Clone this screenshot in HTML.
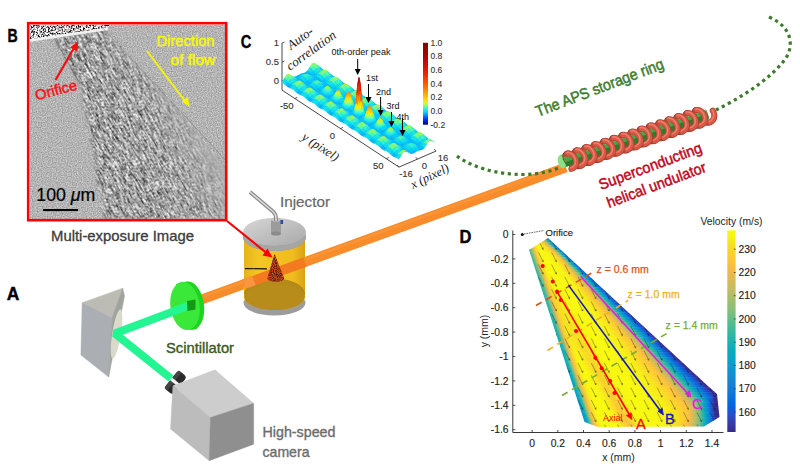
<!DOCTYPE html><html><head><meta charset="utf-8"><style>html,body{margin:0;padding:0;background:#fff;width:800px;height:470px;overflow:hidden}svg{display:block}</style></head><body>
<svg width="800" height="470" viewBox="0 0 800 470" font-family="&quot;Liberation Sans&quot;, sans-serif">
<rect width="800" height="470" fill="#fff"/>
<defs>
<filter id="gBg" color-interpolation-filters="sRGB" x="0" y="0" width="1" height="1">
<feTurbulence type="fractalNoise" baseFrequency="0.8" numOctaves="1" seed="4" result="t"/>
<feColorMatrix in="t" type="matrix" values="0.45 0 0 0 0.48  0.45 0 0 0 0.48  0.45 0 0 0 0.48  0 0 0 0 1" result="c"/>
<feComposite in="c" in2="SourceGraphic" operator="in"/>
</filter>
<filter id="gJet" color-interpolation-filters="sRGB" x="0" y="0" width="1" height="1">
<feTurbulence type="fractalNoise" baseFrequency="0.55 0.1" numOctaves="2" seed="9" result="t"/>
<feTurbulence type="fractalNoise" baseFrequency="0.5" numOctaves="2" seed="3" result="t2"/>
<feComposite in="t" in2="t2" operator="arithmetic" k1="0" k2="0.5" k3="0.5" k4="0" result="m"/>
<feColorMatrix in="m" type="matrix" values="2.1 0 0 0 -0.42  2.1 0 0 0 -0.42  2.1 0 0 0 -0.42  0 0 0 0 1" result="c"/>
<feComposite in="c" in2="SourceGraphic" operator="in"/>
</filter>
<linearGradient id="jetfade" gradientUnits="userSpaceOnUse" x1="110" y1="128" x2="200" y2="86"><stop offset="0" stop-color="#b2b2b2" stop-opacity="0"/><stop offset="0.45" stop-color="#b2b2b2" stop-opacity="0.2"/><stop offset="0.8" stop-color="#b2b2b2" stop-opacity="0.75"/><stop offset="1" stop-color="#b2b2b2" stop-opacity="0.9"/></linearGradient>
<linearGradient id="jetfadeL" gradientUnits="userSpaceOnUse" x1="70" y1="130" x2="112" y2="110"><stop offset="0" stop-color="#707070" stop-opacity="0.0"/><stop offset="1" stop-color="#707070" stop-opacity="0.0"/></linearGradient>
<filter id="gNoz" color-interpolation-filters="sRGB" x="0" y="0" width="1" height="1">
<feTurbulence type="fractalNoise" baseFrequency="0.6" numOctaves="2" seed="2" result="t"/>
<feColorMatrix in="t" type="matrix" values="3.4 0 0 0 -1.0  3.4 0 0 0 -1.0  3.4 0 0 0 -1.0  0 0 0 0 1" result="c"/>
<feComposite in="c" in2="SourceGraphic" operator="in"/>
</filter>
<filter id="blur1" color-interpolation-filters="sRGB"><feGaussianBlur stdDeviation="0.6"/></filter>
<filter id="blur2" color-interpolation-filters="sRGB"><feGaussianBlur stdDeviation="1.5"/></filter>
<clipPath id="photoclip"><rect x="30" y="25" width="195" height="194"/></clipPath>
<marker id="arrR" markerWidth="6" markerHeight="6" refX="5" refY="3" orient="auto" markerUnits="userSpaceOnUse"><path d="M0,0 L6,3 L0,6 z" fill="#f00"/></marker>
</defs>
<text x="7.6" y="41.7" font-size="17.8" font-weight="bold" fill="#000" stroke="#000" stroke-width="0.4" textLength="10.2" lengthAdjust="spacingAndGlyphs">B</text>
<g clip-path="url(#photoclip)">
<rect x="30" y="25" width="195" height="194" fill="#b0b0b0" filter="url(#gBg)"/>
<filter id="mblur" color-interpolation-filters="sRGB" x="-10%" y="-10%" width="120%" height="120%"><feGaussianBlur stdDeviation="2.2"/></filter><mask id="jetmask" maskUnits="userSpaceOnUse" x="0" y="0" width="260" height="260"><path d="M54.6,38.5 L103,29 C140,68 190,122 225,168 L225,219 L104.5,219 C95,170 88,125 80,84 Z" fill="#fff" filter="url(#mblur)"/></mask><g mask="url(#jetmask)"><g transform="rotate(-30 120 120)"><rect x="-20" y="-40" width="290" height="320" fill="#000" filter="url(#gJet)"/></g></g>
<path d="M54.6,38.5 L103,29 C140,68 190,122 225,168 L225,219 L104.5,219 C95,170 88,125 80,84 Z" fill="url(#jetfade)"/>
<path d="M30,25 L112,25 L105,28.5 L30,39.5 Z" fill="#000" filter="url(#gNoz)"/>
<path d="M30,40.5 L108,28.8" stroke="#f2f2f2" stroke-width="2.6"/>
<path d="M54.6,38.5 L80,84" stroke="#555" stroke-width="1.2" fill="none" opacity="0.5"/>
<path d="M102,27 C140,70 190,120 225,160" stroke="#777" stroke-width="0.8" fill="none" opacity="0.6"/>
</g>
<rect x="28.2" y="23.2" width="198" height="197" fill="none" stroke="#f00" stroke-width="2.6"/>
<text x="156.5" y="45.7" font-size="14" fill="#f8f800" stroke="#f8f800" stroke-width="0.45" textLength="58" lengthAdjust="spacingAndGlyphs">Direction</text>
<text x="170.6" y="65.4" font-size="14" fill="#f8f800" stroke="#f8f800" stroke-width="0.45" textLength="44.5" lengthAdjust="spacingAndGlyphs">of flow</text>
<path d="M147,51 L185,101" stroke="#f5f500" stroke-width="2"/><path d="M190,107 L181.5,101.5 L187.5,97 Z" fill="#f5f500"/>
<text x="0" y="0" font-size="14.5" fill="#f41414" stroke="#f41414" stroke-width="0.45" textLength="43" lengthAdjust="spacingAndGlyphs" transform="translate(36.5,100.5) rotate(-15)">Orifice</text>
<path d="M55.5,80 L74,48" stroke="#f01010" stroke-width="2.2"/><path d="M78,41.5 L77.5,51.5 L70,47.5 Z" fill="#f01010"/>
<text x="36.3" y="201.4" font-size="18" fill="#000" stroke="#000" stroke-width="0.2" textLength="59" lengthAdjust="spacingAndGlyphs">100 <tspan font-style="italic">μ</tspan>m</text>
<rect x="43.1" y="209" width="35" height="2.1" fill="#000"/>
<text x="51" y="241" font-size="14.3" fill="#3c3c3c" stroke="#3c3c3c" stroke-width="0.3" textLength="143" lengthAdjust="spacingAndGlyphs">Multi-exposure Image</text>
<text x="6.8" y="300.4" font-size="18" font-weight="bold" fill="#000" stroke="#000" stroke-width="0.4" textLength="12.6" lengthAdjust="spacingAndGlyphs">A</text>
<path d="M716,110 C740,98 770,80 786,58 C794,45 792,27 769,17" fill="none" stroke="#3d7a2c" stroke-width="3.2" stroke-dasharray="3.2,3.6"/>
<text x="0" y="0" font-size="15.5" fill="#3f7c2e" stroke="#3f7c2e" stroke-width="0.5" textLength="136" lengthAdjust="spacingAndGlyphs" transform="translate(538,117) rotate(-21)">The APS storage ring</text>
<path d="M193,302.6 L566,167.4" stroke="#f98c2a" stroke-width="9.8" stroke-linecap="butt"/>
<path d="M193,300.2 L566,165" stroke="#fc9c40" stroke-width="2.5" opacity="0.5"/>
<path d="M457,156 C470,166 495,175 526,174.5 C540,174 552,171 561,167" fill="none" stroke="#3d7a2c" stroke-width="3.2" stroke-dasharray="3.2,3.6"/>
<path d="M561.5,161.5 L569,159" stroke="#6cd066" stroke-width="13" stroke-linecap="butt"/>
<ellipse cx="561.5" cy="162" rx="3.5" ry="6.5" transform="rotate(-18 561.5 162)" fill="#8ee088"/>
<path d="M567.2,153.5L566.1,154.1L565.4,155.2L565.3,156.6L565.6,158.3L566.4,160L567.8,161.7L569.5,163.3L571.6,164.7L573.9,165.7L576.2,166.2L578.5,166.3L580.7,165.8M576.4,150.4L575.3,151L574.7,152.1L574.5,153.5L574.8,155.2L575.6,156.9L577,158.6L578.7,160.2L580.8,161.6L583.1,162.6L585.4,163.1L587.8,163.2L589.9,162.7M585.6,147.3L584.5,147.9L583.9,149L583.7,150.4L584,152L584.9,153.8L586.2,155.5L587.9,157.1L590,158.5L592.3,159.5L594.7,160L597,160.1L599.1,159.6M594.8,144.2L593.7,144.8L593.1,145.9L592.9,147.3L593.2,148.9L594.1,150.7L595.4,152.4L597.1,154L599.2,155.4L601.5,156.3L603.9,156.9L606.2,157L608.3,156.5M604,141.1L603,141.7L602.3,142.8L602.1,144.2L602.4,145.8L603.3,147.6L604.6,149.3L606.4,150.9L608.4,152.3L610.7,153.2L613.1,153.8L615.4,153.8L617.5,153.4M613.2,138L612.2,138.6L611.5,139.7L611.3,141.1L611.7,142.7L612.5,144.5L613.8,146.2L615.6,147.8L617.6,149.2L619.9,150.1L622.3,150.7L624.6,150.7L626.7,150.3M622.5,134.9L621.4,135.5L620.7,136.6L620.6,138L620.9,139.6L621.7,141.4L623,143.1L624.8,144.7L626.9,146.1L629.1,147L631.5,147.6L633.8,147.6L636,147.2M631.7,131.8L630.6,132.4L630,133.5L629.8,134.9L630.1,136.5L630.9,138.3L632.3,140L634,141.6L636.1,142.9L638.4,143.9L640.7,144.5L643,144.5L645.2,144.1M640.9,128.7L639.8,129.3L639.2,130.4L639,131.8L639.3,133.4L640.2,135.2L641.5,136.9L643.2,138.5L645.3,139.8L647.6,140.8L649.9,141.4L652.3,141.4L654.4,141M650.1,125.6L649,126.2L648.4,127.3L648.2,128.7L648.5,130.3L649.4,132.1L650.7,133.8L652.4,135.4L654.5,136.7L656.8,137.7L659.2,138.3L661.5,138.3L663.6,137.9M659.3,122.5L658.3,123.1L657.6,124.2L657.4,125.6L657.7,127.2L658.6,129L659.9,130.7L661.7,132.3L663.7,133.6L666,134.6L668.4,135.2L670.7,135.2L672.8,134.8M668.5,119.4L667.5,120L666.8,121.1L666.6,122.5L667,124.1L667.8,125.9L669.1,127.6L670.9,129.2L672.9,130.5L675.2,131.5L677.6,132.1L679.9,132.1L682,131.7M677.7,116.2L676.7,116.9L676,118L675.8,119.4L676.2,121L677,122.8L678.3,124.5L680.1,126.1L682.2,127.4L684.4,128.4L686.8,128.9L689.1,129L691.3,128.6M687,113.1L685.9,113.8L685.2,114.9L685.1,116.3L685.4,117.9L686.2,119.6L687.6,121.4L689.3,123L691.4,124.3L693.7,125.3L696,125.8L698.3,125.9L700.5,125.5M696.2,110L695.1,110.7L694.5,111.7L694.3,113.2L694.6,114.8L695.4,116.5L696.8,118.3L698.5,119.9L700.6,121.2L702.9,122.2L705.2,122.7L707.6,122.8L709.7,122.4" fill="none" stroke="#8a3022" stroke-width="5.8" stroke-linecap="round"/>
<path d="M567.2,153.5L566.1,154.1L565.4,155.2L565.3,156.6L565.6,158.3L566.4,160L567.8,161.7L569.5,163.3L571.6,164.7L573.9,165.7L576.2,166.2L578.5,166.3L580.7,165.8M576.4,150.4L575.3,151L574.7,152.1L574.5,153.5L574.8,155.2L575.6,156.9L577,158.6L578.7,160.2L580.8,161.6L583.1,162.6L585.4,163.1L587.8,163.2L589.9,162.7M585.6,147.3L584.5,147.9L583.9,149L583.7,150.4L584,152L584.9,153.8L586.2,155.5L587.9,157.1L590,158.5L592.3,159.5L594.7,160L597,160.1L599.1,159.6M594.8,144.2L593.7,144.8L593.1,145.9L592.9,147.3L593.2,148.9L594.1,150.7L595.4,152.4L597.1,154L599.2,155.4L601.5,156.3L603.9,156.9L606.2,157L608.3,156.5M604,141.1L603,141.7L602.3,142.8L602.1,144.2L602.4,145.8L603.3,147.6L604.6,149.3L606.4,150.9L608.4,152.3L610.7,153.2L613.1,153.8L615.4,153.8L617.5,153.4M613.2,138L612.2,138.6L611.5,139.7L611.3,141.1L611.7,142.7L612.5,144.5L613.8,146.2L615.6,147.8L617.6,149.2L619.9,150.1L622.3,150.7L624.6,150.7L626.7,150.3M622.5,134.9L621.4,135.5L620.7,136.6L620.6,138L620.9,139.6L621.7,141.4L623,143.1L624.8,144.7L626.9,146.1L629.1,147L631.5,147.6L633.8,147.6L636,147.2M631.7,131.8L630.6,132.4L630,133.5L629.8,134.9L630.1,136.5L630.9,138.3L632.3,140L634,141.6L636.1,142.9L638.4,143.9L640.7,144.5L643,144.5L645.2,144.1M640.9,128.7L639.8,129.3L639.2,130.4L639,131.8L639.3,133.4L640.2,135.2L641.5,136.9L643.2,138.5L645.3,139.8L647.6,140.8L649.9,141.4L652.3,141.4L654.4,141M650.1,125.6L649,126.2L648.4,127.3L648.2,128.7L648.5,130.3L649.4,132.1L650.7,133.8L652.4,135.4L654.5,136.7L656.8,137.7L659.2,138.3L661.5,138.3L663.6,137.9M659.3,122.5L658.3,123.1L657.6,124.2L657.4,125.6L657.7,127.2L658.6,129L659.9,130.7L661.7,132.3L663.7,133.6L666,134.6L668.4,135.2L670.7,135.2L672.8,134.8M668.5,119.4L667.5,120L666.8,121.1L666.6,122.5L667,124.1L667.8,125.9L669.1,127.6L670.9,129.2L672.9,130.5L675.2,131.5L677.6,132.1L679.9,132.1L682,131.7M677.7,116.2L676.7,116.9L676,118L675.8,119.4L676.2,121L677,122.8L678.3,124.5L680.1,126.1L682.2,127.4L684.4,128.4L686.8,128.9L689.1,129L691.3,128.6M687,113.1L685.9,113.8L685.2,114.9L685.1,116.3L685.4,117.9L686.2,119.6L687.6,121.4L689.3,123L691.4,124.3L693.7,125.3L696,125.8L698.3,125.9L700.5,125.5M696.2,110L695.1,110.7L694.5,111.7L694.3,113.2L694.6,114.8L695.4,116.5L696.8,118.3L698.5,119.9L700.6,121.2L702.9,122.2L705.2,122.7L707.6,122.8L709.7,122.4" fill="none" stroke="#c04c3a" stroke-width="4.3" stroke-linecap="round"/>
<path d="M565.1,162.6 L708,114.5" stroke="#2f7a2c" stroke-width="8.5" stroke-linecap="butt"/>
<path d="M564.1,159.8 L707,111.7" stroke="#5cc05a" stroke-width="5" opacity="0.6"/>
<path d="M571.4,168.9L573.3,168L574.7,166.7L575.7,165.1L576.1,163.2L576,161.1L575.5,159.1L574.5,157.3L573.2,155.7L571.7,154.5L570.1,153.7L568.5,153.3L567.2,153.5M580.7,165.8L582.5,164.9L583.9,163.6L584.9,161.9L585.3,160.1L585.2,158L584.7,156L583.7,154.2L582.4,152.6L580.9,151.4L579.3,150.6L577.7,150.2L576.4,150.4M589.9,162.7L591.7,161.8L593.1,160.5L594.1,158.8L594.5,156.9L594.5,154.9L593.9,152.9L592.9,151.1L591.6,149.5L590.1,148.2L588.5,147.4L587,147.1L585.6,147.3M599.1,159.6L600.9,158.7L602.3,157.4L603.3,155.7L603.7,153.8L603.7,151.8L603.1,149.8L602.1,148L600.8,146.4L599.3,145.1L597.7,144.3L596.2,144L594.8,144.2M608.3,156.5L610.1,155.6L611.6,154.3L612.5,152.6L613,150.7L612.9,148.7L612.3,146.7L611.3,144.9L610,143.3L608.5,142L606.9,141.2L605.4,140.9L604,141.1M617.5,153.4L619.4,152.5L620.8,151.2L621.7,149.5L622.2,147.6L622.1,145.6L621.5,143.6L620.6,141.8L619.3,140.2L617.7,138.9L616.1,138.1L614.6,137.8L613.2,138M626.7,150.3L628.6,149.4L630,148.1L630.9,146.4L631.4,144.5L631.3,142.5L630.8,140.5L629.8,138.7L628.5,137.1L627,135.8L625.4,135L623.8,134.7L622.5,134.9M636,147.2L637.8,146.3L639.2,145L640.2,143.3L640.6,141.4L640.5,139.4L640,137.4L639,135.6L637.7,134L636.2,132.7L634.6,131.9L633,131.6L631.7,131.8M645.2,144.1L647,143.2L648.4,141.9L649.4,140.2L649.8,138.3L649.7,136.3L649.2,134.3L648.2,132.5L646.9,130.9L645.4,129.6L643.8,128.8L642.2,128.5L640.9,128.7M654.4,141L656.2,140.1L657.6,138.8L658.6,137.1L659,135.2L659,133.2L658.4,131.2L657.4,129.4L656.1,127.8L654.6,126.5L653,125.7L651.5,125.4L650.1,125.6M663.6,137.9L665.4,137L666.9,135.7L667.8,134L668.3,132.1L668.2,130.1L667.6,128.1L666.6,126.2L665.3,124.7L663.8,123.4L662.2,122.6L660.7,122.3L659.3,122.5M672.8,134.8L674.6,133.9L676.1,132.6L677,130.9L677.5,129L677.4,127L676.8,125L675.9,123.1L674.6,121.5L673,120.3L671.4,119.5L669.9,119.2L668.5,119.4M682,131.7L683.9,130.8L685.3,129.5L686.2,127.8L686.7,125.9L686.6,123.9L686.1,121.9L685.1,120L683.8,118.4L682.3,117.2L680.7,116.4L679.1,116.1L677.7,116.2M691.3,128.6L693.1,127.7L694.5,126.4L695.5,124.7L695.9,122.8L695.8,120.8L695.3,118.8L694.3,116.9L693,115.3L691.5,114.1L689.9,113.3L688.3,113L687,113.1M700.5,125.5L702.3,124.6L703.7,123.3L704.7,121.6L705.1,119.7L705,117.7L704.5,115.7L703.5,113.8L702.2,112.2L700.7,111L699.1,110.2L697.5,109.9L696.2,110M709.7,122.4L711.5,121.5L712.9,120.1L713.9,118.5L714.3,116.6L714.3,114.6L713.7,112.6L712.7,110.7" fill="none" stroke="#b04232" stroke-width="6.0" stroke-linecap="round"/>
<path d="M571.4,168.9L573.3,168L574.7,166.7L575.7,165.1L576.1,163.2L576,161.1L575.5,159.1L574.5,157.3L573.2,155.7L571.7,154.5L570.1,153.7L568.5,153.3L567.2,153.5M580.7,165.8L582.5,164.9L583.9,163.6L584.9,161.9L585.3,160.1L585.2,158L584.7,156L583.7,154.2L582.4,152.6L580.9,151.4L579.3,150.6L577.7,150.2L576.4,150.4M589.9,162.7L591.7,161.8L593.1,160.5L594.1,158.8L594.5,156.9L594.5,154.9L593.9,152.9L592.9,151.1L591.6,149.5L590.1,148.2L588.5,147.4L587,147.1L585.6,147.3M599.1,159.6L600.9,158.7L602.3,157.4L603.3,155.7L603.7,153.8L603.7,151.8L603.1,149.8L602.1,148L600.8,146.4L599.3,145.1L597.7,144.3L596.2,144L594.8,144.2M608.3,156.5L610.1,155.6L611.6,154.3L612.5,152.6L613,150.7L612.9,148.7L612.3,146.7L611.3,144.9L610,143.3L608.5,142L606.9,141.2L605.4,140.9L604,141.1M617.5,153.4L619.4,152.5L620.8,151.2L621.7,149.5L622.2,147.6L622.1,145.6L621.5,143.6L620.6,141.8L619.3,140.2L617.7,138.9L616.1,138.1L614.6,137.8L613.2,138M626.7,150.3L628.6,149.4L630,148.1L630.9,146.4L631.4,144.5L631.3,142.5L630.8,140.5L629.8,138.7L628.5,137.1L627,135.8L625.4,135L623.8,134.7L622.5,134.9M636,147.2L637.8,146.3L639.2,145L640.2,143.3L640.6,141.4L640.5,139.4L640,137.4L639,135.6L637.7,134L636.2,132.7L634.6,131.9L633,131.6L631.7,131.8M645.2,144.1L647,143.2L648.4,141.9L649.4,140.2L649.8,138.3L649.7,136.3L649.2,134.3L648.2,132.5L646.9,130.9L645.4,129.6L643.8,128.8L642.2,128.5L640.9,128.7M654.4,141L656.2,140.1L657.6,138.8L658.6,137.1L659,135.2L659,133.2L658.4,131.2L657.4,129.4L656.1,127.8L654.6,126.5L653,125.7L651.5,125.4L650.1,125.6M663.6,137.9L665.4,137L666.9,135.7L667.8,134L668.3,132.1L668.2,130.1L667.6,128.1L666.6,126.2L665.3,124.7L663.8,123.4L662.2,122.6L660.7,122.3L659.3,122.5M672.8,134.8L674.6,133.9L676.1,132.6L677,130.9L677.5,129L677.4,127L676.8,125L675.9,123.1L674.6,121.5L673,120.3L671.4,119.5L669.9,119.2L668.5,119.4M682,131.7L683.9,130.8L685.3,129.5L686.2,127.8L686.7,125.9L686.6,123.9L686.1,121.9L685.1,120L683.8,118.4L682.3,117.2L680.7,116.4L679.1,116.1L677.7,116.2M691.3,128.6L693.1,127.7L694.5,126.4L695.5,124.7L695.9,122.8L695.8,120.8L695.3,118.8L694.3,116.9L693,115.3L691.5,114.1L689.9,113.3L688.3,113L687,113.1M700.5,125.5L702.3,124.6L703.7,123.3L704.7,121.6L705.1,119.7L705,117.7L704.5,115.7L703.5,113.8L702.2,112.2L700.7,111L699.1,110.2L697.5,109.9L696.2,110M709.7,122.4L711.5,121.5L712.9,120.1L713.9,118.5L714.3,116.6L714.3,114.6L713.7,112.6L712.7,110.7" fill="none" stroke="#d85a46" stroke-width="4.5" stroke-linecap="round"/>
<path d="M571.4,168.9L573.3,168L574.7,166.7L575.7,165.1L576.1,163.2L576,161.1L575.5,159.1L574.5,157.3L573.2,155.7L571.7,154.5L570.1,153.7L568.5,153.3L567.2,153.5M580.7,165.8L582.5,164.9L583.9,163.6L584.9,161.9L585.3,160.1L585.2,158L584.7,156L583.7,154.2L582.4,152.6L580.9,151.4L579.3,150.6L577.7,150.2L576.4,150.4M589.9,162.7L591.7,161.8L593.1,160.5L594.1,158.8L594.5,156.9L594.5,154.9L593.9,152.9L592.9,151.1L591.6,149.5L590.1,148.2L588.5,147.4L587,147.1L585.6,147.3M599.1,159.6L600.9,158.7L602.3,157.4L603.3,155.7L603.7,153.8L603.7,151.8L603.1,149.8L602.1,148L600.8,146.4L599.3,145.1L597.7,144.3L596.2,144L594.8,144.2M608.3,156.5L610.1,155.6L611.6,154.3L612.5,152.6L613,150.7L612.9,148.7L612.3,146.7L611.3,144.9L610,143.3L608.5,142L606.9,141.2L605.4,140.9L604,141.1M617.5,153.4L619.4,152.5L620.8,151.2L621.7,149.5L622.2,147.6L622.1,145.6L621.5,143.6L620.6,141.8L619.3,140.2L617.7,138.9L616.1,138.1L614.6,137.8L613.2,138M626.7,150.3L628.6,149.4L630,148.1L630.9,146.4L631.4,144.5L631.3,142.5L630.8,140.5L629.8,138.7L628.5,137.1L627,135.8L625.4,135L623.8,134.7L622.5,134.9M636,147.2L637.8,146.3L639.2,145L640.2,143.3L640.6,141.4L640.5,139.4L640,137.4L639,135.6L637.7,134L636.2,132.7L634.6,131.9L633,131.6L631.7,131.8M645.2,144.1L647,143.2L648.4,141.9L649.4,140.2L649.8,138.3L649.7,136.3L649.2,134.3L648.2,132.5L646.9,130.9L645.4,129.6L643.8,128.8L642.2,128.5L640.9,128.7M654.4,141L656.2,140.1L657.6,138.8L658.6,137.1L659,135.2L659,133.2L658.4,131.2L657.4,129.4L656.1,127.8L654.6,126.5L653,125.7L651.5,125.4L650.1,125.6M663.6,137.9L665.4,137L666.9,135.7L667.8,134L668.3,132.1L668.2,130.1L667.6,128.1L666.6,126.2L665.3,124.7L663.8,123.4L662.2,122.6L660.7,122.3L659.3,122.5M672.8,134.8L674.6,133.9L676.1,132.6L677,130.9L677.5,129L677.4,127L676.8,125L675.9,123.1L674.6,121.5L673,120.3L671.4,119.5L669.9,119.2L668.5,119.4M682,131.7L683.9,130.8L685.3,129.5L686.2,127.8L686.7,125.9L686.6,123.9L686.1,121.9L685.1,120L683.8,118.4L682.3,117.2L680.7,116.4L679.1,116.1L677.7,116.2M691.3,128.6L693.1,127.7L694.5,126.4L695.5,124.7L695.9,122.8L695.8,120.8L695.3,118.8L694.3,116.9L693,115.3L691.5,114.1L689.9,113.3L688.3,113L687,113.1M700.5,125.5L702.3,124.6L703.7,123.3L704.7,121.6L705.1,119.7L705,117.7L704.5,115.7L703.5,113.8L702.2,112.2L700.7,111L699.1,110.2L697.5,109.9L696.2,110M709.7,122.4L711.5,121.5L712.9,120.1L713.9,118.5L714.3,116.6L714.3,114.6L713.7,112.6L712.7,110.7" fill="none" stroke="#f29080" stroke-width="1.5" stroke-linecap="round" opacity="0.7" transform="translate(-0.6,-1.1)"/>
<text x="0" y="0" font-size="15" fill="#c0061c" stroke="#c0061c" stroke-width="0.45" textLength="109" lengthAdjust="spacingAndGlyphs" transform="translate(601,190) rotate(-20.5)">Superconducting</text>
<text x="0" y="0" font-size="15" fill="#c0061c" stroke="#c0061c" stroke-width="0.45" textLength="105" lengthAdjust="spacingAndGlyphs" transform="translate(609,208) rotate(-20.5)">helical undulator</text>
<text x="280" y="206.5" font-size="14.5" fill="#686868" stroke="#686868" stroke-width="0.2" textLength="50" lengthAdjust="spacingAndGlyphs">Injector</text>
<defs>
<linearGradient id="cylg" x1="0" x2="1" y1="0" y2="0"><stop offset="0" stop-color="#e6b41a"/><stop offset="0.25" stop-color="#f4c624"/><stop offset="0.8" stop-color="#f0bc1e"/><stop offset="1" stop-color="#d8a214"/></linearGradient>
<linearGradient id="lidg" x1="0" x2="1" y1="0" y2="1"><stop offset="0" stop-color="#d6d6d6"/><stop offset="1" stop-color="#a9a9a9"/></linearGradient>
<filter id="gCone" color-interpolation-filters="sRGB" x="0" y="0" width="1" height="1"><feTurbulence type="fractalNoise" baseFrequency="1.1" numOctaves="1" seed="5" result="t"/><feColorMatrix in="t" type="matrix" values="3 0 0 0 -0.9  1.2 0 0 0 -0.4  0.3 0 0 0 -0.1  0 0 0 0 1" result="c"/><feComposite in="c" in2="SourceGraphic" operator="in"/></filter>
<radialGradient id="coneg" cx="0.5" cy="0.6" r="0.6"><stop offset="0" stop-color="#c4501e"/><stop offset="1" stop-color="#8a3010"/></radialGradient>
</defs>
<ellipse cx="274.5" cy="303" rx="31.0" ry="12.5" fill="#9c9c9c"/>
<path d="M244,234 L244,297 A30.5,13 0 0 0 305,297 L305,234 Z" fill="url(#cylg)"/>
<path d="M244.5,294 A30,15 0 0 1 304.5,294 L304.5,297 A30,13 0 0 1 244.5,297 Z" fill="#b48a1a"/>
<ellipse cx="274.5" cy="297" rx="30" ry="13" fill="#b88c1a"/>
<path d="M244.5,294 A30,15 0 0 1 304.5,294" fill="none" stroke="#a87e14" stroke-width="0.8"/>
<path d="M244,284.2 L305,262.1" stroke="#f47a20" stroke-width="9.8"/>
<path d="M244,284.2 L254,280.6" stroke="#f99440" stroke-width="9.8"/>
<path d="M274.5,254 L267.3,278.5 A8.5,3.5 0 0 0 284.2,278.5 Z" fill="#983818"/>
<path d="M274.5,254 L267.3,278.5 A8.5,3.5 0 0 0 284.2,278.5 Z" fill="#000" filter="url(#gCone)" opacity="0.55"/>
<path d="M245,268.6 L267,268.9" stroke="#111" stroke-width="1.2"/>
<ellipse cx="274.5" cy="237" rx="31.5" ry="14" fill="#8e8e8e"/>
<ellipse cx="274.5" cy="232" rx="31.5" ry="14" fill="url(#lidg)"/>
<path d="M243,232 L243,237 A31.5,14 0 0 0 306,237 L306,232 A31.5,14 0 0 1 243,232 Z" fill="#a6a6a6"/>
<rect x="271" y="219.5" width="10" height="14" fill="#9c9c9c"/><ellipse cx="276" cy="233.5" rx="5" ry="2" fill="#8a8a8a"/><ellipse cx="276" cy="219.5" rx="5" ry="2" fill="#c4c4c4"/>
<rect x="280.5" y="220" width="2.6" height="4" fill="#2848b0"/>
<path d="M250,192 L273.5,212 Q276,214.5 276,218 L276,221" fill="none" stroke="#8c8c8c" stroke-width="4"/>
<path d="M250,192 L273.5,212 Q276,214.5 276,218 L276,221" fill="none" stroke="#d8d8d8" stroke-width="1.6"/>
<path d="M227,221 L266,252.5" stroke="#f00" stroke-width="2.2"/><path d="M272.5,257.5 L262.5,255.5 L267.5,248.5 Z" fill="#f00"/>
<text x="166" y="353" font-size="14" fill="#3a5a22" stroke="#3a5a22" stroke-width="0.35" textLength="68" lengthAdjust="spacingAndGlyphs">Scintillator</text>
<ellipse cx="190" cy="305.5" rx="14" ry="24.2" fill="#1ed41e" transform="rotate(-8 190 305.5)"/>
<path d="M176,284 L183,283 L197,329 L190,330 Z" fill="#1ed41e"/>
<ellipse cx="185" cy="306" rx="14.6" ry="24.2" fill="#3ae83a" transform="rotate(-8 185 306)"/>
<path d="M82.2,302.7 L122.7,288.2 L112,318 Z" fill="#bcbcb5" stroke="#bcbcb5" stroke-width="0.5"/>
<path d="M82.2,302.7 L112,318 L108.6,377 L80.9,355 Z" fill="#abaeb2" stroke="#abaeb2" stroke-width="0.5"/>
<path d="M122.7,288.2 L124.5,296 L108.6,377 L112,318 Z" fill="#a0a49e" stroke="#a0a49e" stroke-width="0.5"/>
<ellipse cx="116.5" cy="334" rx="4.3" ry="25" fill="#dadacb" transform="rotate(9 116.5 334)"/>
<path d="M190,305.2 L114.7,333.4 L171,378.5" fill="none" stroke="#22f592" stroke-width="8" stroke-linejoin="bevel"/>
<path d="M187,301 L195.5,299.5 L195.5,309.5 L187.5,311 Z" fill="#129a12"/>
<g transform="translate(175.5 382.5) rotate(-51)"><rect x="-11.5" y="-5.5" width="23" height="11" rx="3.5" fill="#2a2a2a"/><rect x="-11.5" y="-5.5" width="23" height="4" rx="2" fill="#444"/><rect x="-1.7" y="-5.9" width="3.4" height="11.8" fill="#f4f4f4"/></g>
<path d="M172.9,385.8 L215,369.8 L253.7,403.3 L210.4,417.4 Z" fill="#cdcdcd" stroke="#cdcdcd" stroke-width="0.4"/>
<path d="M172.9,385.8 L210.4,417.4 L209.2,460.7 L170.5,429 Z" fill="#bcbcbc" stroke="#bcbcbc" stroke-width="0.4"/>
<path d="M210.4,417.4 L253.7,403.3 L253.7,444.3 L209.2,460.7 Z" fill="#8f8f8f" stroke="#8f8f8f" stroke-width="0.4"/>
<text x="262.5" y="437" font-size="14.3" fill="#6c6c6c" stroke="#6c6c6c" stroke-width="0.35" textLength="73" lengthAdjust="spacingAndGlyphs">High-speed</text>
<text x="262.5" y="456.5" font-size="14.3" fill="#6c6c6c" stroke="#6c6c6c" stroke-width="0.35" textLength="47" lengthAdjust="spacingAndGlyphs">camera</text>
<text x="240.8" y="48.4" font-size="17.5" font-weight="bold" fill="#000" stroke="#000" stroke-width="0.4" textLength="10.6" lengthAdjust="spacingAndGlyphs">C</text>
<path d="M282,43 L282,90.1 L399,167.1 L436,151.1" fill="none" stroke="#333" stroke-width="0.9"/>
<path d="M282,43 l2.5,-1" stroke="#333" stroke-width="0.8"/>
<text x="279" y="46" font-size="9.5" fill="#333" stroke="#333" stroke-width="0.12" text-anchor="end">1</text>
<path d="M282,62 l2.5,-1" stroke="#333" stroke-width="0.8"/>
<text x="279" y="65" font-size="9.5" fill="#333" stroke="#333" stroke-width="0.12" text-anchor="end">0.5</text>
<path d="M282,81 l2.5,-1" stroke="#333" stroke-width="0.8"/>
<text x="279" y="84" font-size="9.5" fill="#333" stroke="#333" stroke-width="0.12" text-anchor="end">0</text>
<path d="M294.8,98.5 l2.5,-1.2" stroke="#333" stroke-width="0.8"/>
<text x="286.8" y="108.5" font-size="9.5" fill="#333" stroke="#333" stroke-width="0.12" text-anchor="middle">-50</text>
<path d="M340.5,128.6 l2.5,-1.2" stroke="#333" stroke-width="0.8"/>
<text x="332.5" y="138.6" font-size="9.5" fill="#333" stroke="#333" stroke-width="0.12" text-anchor="middle">0</text>
<path d="M386.2,158.7 l2.5,-1.2" stroke="#333" stroke-width="0.8"/>
<text x="378.2" y="168.7" font-size="9.5" fill="#333" stroke="#333" stroke-width="0.12" text-anchor="middle">50</text>
<path d="M399,167.1 l-1.8,-2" stroke="#333" stroke-width="0.8"/>
<text x="406" y="177.1" font-size="9.5" fill="#333" stroke="#333" stroke-width="0.12" text-anchor="middle">-16</text>
<path d="M417.5,159.1 l-1.8,-2" stroke="#333" stroke-width="0.8"/>
<text x="424.5" y="169.1" font-size="9.5" fill="#333" stroke="#333" stroke-width="0.12" text-anchor="middle">0</text>
<path d="M436,151.1 l-1.8,-2" stroke="#333" stroke-width="0.8"/>
<text x="443" y="161.1" font-size="9.5" fill="#333" stroke="#333" stroke-width="0.12" text-anchor="middle">16</text>
<g><path d="M316.3 64L319 66 321.2 67.5 318.5 65.7z" fill="#13d7de"/><path d="M314 62.5L316.7 64.3 318.9 66 316.2 64.3z" fill="#78f17a"/><path d="M318.1 65.4L320.9 67.2 323 69.3 320.3 68.4z" fill="#09d0ec"/><path d="M311.7 63.7L314.4 62.6 316.6 64.4 313.8 65.5z" fill="#b5f143"/><path d="M315.8 63.9L318.6 65.6 320.7 68.6 318 67.9z" fill="#46eeb1"/><path d="M320 68.1L322.7 68.9 324.9 70.8 322.1 70.7z" fill="#00b9f5"/><path d="M309.4 67.4L312.1 63.3 314.3 65.1 311.5 69.1z" fill="#7efa7d"/><path d="M313.5 65.1L316.2 63.9 318.4 67.9 315.7 69.1z" fill="#7dfa7f"/><path d="M317.7 67.4L320.4 68.1 322.5 70.8 319.8 70.7z" fill="#13dbe4"/><path d="M321.8 70.5L324.5 70.6 326.7 71.8 324 71.4z" fill="#00aef4"/><path d="M307.1 70.9L309.8 66.8 312 68.5 309.2 72.4z" fill="#17e2e4"/><path d="M311.2 68.7L313.9 64.7 316.1 68.7 313.4 71.7z" fill="#4af6b4"/><path d="M315.3 68.5L318.1 67.3 320.2 70.7 317.5 71.8z" fill="#21ead9"/><path d="M319.5 70.4L322.2 70.5 324.4 71.5 321.6 71.1z" fill="#0bd1e8"/><path d="M323.6 71.3L326.4 71.7 328.5 72.5 325.8 71.1z" fill="#00c5f1"/><path d="M304.8 72.6L307.5 70.4 309.6 71.9 306.9 74z" fill="#00bbf8"/><path d="M308.9 72.1L311.6 68.2 313.8 71.2 311.1 74z" fill="#0edaee"/><path d="M313 71.2L315.8 68.2 317.9 71.5 315.2 73.8z" fill="#15e1e7"/><path d="M317.2 71.5L319.9 70.3 322.1 71.1 319.3 72.2z" fill="#16dcdf"/><path d="M321.3 71.1L324 71.5 326.2 71.2 323.5 70z" fill="#20e0cf"/><path d="M302.4 73.2L305.2 72.4 307.3 73.7 304.6 74.4z" fill="#00b1f6"/><path d="M325.5 71L328.2 72.4 330.3 73.4 327.6 71.3z" fill="#10d3e0"/><path d="M306.6 73.7L309.3 71.7 311.5 73.6 308.7 74.7z" fill="#00baf7"/><path d="M310.7 73.6L313.5 70.8 315.6 73.4 312.9 75.4z" fill="#00cafa"/><path d="M314.9 73.5L317.6 71.2 319.7 72 317 74.5z" fill="#0cd6eb"/><path d="M319 72.3L321.7 71.1 323.9 69.9 321.2 71.1z" fill="#45e9ac"/><path d="M300.1 73.8L302.9 73 305 74.3 302.3 75z" fill="#00c1f5"/><path d="M323.1 70L325.9 71.3 328 71.6 325.3 69.7z" fill="#66eb89"/><path d="M304.3 74.3L307 73.6 309.2 74.5 306.4 74.3z" fill="#00c2f3"/><path d="M327.3 71.1L330 73.2 332.2 74.9 329.4 73.3z" fill="#12d7e0"/><path d="M308.4 74.5L311.1 73.4 313.3 75.1 310.6 75.5z" fill="#00baf6"/><path d="M312.6 75.1L315.3 73.2 317.4 74.2 314.7 76.4z" fill="#00c0f7"/><path d="M316.7 74.5L319.4 72 321.6 70.8 318.8 74.3z" fill="#22e7d3"/><path d="M297.8 75.2L300.5 73.7 302.7 74.8 300 76.5z" fill="#00c2f7"/><path d="M320.8 71.2L323.6 70 325.7 69.7 323 70.9z" fill="#9fef54"/><path d="M302 74.9L304.7 74.2 306.8 74.2 304.1 74.4z" fill="#0bd0e7"/><path d="M325 69.5L327.7 71.4 329.9 73.5 327.1 72.1z" fill="#73f180"/><path d="M306.1 74.2L308.8 74.5 311 75.5 308.3 74.3z" fill="#0cd1e6"/><path d="M329.1 72.9L331.8 74.5 334 76.6 331.3 76z" fill="#04cdf0"/><path d="M310.2 75.3L313 74.9 315.1 76.2 312.4 76.8z" fill="#00bbf5"/><path d="M314.4 76.3L317.1 74.1 319.3 73.9 316.5 77.3z" fill="#06cff2"/><path d="M295.5 76.6L298.2 75 300.4 76.2 297.7 77.9z" fill="#00b2f7"/><path d="M318.5 74.4L321.2 70.8 323.4 70.5 320.7 74.7z" fill="#6bf48c"/><path d="M299.6 76.4L302.4 74.8 304.5 74.3 301.8 76.4z" fill="#0bd2e9"/><path d="M322.7 70.7L325.4 69.6 327.5 72.1 324.8 73.3z" fill="#aff349"/><path d="M303.8 74.5L306.5 74.3 308.7 74.4 305.9 73.9z" fill="#28e6c9"/><path d="M326.8 71.6L329.5 73.1 331.7 76.2 329 75.7z" fill="#31ecc6"/><path d="M330.9 75.7L333.7 76.3 335.8 78.1 333.1 78z" fill="#00b3f5"/><path d="M307.9 74.2L310.7 75.3 312.8 76.9 310.1 76.1z" fill="#10d6e3"/><path d="M312.1 76.6L314.8 76 317 77 314.2 78.6z" fill="#00baf7"/><path d="M293.2 76.6L295.9 76.4 298.1 77.8 295.4 78.1z" fill="#00b9f5"/><path d="M316.2 77.2L318.9 73.8 321.1 74.1 318.4 78.3z" fill="#14dee5"/><path d="M297.3 77.8L300.1 76.1 302.2 76.1 299.5 78.7z" fill="#00c4f6"/><path d="M320.3 74.5L323.1 70.4 325.2 72.9 322.5 76.6z" fill="#79fa84"/><path d="M301.5 76.5L304.2 74.3 306.4 73.7 303.6 76.6z" fill="#29eacd"/><path d="M324.5 72.8L327.2 71.6 329.4 75.7 326.6 76.8z" fill="#62f699"/><path d="M328.6 75.2L331.4 75.7 333.5 78 330.8 78z" fill="#0ed6e8"/><path d="M305.6 73.8L308.3 74.3 310.5 76.2 307.8 76z" fill="#3eecb7"/><path d="M309.8 75.8L312.5 76.5 314.6 78.5 311.9 78.8z" fill="#05cef1"/><path d="M332.8 77.8L335.5 77.8 337.7 78.9 334.9 78.3z" fill="#00b1f3"/><path d="M290.9 75L293.6 76.7 295.8 78.2 293 76.7z" fill="#17dadb"/><path d="M313.9 78.3L316.6 76.7 318.8 77.8 316.1 80.1z" fill="#00bbf8"/><path d="M295 77.9L297.8 77.6 299.9 78.5 297.2 79.8z" fill="#00baf6"/><path d="M318 78.1L320.8 73.9 322.9 76 320.2 79.7z" fill="#16e2e5"/><path d="M299.2 78.6L301.9 76 304 76.1 301.3 79.6z" fill="#0cd6ec"/><path d="M322.2 76.2L324.9 72.4 327.1 76.5 324.3 79.3z" fill="#35f3c9"/><path d="M326.3 76.3L329 75.2 331.2 77.9 328.5 79.1z" fill="#1be3df"/><path d="M303.3 76.4L306 73.6 308.2 75.8 305.5 78.4z" fill="#3ff1bb"/><path d="M307.4 75.6L310.2 75.8 312.3 78.8 309.6 79.3z" fill="#19e2df"/><path d="M330.5 77.8L333.2 77.8 335.3 78.4 332.6 77.8z" fill="#0ed2e4"/><path d="M288.6 73.5L291.3 75.3 293.5 76.9 290.7 75.3z" fill="#7af178"/><path d="M311.6 78.4L314.3 78.2 316.5 79.9 313.7 80.7z" fill="#00b8f7"/><path d="M334.6 78.2L337.3 78.8 339.5 79.6 336.8 77.9z" fill="#04c9ec"/><path d="M292.7 76.4L295.4 77.9 297.6 79.8 294.9 79.4z" fill="#0dd4e8"/><path d="M315.7 79.9L318.5 77.6 320.6 79.2 317.9 81.1z" fill="#00bbf8"/><path d="M296.9 79.6L299.6 78.3 301.7 79.3 299 81.3z" fill="#00bcf7"/><path d="M319.9 79.4L322.6 75.7 324.7 78.8 322 81.3z" fill="#0ad7f2"/><path d="M324 78.8L326.7 76 328.9 78.8 326.2 81.1z" fill="#10dbeb"/><path d="M301 79.5L303.7 76 305.9 77.9 303.1 81z" fill="#11dcea"/><path d="M305.1 77.9L307.9 75.4 310 79.1 307.3 81z" fill="#1ae5e2"/><path d="M328.1 78.9L330.9 77.7 333 77.8 330.3 78.9z" fill="#1adeda"/><path d="M286.3 74.8L289 73.6 291.1 75.4 288.4 76.5z" fill="#b5f143"/><path d="M309.3 78.9L312 78.3 314.2 80.6 311.4 81.4z" fill="#01ccf7"/><path d="M332.3 77.9L335 78.4 337.2 78.1 334.4 76.6z" fill="#2fe4c0"/><path d="M290.4 74.9L293.1 76.5 295.3 79.5 292.6 78.9z" fill="#48efaf"/><path d="M313.4 80.5L316.1 79.7 318.3 80.9 315.6 81.3z" fill="#00b3f5"/><path d="M336.4 77.9L339.2 79.5 341.3 80.6 338.6 78.6z" fill="#12d5de"/><path d="M294.5 79L297.3 79.4 299.4 81.2 296.7 81.6z" fill="#00c7f6"/><path d="M317.6 80.9L320.3 79 322.4 80.9 319.7 81.8z" fill="#00baf7"/><path d="M321.7 80.9L324.4 78.4 326.6 80.7 323.8 82.6z" fill="#00c4f9"/><path d="M298.7 81.1L301.4 79.1 303.6 80.7 300.8 82.4z" fill="#00bcf8"/><path d="M302.8 80.7L305.5 77.6 307.7 80.6 305 82.7z" fill="#05d2f6"/><path d="M325.8 80.8L328.6 78.6 330.7 78.7 328 81.4z" fill="#0fd8e7"/><path d="M330 79L332.7 77.9 334.9 76.6 332.1 77.8z" fill="#5eec93"/><path d="M283.9 78.5L286.7 74.3 288.8 76.1 286.1 80.2z" fill="#7dfa7f"/><path d="M307 80.5L309.7 78.7 311.8 81.3 309.1 82.8z" fill="#01cdf8"/><path d="M288.1 76.1L290.8 74.9 293 78.9 290.2 80.1z" fill="#7dfa7f"/><path d="M311.1 81.2L313.8 80.4 316 81.2 313.3 81.9z" fill="#00c4f5"/><path d="M334.1 76.7L336.8 78.1 339 78.8 336.3 77z" fill="#71ee7f"/><path d="M292.2 78.4L295 79 297.1 81.6 294.4 81.7z" fill="#14dce3"/><path d="M315.2 81.2L318 80.8 320.1 81.7 317.4 81z" fill="#02c8f0"/><path d="M338.3 78.3L341 80.4 343.1 82.2 340.4 80.9z" fill="#10d5e3"/><path d="M319.4 81.5L322.1 80.7 324.3 82.4 321.5 82.6z" fill="#00bbf5"/><path d="M296.4 81.4L299.1 80.9 301.3 82.2 298.5 82.4z" fill="#00bdf5"/><path d="M300.5 82.2L303.2 80.4 305.4 82.4 302.7 83.1z" fill="#00bbf7"/><path d="M323.5 82.4L326.2 80.5 328.4 81.1 325.7 83.5z" fill="#00c3f7"/><path d="M327.7 81.5L330.4 78.7 332.5 77.5 329.8 81.2z" fill="#33ebc3"/><path d="M281.6 82.2L284.4 77.9 286.5 79.5 283.8 83.7z" fill="#14e0e7"/><path d="M304.6 82.3L307.4 80.2 309.5 82.5 306.8 84.1z" fill="#00baf9"/><path d="M285.8 79.8L288.5 75.7 290.7 79.7 287.9 82.8z" fill="#48f6b6"/><path d="M308.8 82.6L311.5 81 313.7 81.7 310.9 83.4z" fill="#00c5f6"/><path d="M331.8 77.9L334.5 76.7 336.7 77 334 78.2z" fill="#acef48"/><path d="M289.9 79.5L292.6 78.3 294.8 81.6 292.1 82.8z" fill="#21ead9"/><path d="M312.9 81.9L315.7 81.2 317.8 81 315.1 80.8z" fill="#14d7dd"/><path d="M335.9 76.7L338.7 78.6 340.8 81.1 338.1 79.9z" fill="#68f18c"/><path d="M317.1 80.9L319.8 81.6 322 82.7 319.2 81.2z" fill="#11d4e1"/><path d="M340.1 80.5L342.8 81.9 345 84 342.2 83.6z" fill="#00c9f5"/><path d="M294.1 81.4L296.8 81.3 298.9 82.3 296.2 82.1z" fill="#0cd2e7"/><path d="M298.2 82.2L300.9 82.1 303.1 83.1 300.4 82z" fill="#05cbec"/><path d="M321.2 82.4L323.9 82.2 326.1 83.3 323.4 84.2z" fill="#00bbf6"/><path d="M325.3 83.5L328.1 81 330.2 80.7 327.5 84.4z" fill="#09d3ee"/><path d="M302.3 82.9L305.1 82.2 307.2 83.9 304.5 84z" fill="#00b9f5"/><path d="M283.5 83.4L286.2 79.2 288.3 82.3 285.6 85.5z" fill="#09d7f3"/><path d="M306.5 83.8L309.2 82.3 311.4 83.2 308.6 85.1z" fill="#00b4f7"/><path d="M329.5 81.2L332.2 77.5 334.4 77.8 331.6 82z" fill="#77f782"/><path d="M287.6 82.3L290.3 79.2 292.5 82.5 289.8 85z" fill="#14e0e8"/><path d="M310.6 83.4L313.3 81.7 315.5 80.6 312.8 83.1z" fill="#14dadf"/><path d="M333.6 77.9L336.4 76.7 338.5 79.9 335.8 81.1z" fill="#a4f656"/><path d="M314.8 80.8L317.5 81 319.6 81.3 316.9 80.4z" fill="#46e9aa"/><path d="M337.8 79.4L340.5 80.6 342.7 83.7 339.9 83.4z" fill="#21e8d6"/><path d="M291.7 82.5L294.5 81.3 296.6 82.1 293.9 83.3z" fill="#16dcdf"/><path d="M295.9 82.1L298.6 82.3 300.8 82.1 298 81z" fill="#21e1ce"/><path d="M318.9 81L321.6 82.5 323.8 84.2 321.1 83.5z" fill="#11d7e3"/><path d="M341.9 83.3L344.6 83.6 346.8 85.2 344.1 85.1z" fill="#00aff5"/><path d="M323 83.9L325.8 83.1 327.9 84.1 325.2 85.9z" fill="#00bbf7"/><path d="M300 82L302.8 83 304.9 84.1 302.2 82.3z" fill="#13d6dd"/><path d="M304.2 83.8L306.9 83.7 309 84.9 306.3 85.4z" fill="#00b9f5"/><path d="M327.2 84.3L329.9 80.6 332.1 81.4 329.3 85.5z" fill="#16e0e4"/><path d="M285.3 85.1L288 81.9 290.2 84.5 287.4 87z" fill="#00bdfb"/><path d="M308.3 85L311 83.1 313.2 82.8 310.5 85.8z" fill="#02ccf4"/><path d="M331.3 81.7L334 77.5 336.2 80.7 333.5 84.2z" fill="#6efa8f"/><path d="M312.4 83.2L315.2 80.6 317.3 80.2 314.6 83.5z" fill="#48eeae"/><path d="M335.5 80.5L338.2 79.4 340.3 83.4 337.6 84.5z" fill="#48f3b4"/><path d="M289.4 84.7L292.2 82.2 294.3 83 291.6 85.6z" fill="#0bd5ed"/><path d="M293.6 83.3L296.3 82.1 298.5 80.9 295.7 82.1z" fill="#45e9ac"/><path d="M316.6 80.2L319.3 81.1 321.5 83.7 318.7 83.4z" fill="#48efae"/><path d="M339.6 83L342.3 83.3 344.5 85.2 341.8 85.1z" fill="#0bd3ea"/><path d="M320.7 83.2L323.5 83.8 325.6 85.8 322.9 86.3z" fill="#02ccf5"/><path d="M343.7 84.9L346.5 85.1 348.6 86 345.9 85.1z" fill="#00b6f2"/><path d="M297.7 81L300.4 82.2 302.6 82.5 299.9 80.7z" fill="#68ec88"/><path d="M301.9 82.1L304.6 83.9 306.7 85.5 304 84.2z" fill="#16dadd"/><path d="M324.9 85.7L327.6 83.8 329.7 85.1 327 87.3z" fill="#00bbf8"/><path d="M306 85.2L308.7 84.7 310.9 85.6 308.1 87.1z" fill="#00baf6"/><path d="M329 85.3L331.7 81.1 333.9 83.6 331.2 87z" fill="#14e0e8"/><path d="M310.1 85.8L312.9 82.7 315 83 312.3 86.9z" fill="#11dbe7"/><path d="M333.1 83.7L335.9 80.2 338 84.2 335.3 86.8z" fill="#23eeda"/><path d="M287.1 86.8L289.8 84.3 292 85.3 289.3 88z" fill="#00b1f8"/><path d="M291.3 85.6L294 83 296.1 81.8 293.4 85.4z" fill="#21e6d4"/><path d="M314.3 83.3L317 80 319.2 83.3 316.4 85.8z" fill="#4af4b2"/><path d="M337.3 84.1L340 82.9 342.2 85 339.4 86.2z" fill="#17dfe1"/><path d="M318.4 83L321.1 83.2 323.3 86.3 320.6 86.9z" fill="#15dee4"/><path d="M341.4 84.9L344.2 85 346.3 85.2 343.6 84.5z" fill="#13d6de"/><path d="M295.4 82.2L298.1 81 300.3 80.7 297.6 81.9z" fill="#9fef54"/><path d="M299.5 80.5L302.3 82.3 304.4 84.5 301.7 83z" fill="#75f17f"/><path d="M322.6 85.9L325.3 85.5 327.4 87.1 324.7 87.9z" fill="#00b4f6"/><path d="M345.6 85.1L348.3 85.9 350.4 86.7 347.7 84.9z" fill="#09cce7"/><path d="M303.7 83.9L306.4 85.2 308.6 87.1 305.8 87z" fill="#09d1ec"/><path d="M326.7 87.1L329.4 84.8 331.6 86.6 328.8 88.2z" fill="#00bbf8"/><path d="M307.8 86.9L310.5 85.4 312.7 86.5 310 88.5z" fill="#00bcf8"/><path d="M330.8 86.7L333.6 83.3 335.7 86.3 333 88.5z" fill="#06d3f5"/><path d="M288.9 87.9L291.7 85.1 293.8 84.9 291.1 88.6z" fill="#00cbf7"/><path d="M312 86.6L314.7 82.8 316.8 85.3 314.1 88.4z" fill="#11ddea"/><path d="M335 86.3L337.7 83.8 339.9 85.9 337.1 88.2z" fill="#0cd8ed"/><path d="M316.1 85.3L318.8 82.8 321 86.7 318.3 88.4z" fill="#15e1e7"/><path d="M339.1 86.1L341.8 84.9 344 84.4 341.3 85.6z" fill="#20e3d3"/><path d="M293.1 85.4L295.8 81.8 298 81.5 295.2 85.8z" fill="#6af48e"/><path d="M297.2 81.8L300 80.6 302.1 83.1 299.4 84.3z" fill="#aff349"/><path d="M320.2 86.5L323 85.8 325.1 87.8 322.4 88.6z" fill="#00c6f7"/><path d="M343.3 84.5L346 85.3 348.1 85.1 345.4 83.4z" fill="#43e6ab"/><path d="M301.4 82.6L304.1 84 306.3 87.1 303.5 86.7z" fill="#33ecc4"/><path d="M324.4 87.7L327.1 86.9 329.3 88 326.5 88.2z" fill="#00b7f4"/><path d="M347.4 84.8L350.1 86.6 352.3 87.9 349.5 85.9z" fill="#13d6de"/><path d="M305.5 86.6L308.2 86.7 310.4 88.4 307.7 88.9z" fill="#00c2f6"/><path d="M328.5 88L331.2 86.4 333.4 88.2 330.7 88.8z" fill="#00bbf6"/><path d="M309.6 88.3L312.4 86.2 314.5 88 311.8 89.5z" fill="#00bcf8"/><path d="M332.7 88.2L335.4 86 337.5 87.9 334.8 89.8z" fill="#00c0f9"/><path d="M328.1 88.1L328.9 88 329.5 88.2 328.7 88.2z" fill="#00b9f4" stroke="#00b9f4" stroke-width=".35"/><path d="M313.8 88L316.5 85 318.7 88.1 315.9 90z" fill="#02cff9"/><path d="M336.8 88.1L339.5 85.8 341.7 85.3 339 88.3z" fill="#14dbe1"/><path d="M290.8 88.6L293.5 84.8 295.7 85.1 292.9 89.5z" fill="#10dbe9"/><path d="M327.4 88.1L328.1 88.1 328.7 88.2 328 88.1z" fill="#00c4f2" stroke="#00c4f2" stroke-width=".35"/><path d="M294.9 85.6L297.6 81.4 299.8 83.9 297.1 87.7z" fill="#77fa85"/><path d="M317.9 88L320.7 86.3 322.8 88.4 320.1 90z" fill="#00c7f9"/><path d="M340.9 85.7L343.7 84.5 345.8 83.4 343.1 84.6z" fill="#78f07a"/><path d="M328.7 88.2L329.5 88.2 330.1 88.4 329.3 88.3z" fill="#00c1f3" stroke="#00c1f3" stroke-width=".35"/><path d="M299.1 83.8L301.8 82.6 303.9 86.7 301.2 87.9z" fill="#62f799"/><path d="M322.1 88.5L324.8 87.6 327 88.1 324.2 88.5z" fill="#02c9f1"/><path d="M345.1 83.4L347.8 85 350 86.2 347.2 84.4z" fill="#78ef79"/><path d="M326.6 88.1L327.4 88.1 328 88.1 327.2 88z" fill="#06cbea" stroke="#06cbea" stroke-width=".35"/><path d="M303.2 86.2L305.9 86.6 308.1 88.9 305.4 89z" fill="#0fd7e7"/><path d="M328 88.1L328.7 88.2 329.3 88.3 328.6 88.1z" fill="#06caec" stroke="#06caec" stroke-width=".35"/><path d="M349.2 85.7L351.9 87.6 354.1 89.6 351.4 88.5z" fill="#0dd3e7"/><path d="M329.3 88.3L330.1 88.4 330.7 88.7 329.9 88.5z" fill="#01c8f1" stroke="#01c8f1" stroke-width=".35"/><path d="M307.3 88.7L310.1 88.2 312.2 89.4 309.5 89.2z" fill="#00c0f4"/><path d="M330.3 88.6L333.1 88 335.2 89.6 332.5 89.9z" fill="#00bbf5"/><path d="M325.8 88.1L326.6 88.1 327.2 88 326.4 87.8z" fill="#0ed1e2" stroke="#0ed1e2" stroke-width=".35"/><path d="M327.2 88L328 88.1 328.6 88.1 327.8 87.8z" fill="#10d2e0" stroke="#10d2e0" stroke-width=".35"/><path d="M311.5 89.3L314.2 87.8 316.4 89.7 313.6 90.2z" fill="#00baf6"/><path d="M334.5 89.6L337.2 87.7 339.4 87.9 336.6 90.7z" fill="#00c8f7"/><path d="M328.6 88.1L329.3 88.3 329.9 88.5 329.2 88.1z" fill="#0cd0e4" stroke="#0cd0e4" stroke-width=".35"/><path d="M329.9 88.5L330.7 88.7 331.3 89 330.6 88.7z" fill="#05cbed" stroke="#05cbed" stroke-width=".35"/><path d="M325 88.2L325.8 88.1 326.4 87.8 325.6 87.8z" fill="#15d6db" stroke="#15d6db" stroke-width=".35"/><path d="M292.6 89.3L295.3 85 297.5 87.1 294.8 91z" fill="#13dfe9"/><path d="M315.6 89.7L318.3 87.8 320.5 89.7 317.8 91.3z" fill="#00b5f8"/><path d="M338.6 88.3L341.4 85.3 343.5 84.2 340.8 88.2z" fill="#48eeae"/><path d="M326.4 87.8L327.2 88 327.8 87.8 327 87.4z" fill="#1adad4" stroke="#1adad4" stroke-width=".35"/><path d="M327.8 87.8L328.6 88.1 329.2 88.1 328.4 87.6z" fill="#19d9d5" stroke="#19d9d5" stroke-width=".35"/><path d="M329.2 88.1L329.9 88.5 330.6 88.7 329.8 88.2z" fill="#12d4de" stroke="#12d4de" stroke-width=".35"/><path d="M296.7 87.3L299.5 83.4 301.6 87.5 298.9 90.4z" fill="#32f3cc"/><path d="M319.8 89.8L322.5 88.3 324.6 88.3 321.9 90.3z" fill="#02cbf3"/><path d="M342.8 84.6L345.5 83.4 347.7 84.5 344.9 85.6z" fill="#b4ef42"/><path d="M330.6 88.7L331.3 89 331.9 89.3 331.2 89z" fill="#07cdeb" stroke="#07cdeb" stroke-width=".35"/><path d="M324.3 88.4L325 88.2 325.6 87.8 324.9 88z" fill="#19dad8" stroke="#19dad8" stroke-width=".35"/><path d="M300.9 87.3L303.6 86.1 305.8 88.9 303 90.1z" fill="#1be3df"/><path d="M325.6 87.8L326.4 87.8 327 87.4 326.3 87.3z" fill="#23e2ca" stroke="#23e2ca" stroke-width=".35"/><path d="M346.9 84.1L349.6 85.9 351.8 88.7 349.1 87.7z" fill="#59f09d"/><path d="M327 87.4L327.8 87.8 328.4 87.6 327.6 87z" fill="#2de2c0" stroke="#2de2c0" stroke-width=".35"/><path d="M328.4 87.6L329.2 88.1 329.8 88.2 329 87.5z" fill="#22e0cc" stroke="#22e0cc" stroke-width=".35"/><path d="M305 88.8L307.8 88.7 309.9 89.2 307.2 88.8z" fill="#0fd4e3"/><path d="M329.8 88.2L330.6 88.7 331.2 89 330.4 88.4z" fill="#16d8db" stroke="#16d8db" stroke-width=".35"/><path d="M351 88.1L353.8 89.2 355.9 91.3 353.2 91z" fill="#00c1f5"/><path d="M323.5 88.9L324.3 88.4 324.9 88 324.1 88.5z" fill="#19dbd9" stroke="#19dbd9" stroke-width=".35"/><path d="M331.2 89L331.9 89.3 332.5 89.7 331.8 89.4z" fill="#08ceeb" stroke="#08ceeb" stroke-width=".35"/><path d="M324.9 88L325.6 87.8 326.3 87.3 325.5 87.4z" fill="#32e4bd" stroke="#32e4bd" stroke-width=".35"/><path d="M309.2 89.2L311.9 89.3 314 90.2 311.3 88.9z" fill="#09cee8"/><path d="M332.2 89.6L334.9 89.4 337.1 90.5 334.3 91.5z" fill="#00bbf6"/><path d="M326.3 87.3L327 87.4 327.6 87 326.9 86.7z" fill="#4fe69e" stroke="#4fe69e" stroke-width=".35"/><path d="M327.6 87L328.4 87.6 329 87.5 328.2 86.8z" fill="#4de6a0" stroke="#4de6a0" stroke-width=".35"/><path d="M329 87.5L329.8 88.2 330.4 88.4 329.6 87.7z" fill="#2de4c1" stroke="#2de4c1" stroke-width=".35"/><path d="M322.7 89.4L323.5 88.9 324.1 88.5 323.3 89.2z" fill="#15d9de" stroke="#15d9de" stroke-width=".35"/><path d="M313.3 90L316 89.5 318.2 91.1 315.5 91.2z" fill="#00b9f5"/><path d="M330.4 88.4L331.2 89 331.8 89.4 331 88.9z" fill="#16d9db" stroke="#16d9db" stroke-width=".35"/><path d="M336.3 90.6L339 87.8 341.2 87.7 338.5 91.6z" fill="#0dd7ea"/><path d="M331.8 89.4L332.5 89.7 333.2 90.2 332.4 90z" fill="#06cded" stroke="#06cded" stroke-width=".35"/><path d="M324.1 88.5L324.9 88 325.5 87.4 324.7 88z" fill="#32e6be" stroke="#32e6be" stroke-width=".35"/><path d="M325.5 87.4L326.3 87.3 326.9 86.7 326.1 86.8z" fill="#63ea8b" stroke="#63ea8b" stroke-width=".35"/><path d="M326.9 86.7L327.6 87 328.2 86.8 327.5 86.3z" fill="#77eb76" stroke="#77eb76" stroke-width=".35"/><path d="M294.4 90.7L297.2 86.7 299.3 89.9 296.6 92.8z" fill="#05d3f8"/><path d="M317.4 91.1L320.2 89.5 322.3 90 319.6 92.2z" fill="#00b9f6"/><path d="M340.5 88.1L343.2 84.2 345.3 85.2 342.6 89.3z" fill="#7ef97c"/><path d="M328.2 86.8L329 87.5 329.6 87.7 328.9 86.9z" fill="#62ea8c" stroke="#62ea8c" stroke-width=".35"/><path d="M322 90.1L322.7 89.4 323.3 89.2 322.6 90z" fill="#0ed5e6" stroke="#0ed5e6" stroke-width=".35"/><path d="M329.6 87.7L330.4 88.4 331 88.9 330.2 88.1z" fill="#31e6c0" stroke="#31e6c0" stroke-width=".35"/><path d="M331 88.9L331.8 89.4 332.4 90 331.6 89.5z" fill="#14d9df" stroke="#14d9df" stroke-width=".35"/><path d="M298.6 89.9L301.3 87 303.5 89.8 300.7 92.2z" fill="#0edaed"/><path d="M323.3 89.2L324.1 88.5 324.7 88 323.9 88.8z" fill="#24e6ce" stroke="#24e6ce" stroke-width=".35"/><path d="M344.6 85.3L347.3 84.1 349.5 87.7 346.8 88.9z" fill="#93f968"/><path d="M332.4 90L333.2 90.2 333.8 90.8 333 90.6z" fill="#03ccf1" stroke="#03ccf1" stroke-width=".35"/><path d="M324.7 88L325.5 87.4 326.1 86.8 325.3 87.4z" fill="#64ec8c" stroke="#64ec8c" stroke-width=".35"/><path d="M326.1 86.8L326.9 86.7 327.5 86.3 326.7 86.4z" fill="#8fed60" stroke="#8fed60" stroke-width=".35"/><path d="M302.7 89.9L305.4 88.7 307.6 88.8 304.9 90z" fill="#1adfda"/><path d="M327.5 86.3L328.2 86.8 328.9 86.9 328.1 86.3z" fill="#91ed5e" stroke="#91ed5e" stroke-width=".35"/><path d="M348.7 87.2L351.5 88.2 353.6 91.1 350.9 91z" fill="#1ae1dd"/><path d="M321.2 90.8L322 90.1 322.6 90 321.8 90.8z" fill="#07cfef" stroke="#07cfef" stroke-width=".35"/><path d="M328.9 86.9L329.6 87.7 330.2 88.1 329.5 87.4z" fill="#68ed88" stroke="#68ed88" stroke-width=".35"/><path d="M330.2 88.1L331 88.9 331.6 89.5 330.8 88.9z" fill="#28e7cb" stroke="#28e7cb" stroke-width=".35"/><path d="M322.6 90L323.3 89.2 323.9 88.8 323.2 89.8z" fill="#1be0da" stroke="#1be0da" stroke-width=".35"/><path d="M306.9 88.9L309.6 89.3 311.7 89 309 87.6z" fill="#31e4bd"/><path d="M331.6 89.5L332.4 90 333 90.6 332.2 90.3z" fill="#0fd6e5" stroke="#0fd6e5" stroke-width=".35"/><path d="M323.9 88.8L324.7 88 325.3 87.4 324.6 88.4z" fill="#51eda3" stroke="#51eda3" stroke-width=".35"/><path d="M352.9 90.7L355.6 91 357.8 92.4 355 92.2z" fill="#00adf4"/><path d="M325.3 87.4L326.1 86.8 326.7 86.4 325.9 87z" fill="#91f061" stroke="#91f061" stroke-width=".35"/><path d="M333 90.6L333.8 90.8 334.4 91.3 333.6 91.3z" fill="#00c8f6" stroke="#00c8f6" stroke-width=".35"/><path d="M326.7 86.4L327.5 86.3 328.1 86.3 327.3 86.3z" fill="#acec45" stroke="#acec45" stroke-width=".35"/><path d="M320.4 91.4L321.2 90.8 321.8 90.8 321 91.6z" fill="#00c8f6" stroke="#00c8f6" stroke-width=".35"/><path d="M311 88.8L313.7 90.1 315.9 91.3 313.1 89.5z" fill="#15d8dc"/><path d="M328.1 86.3L328.9 86.9 329.5 87.4 328.7 86.9z" fill="#98ef5a" stroke="#98ef5a" stroke-width=".35"/><path d="M334 91.3L336.7 90.2 338.9 91.2 336.2 93.2z" fill="#00bbf7"/><path d="M329.5 87.4L330.2 88.1 330.8 88.9 330.1 88.3z" fill="#5bee98" stroke="#5bee98" stroke-width=".35"/><path d="M321.8 90.8L322.6 90 323.2 89.8 322.4 90.8z" fill="#10d8e6" stroke="#10d8e6" stroke-width=".35"/><path d="M330.8 88.9L331.6 89.5 332.2 90.3 331.5 89.9z" fill="#1ee3d6" stroke="#1ee3d6" stroke-width=".35"/><path d="M323.2 89.8L323.9 88.8 324.6 88.4 323.8 89.6z" fill="#2febc7" stroke="#2febc7" stroke-width=".35"/><path d="M324.6 88.4L325.3 87.4 325.9 87 325.2 88.1z" fill="#7bf47a" stroke="#7bf47a" stroke-width=".35"/><path d="M315.1 91L317.9 90.9 320 92 317.3 92.8z" fill="#00b9f5"/><path d="M338.1 91.4L340.9 87.5 343 88.7 340.3 92.8z" fill="#17e2e3"/><path d="M332.2 90.3L333 90.6 333.6 91.3 332.8 91.1z" fill="#09d1ed" stroke="#09d1ed" stroke-width=".35"/><path d="M325.9 87L326.7 86.4 327.3 86.3 326.5 87z" fill="#aff046" stroke="#aff046" stroke-width=".35"/><path d="M333.6 91.3L334.4 91.3 335 91.9 334.2 92z" fill="#00bff6" stroke="#00bff6" stroke-width=".35"/><path d="M319.6 92L320.4 91.4 321 91.6 320.3 92.2z" fill="#00bbf7" stroke="#00bbf7" stroke-width=".35"/><path d="M327.3 86.3L328.1 86.3 328.7 86.9 327.9 86.9z" fill="#b5ef40" stroke="#b5ef40" stroke-width=".35"/><path d="M328.7 86.9L329.5 87.4 330.1 88.3 329.3 87.9z" fill="#8bf56b" stroke="#8bf56b" stroke-width=".35"/><path d="M296.3 92.5L299 89.5 301.1 91.8 298.4 94.2z" fill="#00b6fa"/><path d="M321 91.6L321.8 90.8 322.4 90.8 321.6 91.7z" fill="#06cff1" stroke="#06cff1" stroke-width=".35"/><path d="M342.3 89L345 84.9 347.2 88.5 344.4 91.8z" fill="#5ef8a0"/><path d="M330.1 88.3L330.8 88.9 331.5 89.9 330.7 89.4z" fill="#40edb5" stroke="#40edb5" stroke-width=".35"/><path d="M322.4 90.8L323.2 89.8 323.8 89.6 323 90.8z" fill="#1ae1dd" stroke="#1ae1dd" stroke-width=".35"/><path d="M323.8 89.6L324.6 88.4 325.2 88.1 324.4 89.5z" fill="#50f1a7" stroke="#50f1a7" stroke-width=".35"/><path d="M331.5 89.9L332.2 90.3 332.8 91.1 332.1 90.9z" fill="#15dce1" stroke="#15dce1" stroke-width=".35"/><path d="M300.4 92L303.1 89.6 305.3 89.7 302.6 92.5z" fill="#0ed7e9"/><path d="M325.2 88.1L325.9 87 326.5 87 325.8 88.2z" fill="#97f762" stroke="#97f762" stroke-width=".35"/><path d="M346.4 88.3L349.2 87.2 351.3 90.9 348.6 92.1z" fill="#2fefcc"/><path d="M332.8 91.1L333.6 91.3 334.2 92 333.4 91.9z" fill="#02ccf4" stroke="#02ccf4" stroke-width=".35"/><path d="M326.5 87L327.3 86.3 327.9 86.9 327.2 87.5z" fill="#b8f341" stroke="#b8f341" stroke-width=".35"/><path d="M334.2 92L335 91.9 335.6 92.4 334.8 92.6z" fill="#00b7f7" stroke="#00b7f7" stroke-width=".35"/><path d="M327.9 86.9L328.7 86.9 329.3 87.9 328.5 87.9z" fill="#a6f553" stroke="#a6f553" stroke-width=".35"/><path d="M320.3 92.2L321 91.6 321.6 91.7 320.9 92.4z" fill="#00c5f7" stroke="#00c5f7" stroke-width=".35"/><path d="M304.5 90L307.3 88.8 309.4 87.6 306.7 88.8z" fill="#5eec93"/><path d="M329.3 87.9L330.1 88.3 330.7 89.4 329.9 89.2z" fill="#68f490" stroke="#68f490" stroke-width=".35"/><path d="M321.6 91.7L322.4 90.8 323 90.8 322.2 91.8z" fill="#0cd6eb" stroke="#0cd6eb" stroke-width=".35"/><path d="M350.6 90.6L353.3 90.8 355.4 92.2 352.7 92z" fill="#0ad1eb"/><path d="M323 90.8L323.8 89.6 324.4 89.5 323.6 90.8z" fill="#23ead5" stroke="#23ead5" stroke-width=".35"/><path d="M330.7 89.4L331.5 89.9 332.1 90.9 331.3 90.7z" fill="#22e8d5" stroke="#22e8d5" stroke-width=".35"/><path d="M324.4 89.5L325.2 88.1 325.8 88.2 325 89.7z" fill="#67f693" stroke="#67f693" stroke-width=".35"/><path d="M332.1 90.9L332.8 91.1 333.4 91.9 332.7 91.9z" fill="#0bd4ec" stroke="#0bd4ec" stroke-width=".35"/><path d="M354.7 92L357.4 92.3 359.6 93.1 356.9 92z" fill="#00bdf1"/><path d="M308.7 87.6L311.4 89 313.6 89.8 310.8 88z" fill="#73ee7d"/><path d="M325.8 88.2L326.5 87 327.2 87.5 326.4 88.7z" fill="#9ef95e" stroke="#9ef95e" stroke-width=".35"/><path d="M333.4 91.9L334.2 92 334.8 92.6 334.1 92.7z" fill="#00c2f7" stroke="#00c2f7" stroke-width=".35"/><path d="M327.2 87.5L327.9 86.9 328.5 87.9 327.8 88.6z" fill="#a8f854" stroke="#a8f854" stroke-width=".35"/><path d="M334.8 92.6L335.6 92.4 336.2 93 335.4 93.2z" fill="#00b0f7" stroke="#00b0f7" stroke-width=".35"/><path d="M328.5 87.9L329.3 87.9 329.9 89.2 329.1 89.3z" fill="#82fa79" stroke="#82fa79" stroke-width=".35"/><path d="M320.9 92.4L321.6 91.7 322.2 91.8 321.5 92.7z" fill="#02ccf6" stroke="#02ccf6" stroke-width=".35"/><path d="M322.2 91.8L323 90.8 323.6 90.8 322.9 92z" fill="#12dce6" stroke="#12dce6" stroke-width=".35"/><path d="M312.8 89.3L315.5 91.1 317.7 92.8 315 91.8z" fill="#14d9e0"/><path d="M335.8 93L338.6 91 340.7 92.3 338 94.5z" fill="#00bbf8"/><path d="M329.9 89.2L330.7 89.4 331.3 90.7 330.5 90.6z" fill="#3cf0be" stroke="#3cf0be" stroke-width=".35"/><path d="M323.6 90.8L324.4 89.5 325 89.7 324.2 91.1z" fill="#30efcb" stroke="#30efcb" stroke-width=".35"/><path d="M331.3 90.7L332.1 90.9 332.7 91.9 331.9 91.8z" fill="#15dde3" stroke="#15dde3" stroke-width=".35"/><path d="M325 89.7L325.8 88.2 326.4 88.7 325.6 90.1z" fill="#6df990" stroke="#6df990" stroke-width=".35"/><path d="M332.7 91.9L333.4 91.9 334.1 92.7 333.3 92.7z" fill="#02cdf5" stroke="#02cdf5" stroke-width=".35"/><path d="M326.4 88.7L327.2 87.5 327.8 88.6 327 89.6z" fill="#90fe6f" stroke="#90fe6f" stroke-width=".35"/><path d="M317 92.6L319.7 91.8 321.8 92.6 319.1 94.4z" fill="#00bbf7"/><path d="M334.1 92.7L334.8 92.6 335.4 93.2 334.7 93.4z" fill="#00b7f7" stroke="#00b7f7" stroke-width=".35"/><path d="M340 92.5L342.7 88.4 344.9 91.3 342.1 94.3z" fill="#11deeb"/><path d="M327.8 88.6L328.5 87.9 329.1 89.3 328.4 89.9z" fill="#83fd7b" stroke="#83fd7b" stroke-width=".35"/><path d="M321.5 92.7L322.2 91.8 322.9 92 322.1 93z" fill="#05d0f4" stroke="#05d0f4" stroke-width=".35"/><path d="M329.1 89.3L329.9 89.2 330.5 90.6 329.8 90.8z" fill="#4ef4ad" stroke="#4ef4ad" stroke-width=".35"/><path d="M298.1 94L300.8 91.6 303 92.1 300.2 95.1z" fill="#00b5f8"/><path d="M322.9 92L323.6 90.8 324.2 91.1 323.5 92.3z" fill="#16e1e4" stroke="#16e1e4" stroke-width=".35"/><path d="M344.1 91.3L346.8 88 349 91.8 346.3 94.2z" fill="#1ce7e1"/><path d="M330.5 90.6L331.3 90.7 331.9 91.8 331.1 91.8z" fill="#1de6dd" stroke="#1de6dd" stroke-width=".35"/><path d="M324.2 91.1L325 89.7 325.6 90.1 324.8 91.5z" fill="#33f2c9" stroke="#33f2c9" stroke-width=".35"/><path d="M331.9 91.8L332.7 91.9 333.3 92.7 332.5 92.8z" fill="#09d3ef" stroke="#09d3ef" stroke-width=".35"/><path d="M325.6 90.1L326.4 88.7 327 89.6 326.2 90.9z" fill="#60f99f" stroke="#60f99f" stroke-width=".35"/><path d="M333.3 92.7L334.1 92.7 334.7 93.4 333.9 93.5z" fill="#00c1f7" stroke="#00c1f7" stroke-width=".35"/><path d="M302.2 92.6L305 89.7 307.1 88.5 304.4 92.3z" fill="#30ebc5"/><path d="M327 89.6L327.8 88.6 328.4 89.9 327.6 90.8z" fill="#6cfb94" stroke="#6cfb94" stroke-width=".35"/><path d="M348.3 91.7L351 90.5 353.1 92 350.4 93.1z" fill="#15dce1"/><path d="M328.4 89.9L329.1 89.3 329.8 90.8 329 91.2z" fill="#4ff6af" stroke="#4ff6af" stroke-width=".35"/><path d="M322.1 93L322.9 92 323.5 92.3 322.7 93.3z" fill="#07d3f2" stroke="#07d3f2" stroke-width=".35"/><path d="M329.8 90.8L330.5 90.6 331.1 91.8 330.4 92.1z" fill="#22ecd9" stroke="#22ecd9" stroke-width=".35"/><path d="M352.4 92L355.1 92.1 357.3 92.1 354.5 91.1z" fill="#19dad7"/><path d="M306.4 88.9L309.1 87.7 311.3 88 308.5 89.2z" fill="#acef48"/><path d="M323.5 92.3L324.2 91.1 324.8 91.5 324.1 92.7z" fill="#17e3e4" stroke="#17e3e4" stroke-width=".35"/><path d="M331.1 91.8L331.9 91.8 332.5 92.8 331.7 92.9z" fill="#0fd9ea" stroke="#0fd9ea" stroke-width=".35"/><path d="M324.8 91.5L325.6 90.1 326.2 90.9 325.5 92.2z" fill="#2af2d4" stroke="#2af2d4" stroke-width=".35"/><path d="M332.5 92.8L333.3 92.7 333.9 93.5 333.1 93.6z" fill="#00cbf8" stroke="#00cbf8" stroke-width=".35"/><path d="M326.2 90.9L327 89.6 327.6 90.8 326.8 91.9z" fill="#43f6bd" stroke="#43f6bd" stroke-width=".35"/><path d="M310.5 87.7L313.2 89.5 315.4 92 312.7 90.9z" fill="#6af18b"/><path d="M333.5 93.4L336.2 92.8 338.4 94.3 335.7 95z" fill="#00b2f6"/><path d="M356.5 91.9L359.3 93 361.4 93.8 358.7 91.9z" fill="#0dd0e3"/><path d="M327.6 90.8L328.4 89.9 329 91.2 328.2 92z" fill="#3df5c2" stroke="#3df5c2" stroke-width=".35"/><path d="M329 91.2L329.8 90.8 330.4 92.1 329.6 92.5z" fill="#22eddb" stroke="#22eddb" stroke-width=".35"/><path d="M322.7 93.3L323.5 92.3 324.1 92.7 323.3 93.7z" fill="#08d4f2" stroke="#08d4f2" stroke-width=".35"/><path d="M330.4 92.1L331.1 91.8 331.7 92.9 331 93.2z" fill="#12dde8" stroke="#12dde8" stroke-width=".35"/><path d="M324.1 92.7L324.8 91.5 325.5 92.2 324.7 93.3z" fill="#15e1e7" stroke="#15e1e7" stroke-width=".35"/><path d="M314.6 91.5L317.4 92.5 319.5 94.4 316.8 94.5z" fill="#05cef0"/><path d="M331.7 92.9L332.5 92.8 333.1 93.6 332.4 93.8z" fill="#04cff4" stroke="#04cff4" stroke-width=".35"/><path d="M337.7 94.3L340.4 92.1 342.5 93.9 339.8 95.2z" fill="#00bbf7"/><path d="M325.5 92.2L326.2 90.9 326.8 91.9 326.1 93z" fill="#20ecdf" stroke="#20ecdf" stroke-width=".35"/><path d="M326.8 91.9L327.6 90.8 328.2 92 327.4 92.9z" fill="#23efdc" stroke="#23efdc" stroke-width=".35"/><path d="M318.8 94.2L321.5 92.4 323.7 93.7 320.9 95.8z" fill="#00bdf8"/><path d="M341.8 94L344.5 90.9 346.7 93.8 344 95.8z" fill="#02cff9"/><path d="M328.2 92L329 91.2 329.6 92.5 328.8 93.1z" fill="#1eeae0" stroke="#1eeae0" stroke-width=".35"/><path d="M329.6 92.5L330.4 92.1 331 93.2 330.2 93.6z" fill="#12dee9" stroke="#12dee9" stroke-width=".35"/><path d="M323.3 93.7L324.1 92.7 324.7 93.3 323.9 94.2z" fill="#07d3f4" stroke="#07d3f4" stroke-width=".35"/><path d="M331 93.2L331.7 92.9 332.4 93.8 331.6 94.1z" fill="#07d2f3" stroke="#07d2f3" stroke-width=".35"/><path d="M299.9 95L302.6 92.1 304.8 91.8 302.1 95.7z" fill="#05cff3"/><path d="M324.7 93.3L325.5 92.2 326.1 93 325.3 93.9z" fill="#10dded" stroke="#10dded" stroke-width=".35"/><path d="M345.9 93.8L348.7 91.4 350.8 92.8 348.1 95.2z" fill="#0bd6ed"/><path d="M326.1 93L326.8 91.9 327.4 92.9 326.7 93.8z" fill="#16e3e8" stroke="#16e3e8" stroke-width=".35"/><path d="M327.4 92.9L328.2 92 328.8 93.1 328 93.9z" fill="#15e2e8" stroke="#15e2e8" stroke-width=".35"/><path d="M350.1 93.1L352.8 91.9 355 91 352.2 92.2z" fill="#2de7c5"/><path d="M304.1 92.3L306.8 88.5 308.9 88.8 306.2 93z" fill="#76f784"/><path d="M328.8 93.1L329.6 92.5 330.2 93.6 329.4 94.1z" fill="#0fdced" stroke="#0fdced" stroke-width=".35"/><path d="M330.2 93.6L331 93.2 331.6 94.1 330.8 94.5z" fill="#07d3f4" stroke="#07d3f4" stroke-width=".35"/><path d="M323.9 94.2L324.7 93.3 325.3 93.9 324.5 94.8z" fill="#03d1f7" stroke="#03d1f7" stroke-width=".35"/><path d="M308.2 88.9L310.9 87.7 313.1 90.9 310.4 92.1z" fill="#a4f656"/><path d="M331.2 94L333.9 93.3 336.1 94.9 333.4 95.7z" fill="#00c3f6"/><path d="M354.2 91.1L356.9 92.1 359.1 92.1 356.4 90.3z" fill="#56e998"/><path d="M325.3 93.9L326.1 93 326.7 93.8 325.9 94.6z" fill="#09d7f3" stroke="#09d7f3" stroke-width=".35"/><path d="M326.7 93.8L327.4 92.9 328 93.9 327.3 94.6z" fill="#0bd9f1" stroke="#0bd9f1" stroke-width=".35"/><path d="M328 93.9L328.8 93.1 329.4 94.1 328.7 94.7z" fill="#09d7f3" stroke="#09d7f3" stroke-width=".35"/><path d="M312.3 90.4L315.1 91.5 317.2 94.6 314.5 94.4z" fill="#22e9d5"/><path d="M329.4 94.1L330.2 93.6 330.8 94.5 330 94.9z" fill="#04d1f6" stroke="#04d1f6" stroke-width=".35"/><path d="M335.3 94.9L338.1 94.1 340.2 95.1 337.5 94.7z" fill="#00bff3"/><path d="M358.4 91.7L361.1 93.7 363.2 95.2 360.5 93.4z" fill="#13d7de"/><path d="M324.5 94.8L325.3 93.9 325.9 94.6 325.1 95.3z" fill="#00ccfa" stroke="#00ccfa" stroke-width=".35"/><path d="M316.5 94.2L319.2 94 321.4 95.6 318.6 96z" fill="#00bef6"/><path d="M339.5 95L342.2 93.7 344.4 95.6 341.6 95.9z" fill="#00bcf6"/><path d="M325.9 94.6L326.7 93.8 327.3 94.6 326.5 95.3z" fill="#02d0f9" stroke="#02d0f9" stroke-width=".35"/><path d="M327.3 94.6L328 93.9 328.7 94.7 327.9 95.4z" fill="#02d0f9" stroke="#02d0f9" stroke-width=".35"/><path d="M328.7 94.7L329.4 94.1 330 94.9 329.3 95.5z" fill="#00cefa" stroke="#00cefa" stroke-width=".35"/><path d="M320.6 95.5L323.3 93.5 325.5 95.3 322.8 96.6z" fill="#00bdf8"/><path d="M343.6 95.5L346.4 93.5 348.5 94.9 345.8 96.9z" fill="#00bff8"/><path d="M339.1 95.1L339.9 95 340.5 95.3 339.7 95.1z" fill="#00c1f2" stroke="#00c1f2" stroke-width=".35"/><path d="M325.1 95.3L325.9 94.6 326.5 95.3 325.7 95.9z" fill="#00c2fa" stroke="#00c2fa" stroke-width=".35"/><path d="M347.8 95.2L350.5 92.8 352.7 91.9 349.9 95.1z" fill="#1be0db"/><path d="M301.7 95.6L304.5 91.7 306.6 92.4 303.9 96.8z" fill="#13dde7"/><path d="M326.5 95.3L327.3 94.6 327.9 95.4 327.1 95.9z" fill="#00c4fa" stroke="#00c4fa" stroke-width=".35"/><path d="M327.9 95.4L328.7 94.7 329.3 95.5 328.5 96z" fill="#00c3fa" stroke="#00c3fa" stroke-width=".35"/><path d="M305.9 92.8L308.6 88.5 310.8 91.7 308 95.3z" fill="#6cf992"/><path d="M328.9 95.5L331.6 93.8 333.8 95.5 331.1 97.1z" fill="#00c4f8"/><path d="M338.3 94.9L339.1 95.1 339.7 95.1 338.9 94.8z" fill="#06caea" stroke="#06caea" stroke-width=".35"/><path d="M351.9 92.3L354.6 91.1 356.8 90.3 354.1 91.5z" fill="#8ef164"/><path d="M339.7 95.1L340.5 95.3 341.1 95.5 340.3 95.2z" fill="#02c8ef" stroke="#02c8ef" stroke-width=".35"/><path d="M325.7 95.9L326.5 95.3 327.1 95.9 326.3 96.4z" fill="#00b9f9" stroke="#00b9f9" stroke-width=".35"/><path d="M310 91.5L312.8 90.3 314.9 94.3 312.2 95.5z" fill="#48f3b4"/><path d="M327.1 95.9L327.9 95.4 328.5 96 327.7 96.5z" fill="#00b9f9" stroke="#00b9f9" stroke-width=".35"/><path d="M333 95.6L335.8 94.8 337.9 94.7 335.2 94.5z" fill="#0cd0e5"/><path d="M356 90.2L358.8 92 360.9 93.7 358.2 92z" fill="#78f17a"/><path d="M337.5 94.7L338.3 94.9 338.9 94.8 338.2 94.3z" fill="#12d2dc" stroke="#12d2dc" stroke-width=".35"/><path d="M314.2 94L316.9 94.2 319 96 316.3 96.1z" fill="#0cd4e9"/><path d="M338.9 94.8L339.7 95.1 340.3 95.2 339.5 94.6z" fill="#0ed0e0" stroke="#0ed0e0" stroke-width=".35"/><path d="M360.2 93.1L362.9 94.9 365.1 97 362.3 96.1z" fill="#09d0ec"/><path d="M340.3 95.2L341.1 95.5 341.7 95.7 340.9 95.3z" fill="#07cbea" stroke="#07cbea" stroke-width=".35"/><path d="M326.3 96.4L327.1 95.9 327.7 96.5 327 97z" fill="#00b1f8" stroke="#00b1f8" stroke-width=".35"/><path d="M318.3 95.9L321 95.4 323.2 96.5 320.5 96.1z" fill="#00c5f3"/><path d="M341.3 95.6L344 95.3 346.2 96.8 343.5 97.1z" fill="#00bdf5"/><path d="M336.8 94.5L337.5 94.7 338.2 94.3 337.4 93.8z" fill="#1fdccd" stroke="#1fdccd" stroke-width=".35"/><path d="M338.2 94.3L338.9 94.8 339.5 94.6 338.8 93.8z" fill="#1fdccd" stroke="#1fdccd" stroke-width=".35"/><path d="M339.5 94.6L340.3 95.2 340.9 95.3 340.1 94.6z" fill="#16d6d8" stroke="#16d6d8" stroke-width=".35"/><path d="M345.5 96.8L348.2 94.8 350.3 94.7 347.6 97.8z" fill="#02ccf5"/><path d="M322.4 96.4L325.2 95.1 327.3 97 324.6 97.4z" fill="#00baf6"/><path d="M340.9 95.3L341.7 95.7 342.3 96 341.5 95.6z" fill="#0acee7" stroke="#0acee7" stroke-width=".35"/><path d="M349.6 95.2L352.3 91.9 354.5 91.1 351.8 95.2z" fill="#5bf19c"/><path d="M303.6 96.5L306.3 92.2 308.5 94.7 305.7 98.4z" fill="#11ddec"/><path d="M326.6 97L329.3 95.2 331.5 96.8 328.7 98.5z" fill="#00b3f8"/><path d="M336 94.4L336.8 94.5 337.4 93.8 336.6 93.4z" fill="#37e1b4" stroke="#37e1b4" stroke-width=".35"/><path d="M337.4 93.8L338.2 94.3 338.8 93.8 338 93z" fill="#48e2a1" stroke="#48e2a1" stroke-width=".35"/><path d="M338.8 93.8L339.5 94.6 340.1 94.6 339.4 93.5z" fill="#38e1b2" stroke="#38e1b2" stroke-width=".35"/><path d="M307.7 94.8L310.4 91.2 312.6 95.2 309.9 97.9z" fill="#22eedb"/><path d="M330.7 97L333.5 95.4 335.6 94.3 332.9 96.8z" fill="#0cd2e8"/><path d="M353.7 91.4L356.5 90.3 358.6 92.1 355.9 93.2z" fill="#b5f143"/><path d="M340.1 94.6L340.9 95.3 341.5 95.6 340.8 94.7z" fill="#1cdbd2" stroke="#1cdbd2" stroke-width=".35"/><path d="M341.5 95.6L342.3 96 342.9 96.4 342.1 96z" fill="#0bd0e6" stroke="#0bd0e6" stroke-width=".35"/><path d="M335.2 94.5L336 94.4 336.6 93.4 335.8 93.5z" fill="#4ae4a1" stroke="#4ae4a1" stroke-width=".35"/><path d="M311.9 95.1L314.6 93.9 316.7 96 314 97.2z" fill="#17dfe1"/><path d="M336.6 93.4L337.4 93.8 338 93 337.2 92.3z" fill="#75e673" stroke="#75e673" stroke-width=".35"/><path d="M357.9 91.6L360.6 93.3 362.8 96.3 360 95.6z" fill="#46eeb1"/><path d="M338 93L338.8 93.8 339.4 93.5 338.6 92.3z" fill="#78e66f" stroke="#78e66f" stroke-width=".35"/><path d="M339.4 93.5L340.1 94.6 340.8 94.7 340 93.4z" fill="#51e49a" stroke="#51e49a" stroke-width=".35"/><path d="M316 95.9L318.7 95.9 320.9 96.1 318.1 95.5z" fill="#14d7dd"/><path d="M362 95.8L364.7 96.6 366.9 98.5 364.2 98.4z" fill="#00b9f5"/><path d="M340.8 94.7L341.5 95.6 342.1 96 341.4 95.1z" fill="#1eded1" stroke="#1eded1" stroke-width=".35"/><path d="M342.1 96L342.9 96.4 343.5 96.9 342.7 96.5z" fill="#0ad0e9" stroke="#0ad0e9" stroke-width=".35"/><path d="M334.5 95L335.2 94.5 335.8 93.5 335.1 94.1z" fill="#4be7a3" stroke="#4be7a3" stroke-width=".35"/><path d="M335.8 93.5L336.6 93.4 337.2 92.3 336.5 92.3z" fill="#8fe759" stroke="#8fe759" stroke-width=".35"/><path d="M337.2 92.3L338 93 338.6 92.3 337.8 91.3z" fill="#ade039" stroke="#ade039" stroke-width=".35"/><path d="M343.1 96.8L345.9 96.5 348 97.6 345.3 98.9z" fill="#00bcf6"/><path d="M320.1 96L322.9 96.4 325 97.4 322.3 95.8z" fill="#0dd1e4"/><path d="M338.6 92.3L339.4 93.5 340 93.4 339.2 92z" fill="#99e44f" stroke="#99e44f" stroke-width=".35"/><path d="M340 93.4L340.8 94.7 341.4 95.1 340.6 93.8z" fill="#5be792" stroke="#5be792" stroke-width=".35"/><path d="M341.4 95.1L342.1 96 342.7 96.5 342 95.8z" fill="#1cded5" stroke="#1cded5" stroke-width=".35"/><path d="M347.3 97.7L350 94.7 352.2 94.7 349.4 98.8z" fill="#11dae7"/><path d="M324.3 97.2L327 96.8 329.2 98.3 326.4 98.5z" fill="#00b9f5"/><path d="M333.7 95.8L334.5 95 335.1 94.1 334.3 95.1z" fill="#38e7b8" stroke="#38e7b8" stroke-width=".35"/><path d="M335.1 94.1L335.8 93.5 336.5 92.3 335.7 93z" fill="#92ea5b" stroke="#92ea5b" stroke-width=".35"/><path d="M342.7 96.5L343.5 96.9 344.1 97.5 343.4 97.2z" fill="#07ceed" stroke="#07ceed" stroke-width=".35"/><path d="M336.5 92.3L337.2 92.3 337.8 91.3 337.1 91.2z" fill="#d0de19" stroke="#d0de19" stroke-width=".35"/><path d="M305.4 98.1L308.1 94.3 310.3 97.4 307.6 100.2z" fill="#00cffc"/><path d="M328.4 98.3L331.1 96.7 333.3 96.5 330.6 99.3z" fill="#00c2f6"/><path d="M351.4 95.1L354.2 91 356.3 92.8 353.6 96.8z" fill="#7efa7d"/><path d="M337.8 91.3L338.6 92.3 339.2 92 338.4 90.9z" fill="#d3da16" stroke="#d3da16" stroke-width=".35"/><path d="M339.2 92L340 93.4 340.6 93.8 339.8 92.4z" fill="#a8e644" stroke="#a8e644" stroke-width=".35"/><path d="M340.6 93.8L341.4 95.1 342 95.8 341.2 94.7z" fill="#52e99d" stroke="#52e99d" stroke-width=".35"/><path d="M332.9 96.7L333.7 95.8 334.3 95.1 333.5 96.3z" fill="#20e3d4" stroke="#20e3d4" stroke-width=".35"/><path d="M309.5 97.5L312.3 94.8 314.4 96.9 311.7 99.3z" fill="#0bd7ef"/><path d="M334.3 95.1L335.1 94.1 335.7 93 334.9 94.3z" fill="#7aef77" stroke="#7aef77" stroke-width=".35"/><path d="M355.6 92.8L358.3 91.6 360.4 95.6 357.7 96.7z" fill="#7dfa7f"/><path d="M342 95.8L342.7 96.5 343.4 97.2 342.6 96.6z" fill="#17dbdc" stroke="#17dbdc" stroke-width=".35"/><path d="M335.7 93L336.5 92.3 337.1 91.2 336.3 92z" fill="#d5e219" stroke="#d5e219" stroke-width=".35"/><path d="M343.4 97.2L344.1 97.5 344.7 98.1 344 97.9z" fill="#02cbf3" stroke="#02cbf3" stroke-width=".35"/><path d="M337.1 91.2L337.8 91.3 338.4 90.9 337.7 90.7z" fill="#dfd00e" stroke="#dfd00e" stroke-width=".35"/><path d="M313.7 97.1L316.4 95.9 318.6 95.4 315.8 96.6z" fill="#20e3d3"/><path d="M359.7 95.1L362.4 95.8 364.6 98.5 361.9 98.4z" fill="#13dbe4"/><path d="M338.4 90.9L339.2 92 339.8 92.4 339.1 91.3z" fill="#dbd913" stroke="#dbd913" stroke-width=".35"/><path d="M339.8 92.4L340.6 93.8 341.2 94.7 340.4 93.5z" fill="#9eec51" stroke="#9eec51" stroke-width=".35"/><path d="M332.2 97.6L332.9 96.7 333.5 96.3 332.8 97.5z" fill="#13d9e3" stroke="#13d9e3" stroke-width=".35"/><path d="M333.5 96.3L334.3 95.1 334.9 94.3 334.1 95.8z" fill="#4ceda9" stroke="#4ceda9" stroke-width=".35"/><path d="M341.2 94.7L342 95.8 342.6 96.6 341.8 95.8z" fill="#3ae9b9" stroke="#3ae9b9" stroke-width=".35"/><path d="M334.9 94.3L335.7 93 336.3 92 335.5 93.6z" fill="#b7ec3c" stroke="#b7ec3c" stroke-width=".35"/><path d="M342.6 96.6L343.4 97.2 344 97.9 343.2 97.6z" fill="#0fd6e6" stroke="#0fd6e6" stroke-width=".35"/><path d="M363.8 98.1L366.6 98.3 368.7 99.5 366 99.1z" fill="#00aef4"/><path d="M317.8 95.5L320.5 96.2 322.7 96 320 94.4z" fill="#46e7a9"/><path d="M344 97.9L344.7 98.1 345.3 98.6 344.6 98.7z" fill="#00c4f6" stroke="#00c4f6" stroke-width=".35"/><path d="M336.3 92L337.1 91.2 337.7 90.7 336.9 91.6z" fill="#e5d50e" stroke="#e5d50e" stroke-width=".35"/><path d="M337.7 90.7L338.4 90.9 339.1 91.3 338.3 91.1z" fill="#e9cf0a" stroke="#e9cf0a" stroke-width=".35"/><path d="M339.1 91.3L339.8 92.4 340.4 93.5 339.7 92.5z" fill="#dde417" stroke="#dde417" stroke-width=".35"/><path d="M345 98.6L347.7 97.3 349.9 98.3 347.1 100.5z" fill="#00bbf8"/><path d="M322 95.7L324.7 97.3 326.8 98.6 324.1 96.9z" fill="#17d9db"/><path d="M331.4 98.4L332.2 97.6 332.8 97.5 332 98.5z" fill="#06d0f0" stroke="#06d0f0" stroke-width=".35"/><path d="M332.8 97.5L333.5 96.3 334.1 95.8 333.4 97.3z" fill="#20e6d7" stroke="#20e6d7" stroke-width=".35"/><path d="M340.4 93.5L341.2 94.7 341.8 95.8 341 95z" fill="#7ef375" stroke="#7ef375" stroke-width=".35"/><path d="M334.1 95.8L334.9 94.3 335.5 93.6 334.8 95.5z" fill="#80f677" stroke="#80f677" stroke-width=".35"/><path d="M341.8 95.8L342.6 96.6 343.2 97.6 342.4 97.1z" fill="#20e5d5" stroke="#20e5d5" stroke-width=".35"/><path d="M343.2 97.6L344 97.9 344.6 98.7 343.8 98.5z" fill="#06cff0" stroke="#06cff0" stroke-width=".35"/><path d="M326.1 98.3L328.8 98.1 331 99.1 328.3 100.1z" fill="#00baf6"/><path d="M349.1 98.6L351.8 94.5 354 96.2 351.3 100.1z" fill="#17e2e4"/><path d="M335.5 93.6L336.3 92 336.9 91.6 336.1 93.3z" fill="#e1e817" stroke="#e1e817" stroke-width=".35"/><path d="M336.9 91.6L337.7 90.7 338.3 91.1 337.5 92z" fill="#efd40a" stroke="#efd40a" stroke-width=".35"/><path d="M338.3 91.1L339.1 91.3 339.7 92.5 338.9 92.4z" fill="#ebdb0e" stroke="#ebdb0e" stroke-width=".35"/><path d="M330.6 99L331.4 98.4 332 98.5 331.2 99.3z" fill="#00c4f7" stroke="#00c4f7" stroke-width=".35"/><path d="M307.2 99.8L310 97.1 312.1 98.9 309.4 101.4z" fill="#00b2f9"/><path d="M332 98.5L332.8 97.5 333.4 97.3 332.6 98.5z" fill="#0fd8e9" stroke="#0fd8e9" stroke-width=".35"/><path d="M353.3 96.4L356 92.4 358.1 96.4 355.4 99.4z" fill="#4af6b4"/><path d="M339.7 92.5L340.4 93.5 341 95 340.3 94.3z" fill="#baf03d" stroke="#baf03d" stroke-width=".35"/><path d="M333.4 97.3L334.1 95.8 334.8 95.5 334 97.2z" fill="#3befbd" stroke="#3befbd" stroke-width=".35"/><path d="M341 95L341.8 95.8 342.4 97.1 341.7 96.6z" fill="#4cefab" stroke="#4cefab" stroke-width=".35"/><path d="M342.4 97.1L343.2 97.6 343.8 98.5 343 98.3z" fill="#13dae4" stroke="#13dae4" stroke-width=".35"/><path d="M334.8 95.5L335.5 93.6 336.1 93.3 335.4 95.4z" fill="#a6f755" stroke="#a6f755" stroke-width=".35"/><path d="M311.4 99.2L314.1 96.8 316.3 96.3 313.5 99.4z" fill="#13dae3"/><path d="M357.4 96.2L360.1 95 362.3 98.4 359.5 99.5z" fill="#21ead9"/><path d="M336.1 93.3L336.9 91.6 337.5 92 336.7 93.7z" fill="#eae814" stroke="#eae814" stroke-width=".35"/><path d="M337.5 92L338.3 91.1 338.9 92.4 338.1 93.2z" fill="#f0e00f" stroke="#f0e00f" stroke-width=".35"/><path d="M331.2 99.3L332 98.5 332.6 98.5 331.8 99.5z" fill="#02cdf5" stroke="#02cdf5" stroke-width=".35"/><path d="M338.9 92.4L339.7 92.5 340.3 94.3 339.5 94.3z" fill="#e2f01b" stroke="#e2f01b" stroke-width=".35"/><path d="M332.6 98.5L333.4 97.3 334 97.2 333.2 98.6z" fill="#17e0e2" stroke="#17e0e2" stroke-width=".35"/><path d="M340.3 94.3L341 95 341.7 96.6 340.9 96.2z" fill="#7ef97c" stroke="#7ef97c" stroke-width=".35"/><path d="M361.5 98.1L364.3 98.2 366.4 99.2 363.7 98.8z" fill="#0bd1e8"/><path d="M315.5 96.7L318.2 95.5 320.4 94.4 317.7 95.6z" fill="#78f07a"/><path d="M341.7 96.6L342.4 97.1 343 98.3 342.3 98.1z" fill="#21e8d8" stroke="#21e8d8" stroke-width=".35"/><path d="M334 97.2L334.8 95.5 335.4 95.4 334.6 97.3z" fill="#56f5a5" stroke="#56f5a5" stroke-width=".35"/><path d="M335.4 95.4L336.1 93.3 336.7 93.7 336 95.8z" fill="#b6f949" stroke="#b6f949" stroke-width=".35"/><path d="M336.7 93.7L337.5 92 338.1 93.2 337.4 94.8z" fill="#eaf218" stroke="#eaf218" stroke-width=".35"/><path d="M342.7 98.1L345.4 98.5 347.5 100.4 344.8 101.1z" fill="#00c2f7"/><path d="M319.6 94.4L322.4 96 324.5 97.2 321.8 95.4z" fill="#79f078"/><path d="M365.7 99L368.4 99.4 370.6 100.1 367.8 98.8z" fill="#00c5f1"/><path d="M338.1 93.2L338.9 92.4 339.5 94.3 338.7 95z" fill="#e6f51b" stroke="#e6f51b" stroke-width=".35"/><path d="M331.8 99.5L332.6 98.5 333.2 98.6 332.4 99.7z" fill="#07d2f2" stroke="#07d2f2" stroke-width=".35"/><path d="M339.5 94.3L340.3 94.3 340.9 96.2 340.1 96.3z" fill="#9dfc62" stroke="#9dfc62" stroke-width=".35"/><path d="M340.9 96.2L341.7 96.6 342.3 98.1 341.5 98z" fill="#3bf1c0" stroke="#3bf1c0" stroke-width=".35"/><path d="M323.8 96.6L326.5 98.3 328.7 100.2 325.9 99.4z" fill="#11d7e3"/><path d="M346.8 100.3L349.5 98.1 351.7 99.6 349 101.6z" fill="#00bbf8"/><path d="M333.2 98.6L334 97.2 334.6 97.3 333.8 98.9z" fill="#1de7de" stroke="#1de7de" stroke-width=".35"/><path d="M334.6 97.3L335.4 95.4 336 95.8 335.2 97.7z" fill="#61f99d" stroke="#61f99d" stroke-width=".35"/><path d="M336 95.8L336.7 93.7 337.4 94.8 336.6 96.7z" fill="#abfe58" stroke="#abfe58" stroke-width=".35"/><path d="M327.9 99.9L330.7 98.9 332.8 99.7 330.1 101.7z" fill="#00bdf7"/><path d="M350.9 99.8L353.7 95.9 355.8 98.9 353.1 101.7z" fill="#0edaee"/><path d="M337.4 94.8L338.1 93.2 338.7 95 338 96.3z" fill="#c3fd41" stroke="#c3fd41" stroke-width=".35"/><path d="M338.7 95L339.5 94.3 340.1 96.3 339.3 96.9z" fill="#9fff63" stroke="#9fff63" stroke-width=".35"/><path d="M340.1 96.3L340.9 96.2 341.5 98 340.7 98.1z" fill="#50f6ae" stroke="#50f6ae" stroke-width=".35"/><path d="M332.4 99.7L333.2 98.6 333.8 98.9 333 100z" fill="#0ad6f0" stroke="#0ad6f0" stroke-width=".35"/><path d="M309.1 101.3L311.8 98.8 313.9 99 311.2 102.2z" fill="#00baf7"/><path d="M355.1 98.9L357.8 95.9 360 99.2 357.2 101.5z" fill="#15e1e7"/><path d="M333.8 98.9L334.6 97.3 335.2 97.7 334.4 99.3z" fill="#20ebdd" stroke="#20ebdd" stroke-width=".35"/><path d="M335.2 97.7L336 95.8 336.6 96.7 335.8 98.4z" fill="#58faa8" stroke="#58faa8" stroke-width=".35"/><path d="M336.6 96.7L337.4 94.8 338 96.3 337.2 97.8z" fill="#86ff7d" stroke="#86ff7d" stroke-width=".35"/><path d="M338 96.3L338.7 95 339.3 96.9 338.6 97.9z" fill="#83ff80" stroke="#83ff80" stroke-width=".35"/><path d="M359.2 99.2L361.9 98 364.1 98.8 361.4 99.9z" fill="#16dcdf"/><path d="M313.2 99.5L315.9 96.3 318.1 95.2 315.4 99.2z" fill="#46eeb0"/><path d="M339.3 96.9L340.1 96.3 340.7 98.1 339.9 98.6z" fill="#51f9b0" stroke="#51f9b0" stroke-width=".35"/><path d="M333 100L333.8 98.9 334.4 99.3 333.7 100.4z" fill="#0bd8ef" stroke="#0bd8ef" stroke-width=".35"/><path d="M334.4 99.3L335.2 97.7 335.8 98.4 335 99.9z" fill="#1eeae0" stroke="#1eeae0" stroke-width=".35"/><path d="M340.3 97.9L343.1 98.1 345.2 101.1 342.5 101.8z" fill="#0cd7ed"/><path d="M317.3 95.6L320.1 94.4 322.2 95.5 319.5 96.6z" fill="#b4f042"/><path d="M363.4 98.8L366.1 99.1 368.2 98.9 365.5 97.7z" fill="#20e0cf"/><path d="M335.8 98.4L336.6 96.7 337.2 97.8 336.4 99.3z" fill="#3df7c4" stroke="#3df7c4" stroke-width=".35"/><path d="M337.2 97.8L338 96.3 338.6 97.9 337.8 99.1z" fill="#50fbb3" stroke="#50fbb3" stroke-width=".35"/><path d="M338.6 97.9L339.3 96.9 339.9 98.6 339.2 99.4z" fill="#3cf7c5" stroke="#3cf7c5" stroke-width=".35"/><path d="M321.5 95.1L324.2 96.8 326.4 99.6 323.6 98.7z" fill="#5bf09b"/><path d="M344.5 100.8L347.2 100.1 349.4 101.4 346.6 101.9z" fill="#00b3f5"/><path d="M367.5 98.7L370.2 100.1 372.4 101 369.7 99z" fill="#10d3e0"/><path d="M333.7 100.4L334.4 99.3 335 99.9 334.3 100.9z" fill="#0ad7f1" stroke="#0ad7f1" stroke-width=".35"/><path d="M325.6 99.1L328.3 99.8 330.5 101.6 327.8 102z" fill="#02cbf4"/><path d="M348.6 101.4L351.4 99.4 353.5 101.3 350.8 102.2z" fill="#00bcf7"/><path d="M335 99.9L335.8 98.4 336.4 99.3 335.6 100.5z" fill="#18e5e7" stroke="#18e5e7" stroke-width=".35"/><path d="M336.4 99.3L337.2 97.8 337.8 99.1 337 100.3z" fill="#21efdf" stroke="#21efdf" stroke-width=".35"/><path d="M337.8 99.1L338.6 97.9 339.2 99.4 338.4 100.3z" fill="#22efdf" stroke="#22efdf" stroke-width=".35"/><path d="M352.8 101.3L355.5 98.5 357.7 101.1 354.9 103z" fill="#00cafa"/><path d="M329.8 101.5L332.5 99.5 334.6 100.9 331.9 102.9z" fill="#00bff8"/><path d="M348.2 101.6L349 101.4 349.6 101.6 348.8 101.8z" fill="#00aff4" stroke="#00aff4" stroke-width=".35"/><path d="M334.3 100.9L335 99.9 335.6 100.5 334.9 101.5z" fill="#07d4f5" stroke="#07d4f5" stroke-width=".35"/><path d="M335.6 100.5L336.4 99.3 337 100.3 336.3 101.3z" fill="#0fddee" stroke="#0fddee" stroke-width=".35"/><path d="M356.9 101.2L359.6 98.9 361.8 99.7 359.1 102.2z" fill="#0cd6eb"/><path d="M310.9 102.1L313.6 98.9 315.8 98.7 313 102.9z" fill="#09d3ef"/><path d="M337 100.3L337.8 99.1 338.4 100.3 337.6 101.2z" fill="#13e1eb" stroke="#13e1eb" stroke-width=".35"/><path d="M338 100.2L340.8 97.7 342.9 101.6 340.2 103.2z" fill="#0cd9f0"/><path d="M347.5 101.7L348.2 101.6 348.8 101.8 348.1 101.8z" fill="#00b7f3" stroke="#00b7f3" stroke-width=".35"/><path d="M315 99.2L317.8 95.2 319.9 96.2 317.2 100.4z" fill="#7cf97e"/><path d="M361 100L363.8 98.8 365.9 97.6 363.2 98.8z" fill="#45e9ac"/><path d="M348.8 101.8L349.6 101.6 350.2 101.9 349.4 101.9z" fill="#00b7f3" stroke="#00b7f3" stroke-width=".35"/><path d="M334.9 101.5L335.6 100.5 336.3 101.3 335.5 102.1z" fill="#02d0f9" stroke="#02d0f9" stroke-width=".35"/><path d="M336.3 101.3L337 100.3 337.6 101.2 336.9 102z" fill="#07d5f6" stroke="#07d5f6" stroke-width=".35"/><path d="M319.2 96.3L321.9 95.1 324 98.7 321.3 99.9z" fill="#93f968"/><path d="M342.2 101.5L344.9 100.7 347.1 101.8 344.3 102.4z" fill="#00c5f5"/><path d="M365.2 97.7L367.9 99 370.1 99.3 367.3 97.4z" fill="#66eb89"/><path d="M346.7 101.8L347.5 101.7 348.1 101.8 347.3 101.7z" fill="#00c2f1" stroke="#00c2f1" stroke-width=".35"/><path d="M323.3 98.2L326 99.1 328.2 102 325.5 102z" fill="#1be2dc"/><path d="M348.1 101.8L348.8 101.8 349.4 101.9 348.7 101.7z" fill="#00c4f1" stroke="#00c4f1" stroke-width=".35"/><path d="M369.3 98.8L372.1 100.9 374.2 102.6 371.5 101z" fill="#12d7e0"/><path d="M349.4 101.9L350.2 101.9 350.8 102.1 350.1 101.8z" fill="#00c2f2" stroke="#00c2f2" stroke-width=".35"/><path d="M335.5 102.1L336.3 101.3 336.9 102 336.1 102.6z" fill="#00c7fa" stroke="#00c7fa" stroke-width=".35"/><path d="M350.5 102L353.2 101.1 355.3 102.8 352.6 102.8z" fill="#00bff5"/><path d="M327.4 101.7L330.2 101.3 332.3 102.8 329.6 103.1z" fill="#00bdf5"/><path d="M345.9 101.9L346.7 101.8 347.3 101.7 346.5 101.6z" fill="#05c9eb" stroke="#05c9eb" stroke-width=".35"/><path d="M347.3 101.7L348.1 101.8 348.7 101.7 347.9 101.3z" fill="#09cbe6" stroke="#09cbe6" stroke-width=".35"/><path d="M331.6 102.7L334.3 100.7 336.5 102.7 333.7 103.7z" fill="#00bdf7"/><path d="M348.7 101.7L349.4 101.9 350.1 101.8 349.3 101.3z" fill="#09cbe6" stroke="#09cbe6" stroke-width=".35"/><path d="M354.6 102.8L357.3 100.9 359.5 101.9 356.8 104.1z" fill="#00c0f7"/><path d="M350.1 101.8L350.8 102.1 351.4 102.2 350.7 101.8z" fill="#04c9ec" stroke="#04c9ec" stroke-width=".35"/><path d="M335.7 102.7L338.5 99.9 340.6 102.9 337.9 104.5z" fill="#00c5fa"/><path d="M345.1 102L345.9 101.9 346.5 101.6 345.8 101.6z" fill="#0bcee5" stroke="#0bcee5" stroke-width=".35"/><path d="M312.7 102.7L315.4 98.6 317.6 99.8 314.9 104.1z" fill="#14dfe7"/><path d="M358.7 102.2L361.5 99.6 363.6 98.5 360.9 102z" fill="#22e7d3"/><path d="M346.5 101.6L347.3 101.7 347.9 101.3 347.1 100.9z" fill="#13d2d8" stroke="#13d2d8" stroke-width=".35"/><path d="M347.9 101.3L348.7 101.7 349.3 101.3 348.5 100.5z" fill="#17d4d3" stroke="#17d4d3" stroke-width=".35"/><path d="M349.3 101.3L350.1 101.8 350.7 101.8 349.9 100.9z" fill="#14d2d8" stroke="#14d2d8" stroke-width=".35"/><path d="M316.9 100.1L319.6 95.9 321.7 99.5 319 102.9z" fill="#5cf8a2"/><path d="M339.9 102.9L342.6 101.3 344.7 102.2 342 104z" fill="#00c7f7"/><path d="M362.9 98.9L365.6 97.7 367.8 97.4 365 98.6z" fill="#9fef54"/><path d="M350.7 101.8L351.4 102.2 352 102.4 351.3 101.8z" fill="#0acde5" stroke="#0acde5" stroke-width=".35"/><path d="M344.4 102.3L345.1 102 345.8 101.6 345 101.8z" fill="#0ed1e2" stroke="#0ed1e2" stroke-width=".35"/><path d="M321 99.4L323.7 98.2 325.9 101.9 323.1 103.1z" fill="#2ff0cc"/><path d="M345.8 101.6L346.5 101.6 347.1 100.9 346.4 100.6z" fill="#1dd9cd" stroke="#1dd9cd" stroke-width=".35"/><path d="M367 97.2L369.7 99.1 371.9 101.2 369.2 99.7z" fill="#73f180"/><path d="M347.1 100.9L347.9 101.3 348.5 100.5 347.7 99.6z" fill="#32ddb4" stroke="#32ddb4" stroke-width=".35"/><path d="M348.5 100.5L349.3 101.3 349.9 100.9 349.1 99.5z" fill="#35dcb0" stroke="#35dcb0" stroke-width=".35"/><path d="M349.9 100.9L350.7 101.8 351.3 101.8 350.5 100.5z" fill="#1fdaca" stroke="#1fdaca" stroke-width=".35"/><path d="M371.2 100.6L373.9 102.2 376 104.3 373.3 103.7z" fill="#04cdf0"/><path d="M325.1 101.6L327.9 101.6 330 103.1 327.3 103z" fill="#0bd2e9"/><path d="M343.6 102.7L344.4 102.3 345 101.8 344.2 102.3z" fill="#0ed2e3" stroke="#0ed2e3" stroke-width=".35"/><path d="M351.3 101.8L352 102.4 352.7 102.7 351.9 101.9z" fill="#0fd1df" stroke="#0fd1df" stroke-width=".35"/><path d="M345 101.8L345.8 101.6 346.4 100.6 345.6 100.7z" fill="#23dfc7" stroke="#23dfc7" stroke-width=".35"/><path d="M329.3 102.9L332 102.6 334.2 103.6 331.4 102.9z" fill="#02c8f1"/><path d="M346.4 100.6L347.1 100.9 347.7 99.6 347 98.9z" fill="#5de086" stroke="#5de086" stroke-width=".35"/><path d="M352.3 102.6L355 102.6 357.2 103.9 354.4 104.3z" fill="#00c0f5"/><path d="M347.7 99.6L348.5 100.5 349.1 99.5 348.4 98z" fill="#7be065" stroke="#7be065" stroke-width=".35"/><path d="M349.1 99.5L349.9 100.9 350.5 100.5 349.7 98.6z" fill="#69e079" stroke="#69e079" stroke-width=".35"/><path d="M333.4 103.5L336.1 102.5 338.3 104.3 335.6 104.5z" fill="#00baf6"/><path d="M342.8 103.2L343.6 102.7 344.2 102.3 343.4 102.9z" fill="#0bd0e8" stroke="#0bd0e8" stroke-width=".35"/><path d="M350.5 100.5L351.3 101.8 351.9 101.9 351.1 100.3z" fill="#33dfb6" stroke="#33dfb6" stroke-width=".35"/><path d="M356.4 104L359.2 101.8 361.3 101.6 358.6 104.9z" fill="#06cff2"/><path d="M344.2 102.3L345 101.8 345.6 100.7 344.8 101.3z" fill="#24e1c9" stroke="#24e1c9" stroke-width=".35"/><path d="M351.9 101.9L352.7 102.7 353.3 103.1 352.5 102.2z" fill="#12d3dd" stroke="#12d3dd" stroke-width=".35"/><path d="M345.6 100.7L346.4 100.6 347 98.9 346.2 98.9z" fill="#79e46c" stroke="#79e46c" stroke-width=".35"/><path d="M347 98.9L347.7 99.6 348.4 98 347.6 96.7z" fill="#b4d529" stroke="#b4d529" stroke-width=".35"/><path d="M314.5 103.8L317.3 99.5 319.4 102.3 316.7 105.8z" fill="#0ddbef"/><path d="M337.6 104.3L340.3 102.6 342.4 103.8 339.7 105.6z" fill="#00b4f7"/><path d="M360.6 102.1L363.3 98.5 365.4 98.2 362.7 102.4z" fill="#6bf48c"/><path d="M348.4 98L349.1 99.5 349.7 98.6 349 96.3z" fill="#bed21e" stroke="#bed21e" stroke-width=".35"/><path d="M342.1 103.8L342.8 103.2 343.4 102.9 342.7 103.7z" fill="#05cdef" stroke="#05cdef" stroke-width=".35"/><path d="M349.7 98.6L350.5 100.5 351.1 100.3 350.3 98z" fill="#91de50" stroke="#91de50" stroke-width=".35"/><path d="M318.7 102.4L321.4 99 323.6 102.8 320.8 105.3z" fill="#1ae6e3"/><path d="M343.4 102.9L344.2 102.3 344.8 101.3 344.1 102.2z" fill="#1eded2" stroke="#1eded2" stroke-width=".35"/><path d="M351.1 100.3L351.9 101.9 352.5 102.2 351.7 100.6z" fill="#40e1aa" stroke="#40e1aa" stroke-width=".35"/><path d="M364.7 98.4L367.4 97.3 369.6 99.8 366.9 101z" fill="#aff349"/><path d="M344.8 101.3L345.6 100.7 346.2 98.9 345.4 99.6z" fill="#7be76d" stroke="#7be76d" stroke-width=".35"/><path d="M352.5 102.2L353.3 103.1 353.9 103.5 353.1 102.8z" fill="#11d4df" stroke="#11d4df" stroke-width=".35"/><path d="M346.2 98.9L347 98.9 347.6 96.7 346.8 96.4z" fill="#ccce13" stroke="#ccce13" stroke-width=".35"/><path d="M347.6 96.7L348.4 98 349 96.3 348.2 94.5z" fill="#d3b507" stroke="#d3b507" stroke-width=".35"/><path d="M368.8 99.3L371.6 100.8 373.7 103.9 371 103.4z" fill="#31ecc6"/><path d="M322.8 102.7L325.5 101.5 327.7 102.9 325 104.1z" fill="#15dde1"/><path d="M341.3 104.4L342.1 103.8 342.7 103.7 341.9 104.5z" fill="#00c5f5" stroke="#00c5f5" stroke-width=".35"/><path d="M349 96.3L349.7 98.6 350.3 98 349.6 95.3z" fill="#d0bf0c" stroke="#d0bf0c" stroke-width=".35"/><path d="M350.3 98L351.1 100.3 351.7 100.6 351 98.2z" fill="#a6dd3d" stroke="#a6dd3d" stroke-width=".35"/><path d="M342.7 103.7L343.4 102.9 344.1 102.2 343.3 103.3z" fill="#14d8df" stroke="#14d8df" stroke-width=".35"/><path d="M327 103L329.7 103 331.8 103 329.1 102.1z" fill="#1adbd6"/><path d="M344.1 102.2L344.8 101.3 345.4 99.6 344.7 100.9z" fill="#61e98c" stroke="#61e98c" stroke-width=".35"/><path d="M351.7 100.6L352.5 102.2 353.1 102.8 352.3 101.4z" fill="#3ce4b1" stroke="#3ce4b1" stroke-width=".35"/><path d="M373 103.4L375.7 104 377.9 105.8 375.1 105.7z" fill="#00b3f5"/><path d="M345.4 99.6L346.2 98.9 346.8 96.4 346 97.4z" fill="#d1d313" stroke="#d1d313" stroke-width=".35"/><path d="M353.1 102.8L353.9 103.5 354.5 104.1 353.7 103.6z" fill="#0dd2e5" stroke="#0dd2e5" stroke-width=".35"/><path d="M346.8 96.4L347.6 96.7 348.2 94.5 347.4 94z" fill="#dda600" stroke="#dda600" stroke-width=".35"/><path d="M331.1 102.8L333.8 103.6 336 104.6 333.3 102.9z" fill="#10d4e0"/><path d="M340.5 104.9L341.3 104.4 341.9 104.5 341.1 105.1z" fill="#00b9f6" stroke="#00b9f6" stroke-width=".35"/><path d="M354.1 104L356.8 103.7 359 104.7 356.3 106.2z" fill="#00bdf6"/><path d="M348.2 94.5L349 96.3 349.6 95.3 348.8 93.1z" fill="#db9c00" stroke="#db9c00" stroke-width=".35"/><path d="M349.6 95.3L350.3 98 351 98.2 350.2 95.4z" fill="#dab806" stroke="#dab806" stroke-width=".35"/><path d="M341.9 104.5L342.7 103.7 343.3 103.3 342.5 104.3z" fill="#09d0ec" stroke="#09d0ec" stroke-width=".35"/><path d="M343.3 103.3L344.1 102.2 344.7 100.9 343.9 102.5z" fill="#35e7bc" stroke="#35e7bc" stroke-width=".35"/><path d="M351 98.2L351.7 100.6 352.3 101.4 351.6 99.2z" fill="#a3e345" stroke="#a3e345" stroke-width=".35"/><path d="M344.7 100.9L345.4 99.6 346 97.4 345.3 99.3z" fill="#bfe22c" stroke="#bfe22c" stroke-width=".35"/><path d="M358.3 104.9L361 101.5 363.1 101.8 360.4 106z" fill="#14dee5"/><path d="M335.2 104.3L338 104.1 340.1 105.5 337.4 105.8z" fill="#00b9f5"/><path d="M352.3 101.4L353.1 102.8 353.7 103.6 352.9 102.5z" fill="#28e4c8" stroke="#28e4c8" stroke-width=".35"/><path d="M353.7 103.6L354.5 104.1 355.1 104.8 354.3 104.4z" fill="#07cfed" stroke="#07cfed" stroke-width=".35"/><path d="M346 97.4L346.8 96.4 347.4 94 346.7 95.2z" fill="#e5ac00" stroke="#e5ac00" stroke-width=".35"/><path d="M339.8 105.4L340.5 104.9 341.1 105.1 340.4 105.6z" fill="#00b1f6" stroke="#00b1f6" stroke-width=".35"/><path d="M347.4 94L348.2 94.5 348.8 93.1 348 92.4z" fill="#e28c00" stroke="#e28c00" stroke-width=".35"/><path d="M348.8 93.1L349.6 95.3 350.2 95.4 349.4 93.1z" fill="#e39400" stroke="#e39400" stroke-width=".35"/><path d="M316.4 105.4L319.1 101.9 321.3 104.9 318.5 107.5z" fill="#00c5fb"/><path d="M341.1 105.1L341.9 104.5 342.5 104.3 341.7 105.2z" fill="#00c8f6" stroke="#00c8f6" stroke-width=".35"/><path d="M362.4 102.2L365.1 98 367.3 100.6 364.5 104.3z" fill="#79fa84"/><path d="M342.5 104.3L343.3 103.3 343.9 102.5 343.1 104z" fill="#18dedc" stroke="#18dedc" stroke-width=".35"/><path d="M350.2 95.4L351 98.2 351.6 99.2 350.8 96.7z" fill="#dfc208" stroke="#dfc208" stroke-width=".35"/><path d="M343.9 102.5L344.7 100.9 345.3 99.3 344.5 101.5z" fill="#84f16d" stroke="#84f16d" stroke-width=".35"/><path d="M351.6 99.2L352.3 101.4 352.9 102.5 352.2 100.8z" fill="#87ed67" stroke="#87ed67" stroke-width=".35"/><path d="M352.9 102.5L353.7 103.6 354.3 104.4 353.6 103.7z" fill="#1bded9" stroke="#1bded9" stroke-width=".35"/><path d="M345.3 99.3L346 97.4 346.7 95.2 345.9 97.7z" fill="#e6c607" stroke="#e6c607" stroke-width=".35"/><path d="M366.5 100.4L369.3 99.3 371.4 103.4 368.7 104.5z" fill="#62f699"/><path d="M320.5 105L323.2 102.4 325.4 103.9 322.7 106.4z" fill="#0ad5ef"/><path d="M354.3 104.4L355.1 104.8 355.7 105.4 354.9 105.3z" fill="#01caf5" stroke="#01caf5" stroke-width=".35"/><path d="M346.7 95.2L347.4 94 348 92.4 347.3 93.7z" fill="#ed9200" stroke="#ed9200" stroke-width=".35"/><path d="M348 92.4L348.8 93.1 349.4 93.1 348.6 92.3z" fill="#ed8200" stroke="#ed8200" stroke-width=".35"/><path d="M340.4 105.6L341.1 105.1 341.7 105.2 341 105.9z" fill="#00baf6" stroke="#00baf6" stroke-width=".35"/><path d="M324.6 104.1L327.4 102.9 329.5 102 326.8 103.2z" fill="#2de7c5"/><path d="M341.7 105.2L342.5 104.3 343.1 104 342.4 105.2z" fill="#09d2ed" stroke="#09d2ed" stroke-width=".35"/><path d="M349.4 93.1L350.2 95.4 350.8 96.7 350 94.6z" fill="#ed9f00" stroke="#ed9f00" stroke-width=".35"/><path d="M370.7 102.9L373.4 103.4 375.6 105.7 372.8 105.7z" fill="#0ed6e8"/><path d="M343.1 104L343.9 102.5 344.5 101.5 343.7 103.6z" fill="#39ecbc" stroke="#39ecbc" stroke-width=".35"/><path d="M350.8 96.7L351.6 99.2 352.2 100.8 351.4 98.9z" fill="#dcda13" stroke="#dcda13" stroke-width=".35"/><path d="M344.5 101.5L345.3 99.3 345.9 97.7 345.1 100.6z" fill="#d3e921" stroke="#d3e921" stroke-width=".35"/><path d="M352.2 100.8L352.9 102.5 353.6 103.7 352.8 102.7z" fill="#55ed9e" stroke="#55ed9e" stroke-width=".35"/><path d="M328.8 102.1L331.5 103 333.7 103.1 330.9 101.3z" fill="#58e997"/><path d="M374.8 105.4L377.5 105.5 379.7 106.6 377 106z" fill="#00b1f3"/><path d="M353.6 103.7L354.3 104.4 354.9 105.3 354.2 104.9z" fill="#0fd6e7" stroke="#0fd6e7" stroke-width=".35"/><path d="M345.9 97.7L346.7 95.2 347.3 93.7 346.5 96.6z" fill="#f5ae00" stroke="#f5ae00" stroke-width=".35"/><path d="M347.3 93.7L348 92.4 348.6 92.3 347.9 93.7z" fill="#f98900" stroke="#f98900" stroke-width=".35"/><path d="M354.9 105.3L355.7 105.4 356.3 106 355.5 106z" fill="#00bff6" stroke="#00bff6" stroke-width=".35"/><path d="M348.6 92.3L349.4 93.1 350 94.6 349.3 94z" fill="#f88e00" stroke="#f88e00" stroke-width=".35"/><path d="M341 105.9L341.7 105.2 342.4 105.2 341.6 106.1z" fill="#00c6f7" stroke="#00c6f7" stroke-width=".35"/><path d="M342.4 105.2L343.1 104 343.7 103.6 343 105.1z" fill="#15dde3" stroke="#15dde3" stroke-width=".35"/><path d="M355.9 106L358.7 104.4 360.8 105.5 358.1 107.8z" fill="#00bbf8"/><path d="M332.9 102.7L335.7 104.4 337.8 105.9 335.1 104.4z" fill="#17dadb"/><path d="M350 94.6L350.8 96.7 351.4 98.9 350.6 97.4z" fill="#f5bb00" stroke="#f5bb00" stroke-width=".35"/><path d="M351.4 98.9L352.2 100.8 352.8 102.7 352 101.4z" fill="#adef48" stroke="#adef48" stroke-width=".35"/><path d="M343.7 103.6L344.5 101.5 345.1 100.6 344.3 103.2z" fill="#73f585" stroke="#73f585" stroke-width=".35"/><path d="M352.8 102.7L353.6 103.7 354.2 104.9 353.4 104.4z" fill="#22e7d4" stroke="#22e7d4" stroke-width=".35"/><path d="M345.1 100.6L345.9 97.7 346.5 96.6 345.7 100z" fill="#edd90d" stroke="#edd90d" stroke-width=".35"/><path d="M346.5 96.6L347.3 93.7 347.9 93.7 347.1 96.7z" fill="#ffa700" stroke="#ffa700" stroke-width=".35"/><path d="M337.1 105.6L339.8 105.2 342 106.1 339.2 107.5z" fill="#00bbf6"/><path d="M360.1 105.8L362.8 101.6 365 103.7 362.2 107.4z" fill="#16e2e5"/><path d="M354.2 104.9L354.9 105.3 355.5 106 354.8 106z" fill="#04cdf3" stroke="#04cdf3" stroke-width=".35"/><path d="M347.9 93.7L348.6 92.3 349.3 94 348.5 95.3z" fill="#ff9400" stroke="#ff9400" stroke-width=".35"/><path d="M341.6 106.1L342.4 105.2 343 105.1 342.2 106.2z" fill="#04cff3" stroke="#04cff3" stroke-width=".35"/><path d="M349.3 94L350 94.6 350.6 97.4 349.9 97z" fill="#ffad00" stroke="#ffad00" stroke-width=".35"/><path d="M350.6 97.4L351.4 98.9 352 101.4 351.2 100.5z" fill="#e8e313" stroke="#e8e313" stroke-width=".35"/><path d="M343 105.1L343.7 103.6 344.3 103.2 343.6 105.1z" fill="#21e9d8" stroke="#21e9d8" stroke-width=".35"/><path d="M364.2 103.9L366.9 100.1 369.1 104.2 366.4 107z" fill="#35f3c9"/><path d="M318.2 107.2L320.9 104.6 323.1 106 320.4 108.6z" fill="#00b0f9"/><path d="M352 101.4L352.8 102.7 353.4 104.4 352.6 103.7z" fill="#5df39b" stroke="#5df39b" stroke-width=".35"/><path d="M344.3 103.2L345.1 100.6 345.7 100 344.9 103z" fill="#a3f959" stroke="#a3f959" stroke-width=".35"/><path d="M345.7 100L346.5 96.6 347.1 96.7 346.3 100.2z" fill="#fbd406" stroke="#fbd406" stroke-width=".35"/><path d="M353.4 104.4L354.2 104.9 354.8 106 354 105.7z" fill="#10d9e7" stroke="#10d9e7" stroke-width=".35"/><path d="M322.3 106.3L325.1 103.8 327.2 102.9 324.5 106.2z" fill="#1adfdc"/><path d="M347.1 96.7L347.9 93.7 348.5 95.3 347.7 98z" fill="#ffb200" stroke="#ffb200" stroke-width=".35"/><path d="M368.4 104L371.1 102.8 373.2 105.6 370.5 106.8z" fill="#1be3df"/><path d="M348.5 95.3L349.3 94 349.9 97 349.1 98.1z" fill="#ffb300" stroke="#ffb300" stroke-width=".35"/><path d="M349.9 97L350.6 97.4 351.2 100.5 350.5 100.3z" fill="#f9d809" stroke="#f9d809" stroke-width=".35"/><path d="M342.2 106.2L343 105.1 343.6 105.1 342.8 106.4z" fill="#0bd6ee" stroke="#0bd6ee" stroke-width=".35"/><path d="M326.5 103.3L329.2 102.1 331.4 101.3 328.6 102.5z" fill="#8ef164"/><path d="M372.5 105.5L375.2 105.5 377.4 106.1 374.7 105.5z" fill="#0ed2e4"/><path d="M351.2 100.5L352 101.4 352.6 103.7 351.8 103.2z" fill="#9afa62" stroke="#9afa62" stroke-width=".35"/><path d="M343.6 105.1L344.3 103.2 344.9 103 344.2 105.2z" fill="#37f2c5" stroke="#37f2c5" stroke-width=".35"/><path d="M344.9 103L345.7 100 346.3 100.2 345.6 103.3z" fill="#bcfa45" stroke="#bcfa45" stroke-width=".35"/><path d="M352.6 103.7L353.4 104.4 354 105.7 353.2 105.5z" fill="#1fe7da" stroke="#1fe7da" stroke-width=".35"/><path d="M346.3 100.2L347.1 96.7 347.7 98 346.9 101.2z" fill="#ffdd09" stroke="#ffdd09" stroke-width=".35"/><path d="M353.6 105.5L356.4 105.8 358.5 107.6 355.8 108.4z" fill="#00bef7"/><path d="M376.6 105.9L379.4 106.5 381.5 107.2 378.8 105.6z" fill="#04c9ec"/><path d="M330.6 101.2L333.3 103 335.5 104.6 332.8 103z" fill="#7af178"/><path d="M347.7 98L348.5 95.3 349.1 98.1 348.3 100.2z" fill="#ffcd00" stroke="#ffcd00" stroke-width=".35"/><path d="M349.1 98.1L349.9 97 350.5 100.3 349.7 101.1z" fill="#ffdd09" stroke="#ffdd09" stroke-width=".35"/><path d="M350.5 100.3L351.2 100.5 351.8 103.2 351.1 103.3z" fill="#c0fb42" stroke="#c0fb42" stroke-width=".35"/><path d="M342.8 106.4L343.6 105.1 344.2 105.2 343.4 106.7z" fill="#10dceb" stroke="#10dceb" stroke-width=".35"/><path d="M344.2 105.2L344.9 103 345.6 103.3 344.8 105.5z" fill="#45f6ba" stroke="#45f6ba" stroke-width=".35"/><path d="M334.8 104.1L337.5 105.6 339.6 107.5 336.9 107.1z" fill="#0dd4e8"/><path d="M357.8 107.5L360.5 105.3 362.7 106.9 359.9 108.8z" fill="#00bbf8"/><path d="M351.8 103.2L352.6 103.7 353.2 105.5 352.5 105.4z" fill="#3af2c2" stroke="#3af2c2" stroke-width=".35"/><path d="M345.6 103.3L346.3 100.2 346.9 101.2 346.2 104z" fill="#b7ff4e" stroke="#b7ff4e" stroke-width=".35"/><path d="M346.9 101.2L347.7 98 348.3 100.2 347.5 102.8z" fill="#f6f315" stroke="#f6f315" stroke-width=".35"/><path d="M348.3 100.2L349.1 98.1 349.7 101.1 348.9 102.8z" fill="#f7f214" stroke="#f7f214" stroke-width=".35"/><path d="M338.9 107.3L341.6 105.9 343.8 106.6 341.1 109z" fill="#00c1f7"/><path d="M361.9 107.1L364.6 103.4 366.8 106.5 364.1 109z" fill="#0ad7f2"/><path d="M349.7 101.1L350.5 100.3 351.1 103.3 350.3 103.9z" fill="#c3ff44" stroke="#c3ff44" stroke-width=".35"/><path d="M343.4 106.7L344.2 105.2 344.8 105.5 344 107.1z" fill="#13dfe9" stroke="#13dfe9" stroke-width=".35"/><path d="M351.1 103.3L351.8 103.2 352.5 105.4 351.7 105.5z" fill="#52f9ae" stroke="#52f9ae" stroke-width=".35"/><path d="M320 108.4L322.8 105.9 324.9 105.8 322.2 109.2z" fill="#00c2f7"/><path d="M344.8 105.5L345.6 103.3 346.2 104 345.4 106.1z" fill="#41f8c0" stroke="#41f8c0" stroke-width=".35"/><path d="M366 106.5L368.8 103.7 370.9 106.5 368.2 108.7z" fill="#10dbeb"/><path d="M346.2 104L346.9 101.2 347.5 102.8 346.8 105.1z" fill="#95ff71" stroke="#95ff71" stroke-width=".35"/><path d="M347.5 102.8L348.3 100.2 348.9 102.8 348.2 104.7z" fill="#bcff4e" stroke="#bcff4e" stroke-width=".35"/><path d="M324.2 106.3L326.9 102.9 329 102.1 326.3 106.3z" fill="#59f19e"/><path d="M370.2 106.6L372.9 105.4 375.1 105.5 372.3 106.6z" fill="#1adeda"/><path d="M348.9 102.8L349.7 101.1 350.3 103.9 349.5 105z" fill="#a1ff67" stroke="#a1ff67" stroke-width=".35"/><path d="M350.3 103.9L351.1 103.3 351.7 105.5 350.9 106z" fill="#53fbaf" stroke="#53fbaf" stroke-width=".35"/><path d="M344 107.1L344.8 105.5 345.4 106.1 344.6 107.5z" fill="#12dfeb" stroke="#12dfeb" stroke-width=".35"/><path d="M351.3 105.3L354 105.5 356.2 108.4 353.5 109.2z" fill="#09d4ef"/><path d="M374.3 105.6L377.1 106.1 379.2 105.8 376.5 104.3z" fill="#2fe4c0"/><path d="M328.3 102.4L331 101.3 333.2 103 330.5 104.2z" fill="#b5f143"/><path d="M345.4 106.1L346.2 104 346.8 105.1 346 106.9z" fill="#2bf6d7" stroke="#2bf6d7" stroke-width=".35"/><path d="M346.8 105.1L347.5 102.8 348.2 104.7 347.4 106.4z" fill="#5bffaa" stroke="#5bffaa" stroke-width=".35"/><path d="M348.2 104.7L348.9 102.8 349.5 105 348.8 106.4z" fill="#63ffa4" stroke="#63ffa4" stroke-width=".35"/><path d="M332.4 102.6L335.2 104.2 337.3 107.2 334.6 106.6z" fill="#48efaf"/><path d="M355.5 108.1L358.2 107.3 360.3 108.6 357.6 109z" fill="#00b4f5"/><path d="M378.5 105.5L381.2 107.2 383.4 108.3 380.6 106.3z" fill="#12d5de"/><path d="M349.5 105L350.3 103.9 350.9 106 350.1 106.8z" fill="#3cf9c7" stroke="#3cf9c7" stroke-width=".35"/><path d="M344.6 107.5L345.4 106.1 346 106.9 345.2 108.1z" fill="#0edcf0" stroke="#0edcf0" stroke-width=".35"/><path d="M346 106.9L346.8 105.1 347.4 106.4 346.6 107.8z" fill="#1cebe5" stroke="#1cebe5" stroke-width=".35"/><path d="M336.6 106.7L339.3 107.1 341.5 108.9 338.7 109.3z" fill="#00c7f6"/><path d="M359.6 108.6L362.3 106.7 364.5 108.6 361.8 109.4z" fill="#00bbf7"/><path d="M347.4 106.4L348.2 104.7 348.8 106.4 348 107.6z" fill="#24f4df" stroke="#24f4df" stroke-width=".35"/><path d="M348.8 106.4L349.5 105 350.1 106.8 349.4 107.7z" fill="#20f0e2" stroke="#20f0e2" stroke-width=".35"/><path d="M340.7 108.8L343.5 106.4 345.6 108.1 342.9 110.1z" fill="#00c3f8"/><path d="M363.7 108.6L366.5 106.1 368.6 108.4 365.9 110.3z" fill="#00c4f9"/><path d="M359.2 108.7L360 108.5 360.6 108.8 359.8 108.9z" fill="#00b3f4" stroke="#00b3f4" stroke-width=".35"/><path d="M345.2 108.1L346 106.9 346.6 107.8 345.8 108.8z" fill="#08d6f5" stroke="#08d6f5" stroke-width=".35"/><path d="M321.9 109.2L324.6 105.7 326.7 105.7 324 110z" fill="#0dd7ec"/><path d="M367.9 108.5L370.6 106.3 372.8 106.4 370 109.1z" fill="#0fd8e7"/><path d="M346.6 107.8L347.4 106.4 348 107.6 347.2 108.6z" fill="#0fdef0" stroke="#0fdef0" stroke-width=".35"/><path d="M348 107.6L348.8 106.4 349.4 107.7 348.6 108.6z" fill="#11e0ef" stroke="#11e0ef" stroke-width=".35"/><path d="M349 107.7L351.7 105.1 353.9 109 351.2 110.5z" fill="#09d7f2"/><path d="M358.4 108.8L359.2 108.7 359.8 108.9 359 108.9z" fill="#00bcf3" stroke="#00bcf3" stroke-width=".35"/><path d="M372 106.7L374.7 105.6 376.9 104.3 374.2 105.5z" fill="#5eec93"/><path d="M326 106.2L328.7 102 330.9 103.8 328.1 107.9z" fill="#7dfa7f"/><path d="M359.8 108.9L360.6 108.8 361.2 109 360.4 109z" fill="#00bbf3" stroke="#00bbf3" stroke-width=".35"/><path d="M345.8 108.8L346.6 107.8 347.2 108.6 346.5 109.4z" fill="#01cffb" stroke="#01cffb" stroke-width=".35"/><path d="M330.1 103.8L332.9 102.6 335 106.6 332.3 107.8z" fill="#7dfa7f"/><path d="M353.1 108.8L355.9 108.1 358 108.9 355.3 109.2z" fill="#00c8f4"/><path d="M376.2 104.3L378.9 105.8 381 106.5 378.3 104.7z" fill="#71ee7f"/><path d="M347.2 108.6L348 107.6 348.6 108.6 347.8 109.4z" fill="#04d3f9" stroke="#04d3f9" stroke-width=".35"/><path d="M357.7 108.9L358.4 108.8 359 108.9 358.3 108.6z" fill="#02c7ef" stroke="#02c7ef" stroke-width=".35"/><path d="M334.3 106.1L337 106.7 339.2 109.3 336.4 109.4z" fill="#14dce3"/><path d="M359 108.9L359.8 108.9 360.4 109 359.6 108.7z" fill="#02c7ef" stroke="#02c7ef" stroke-width=".35"/><path d="M380.3 106L383 108.1 385.2 109.9 382.5 108.6z" fill="#10d5e3"/><path d="M360.4 109L361.2 109 361.8 109.3 361 109z" fill="#00c4f2" stroke="#00c4f2" stroke-width=".35"/><path d="M346.5 109.4L347.2 108.6 347.8 109.4 347.1 110z" fill="#00c2fa" stroke="#00c2fa" stroke-width=".35"/><path d="M361.4 109.2L364.2 108.4 366.3 110.1 363.6 110.3z" fill="#00bbf5"/><path d="M338.4 109.1L341.1 108.6 343.3 109.9 340.6 110z" fill="#00bdf5"/><path d="M356.9 108.9L357.7 108.9 358.3 108.6 357.5 108.3z" fill="#0acce3" stroke="#0acce3" stroke-width=".35"/><path d="M358.3 108.6L359 108.9 359.6 108.7 358.9 107.9z" fill="#0ecddd" stroke="#0ecddd" stroke-width=".35"/><path d="M359.6 108.7L360.4 109 361 109 360.3 108.2z" fill="#0bcce1" stroke="#0bcce1" stroke-width=".35"/><path d="M365.6 110.1L368.3 108.2 370.4 108.8 367.7 111.2z" fill="#00c3f7"/><path d="M342.6 109.9L345.3 107.9 347.4 110 344.7 110.8z" fill="#00bef7"/><path d="M361 109L361.8 109.3 362.4 109.5 361.6 109z" fill="#04c9ed" stroke="#04c9ed" stroke-width=".35"/><path d="M346.7 110L349.4 107.4 351.6 110.2 348.8 111.8z" fill="#00c0fa"/><path d="M356.1 108.9L356.9 108.9 357.5 108.3 356.7 108z" fill="#13d2d8" stroke="#13d2d8" stroke-width=".35"/><path d="M369.7 109.1L372.4 106.4 374.6 105.1 371.9 108.9z" fill="#33ebc3"/><path d="M323.7 109.9L326.4 105.6 328.6 107.2 325.8 111.4z" fill="#14e0e7"/><path d="M357.5 108.3L358.3 108.6 358.9 107.9 358.1 106.6z" fill="#20d6c4" stroke="#20d6c4" stroke-width=".35"/><path d="M358.9 107.9L359.6 108.7 360.3 108.2 359.5 106.4z" fill="#22d6c0" stroke="#22d6c0" stroke-width=".35"/><path d="M327.8 107.5L330.5 103.4 332.7 107.4 330 110.5z" fill="#48f6b6"/><path d="M350.8 110.2L353.6 108.7 355.7 109.1 353 111.1z" fill="#00c9f6"/><path d="M360.3 108.2L361 109 361.6 109 360.9 107.6z" fill="#17d3d1" stroke="#17d3d1" stroke-width=".35"/><path d="M373.8 105.6L376.6 104.4 378.7 104.7 376 105.9z" fill="#acef48"/><path d="M361.6 109L362.4 109.5 363 109.8 362.2 109.1z" fill="#09cce7" stroke="#09cce7" stroke-width=".35"/><path d="M355.3 109.2L356.1 108.9 356.7 108 356 108z" fill="#19d6d1" stroke="#19d6d1" stroke-width=".35"/><path d="M332 107.2L334.7 106 336.8 109.3 334.1 110.5z" fill="#21ead9"/><path d="M356.7 108L357.5 108.3 358.1 106.6 357.3 105.3z" fill="#50d78c" stroke="#50d78c" stroke-width=".35"/><path d="M378 104.4L380.7 106.3 382.9 108.8 380.1 107.6z" fill="#68f18c"/><path d="M358.1 106.6L358.9 107.9 359.5 106.4 358.7 103.2z" fill="#7ad057" stroke="#7ad057" stroke-width=".35"/><path d="M359.5 106.4L360.3 108.2 360.9 107.6 360.1 104.2z" fill="#67d46f" stroke="#67d46f" stroke-width=".35"/><path d="M382.1 108.2L384.9 109.6 387 111.7 384.3 111.3z" fill="#00c9f5"/><path d="M360.9 107.6L361.6 109 362.2 109.1 361.5 107.1z" fill="#24dac1" stroke="#24dac1" stroke-width=".35"/><path d="M336.1 109.1L338.8 109 341 110 338.3 109.8z" fill="#0cd2e7"/><path d="M354.6 109.6L355.3 109.2 356 108 355.2 108.6z" fill="#1ad8d3" stroke="#1ad8d3" stroke-width=".35"/><path d="M362.2 109.1L363 109.8 363.6 110.1 362.9 109.4z" fill="#0ccee4" stroke="#0ccee4" stroke-width=".35"/><path d="M356 108L356.7 108 357.3 105.3 356.6 104.9z" fill="#75da65" stroke="#75da65" stroke-width=".35"/><path d="M357.3 105.3L358.1 106.6 358.7 103.2 357.9 99.9z" fill="#b6ae0d" stroke="#b6ae0d" stroke-width=".35"/><path d="M363.3 110L366 109.8 368.1 111 365.4 111.8z" fill="#00bcf6"/><path d="M340.2 109.9L343 109.8 345.1 110.8 342.4 109.7z" fill="#05cbec"/><path d="M358.7 103.2L359.5 106.4 360.1 104.2 359.3 98.4z" fill="#b69f07" stroke="#b69f07" stroke-width=".35"/><path d="M360.1 104.2L360.9 107.6 361.5 107.1 360.7 102.2z" fill="#a7c526" stroke="#a7c526" stroke-width=".35"/><path d="M344.4 110.6L347.1 109.8 349.3 111.6 346.5 111.7z" fill="#00b9f5"/><path d="M353.8 110.2L354.6 109.6 355.2 108.6 354.4 109.6z" fill="#14d6dd" stroke="#14d6dd" stroke-width=".35"/><path d="M367.4 111.1L370.1 108.7 372.3 108.4 369.5 112.1z" fill="#09d3ee"/><path d="M361.5 107.1L362.2 109.1 362.9 109.4 362.1 107.1z" fill="#39dcab" stroke="#39dcab" stroke-width=".35"/><path d="M362.9 109.4L363.6 110.1 364.2 110.6 363.5 109.9z" fill="#0ccfe5" stroke="#0ccfe5" stroke-width=".35"/><path d="M355.2 108.6L356 108 356.6 104.9 355.8 106z" fill="#78df67" stroke="#78df67" stroke-width=".35"/><path d="M356.6 104.9L357.3 105.3 357.9 99.9 357.2 98.7z" fill="#c19500" stroke="#c19500" stroke-width=".35"/><path d="M325.5 111.1L328.2 106.9 330.4 110 327.7 113.2z" fill="#09d7f3"/><path d="M348.5 111.5L351.2 110 353.4 110.8 350.7 112.8z" fill="#00b5f7"/><path d="M357.9 99.9L358.7 103.2 359.3 98.4 358.6 92.2z" fill="#b26200" stroke="#b26200" stroke-width=".35"/><path d="M371.5 108.9L374.3 105.2 376.4 105.5 373.7 109.7z" fill="#77f782"/><path d="M359.3 98.4L360.1 104.2 360.7 102.2 359.9 93.8z" fill="#b26e00" stroke="#b26e00" stroke-width=".35"/><path d="M353 110.9L353.8 110.2 354.4 109.6 353.6 110.6z" fill="#0bd1e9" stroke="#0bd1e9" stroke-width=".35"/><path d="M360.7 102.2L361.5 107.1 362.1 107.1 361.3 101.6z" fill="#bdb90f" stroke="#bdb90f" stroke-width=".35"/><path d="M362.1 107.1L362.9 109.4 363.5 109.9 362.7 107.9z" fill="#3adfae" stroke="#3adfae" stroke-width=".35"/><path d="M329.6 110L332.4 106.9 334.5 110.2 331.8 112.7z" fill="#14e0e8"/><path d="M354.4 109.6L355.2 108.6 355.8 106 355 107.9z" fill="#55e394" stroke="#55e394" stroke-width=".35"/><path d="M375.7 105.6L378.4 104.4 380.6 107.6 377.8 108.8z" fill="#a4f656"/><path d="M355.8 106L356.6 104.9 357.2 98.7 356.4 100.6z" fill="#cc9e00" stroke="#cc9e00" stroke-width=".35"/><path d="M363.5 109.9L364.2 110.6 364.8 111.1 364.1 110.7z" fill="#09cfea" stroke="#09cfea" stroke-width=".35"/><path d="M357.2 98.7L357.9 99.9 358.6 92.2 357.8 89.6z" fill="#b04100" stroke="#b04100" stroke-width=".35"/><path d="M379.8 107.1L382.5 108.3 384.7 111.4 382 111.1z" fill="#21e8d6"/><path d="M358.6 92.2L359.3 98.4 359.9 93.8 359.2 84.7z" fill="#ad2b00" stroke="#ad2b00" stroke-width=".35"/><path d="M333.8 110.2L336.5 109 338.7 109.7 335.9 110.9z" fill="#16dcdf"/><path d="M352.3 111.5L353 110.9 353.6 110.6 352.9 111.5z" fill="#02cbf4" stroke="#02cbf4" stroke-width=".35"/><path d="M359.9 93.8L360.7 102.2 361.3 101.6 360.5 92.1z" fill="#b55400" stroke="#b55400" stroke-width=".35"/><path d="M361.3 101.6L362.1 107.1 362.7 107.9 361.9 103z" fill="#c5c010" stroke="#c5c010" stroke-width=".35"/><path d="M353.6 110.6L354.4 109.6 355 107.9 354.3 109.9z" fill="#22e2cf" stroke="#22e2cf" stroke-width=".35"/><path d="M384 110.9L386.7 111.3 388.8 112.9 386.1 112.8z" fill="#00aff5"/><path d="M355 107.9L355.8 106 356.4 100.6 355.6 104.6z" fill="#cec50f" stroke="#cec50f" stroke-width=".35"/><path d="M362.7 107.9L363.5 109.9 364.1 110.7 363.3 109.2z" fill="#25e1c8" stroke="#25e1c8" stroke-width=".35"/><path d="M337.9 109.8L340.7 110 342.8 109.8 340.1 108.7z" fill="#21e1ce"/><path d="M364.1 110.7L364.8 111.1 365.5 111.7 364.7 111.4z" fill="#04ccf0" stroke="#04ccf0" stroke-width=".35"/><path d="M356.4 100.6L357.2 98.7 357.8 89.6 357 92.8z" fill="#be4600" stroke="#be4600" stroke-width=".35"/><path d="M357.8 89.6L358.6 92.2 359.2 84.7 358.4 80.9z" fill="#9c0f00" stroke="#9c0f00" stroke-width=".35"/><path d="M342.1 109.7L344.8 110.7 347 111.8 344.2 110z" fill="#13d6dd"/><path d="M351.5 112.1L352.3 111.5 352.9 111.5 352.1 112.2z" fill="#00bef6" stroke="#00bef6" stroke-width=".35"/><path d="M365.1 111.6L367.8 110.8 370 111.8 367.2 113.6z" fill="#00bbf7"/><path d="M359.2 84.7L359.9 93.8 360.5 92.1 359.8 81.8z" fill="#a11100" stroke="#a11100" stroke-width=".35"/><path d="M360.5 92.1L361.3 101.6 361.9 103 361.2 94.6z" fill="#c35a00" stroke="#c35a00" stroke-width=".35"/><path d="M352.9 111.5L353.6 110.6 354.3 109.9 353.5 111.3z" fill="#0fd6e6" stroke="#0fd6e6" stroke-width=".35"/><path d="M354.3 109.9L355 107.9 355.6 104.6 354.9 108.4z" fill="#8aeb62" stroke="#8aeb62" stroke-width=".35"/><path d="M361.9 103L362.7 107.9 363.3 109.2 362.5 105.8z" fill="#b7d92a" stroke="#b7d92a" stroke-width=".35"/><path d="M363.3 109.2L364.1 110.7 364.7 111.4 363.9 110.7z" fill="#18dbda" stroke="#18dbda" stroke-width=".35"/><path d="M346.2 111.5L348.9 111.4 351.1 112.6 348.4 113.1z" fill="#00b9f5"/><path d="M355.6 104.6L356.4 100.6 357 92.8 356.2 99.7z" fill="#d77600" stroke="#d77600" stroke-width=".35"/><path d="M369.2 112L371.9 108.3 374.1 109.1 371.4 113.2z" fill="#16e0e4"/><path d="M364.7 111.4L365.5 111.7 366.1 112.2 365.3 112.2z" fill="#00c7f6" stroke="#00c7f6" stroke-width=".35"/><path d="M357 92.8L357.8 89.6 358.4 80.9 357.6 85.4z" fill="#ad1000" stroke="#ad1000" stroke-width=".35"/><path d="M350.7 112.5L351.5 112.1 352.1 112.2 351.3 112.8z" fill="#00b5f6" stroke="#00b5f6" stroke-width=".35"/><path d="M358.4 80.9L359.2 84.7 359.8 81.8 359 77.5z" fill="#8a0100" stroke="#8a0100" stroke-width=".35"/><path d="M359.8 81.8L360.5 92.1 361.2 94.6 360.4 85.5z" fill="#b21300" stroke="#b21300" stroke-width=".35"/><path d="M327.3 112.8L330.1 109.6 332.2 112.2 329.5 114.7z" fill="#00bdfb"/><path d="M352.1 112.2L352.9 111.5 353.5 111.3 352.7 112.3z" fill="#02ccf4" stroke="#02ccf4" stroke-width=".35"/><path d="M373.4 109.4L376.1 105.2 378.2 108.4 375.5 111.9z" fill="#6efa8f"/><path d="M353.5 111.3L354.3 109.9 354.9 108.4 354.1 110.9z" fill="#24e8d0" stroke="#24e8d0" stroke-width=".35"/><path d="M361.2 94.6L361.9 103 362.5 105.8 361.8 100z" fill="#d78400" stroke="#d78400" stroke-width=".35"/><path d="M354.9 108.4L355.6 104.6 356.2 99.7 355.5 106.2z" fill="#e1c509" stroke="#e1c509" stroke-width=".35"/><path d="M362.5 105.8L363.3 109.2 363.9 110.7 363.1 108.8z" fill="#73eb7b" stroke="#73eb7b" stroke-width=".35"/><path d="M377.5 108.2L380.2 107 382.4 111.1 379.7 112.2z" fill="#48f3b4"/><path d="M363.9 110.7L364.7 111.4 365.3 112.2 364.5 111.9z" fill="#0cd3e9" stroke="#0cd3e9" stroke-width=".35"/><path d="M356.2 99.7L357 92.8 357.6 85.4 356.8 95.1z" fill="#d83500" stroke="#d83500" stroke-width=".35"/><path d="M331.5 112.4L334.2 109.9 336.4 110.7 333.6 113.3z" fill="#0bd5ed"/><path d="M365.3 112.2L366.1 112.2 366.7 112.8 365.9 112.9z" fill="#00bdf6" stroke="#00bdf6" stroke-width=".35"/><path d="M357.6 85.4L358.4 80.9 359 77.5 358.2 82.5z" fill="#a80200" stroke="#a80200" stroke-width=".35"/><path d="M359 77.5L359.8 81.8 360.4 85.5 359.6 81.7z" fill="#a70200" stroke="#a70200" stroke-width=".35"/><path d="M351.3 112.8L352.1 112.2 352.7 112.3 351.9 113z" fill="#00bdf7" stroke="#00bdf7" stroke-width=".35"/><path d="M381.6 110.7L384.4 111 386.5 112.8 383.8 112.8z" fill="#0bd3ea"/><path d="M352.7 112.3L353.5 111.3 354.1 110.9 353.3 112.4z" fill="#0cd5eb" stroke="#0cd5eb" stroke-width=".35"/><path d="M360.4 85.5L361.2 94.6 361.8 100 361 93.8z" fill="#d63500" stroke="#d63500" stroke-width=".35"/><path d="M335.6 111L338.3 109.8 340.5 108.6 337.8 109.8z" fill="#45e9ac"/><path d="M361.8 100L362.5 105.8 363.1 108.8 362.4 105.6z" fill="#e0c409" stroke="#e0c409" stroke-width=".35"/><path d="M354.1 110.9L354.9 108.4 355.5 106.2 354.7 110.3z" fill="#77f47f" stroke="#77f47f" stroke-width=".35"/><path d="M363.1 108.8L363.9 110.7 364.5 111.9 363.7 111.1z" fill="#24e8d0" stroke="#24e8d0" stroke-width=".35"/><path d="M355.5 106.2L356.2 99.7 356.8 95.1 356.1 104.2z" fill="#ef9300" stroke="#ef9300" stroke-width=".35"/><path d="M339.8 108.7L342.5 109.9 344.6 110.2 341.9 108.4z" fill="#68ec88"/><path d="M364.5 111.9L365.3 112.2 365.9 112.9 365.1 112.9z" fill="#02ccf5" stroke="#02ccf5" stroke-width=".35"/><path d="M385.8 112.6L388.5 112.8 390.7 113.7 387.9 112.8z" fill="#00b6f2"/><path d="M356.8 95.1L357.6 85.4 358.2 82.5 357.5 93.4z" fill="#de1800" stroke="#de1800" stroke-width=".35"/><path d="M365.9 112.9L366.7 112.8 367.3 113.3 366.5 113.5z" fill="#00b5f7" stroke="#00b5f7" stroke-width=".35"/><path d="M358.2 82.5L359 77.5 359.6 81.7 358.8 86.2z" fill="#c50200" stroke="#c50200" stroke-width=".35"/><path d="M351.9 113L352.7 112.3 353.3 112.4 352.5 113.3z" fill="#00c8f7" stroke="#00c8f7" stroke-width=".35"/><path d="M359.6 81.7L360.4 85.5 361 93.8 360.2 91.2z" fill="#da1500" stroke="#da1500" stroke-width=".35"/><path d="M361 93.8L361.8 100 362.4 105.6 361.6 102.3z" fill="#ef8300" stroke="#ef8300" stroke-width=".35"/><path d="M343.9 109.8L346.6 111.6 348.8 113.2 346.1 111.9z" fill="#16dadd"/><path d="M353.3 112.4L354.1 110.9 354.7 110.3 353.9 112.4z" fill="#19e2e0" stroke="#19e2e0" stroke-width=".35"/><path d="M366.9 113.4L369.6 111.5 371.8 112.8 369.1 115z" fill="#00bbf8"/><path d="M362.4 105.6L363.1 108.8 363.7 111.1 363 109.8z" fill="#8ff466" stroke="#8ff466" stroke-width=".35"/><path d="M354.7 110.3L355.5 106.2 356.1 104.2 355.3 109.8z" fill="#cbf12f" stroke="#cbf12f" stroke-width=".35"/><path d="M356.1 104.2L356.8 95.1 357.5 93.4 356.7 103.6z" fill="#fc7500" stroke="#fc7500" stroke-width=".35"/><path d="M363.7 111.1L364.5 111.9 365.1 112.9 364.4 112.7z" fill="#0fd8e8" stroke="#0fd8e8" stroke-width=".35"/><path d="M365.1 112.9L365.9 112.9 366.5 113.5 365.7 113.6z" fill="#00bff7" stroke="#00bff7" stroke-width=".35"/><path d="M357.5 93.4L358.2 82.5 358.8 86.2 358.1 95.9z" fill="#f41a00" stroke="#f41a00" stroke-width=".35"/><path d="M348 112.9L350.8 112.4 352.9 113.2 350.2 114.8z" fill="#00baf6"/><path d="M371 113L373.8 108.8 375.9 111.3 373.2 114.7z" fill="#14e0e8"/><path d="M358.8 86.2L359.6 81.7 360.2 91.2 359.4 94.4z" fill="#f21700" stroke="#f21700" stroke-width=".35"/><path d="M360.2 91.2L361 93.8 361.6 102.3 360.8 101.1z" fill="#fe5e00" stroke="#fe5e00" stroke-width=".35"/><path d="M352.5 113.3L353.3 112.4 353.9 112.4 353.2 113.5z" fill="#04cff4" stroke="#04cff4" stroke-width=".35"/><path d="M375.2 111.4L377.9 107.9 380.1 111.9 377.3 114.5z" fill="#23eeda"/><path d="M361.6 102.3L362.4 105.6 363 109.8 362.2 108.5z" fill="#eae011" stroke="#eae011" stroke-width=".35"/><path d="M353.9 112.4L354.7 110.3 355.3 109.8 354.5 112.5z" fill="#28efd4" stroke="#28efd4" stroke-width=".35"/><path d="M329.2 114.5L331.9 112 334 112.9 331.3 115.7z" fill="#00b1f8"/><path d="M363 109.8L363.7 111.1 364.4 112.7 363.6 112.3z" fill="#23ead6" stroke="#23ead6" stroke-width=".35"/><path d="M355.3 109.8L356.1 104.2 356.7 103.6 355.9 109.8z" fill="#efe913" stroke="#efe913" stroke-width=".35"/><path d="M364.4 112.7L365.1 112.9 365.7 113.6 365 113.7z" fill="#02ccf6" stroke="#02ccf6" stroke-width=".35"/><path d="M356.7 103.6L357.5 93.4 358.1 95.9 357.3 105z" fill="#ff7c00" stroke="#ff7c00" stroke-width=".35"/><path d="M379.3 111.8L382.1 110.6 384.2 112.7 381.5 113.9z" fill="#17dfe1"/><path d="M358.1 95.9L358.8 86.2 359.4 94.4 358.7 101.3z" fill="#ff4300" stroke="#ff4300" stroke-width=".35"/><path d="M333.3 113.3L336 110.7 338.2 109.5 335.5 113.1z" fill="#21e6d4"/><path d="M359.4 94.4L360.2 91.2 360.8 101.1 360.1 103z" fill="#ff6500" stroke="#ff6500" stroke-width=".35"/><path d="M360.8 101.1L361.6 102.3 362.2 108.5 361.4 108.1z" fill="#ffca00" stroke="#ffca00" stroke-width=".35"/><path d="M353.2 113.5L353.9 112.4 354.5 112.5 353.8 113.8z" fill="#09d5f1" stroke="#09d5f1" stroke-width=".35"/><path d="M337.4 109.9L340.2 108.7 342.3 108.4 339.6 109.6z" fill="#9fef54"/><path d="M362.2 108.5L363 109.8 363.6 112.3 362.8 112z" fill="#5df8a1" stroke="#5df8a1" stroke-width=".35"/><path d="M383.5 112.6L386.2 112.7 388.4 112.9 385.6 112.2z" fill="#13d6de"/><path d="M354.5 112.5L355.3 109.8 355.9 109.8 355.1 112.7z" fill="#40f6c0" stroke="#40f6c0" stroke-width=".35"/><path d="M363.6 112.3L364.4 112.7 365 113.7 364.2 113.7z" fill="#0bd5ee" stroke="#0bd5ee" stroke-width=".35"/><path d="M355.9 109.8L356.7 103.6 357.3 105 356.5 110.6z" fill="#f6f114" stroke="#f6f114" stroke-width=".35"/><path d="M357.3 105L358.1 95.9 358.7 101.3 357.9 107.8z" fill="#ffaa00" stroke="#ffaa00" stroke-width=".35"/><path d="M341.6 108.2L344.3 110 346.5 112.1 343.7 110.7z" fill="#75f17f"/><path d="M358.7 101.3L359.4 94.4 360.1 103 359.3 107z" fill="#ff9a00" stroke="#ff9a00" stroke-width=".35"/><path d="M364.6 113.6L367.3 113.2 369.5 114.8 366.8 115.6z" fill="#00b5f6"/><path d="M387.6 112.8L390.3 113.6 392.5 114.4 389.8 112.6z" fill="#09cce7"/><path d="M360.1 103L360.8 101.1 361.4 108.1 360.7 109.2z" fill="#ffd300" stroke="#ffd300" stroke-width=".35"/><path d="M361.4 108.1L362.2 108.5 362.8 112 362 112z" fill="#8cff78" stroke="#8cff78" stroke-width=".35"/><path d="M353.8 113.8L354.5 112.5 355.1 112.7 354.4 114.1z" fill="#0cd9ef" stroke="#0cd9ef" stroke-width=".35"/><path d="M362.8 112L363.6 112.3 364.2 113.7 363.4 113.8z" fill="#15e0e7" stroke="#15e0e7" stroke-width=".35"/><path d="M355.1 112.7L355.9 109.8 356.5 110.6 355.8 113.3z" fill="#41f9c3" stroke="#41f9c3" stroke-width=".35"/><path d="M345.7 111.6L348.5 112.9 350.6 114.8 347.9 114.7z" fill="#09d1ec"/><path d="M368.7 114.8L371.5 112.5 373.6 114.3 370.9 115.8z" fill="#00bbf8"/><path d="M356.5 110.6L357.3 105 357.9 107.8 357.1 111.9z" fill="#dcff33" stroke="#dcff33" stroke-width=".35"/><path d="M357.9 107.8L358.7 101.3 359.3 107 358.5 110.8z" fill="#ffea0a" stroke="#ffea0a" stroke-width=".35"/><path d="M372.9 114.4L375.6 111 377.8 114 375 116.2z" fill="#06d3f5"/><path d="M359.3 107L360.1 103 360.7 109.2 359.9 111.1z" fill="#fff712" stroke="#fff712" stroke-width=".35"/><path d="M349.9 114.6L352.6 113 354.7 114.1 352 116.2z" fill="#00bdf8"/><path d="M360.7 109.2L361.4 108.1 362 112 361.3 112.6z" fill="#8fff7b" stroke="#8fff7b" stroke-width=".35"/><path d="M362 112L362.8 112 363.4 113.8 362.7 114z" fill="#1be8e3" stroke="#1be8e3" stroke-width=".35"/><path d="M354.4 114.1L355.1 112.7 355.8 113.3 355 114.6z" fill="#0cdaf0" stroke="#0cdaf0" stroke-width=".35"/><path d="M377 114L379.7 111.5 381.9 113.6 379.2 115.9z" fill="#0cd8ed"/><path d="M355.8 113.3L356.5 110.6 357.1 111.9 356.4 114z" fill="#29f7db" stroke="#29f7db" stroke-width=".35"/><path d="M331 115.6L333.7 112.8 335.9 112.6 333.1 116.3z" fill="#00cbf7"/><path d="M357.1 111.9L357.9 107.8 358.5 110.8 357.7 113.3z" fill="#82ff8b" stroke="#82ff8b" stroke-width=".35"/><path d="M358.5 110.8L359.3 107 359.9 111.1 359.1 113.1z" fill="#9fff71" stroke="#9fff71" stroke-width=".35"/><path d="M335.1 113.1L337.9 109.5 340 109.2 337.3 113.4z" fill="#6af48e"/><path d="M359.9 111.1L360.7 109.2 361.3 112.6 360.5 113.6z" fill="#61ffa9" stroke="#61ffa9" stroke-width=".35"/><path d="M381.2 113.7L383.9 112.6 386 112.1 383.3 113.3z" fill="#20e3d3"/><path d="M361.3 112.6L362 112 362.7 114 361.9 114.4z" fill="#1ceae5" stroke="#1ceae5" stroke-width=".35"/><path d="M355 114.6L355.8 113.3 356.4 114 355.6 115.1z" fill="#09d7f4" stroke="#09d7f4" stroke-width=".35"/><path d="M339.3 109.4L342 108.3 344.2 110.8 341.4 112z" fill="#aff349"/><path d="M356.4 114L357.1 111.9 357.7 113.3 357 114.8z" fill="#1aeae8" stroke="#1aeae8" stroke-width=".35"/><path d="M362.3 113.8L365 113.5 367.2 115.5 364.4 116.3z" fill="#00caf7"/><path d="M385.3 112.2L388 113 390.2 112.8 387.5 111.1z" fill="#43e6ab"/><path d="M357.7 113.3L358.5 110.8 359.1 113.1 358.4 114.6z" fill="#27fae0" stroke="#27fae0" stroke-width=".35"/><path d="M359.1 113.1L359.9 111.1 360.5 113.6 359.7 114.7z" fill="#25f7e2" stroke="#25f7e2" stroke-width=".35"/><path d="M389.4 112.4L392.2 114.3 394.3 115.6 391.6 113.6z" fill="#13d6de"/><path d="M360.5 113.6L361.3 112.6 361.9 114.4 361.1 115z" fill="#15e5eb" stroke="#15e5eb" stroke-width=".35"/><path d="M343.4 110.3L346.1 111.7 348.3 114.8 345.6 114.4z" fill="#33ecc4"/><path d="M366.4 115.4L369.2 114.6 371.3 115.7 368.6 115.4z" fill="#00bbf3"/><path d="M355.6 115.1L356.4 114 357 114.8 356.2 115.7z" fill="#04d2f8" stroke="#04d2f8" stroke-width=".35"/><path d="M357 114.8L357.7 113.3 358.4 114.6 357.6 115.5z" fill="#0cdcf3" stroke="#0cdcf3" stroke-width=".35"/><path d="M370.6 115.6L373.3 114.1 375.4 115.9 372.7 116.3z" fill="#00bdf6"/><path d="M347.6 114.3L350.3 114.4 352.4 116.1 349.7 116.6z" fill="#00c2f6"/><path d="M358.4 114.6L359.1 113.1 359.7 114.7 359 115.5z" fill="#10e0f1" stroke="#10e0f1" stroke-width=".35"/><path d="M359.7 114.7L360.5 113.6 361.1 115 360.3 115.7z" fill="#0bdaf3" stroke="#0bdaf3" stroke-width=".35"/><path d="M374.7 115.9L377.4 113.7 379.6 115.5 376.9 117.5z" fill="#00c0f9"/><path d="M351.7 116L354.4 113.9 356.6 115.7 353.8 117.2z" fill="#00bdf8"/><path d="M370.2 115.7L370.9 115.6 371.5 115.8 370.8 115.7z" fill="#00bcf3" stroke="#00bcf3" stroke-width=".35"/><path d="M356.2 115.7L357 114.8 357.6 115.5 356.8 116.2z" fill="#00cbfb" stroke="#00cbfb" stroke-width=".35"/><path d="M332.8 116.3L335.5 112.5 337.7 112.8 335 117.2z" fill="#10dbe9"/><path d="M357.6 115.5L358.4 114.6 359 115.5 358.2 116.2z" fill="#02d1fa" stroke="#02d1fa" stroke-width=".35"/><path d="M378.8 115.7L381.6 113.5 383.7 113 381 116z" fill="#14dbe1"/><path d="M359 115.5L359.7 114.7 360.3 115.7 359.6 116.3z" fill="#02d0fb" stroke="#02d0fb" stroke-width=".35"/><path d="M369.4 115.6L370.2 115.7 370.8 115.7 370 115.4z" fill="#04c8ec" stroke="#04c8ec" stroke-width=".35"/><path d="M337 113.3L339.7 109 341.8 111.6 339.1 115.4z" fill="#77fa85"/><path d="M360 115.7L362.7 113.7 364.9 116.1 362.1 117.7z" fill="#00ccf9"/><path d="M383 113.4L385.7 112.2 387.9 111.1 385.1 112.3z" fill="#78f07a"/><path d="M370.8 115.7L371.5 115.8 372.2 116 371.4 115.7z" fill="#01c6f0" stroke="#01c6f0" stroke-width=".35"/><path d="M356.8 116.2L357.6 115.5 358.2 116.2 357.4 116.8z" fill="#00c0fa" stroke="#00c0fa" stroke-width=".35"/><path d="M387.1 111.1L389.9 112.7 392 113.9 389.3 112.1z" fill="#78ef79"/><path d="M358.2 116.2L359 115.5 359.6 116.3 358.8 116.9z" fill="#00c2fa" stroke="#00c2fa" stroke-width=".35"/><path d="M341.1 111.5L343.8 110.3 346 114.4 343.3 115.5z" fill="#62f799"/><path d="M364.1 116.2L366.8 115.4 369 115.4 366.3 115.1z" fill="#09cee8"/><path d="M368.6 115.4L369.4 115.6 370 115.4 369.2 114.8z" fill="#10cfdd" stroke="#10cfdd" stroke-width=".35"/><path d="M370 115.4L370.8 115.7 371.4 115.7 370.6 115z" fill="#0ecedf" stroke="#0ecedf" stroke-width=".35"/><path d="M345.2 113.9L348 114.3 350.1 116.6 347.4 116.7z" fill="#0fd7e7"/><path d="M391.3 113.3L394 115.3 396.1 117.3 393.4 116.2z" fill="#0dd3e7"/><path d="M371.4 115.7L372.2 116 372.8 116.2 372 115.6z" fill="#07cbe8" stroke="#07cbe8" stroke-width=".35"/><path d="M357.4 116.8L358.2 116.2 358.8 116.9 358 117.3z" fill="#00b6f9" stroke="#00b6f9" stroke-width=".35"/><path d="M349.4 116.4L352.1 115.9 354.3 117.1 351.5 116.9z" fill="#00c0f4"/><path d="M372.4 116.1L375.1 115.7 377.3 117.3 374.5 117.2z" fill="#00c0f5"/><path d="M367.9 115.1L368.6 115.4 369.2 114.8 368.5 114.1z" fill="#1dd8cc" stroke="#1dd8cc" stroke-width=".35"/><path d="M369.2 114.8L370 115.4 370.6 115 369.8 113.9z" fill="#20dac8" stroke="#20dac8" stroke-width=".35"/><path d="M353.5 117L356.2 115.4 358.4 117.4 355.7 117.9z" fill="#00baf6"/><path d="M376.5 117.3L379.3 115.4 381.4 115.6 378.7 118.4z" fill="#00c8f7"/><path d="M370.6 115L371.4 115.7 372 115.6 371.2 114.5z" fill="#1ad6d1" stroke="#1ad6d1" stroke-width=".35"/><path d="M372 115.6L372.8 116.2 373.4 116.4 372.6 115.6z" fill="#0dcfe1" stroke="#0dcfe1" stroke-width=".35"/><path d="M367.1 115L367.9 115.1 368.5 114.1 367.7 113.7z" fill="#35deb2" stroke="#35deb2" stroke-width=".35"/><path d="M334.6 117L337.4 112.6 339.5 114.8 336.8 118.7z" fill="#13dfe9"/><path d="M357.7 117.4L360.4 115.4 362.5 117.4 359.8 119z" fill="#00b6f8"/><path d="M380.7 116L383.4 113 385.6 111.9 382.8 115.9z" fill="#48eeae"/><path d="M368.5 114.1L369.2 114.8 369.8 113.9 369.1 112.7z" fill="#55de8e" stroke="#55de8e" stroke-width=".35"/><path d="M369.8 113.9L370.6 115 371.2 114.5 370.5 112.9z" fill="#4fde94" stroke="#4fde94" stroke-width=".35"/><path d="M371.2 114.5L372 115.6 372.6 115.6 371.8 114.2z" fill="#27ddc2" stroke="#27ddc2" stroke-width=".35"/><path d="M384.8 112.3L387.5 111.1 389.7 112.2 387 113.3z" fill="#b4ef42"/><path d="M338.8 114.9L341.5 111.1 343.7 115.2 340.9 118.1z" fill="#32f3cc"/><path d="M361.8 117.5L364.5 116 366.7 114.9 364 117.5z" fill="#09d0eb"/><path d="M372.6 115.6L373.4 116.4 374 116.7 373.2 115.9z" fill="#11d2de" stroke="#11d2de" stroke-width=".35"/><path d="M366.3 115.2L367.1 115 367.7 113.7 366.9 113.7z" fill="#4ae19d" stroke="#4ae19d" stroke-width=".35"/><path d="M367.7 113.7L368.5 114.1 369.1 112.7 368.3 111.7z" fill="#89de57" stroke="#89de57" stroke-width=".35"/><path d="M342.9 115L345.7 113.8 347.8 116.6 345.1 117.8z" fill="#1be3df"/><path d="M389 111.8L391.7 113.6 393.8 116.4 391.1 115.4z" fill="#59f09d"/><path d="M369.1 112.7L369.8 113.9 370.5 112.9 369.7 111z" fill="#9cd841" stroke="#9cd841" stroke-width=".35"/><path d="M370.5 112.9L371.2 114.5 371.8 114.2 371.1 112.1z" fill="#80e161" stroke="#80e161" stroke-width=".35"/><path d="M347.1 116.5L349.8 116.4 352 116.9 349.2 116.5z" fill="#0fd4e3"/><path d="M371.8 114.2L372.6 115.6 373.2 115.9 372.4 114.3z" fill="#3be0ae" stroke="#3be0ae" stroke-width=".35"/><path d="M393.1 115.8L395.8 116.9 398 119 395.2 118.7z" fill="#00c1f5"/><path d="M365.5 115.7L366.3 115.2 366.9 113.7 366.2 114.4z" fill="#4be49f" stroke="#4be49f" stroke-width=".35"/><path d="M373.2 115.9L374 116.7 374.6 117.1 373.8 116.3z" fill="#12d4de" stroke="#12d4de" stroke-width=".35"/><path d="M366.9 113.7L367.7 113.7 368.3 111.7 367.5 111.5z" fill="#a7db3a" stroke="#a7db3a" stroke-width=".35"/><path d="M351.2 116.8L353.9 117 356.1 117.9 353.4 116.6z" fill="#09cee8"/><path d="M374.2 117L376.9 117.1 379.1 118.2 376.4 119.1z" fill="#00bff6"/><path d="M368.3 111.7L369.1 112.7 369.7 111 368.9 109.4z" fill="#cac610" stroke="#cac610" stroke-width=".35"/><path d="M369.7 111L370.5 112.9 371.1 112.1 370.3 109.5z" fill="#cac811" stroke="#cac811" stroke-width=".35"/><path d="M371.1 112.1L371.8 114.2 372.4 114.3 371.7 111.8z" fill="#9fdd43" stroke="#9fdd43" stroke-width=".35"/><path d="M364.8 116.5L365.5 115.7 366.2 114.4 365.4 115.5z" fill="#37e5b7" stroke="#37e5b7" stroke-width=".35"/><path d="M355.3 117.7L358.1 117.2 360.2 118.8 357.5 118.9z" fill="#00b9f5"/><path d="M378.4 118.3L381.1 115.5 383.2 115.4 380.5 119.3z" fill="#0dd7ea"/><path d="M372.4 114.3L373.2 115.9 373.8 116.3 373.1 114.8z" fill="#40e3ab" stroke="#40e3ab" stroke-width=".35"/><path d="M373.8 116.3L374.6 117.1 375.2 117.7 374.4 117z" fill="#10d3e2" stroke="#10d3e2" stroke-width=".35"/><path d="M366.2 114.4L366.9 113.7 367.5 111.5 366.8 112.4z" fill="#abdf3b" stroke="#abdf3b" stroke-width=".35"/><path d="M367.5 111.5L368.3 111.7 368.9 109.4 368.1 109z" fill="#d6b907" stroke="#d6b907" stroke-width=".35"/><path d="M368.9 109.4L369.7 111 370.3 109.5 369.5 107.5z" fill="#daa600" stroke="#daa600" stroke-width=".35"/><path d="M382.5 115.8L385.2 111.9 387.4 112.9 384.7 117z" fill="#7ef97c"/><path d="M336.5 118.4L339.2 114.4 341.4 117.6 338.6 120.5z" fill="#05d3f8"/><path d="M359.5 118.8L362.2 117.2 364.4 117.2 361.6 119.8z" fill="#00bef6"/><path d="M370.3 109.5L371.1 112.1 371.7 111.8 370.9 109z" fill="#d5b908" stroke="#d5b908" stroke-width=".35"/><path d="M364 117.4L364.8 116.5 365.4 115.5 364.6 116.8z" fill="#1ee1d4" stroke="#1ee1d4" stroke-width=".35"/><path d="M371.7 111.8L372.4 114.3 373.1 114.8 372.3 112.5z" fill="#a8e03e" stroke="#a8e03e" stroke-width=".35"/><path d="M373.1 114.8L373.8 116.3 374.4 117 373.7 115.7z" fill="#34e4ba" stroke="#34e4ba" stroke-width=".35"/><path d="M365.4 115.5L366.2 114.4 366.8 112.4 366 114z" fill="#90ea5c" stroke="#90ea5c" stroke-width=".35"/><path d="M340.6 117.6L343.3 114.7 345.5 117.5 342.8 119.9z" fill="#0edaed"/><path d="M386.6 113L389.4 111.8 391.5 115.4 388.8 116.6z" fill="#93f968"/><path d="M374.4 117L375.2 117.7 375.8 118.3 375 117.8z" fill="#0bd1e9" stroke="#0bd1e9" stroke-width=".35"/><path d="M366.8 112.4L367.5 111.5 368.1 109 367.4 110.1z" fill="#dcbf08" stroke="#dcbf08" stroke-width=".35"/><path d="M368.1 109L368.9 109.4 369.5 107.5 368.7 106.9z" fill="#df9700" stroke="#df9700" stroke-width=".35"/><path d="M344.8 117.6L347.5 116.4 349.6 116.5 346.9 117.6z" fill="#1adfda"/><path d="M369.5 107.5L370.3 109.5 370.9 109 370.1 106.7z" fill="#df9600" stroke="#df9600" stroke-width=".35"/><path d="M390.8 114.9L393.5 115.9 395.7 118.8 392.9 118.7z" fill="#1ae1dd"/><path d="M363.2 118.3L364 117.4 364.6 116.8 363.8 118z" fill="#10d7e5" stroke="#10d7e5" stroke-width=".35"/><path d="M370.9 109L371.7 111.8 372.3 112.5 371.5 109.7z" fill="#debb06" stroke="#debb06" stroke-width=".35"/><path d="M364.6 116.8L365.4 115.5 366 114 365.2 115.9z" fill="#5bec97" stroke="#5bec97" stroke-width=".35"/><path d="M372.3 112.5L373.1 114.8 373.7 115.7 372.9 113.8z" fill="#98e853" stroke="#98e853" stroke-width=".35"/><path d="M394.9 118.4L397.6 118.7 399.8 120.1 397.1 119.9z" fill="#00adf4"/><path d="M348.9 116.6L351.6 117 353.8 116.7 351.1 115.3z" fill="#31e4bd"/><path d="M373.7 115.7L374.4 117 375 117.8 374.3 116.9z" fill="#20e2d1" stroke="#20e2d1" stroke-width=".35"/><path d="M366 114L366.8 112.4 367.4 110.1 366.6 112.3z" fill="#dad611" stroke="#dad611" stroke-width=".35"/><path d="M367.4 110.1L368.1 109 368.7 106.9 368 108.2z" fill="#e89e00" stroke="#e89e00" stroke-width=".35"/><path d="M375 117.8L375.8 118.3 376.4 118.9 375.6 118.7z" fill="#04cdf1" stroke="#04cdf1" stroke-width=".35"/><path d="M368.7 106.9L369.5 107.5 370.1 106.7 369.4 106z" fill="#e78400" stroke="#e78400" stroke-width=".35"/><path d="M362.5 119L363.2 118.3 363.8 118 363.1 119z" fill="#04cdf2" stroke="#04cdf2" stroke-width=".35"/><path d="M353 116.5L355.8 117.8 357.9 119 355.2 117.2z" fill="#15d8dc"/><path d="M376 118.9L378.8 117.9 380.9 118.9 378.2 120.9z" fill="#00bcf7"/><path d="M370.1 106.7L370.9 109 371.5 109.7 370.7 107.5z" fill="#e89700" stroke="#e89700" stroke-width=".35"/><path d="M371.5 109.7L372.3 112.5 372.9 113.8 372.1 111.6z" fill="#dfcc0c" stroke="#dfcc0c" stroke-width=".35"/><path d="M363.8 118L364.6 116.8 365.2 115.9 364.4 117.6z" fill="#22e6d3" stroke="#22e6d3" stroke-width=".35"/><path d="M372.9 113.8L373.7 115.7 374.3 116.9 373.5 115.6z" fill="#70ee81" stroke="#70ee81" stroke-width=".35"/><path d="M365.2 115.9L366 114 366.6 112.3 365.8 114.9z" fill="#abed47" stroke="#abed47" stroke-width=".35"/><path d="M366.6 112.3L367.4 110.1 368 108.2 367.2 110.9z" fill="#f1b800" stroke="#f1b800" stroke-width=".35"/><path d="M380.2 119.1L382.9 115.2 385.1 116.4 382.3 120.5z" fill="#17e2e3"/><path d="M357.2 118.7L359.9 118.6 362.1 119.7 359.3 120.5z" fill="#00b9f5"/><path d="M374.3 116.9L375 117.8 375.6 118.7 374.9 118.2z" fill="#15dae0" stroke="#15dae0" stroke-width=".35"/><path d="M368 108.2L368.7 106.9 369.4 106 368.6 107.4z" fill="#f38b00" stroke="#f38b00" stroke-width=".35"/><path d="M375.6 118.7L376.4 118.9 377 119.5 376.3 119.5z" fill="#00c5f6" stroke="#00c5f6" stroke-width=".35"/><path d="M361.7 119.6L362.5 119 363.1 119 362.3 119.8z" fill="#00bff7" stroke="#00bff7" stroke-width=".35"/><path d="M369.4 106L370.1 106.7 370.7 107.5 370 106.8z" fill="#f38500" stroke="#f38500" stroke-width=".35"/><path d="M370.7 107.5L371.5 109.7 372.1 111.6 371.3 109.8z" fill="#f1ab00" stroke="#f1ab00" stroke-width=".35"/><path d="M363.1 119L363.8 118 364.4 117.6 363.7 119z" fill="#0fd7e8" stroke="#0fd7e8" stroke-width=".35"/><path d="M338.3 120.2L341 117.2 343.2 119.5 340.5 121.9z" fill="#00b6fa"/><path d="M384.3 116.7L387.1 112.6 389.2 116.2 386.5 119.5z" fill="#5ef8a0"/><path d="M372.1 111.6L372.9 113.8 373.5 115.6 372.7 114z" fill="#d1e721" stroke="#d1e721" stroke-width=".35"/><path d="M364.4 117.6L365.2 115.9 365.8 114.9 365.1 117.2z" fill="#56f0a0" stroke="#56f0a0" stroke-width=".35"/><path d="M365.8 114.9L366.6 112.3 367.2 110.9 366.4 114.1z" fill="#e4e113" stroke="#e4e113" stroke-width=".35"/><path d="M373.5 115.6L374.3 116.9 374.9 118.2 374.1 117.4z" fill="#39ebbc" stroke="#39ebbc" stroke-width=".35"/><path d="M342.4 119.7L345.2 117.3 347.3 117.4 344.6 120.2z" fill="#0ed7e9"/><path d="M367.2 110.9L368 108.2 368.6 107.4 367.8 110.3z" fill="#faa800" stroke="#faa800" stroke-width=".35"/><path d="M374.9 118.2L375.6 118.7 376.3 119.5 375.5 119.3z" fill="#09d2ed" stroke="#09d2ed" stroke-width=".35"/><path d="M388.5 116L391.2 114.9 393.4 118.6 390.6 119.8z" fill="#2fefcc"/><path d="M376.3 119.5L377 119.5 377.6 120.1 376.9 120.2z" fill="#00baf7" stroke="#00baf7" stroke-width=".35"/><path d="M368.6 107.4L369.4 106 370 106.8 369.2 108.2z" fill="#ff8c00" stroke="#ff8c00" stroke-width=".35"/><path d="M370 106.8L370.7 107.5 371.3 109.8 370.6 109.3z" fill="#fc9c00" stroke="#fc9c00" stroke-width=".35"/><path d="M362.3 119.8L363.1 119 363.7 119 362.9 120z" fill="#01ccf6" stroke="#01ccf6" stroke-width=".35"/><path d="M392.6 118.3L395.3 118.5 397.5 119.9 394.8 119.7z" fill="#0ad1eb"/><path d="M346.6 117.7L349.3 116.5 351.5 115.3 348.7 116.5z" fill="#5eec93"/><path d="M371.3 109.8L372.1 111.6 372.7 114 372 112.8z" fill="#f0ce08" stroke="#f0ce08" stroke-width=".35"/><path d="M363.7 119L364.4 117.6 365.1 117.2 364.3 118.9z" fill="#1be3dd" stroke="#1be3dd" stroke-width=".35"/><path d="M365.1 117.2L365.8 114.9 366.4 114.1 365.7 116.9z" fill="#8ef96c" stroke="#8ef96c" stroke-width=".35"/><path d="M372.7 114L373.5 115.6 374.1 117.4 373.3 116.5z" fill="#87f770" stroke="#87f770" stroke-width=".35"/><path d="M366.4 114.1L367.2 110.9 367.8 110.3 367 113.8z" fill="#f5d509" stroke="#f5d509" stroke-width=".35"/><path d="M374.1 117.4L374.9 118.2 375.5 119.3 374.7 118.9z" fill="#19e0de" stroke="#19e0de" stroke-width=".35"/><path d="M350.7 115.3L353.5 116.7 355.6 117.5 352.9 115.7z" fill="#73ee7d"/><path d="M375.5 119.3L376.3 119.5 376.9 120.2 376.1 120.2z" fill="#00c9f7" stroke="#00c9f7" stroke-width=".35"/><path d="M396.7 119.7L399.5 120 401.6 120.8 398.9 119.6z" fill="#00bdf1"/><path d="M367.8 110.3L368.6 107.4 369.2 108.2 368.4 111.1z" fill="#ffaa00" stroke="#ffaa00" stroke-width=".35"/><path d="M369.2 108.2L370 106.8 370.6 109.3 369.8 110.4z" fill="#ffa200" stroke="#ffa200" stroke-width=".35"/><path d="M376.9 120.2L377.6 120.1 378.2 120.6 377.5 120.9z" fill="#00b1f7" stroke="#00b1f7" stroke-width=".35"/><path d="M370.6 109.3L371.3 109.8 372 112.8 371.2 112.5z" fill="#ffc100" stroke="#ffc100" stroke-width=".35"/><path d="M362.9 120L363.7 119 364.3 118.9 363.5 120.2z" fill="#08d2f1" stroke="#08d2f1" stroke-width=".35"/><path d="M364.3 118.9L365.1 117.2 365.7 116.9 364.9 119z" fill="#2aefd1" stroke="#2aefd1" stroke-width=".35"/><path d="M377.9 120.7L380.6 118.7 382.8 120 380 122.2z" fill="#00bbf8"/><path d="M354.9 117L357.6 118.8 359.7 120.5 357 119.5z" fill="#14d9e0"/><path d="M372 112.8L372.7 114 373.3 116.5 372.6 115.8z" fill="#ccf22f" stroke="#ccf22f" stroke-width=".35"/><path d="M365.7 116.9L366.4 114.1 367 113.8 366.3 116.9z" fill="#b3f94c" stroke="#b3f94c" stroke-width=".35"/><path d="M373.3 116.5L374.1 117.4 374.7 118.9 373.9 118.5z" fill="#37efc2" stroke="#37efc2" stroke-width=".35"/><path d="M367 113.8L367.8 110.3 368.4 111.1 367.7 114.5z" fill="#fed707" stroke="#fed707" stroke-width=".35"/><path d="M374.7 118.9L375.5 119.3 376.1 120.2 375.3 120.2z" fill="#09d3ef" stroke="#09d3ef" stroke-width=".35"/><path d="M368.4 111.1L369.2 108.2 369.8 110.4 369 112.9z" fill="#ffbe00" stroke="#ffbe00" stroke-width=".35"/><path d="M359 120.3L361.7 119.5 363.9 120.1 361.2 122.1z" fill="#00bdf7"/><path d="M376.1 120.2L376.9 120.2 377.5 120.9 376.7 121z" fill="#00baf7" stroke="#00baf7" stroke-width=".35"/><path d="M382 120.2L384.7 116.1 386.9 118.9 384.2 122z" fill="#11deeb"/><path d="M369.8 110.4L370.6 109.3 371.2 112.5 370.4 113.4z" fill="#ffc700" stroke="#ffc700" stroke-width=".35"/><path d="M363.5 120.2L364.3 118.9 364.9 119 364.1 120.4z" fill="#0ed9ec" stroke="#0ed9ec" stroke-width=".35"/><path d="M371.2 112.5L372 112.8 372.6 115.8 371.8 115.7z" fill="#edee16" stroke="#edee16" stroke-width=".35"/><path d="M340.1 121.7L342.9 119.3 345 119.8 342.3 122.8z" fill="#00b5f8"/><path d="M364.9 119L365.7 116.9 366.3 116.9 365.5 119.2z" fill="#40f4bd" stroke="#40f4bd" stroke-width=".35"/><path d="M372.6 115.8L373.3 116.5 373.9 118.5 373.2 118.2z" fill="#68f895" stroke="#68f895" stroke-width=".35"/><path d="M386.2 119L388.9 115.7 391 119.5 388.3 121.9z" fill="#1ce7e1"/><path d="M373.9 118.5L374.7 118.9 375.3 120.2 374.6 120.1z" fill="#15dee5" stroke="#15dee5" stroke-width=".35"/><path d="M366.3 116.9L367 113.8 367.7 114.5 366.9 117.4z" fill="#befd46" stroke="#befd46" stroke-width=".35"/><path d="M367.7 114.5L368.4 111.1 369 112.9 368.3 115.8z" fill="#fce70e" stroke="#fce70e" stroke-width=".35"/><path d="M375.3 120.2L376.1 120.2 376.7 121 375.9 121.1z" fill="#00c7f7" stroke="#00c7f7" stroke-width=".35"/><path d="M390.3 119.4L393 118.2 395.2 119.7 392.5 120.8z" fill="#15dce1"/><path d="M344.3 120.3L347 117.4 349.2 116.1 346.4 120z" fill="#30ebc5"/><path d="M369 112.9L369.8 110.4 370.4 113.4 369.6 115.4z" fill="#ffdf08" stroke="#ffdf08" stroke-width=".35"/><path d="M370.4 113.4L371.2 112.5 371.8 115.7 371 116.4z" fill="#f2f316" stroke="#f2f316" stroke-width=".35"/><path d="M364.1 120.4L364.9 119 365.5 119.2 364.7 120.7z" fill="#12deea" stroke="#12deea" stroke-width=".35"/><path d="M371.8 115.7L372.6 115.8 373.2 118.2 372.4 118.3z" fill="#88ff79" stroke="#88ff79" stroke-width=".35"/><path d="M348.4 116.6L351.1 115.4 353.3 115.7 350.6 116.9z" fill="#acef48"/><path d="M365.5 119.2L366.3 116.9 366.9 117.4 366.1 119.7z" fill="#46f7bb" stroke="#46f7bb" stroke-width=".35"/><path d="M373.2 118.2L373.9 118.5 374.6 120.1 373.8 120z" fill="#1feadc" stroke="#1feadc" stroke-width=".35"/><path d="M394.4 119.7L397.2 119.8 399.3 119.7 396.6 118.7z" fill="#19dad7"/><path d="M366.9 117.4L367.7 114.5 368.3 115.8 367.5 118.4z" fill="#a9ff5d" stroke="#a9ff5d" stroke-width=".35"/><path d="M374.6 120.1L375.3 120.2 375.9 121.1 375.2 121.1z" fill="#05d0f3" stroke="#05d0f3" stroke-width=".35"/><path d="M368.3 115.8L369 112.9 369.6 115.4 368.9 117.6z" fill="#e6ff24" stroke="#e6ff24" stroke-width=".35"/><path d="M352.6 115.4L355.3 117.2 357.4 119.7 354.7 118.6z" fill="#6af18b"/><path d="M375.6 121L378.3 120.5 380.4 122 377.7 122.7z" fill="#00b3f6"/><path d="M398.6 119.6L401.3 120.7 403.5 121.5 400.7 119.6z" fill="#0dd0e3"/><path d="M369.6 115.4L370.4 113.4 371 116.4 370.3 117.8z" fill="#d8ff32" stroke="#d8ff32" stroke-width=".35"/><path d="M371 116.4L371.8 115.7 372.4 118.3 371.6 118.9z" fill="#8aff7b" stroke="#8aff7b" stroke-width=".35"/><path d="M364.7 120.7L365.5 119.2 366.1 119.7 365.3 121.1z" fill="#13e0ea" stroke="#13e0ea" stroke-width=".35"/><path d="M372.4 118.3L373.2 118.2 373.8 120 373 120.2z" fill="#26f2d8" stroke="#26f2d8" stroke-width=".35"/><path d="M356.7 119.2L359.4 120.2 361.6 122.1 358.8 122.2z" fill="#06cef0"/><path d="M366.1 119.7L366.9 117.4 367.5 118.4 366.7 120.3z" fill="#38f7ca" stroke="#38f7ca" stroke-width=".35"/><path d="M373.8 120L374.6 120.1 375.2 121.1 374.4 121.3z" fill="#0bd7ef" stroke="#0bd7ef" stroke-width=".35"/><path d="M379.7 122L382.4 119.8 384.6 121.6 381.9 122.9z" fill="#00bbf7"/><path d="M367.5 118.4L368.3 115.8 368.9 117.6 368.1 119.6z" fill="#7aff8d" stroke="#7aff8d" stroke-width=".35"/><path d="M368.9 117.6L369.6 115.4 370.3 117.8 369.5 119.4z" fill="#91ff78" stroke="#91ff78" stroke-width=".35"/><path d="M360.8 121.9L363.6 119.9 365.7 121.1 363 123.5z" fill="#00c3f8"/><path d="M370.3 117.8L371 116.4 371.6 118.9 370.9 119.8z" fill="#6bff9a" stroke="#6bff9a" stroke-width=".35"/><path d="M383.8 121.7L386.6 118.6 388.7 121.5 386 123.5z" fill="#02cff9"/><path d="M371.6 118.9L372.4 118.3 373 120.2 372.2 120.7z" fill="#27f4da" stroke="#27f4da" stroke-width=".35"/><path d="M365.3 121.1L366.1 119.7 366.7 120.3 366 121.7z" fill="#10deed" stroke="#10deed" stroke-width=".35"/><path d="M373 120.2L373.8 120 374.4 121.3 373.6 121.5z" fill="#0fdbed" stroke="#0fdbed" stroke-width=".35"/><path d="M388 121.5L390.7 119.1 392.9 120.5 390.1 122.9z" fill="#0bd6ed"/><path d="M342 122.7L344.7 119.7 346.8 119.5 344.1 123.4z" fill="#05cff3"/><path d="M366.7 120.3L367.5 118.4 368.1 119.6 367.3 121.2z" fill="#23f1df" stroke="#23f1df" stroke-width=".35"/><path d="M368.1 119.6L368.9 117.6 369.5 119.4 368.7 120.9z" fill="#3dfac8" stroke="#3dfac8" stroke-width=".35"/><path d="M369.5 119.4L370.3 117.8 370.9 119.8 370.1 120.9z" fill="#39facb" stroke="#39facb" stroke-width=".35"/><path d="M346.1 120L348.8 116.2 351 116.5 348.3 120.7z" fill="#76f784"/><path d="M370.9 119.8L371.6 118.9 372.2 120.7 371.5 121.4z" fill="#20eee1" stroke="#20eee1" stroke-width=".35"/><path d="M392.1 120.8L394.9 119.6 397 118.7 394.3 119.9z" fill="#2de7c5"/><path d="M372.2 120.7L373 120.2 373.6 121.5 372.9 121.9z" fill="#0fdcee" stroke="#0fdcee" stroke-width=".35"/><path d="M366 121.7L366.7 120.3 367.3 121.2 366.6 122.3z" fill="#0bd9f2" stroke="#0bd9f2" stroke-width=".35"/><path d="M350.2 116.6L353 115.4 355.1 118.6 352.4 119.8z" fill="#a4f656"/><path d="M373.3 121.4L376 120.9 378.1 122.6 375.4 123.4z" fill="#00c7f6"/><path d="M396.3 118.8L399 119.8 401.1 119.8 398.4 118z" fill="#56e998"/><path d="M367.3 121.2L368.1 119.6 368.7 120.9 367.9 122z" fill="#16e5eb" stroke="#16e5eb" stroke-width=".35"/><path d="M368.7 120.9L369.5 119.4 370.1 120.9 369.3 122z" fill="#1ae9e8" stroke="#1ae9e8" stroke-width=".35"/><path d="M370.1 120.9L370.9 119.8 371.5 121.4 370.7 122.2z" fill="#15e4eb" stroke="#15e4eb" stroke-width=".35"/><path d="M354.4 118.1L357.1 119.2 359.3 122.3 356.5 122.1z" fill="#22e9d5"/><path d="M400.4 119.4L403.1 121.4 405.3 122.9 402.6 121.1z" fill="#13d7de"/><path d="M371.5 121.4L372.2 120.7 372.9 121.9 372.1 122.5z" fill="#0bd9f2" stroke="#0bd9f2" stroke-width=".35"/><path d="M377.4 122.6L380.1 121.8 382.3 122.8 379.5 122.4z" fill="#00bff3"/><path d="M366.6 122.3L367.3 121.2 367.9 122 367.2 122.9z" fill="#04d3f8" stroke="#04d3f8" stroke-width=".35"/><path d="M358.5 121.9L361.2 121.7 363.4 123.3 360.7 123.7z" fill="#00bef6"/><path d="M367.9 122L368.7 120.9 369.3 122 368.6 122.9z" fill="#09d8f5" stroke="#09d8f5" stroke-width=".35"/><path d="M381.5 122.7L384.3 121.4 386.4 123.2 383.7 123.5z" fill="#00bcf6"/><path d="M369.3 122L370.1 120.9 370.7 122.2 369.9 122.9z" fill="#09d8f5" stroke="#09d8f5" stroke-width=".35"/><path d="M370.7 122.2L371.5 121.4 372.1 122.5 371.3 123.1z" fill="#05d3f7" stroke="#05d3f7" stroke-width=".35"/><path d="M385.7 123.2L388.4 121.2 390.6 122.6 387.8 124.6z" fill="#00bff8"/><path d="M362.7 123.2L365.4 120.8 367.5 122.9 364.8 124.3z" fill="#00c1f8"/><path d="M381.1 122.7L381.9 122.7 382.5 122.9 381.7 122.8z" fill="#00c1f2" stroke="#00c1f2" stroke-width=".35"/><path d="M367.2 122.9L367.9 122 368.6 122.9 367.8 123.5z" fill="#00c9fb" stroke="#00c9fb" stroke-width=".35"/><path d="M343.8 123.3L346.5 119.4 348.7 120.1 345.9 124.5z" fill="#13dde7"/><path d="M368.6 122.9L369.3 122 369.9 122.9 369.2 123.6z" fill="#00cdfc" stroke="#00cdfc" stroke-width=".35"/><path d="M389.8 122.9L392.5 120.5 394.7 119.6 392 122.8z" fill="#1be0db"/><path d="M369.9 122.9L370.7 122.2 371.3 123.1 370.5 123.7z" fill="#00cafb" stroke="#00cafb" stroke-width=".35"/><path d="M347.9 120.5L350.7 116.2 352.8 119.4 350.1 123z" fill="#6cf992"/><path d="M370.9 123.1L373.7 121.3 375.8 123.2 373.1 124.8z" fill="#00c8f8"/><path d="M394 120L396.7 118.8 398.8 118 396.1 119.2z" fill="#8ef164"/><path d="M380.4 122.6L381.1 122.7 381.7 122.8 381 122.5z" fill="#06caea" stroke="#06caea" stroke-width=".35"/><path d="M381.7 122.8L382.5 122.9 383.1 123.2 382.4 122.9z" fill="#02c8ef" stroke="#02c8ef" stroke-width=".35"/><path d="M367.8 123.5L368.6 122.9 369.2 123.6 368.4 124.1z" fill="#00bcfa" stroke="#00bcfa" stroke-width=".35"/><path d="M352.1 119.2L354.8 118 357 122 354.2 123.2z" fill="#48f3b4"/><path d="M398.1 117.9L400.8 119.7 403 121.4 400.2 119.7z" fill="#78f17a"/><path d="M369.2 123.6L369.9 122.9 370.5 123.7 369.8 124.2z" fill="#00bcfa" stroke="#00bcfa" stroke-width=".35"/><path d="M375.1 123.3L377.8 122.5 380 122.4 377.2 122.2z" fill="#0cd0e5"/><path d="M379.6 122.4L380.4 122.6 381 122.5 380.2 122z" fill="#12d2dc" stroke="#12d2dc" stroke-width=".35"/><path d="M402.2 120.8L405 122.6 407.1 124.7 404.4 123.8z" fill="#09d0ec"/><path d="M356.2 121.7L358.9 121.9 361.1 123.7 358.4 123.8z" fill="#0cd4e9"/><path d="M381 122.5L381.7 122.8 382.4 122.9 381.6 122.3z" fill="#0ed0e0" stroke="#0ed0e0" stroke-width=".35"/><path d="M382.4 122.9L383.1 123.2 383.7 123.4 383 123z" fill="#07cbea" stroke="#07cbea" stroke-width=".35"/><path d="M368.4 124.1L369.2 123.6 369.8 124.2 369 124.6z" fill="#00b2f9" stroke="#00b2f9" stroke-width=".35"/><path d="M383.4 123.3L386.1 123 388.2 124.5 385.5 124.8z" fill="#00bdf5"/><path d="M360.3 123.5L363.1 123.1 365.2 124.2 362.5 123.8z" fill="#00c5f3"/><path d="M378.8 122.2L379.6 122.4 380.2 122 379.4 121.5z" fill="#1fdccd" stroke="#1fdccd" stroke-width=".35"/><path d="M380.2 122L381 122.5 381.6 122.3 380.8 121.5z" fill="#1fdccd" stroke="#1fdccd" stroke-width=".35"/><path d="M381.6 122.3L382.4 122.9 383 123 382.2 122.2z" fill="#16d6d8" stroke="#16d6d8" stroke-width=".35"/><path d="M364.5 124.1L367.2 122.7 369.4 124.7 366.6 125.1z" fill="#00bbf6"/><path d="M387.5 124.5L390.2 122.5 392.4 122.4 389.7 125.5z" fill="#02ccf5"/><path d="M383 123L383.7 123.4 384.3 123.7 383.6 123.2z" fill="#0acee7" stroke="#0acee7" stroke-width=".35"/><path d="M345.6 124.2L348.3 119.8 350.5 122.4 347.8 126.1z" fill="#11ddec"/><path d="M368.6 124.7L371.4 122.8 373.5 124.5 370.8 126.2z" fill="#00b5f8"/><path d="M391.6 122.9L394.4 119.6 396.5 118.8 393.8 122.9z" fill="#5bf19c"/><path d="M378.1 122.1L378.8 122.2 379.4 121.5 378.7 121.1z" fill="#37e1b4" stroke="#37e1b4" stroke-width=".35"/><path d="M379.4 121.5L380.2 122 380.8 121.5 380 120.6z" fill="#48e2a1" stroke="#48e2a1" stroke-width=".35"/><path d="M380.8 121.5L381.6 122.3 382.2 122.2 381.4 121.2z" fill="#38e1b2" stroke="#38e1b2" stroke-width=".35"/><path d="M349.8 122.5L352.5 118.9 354.6 122.9 351.9 125.6z" fill="#22eedb"/><path d="M395.8 119.1L398.5 118 400.7 119.8 397.9 120.9z" fill="#b5f143"/><path d="M372.8 124.7L375.5 123.1 377.7 122 374.9 124.5z" fill="#0cd2e8"/><path d="M382.2 122.2L383 123 383.6 123.2 382.8 122.4z" fill="#1cdbd2" stroke="#1cdbd2" stroke-width=".35"/><path d="M383.6 123.2L384.3 123.7 385 124.1 384.2 123.6z" fill="#0bd0e6" stroke="#0bd0e6" stroke-width=".35"/><path d="M377.3 122.2L378.1 122.1 378.7 121.1 377.9 121.2z" fill="#4ae4a1" stroke="#4ae4a1" stroke-width=".35"/><path d="M399.9 119.3L402.6 121 404.8 124 402.1 123.3z" fill="#46eeb1"/><path d="M353.9 122.8L356.6 121.6 358.8 123.7 356.1 124.9z" fill="#17dfe1"/><path d="M378.7 121.1L379.4 121.5 380 120.6 379.3 120z" fill="#75e673" stroke="#75e673" stroke-width=".35"/><path d="M380 120.6L380.8 121.5 381.4 121.2 380.6 119.9z" fill="#78e66f" stroke="#78e66f" stroke-width=".35"/><path d="M381.4 121.2L382.2 122.2 382.8 122.4 382 121.1z" fill="#51e49a" stroke="#51e49a" stroke-width=".35"/><path d="M382.8 122.4L383.6 123.2 384.2 123.6 383.4 122.8z" fill="#1eded1" stroke="#1eded1" stroke-width=".35"/><path d="M358 123.6L360.8 123.6 362.9 123.8 360.2 123.2z" fill="#14d7dd"/><path d="M404.1 123.5L406.8 124.3 408.9 126.2 406.2 126.1z" fill="#00b9f5"/><path d="M384.2 123.6L385 124.1 385.6 124.6 384.8 124.2z" fill="#0ad0e9" stroke="#0ad0e9" stroke-width=".35"/><path d="M376.5 122.7L377.3 122.2 377.9 121.2 377.1 121.8z" fill="#4be7a3" stroke="#4be7a3" stroke-width=".35"/><path d="M377.9 121.2L378.7 121.1 379.3 120 378.5 120z" fill="#8fe759" stroke="#8fe759" stroke-width=".35"/><path d="M379.3 120L380 120.6 380.6 119.9 379.9 119z" fill="#ade039" stroke="#ade039" stroke-width=".35"/><path d="M362.2 123.7L364.9 124.1 367.1 125.1 364.3 123.5z" fill="#0dd1e4"/><path d="M385.2 124.5L387.9 124.2 390.1 125.2 387.3 126.6z" fill="#00bcf6"/><path d="M380.6 119.9L381.4 121.2 382 121.1 381.3 119.7z" fill="#99e44f" stroke="#99e44f" stroke-width=".35"/><path d="M382 121.1L382.8 122.4 383.4 122.8 382.6 121.5z" fill="#5be792" stroke="#5be792" stroke-width=".35"/><path d="M383.4 122.8L384.2 123.6 384.8 124.2 384 123.5z" fill="#1cded5" stroke="#1cded5" stroke-width=".35"/><path d="M366.3 124.8L369 124.5 371.2 126 368.5 126.2z" fill="#00b9f5"/><path d="M389.3 125.4L392.1 122.3 394.2 122.4 391.5 126.4z" fill="#11dae7"/><path d="M375.7 123.5L376.5 122.7 377.1 121.8 376.3 122.8z" fill="#38e7b8" stroke="#38e7b8" stroke-width=".35"/><path d="M377.1 121.8L377.9 121.2 378.5 120 377.7 120.7z" fill="#92ea5b" stroke="#92ea5b" stroke-width=".35"/><path d="M384.8 124.2L385.6 124.6 386.2 125.2 385.4 124.9z" fill="#07ceed" stroke="#07ceed" stroke-width=".35"/><path d="M378.5 120L379.3 120 379.9 119 379.1 118.9z" fill="#d0de19" stroke="#d0de19" stroke-width=".35"/><path d="M347.4 125.7L350.2 122 352.3 125.1 349.6 127.8z" fill="#00cffc"/><path d="M393.5 122.8L396.2 118.7 398.4 120.5 395.6 124.5z" fill="#7efa7d"/><path d="M370.5 126L373.2 124.4 375.3 124.2 372.6 127z" fill="#00c2f6"/><path d="M379.9 119L380.6 119.9 381.3 119.7 380.5 118.6z" fill="#d3da16" stroke="#d3da16" stroke-width=".35"/><path d="M381.3 119.7L382 121.1 382.6 121.5 381.9 120.1z" fill="#a8e644" stroke="#a8e644" stroke-width=".35"/><path d="M382.6 121.5L383.4 122.8 384 123.5 383.2 122.4z" fill="#52e99d" stroke="#52e99d" stroke-width=".35"/><path d="M375 124.4L375.7 123.5 376.3 122.8 375.6 124z" fill="#20e3d4" stroke="#20e3d4" stroke-width=".35"/><path d="M397.6 120.5L400.3 119.3 402.5 123.3 399.8 124.4z" fill="#7dfa7f"/><path d="M351.6 125.2L354.3 122.5 356.5 124.6 353.7 127z" fill="#0bd7ef"/><path d="M376.3 122.8L377.1 121.8 377.7 120.7 377 122z" fill="#7aef77" stroke="#7aef77" stroke-width=".35"/><path d="M384 123.5L384.8 124.2 385.4 124.9 384.6 124.3z" fill="#17dbdc" stroke="#17dbdc" stroke-width=".35"/><path d="M377.7 120.7L378.5 120 379.1 118.9 378.3 119.7z" fill="#d5e219" stroke="#d5e219" stroke-width=".35"/><path d="M385.4 124.9L386.2 125.2 386.8 125.8 386 125.6z" fill="#02cbf3" stroke="#02cbf3" stroke-width=".35"/><path d="M379.1 118.9L379.9 119 380.5 118.6 379.7 118.4z" fill="#dfd00e" stroke="#dfd00e" stroke-width=".35"/><path d="M380.5 118.6L381.3 119.7 381.9 120.1 381.1 119z" fill="#dbd913" stroke="#dbd913" stroke-width=".35"/><path d="M355.7 124.8L358.5 123.6 360.6 123.1 357.9 124.3z" fill="#20e3d3"/><path d="M401.7 122.8L404.5 123.5 406.6 126.2 403.9 126.1z" fill="#13dbe4"/><path d="M381.9 120.1L382.6 121.5 383.2 122.4 382.5 121.1z" fill="#9eec51" stroke="#9eec51" stroke-width=".35"/><path d="M374.2 125.3L375 124.4 375.6 124 374.8 125.2z" fill="#13d9e3" stroke="#13d9e3" stroke-width=".35"/><path d="M375.6 124L376.3 122.8 377 122 376.2 123.5z" fill="#4ceda9" stroke="#4ceda9" stroke-width=".35"/><path d="M383.2 122.4L384 123.5 384.6 124.3 383.9 123.5z" fill="#3ae9b9" stroke="#3ae9b9" stroke-width=".35"/><path d="M377 122L377.7 120.7 378.3 119.7 377.6 121.3z" fill="#b7ec3c" stroke="#b7ec3c" stroke-width=".35"/><path d="M359.9 123.2L362.6 123.9 364.7 123.7 362 122.1z" fill="#46e7a9"/><path d="M384.6 124.3L385.4 124.9 386 125.6 385.2 125.3z" fill="#0fd6e6" stroke="#0fd6e6" stroke-width=".35"/><path d="M405.9 125.8L408.6 126 410.8 127.2 408 126.8z" fill="#00aef4"/><path d="M386 125.6L386.8 125.8 387.4 126.3 386.6 126.4z" fill="#00c4f6" stroke="#00c4f6" stroke-width=".35"/><path d="M378.3 119.7L379.1 118.9 379.7 118.4 378.9 119.3z" fill="#e5d50e" stroke="#e5d50e" stroke-width=".35"/><path d="M379.7 118.4L380.5 118.6 381.1 119 380.3 118.8z" fill="#e9cf0a" stroke="#e9cf0a" stroke-width=".35"/><path d="M381.1 119L381.9 120.1 382.5 121.1 381.7 120.2z" fill="#dde417" stroke="#dde417" stroke-width=".35"/><path d="M364 123.4L366.7 124.9 368.9 126.3 366.2 124.6z" fill="#17d9db"/><path d="M387 126.3L389.7 125 391.9 126 389.2 128.2z" fill="#00bbf8"/><path d="M373.4 126.1L374.2 125.3 374.8 125.2 374 126.2z" fill="#06d0f0" stroke="#06d0f0" stroke-width=".35"/><path d="M374.8 125.2L375.6 124 376.2 123.5 375.4 125z" fill="#20e6d7" stroke="#20e6d7" stroke-width=".35"/><path d="M382.5 121.1L383.2 122.4 383.9 123.5 383.1 122.7z" fill="#7ef375" stroke="#7ef375" stroke-width=".35"/><path d="M376.2 123.5L377 122 377.6 121.3 376.8 123.2z" fill="#80f677" stroke="#80f677" stroke-width=".35"/><path d="M383.9 123.5L384.6 124.3 385.2 125.3 384.5 124.8z" fill="#20e5d5" stroke="#20e5d5" stroke-width=".35"/><path d="M385.2 125.3L386 125.6 386.6 126.4 385.8 126.2z" fill="#06cff0" stroke="#06cff0" stroke-width=".35"/><path d="M391.2 126.3L393.9 122.2 396 123.9 393.3 127.8z" fill="#17e2e4"/><path d="M368.1 126L370.9 125.8 373 126.8 370.3 127.8z" fill="#00baf6"/><path d="M377.6 121.3L378.3 119.7 378.9 119.3 378.2 121z" fill="#e1e817" stroke="#e1e817" stroke-width=".35"/><path d="M378.9 119.3L379.7 118.4 380.3 118.8 379.6 119.7z" fill="#efd40a" stroke="#efd40a" stroke-width=".35"/><path d="M380.3 118.8L381.1 119 381.7 120.2 380.9 120.1z" fill="#ebdb0e" stroke="#ebdb0e" stroke-width=".35"/><path d="M372.7 126.7L373.4 126.1 374 126.2 373.3 126.9z" fill="#00c4f7" stroke="#00c4f7" stroke-width=".35"/><path d="M395.3 124.1L398 120.1 400.2 124.1 397.5 127.1z" fill="#4af6b4"/><path d="M349.3 127.5L352 124.8 354.2 126.6 351.4 129.1z" fill="#00b2f9"/><path d="M374 126.2L374.8 125.2 375.4 125 374.6 126.2z" fill="#0fd8e9" stroke="#0fd8e9" stroke-width=".35"/><path d="M381.7 120.2L382.5 121.1 383.1 122.7 382.3 122z" fill="#baf03d" stroke="#baf03d" stroke-width=".35"/><path d="M375.4 125L376.2 123.5 376.8 123.2 376 124.9z" fill="#3befbd" stroke="#3befbd" stroke-width=".35"/><path d="M383.1 122.7L383.9 123.5 384.5 124.8 383.7 124.3z" fill="#4cefab" stroke="#4cefab" stroke-width=".35"/><path d="M384.5 124.8L385.2 125.3 385.8 126.2 385.1 126z" fill="#13dae4" stroke="#13dae4" stroke-width=".35"/><path d="M376.8 123.2L377.6 121.3 378.2 121 377.4 123.1z" fill="#a6f755" stroke="#a6f755" stroke-width=".35"/><path d="M378.2 121L378.9 119.3 379.6 119.7 378.8 121.4z" fill="#eae814" stroke="#eae814" stroke-width=".35"/><path d="M353.4 126.9L356.1 124.5 358.3 124 355.6 127.1z" fill="#13dae3"/><path d="M399.4 123.9L402.2 122.7 404.3 126 401.6 127.2z" fill="#21ead9"/><path d="M379.6 119.7L380.3 118.8 380.9 120.1 380.2 120.9z" fill="#f0e00f" stroke="#f0e00f" stroke-width=".35"/><path d="M373.3 126.9L374 126.2 374.6 126.2 373.9 127.2z" fill="#02cdf5" stroke="#02cdf5" stroke-width=".35"/><path d="M380.9 120.1L381.7 120.2 382.3 122 381.5 122z" fill="#e2f01b" stroke="#e2f01b" stroke-width=".35"/><path d="M374.6 126.2L375.4 125 376 124.9 375.3 126.3z" fill="#17e0e2" stroke="#17e0e2" stroke-width=".35"/><path d="M357.6 124.4L360.3 123.2 362.4 122.1 359.7 123.3z" fill="#78f07a"/><path d="M382.3 122L383.1 122.7 383.7 124.3 382.9 123.9z" fill="#7ef97c" stroke="#7ef97c" stroke-width=".35"/><path d="M403.6 125.8L406.3 125.9 408.5 126.8 405.7 126.5z" fill="#0bd1e8"/><path d="M383.7 124.3L384.5 124.8 385.1 126 384.3 125.8z" fill="#21e8d8" stroke="#21e8d8" stroke-width=".35"/><path d="M376 124.9L376.8 123.2 377.4 123.1 376.6 125z" fill="#56f5a5" stroke="#56f5a5" stroke-width=".35"/><path d="M377.4 123.1L378.2 121 378.8 121.4 378 123.5z" fill="#b6f949" stroke="#b6f949" stroke-width=".35"/><path d="M378.8 121.4L379.6 119.7 380.2 120.9 379.4 122.5z" fill="#eaf218" stroke="#eaf218" stroke-width=".35"/><path d="M361.7 122.1L364.4 123.7 366.6 124.8 363.8 123.1z" fill="#79f078"/><path d="M384.7 125.8L387.4 126.2 389.6 128.1 386.9 128.8z" fill="#00c2f7"/><path d="M407.7 126.7L410.4 127.1 412.6 127.8 409.9 126.5z" fill="#00c5f1"/><path d="M380.2 120.9L380.9 120.1 381.5 122 380.8 122.7z" fill="#e6f51b" stroke="#e6f51b" stroke-width=".35"/><path d="M373.9 127.2L374.6 126.2 375.3 126.3 374.5 127.4z" fill="#07d2f2" stroke="#07d2f2" stroke-width=".35"/><path d="M381.5 122L382.3 122 382.9 123.9 382.2 124z" fill="#9dfc62" stroke="#9dfc62" stroke-width=".35"/><path d="M382.9 123.9L383.7 124.3 384.3 125.8 383.5 125.7z" fill="#3bf1c0" stroke="#3bf1c0" stroke-width=".35"/><path d="M388.8 128L391.6 125.8 393.7 127.3 391 129.3z" fill="#00bbf8"/><path d="M365.8 124.3L368.6 126 370.7 127.9 368 127.1z" fill="#11d7e3"/><path d="M375.3 126.3L376 124.9 376.6 125 375.9 126.6z" fill="#1de7de" stroke="#1de7de" stroke-width=".35"/><path d="M376.6 125L377.4 123.1 378 123.5 377.2 125.4z" fill="#61f99d" stroke="#61f99d" stroke-width=".35"/><path d="M378 123.5L378.8 121.4 379.4 122.5 378.6 124.4z" fill="#abfe58" stroke="#abfe58" stroke-width=".35"/><path d="M393 127.5L395.7 123.6 397.9 126.6 395.1 129.3z" fill="#0edaee"/><path d="M370 127.6L372.7 126.5 374.9 127.4 372.1 129.4z" fill="#00bdf7"/><path d="M379.4 122.5L380.2 120.9 380.8 122.7 380 124z" fill="#c3fd41" stroke="#c3fd41" stroke-width=".35"/><path d="M380.8 122.7L381.5 122 382.2 124 381.4 124.6z" fill="#9fff63" stroke="#9fff63" stroke-width=".35"/><path d="M382.2 124L382.9 123.9 383.5 125.7 382.8 125.8z" fill="#50f6ae" stroke="#50f6ae" stroke-width=".35"/><path d="M374.5 127.4L375.3 126.3 375.9 126.6 375.1 127.7z" fill="#0ad6f0" stroke="#0ad6f0" stroke-width=".35"/><path d="M375.9 126.6L376.6 125 377.2 125.4 376.5 127z" fill="#20ebdd" stroke="#20ebdd" stroke-width=".35"/><path d="M351.1 128.9L353.8 126.5 356 126.7 353.3 129.9z" fill="#00baf7"/><path d="M397.1 126.6L399.9 123.6 402 126.9 399.3 129.2z" fill="#15e1e7"/><path d="M377.2 125.4L378 123.5 378.6 124.4 377.9 126.1z" fill="#58faa8" stroke="#58faa8" stroke-width=".35"/><path d="M378.6 124.4L379.4 122.5 380 124 379.2 125.5z" fill="#86ff7d" stroke="#86ff7d" stroke-width=".35"/><path d="M355.2 127.1L358 124 360.1 122.9 357.4 126.9z" fill="#46eeb0"/><path d="M380 124L380.8 122.7 381.4 124.6 380.6 125.6z" fill="#83ff80" stroke="#83ff80" stroke-width=".35"/><path d="M401.3 126.9L404 125.7 406.1 126.5 403.4 127.6z" fill="#16dcdf"/><path d="M381.4 124.6L382.2 124 382.8 125.8 382 126.3z" fill="#51f9b0" stroke="#51f9b0" stroke-width=".35"/><path d="M375.1 127.7L375.9 126.6 376.5 127 375.7 128.1z" fill="#0bd8ef" stroke="#0bd8ef" stroke-width=".35"/><path d="M376.5 127L377.2 125.4 377.9 126.1 377.1 127.5z" fill="#1eeae0" stroke="#1eeae0" stroke-width=".35"/><path d="M359.4 123.3L362.1 122.1 364.3 123.1 361.5 124.3z" fill="#b4f042"/><path d="M382.4 125.6L385.1 125.8 387.3 128.8 384.5 129.5z" fill="#0cd7ed"/><path d="M405.4 126.5L408.1 126.8 410.3 126.6 407.6 125.4z" fill="#20e0cf"/><path d="M377.9 126.1L378.6 124.4 379.2 125.5 378.5 127z" fill="#3df7c4" stroke="#3df7c4" stroke-width=".35"/><path d="M379.2 125.5L380 124 380.6 125.6 379.8 126.8z" fill="#50fbb3" stroke="#50fbb3" stroke-width=".35"/><path d="M380.6 125.6L381.4 124.6 382 126.3 381.2 127.1z" fill="#3cf7c5" stroke="#3cf7c5" stroke-width=".35"/><path d="M386.5 128.5L389.3 127.8 391.4 129.1 388.7 129.8z" fill="#00b2f6"/><path d="M409.5 126.4L412.3 127.8 414.4 128.7 411.7 126.7z" fill="#10d3e0"/><path d="M363.5 122.8L366.2 124.5 368.4 127.3 365.7 126.4z" fill="#5bf09b"/><path d="M375.7 128.1L376.5 127 377.1 127.5 376.3 128.6z" fill="#0ad7f1" stroke="#0ad7f1" stroke-width=".35"/><path d="M390.7 129.1L393.4 127.1 395.6 129 392.8 130z" fill="#00bbf7"/><path d="M367.7 126.8L370.4 127.5 372.5 129.3 369.8 129.6z" fill="#02cbf4"/><path d="M377.1 127.5L377.9 126.1 378.5 127 377.7 128.2z" fill="#18e5e7" stroke="#18e5e7" stroke-width=".35"/><path d="M378.5 127L379.2 125.5 379.8 126.8 379.1 128z" fill="#21efdf" stroke="#21efdf" stroke-width=".35"/><path d="M379.8 126.8L380.6 125.6 381.2 127.1 380.5 128z" fill="#22efdf" stroke="#22efdf" stroke-width=".35"/><path d="M371.8 129.2L374.5 127.2 376.7 128.6 374 130.6z" fill="#00bff8"/><path d="M394.8 129L397.5 126.2 399.7 128.8 397 130.7z" fill="#00cafa"/><path d="M390.3 129.3L391 129.1 391.7 129.4 390.9 129.5z" fill="#00aff5" stroke="#00aff5" stroke-width=".35"/><path d="M376.3 128.6L377.1 127.5 377.7 128.2 376.9 129.2z" fill="#07d4f5" stroke="#07d4f5" stroke-width=".35"/><path d="M352.9 129.8L355.7 126.6 357.8 126.4 355.1 130.6z" fill="#09d3ef"/><path d="M377.7 128.2L378.5 127 379.1 128 378.3 129z" fill="#0fddee" stroke="#0fddee" stroke-width=".35"/><path d="M399 128.9L401.7 126.6 403.8 127.3 401.1 129.9z" fill="#0cd6eb"/><path d="M379.1 128L379.8 126.8 380.5 128 379.7 128.9z" fill="#13e1eb" stroke="#13e1eb" stroke-width=".35"/><path d="M357.1 126.9L359.8 122.9 362 123.9 359.2 128.1z" fill="#7cf97e"/><path d="M380.1 127.9L382.8 125.4 385 129.3 382.2 130.9z" fill="#0cd9f0"/><path d="M389.5 129.5L390.3 129.3 390.9 129.5 390.1 129.6z" fill="#00b4f4" stroke="#00b4f4" stroke-width=".35"/><path d="M403.1 127.7L405.8 126.5 408 125.3 405.2 126.5z" fill="#45e9ac"/><path d="M390.9 129.5L391.7 129.4 392.3 129.6 391.5 129.7z" fill="#00b5f4" stroke="#00b5f4" stroke-width=".35"/><path d="M376.9 129.2L377.7 128.2 378.3 129 377.5 129.8z" fill="#02d0f9" stroke="#02d0f9" stroke-width=".35"/><path d="M361.2 124L363.9 122.8 366.1 126.4 363.4 127.6z" fill="#93f968"/><path d="M378.3 129L379.1 128 379.7 128.9 378.9 129.7z" fill="#07d5f6" stroke="#07d5f6" stroke-width=".35"/><path d="M384.2 129.2L386.9 128.4 389.1 129.6 386.4 130.3z" fill="#00c2f5"/><path d="M407.2 125.4L410 126.6 412.1 127 409.4 125.1z" fill="#66eb89"/><path d="M388.7 129.6L389.5 129.5 390.1 129.6 389.3 129.7z" fill="#00bdf3" stroke="#00bdf3" stroke-width=".35"/><path d="M390.1 129.6L390.9 129.5 391.5 129.7 390.7 129.7z" fill="#00bef3" stroke="#00bef3" stroke-width=".35"/><path d="M411.4 126.5L414.1 128.5 416.3 130.3 413.5 128.6z" fill="#12d7e0"/><path d="M365.3 125.9L368.1 126.8 370.2 129.7 367.5 129.7z" fill="#1be2dc"/><path d="M391.5 129.7L392.3 129.6 392.9 129.8 392.1 129.8z" fill="#00bdf3" stroke="#00bdf3" stroke-width=".35"/><path d="M377.5 129.8L378.3 129 378.9 129.7 378.1 130.3z" fill="#00c7fa" stroke="#00c7fa" stroke-width=".35"/><path d="M369.5 129.4L372.2 129 374.4 130.5 371.6 130.8z" fill="#00bdf5"/><path d="M392.5 129.8L395.2 128.8 397.4 130.5 394.7 130.8z" fill="#00bbf6"/><path d="M388 129.7L388.7 129.6 389.3 129.7 388.6 129.7z" fill="#00c7f2" stroke="#00c7f2" stroke-width=".35"/><path d="M389.3 129.7L390.1 129.6 390.7 129.7 390 129.6z" fill="#02c8ef" stroke="#02c8ef" stroke-width=".35"/><path d="M390.7 129.7L391.5 129.7 392.1 129.8 391.3 129.7z" fill="#02c8ef" stroke="#02c8ef" stroke-width=".35"/><path d="M373.6 130.4L376.4 128.4 378.5 130.4 375.8 131.4z" fill="#00bdf7"/><path d="M396.6 130.5L399.4 128.6 401.5 129.6 398.8 131.8z" fill="#00c0f7"/><path d="M392.1 129.8L392.9 129.8 393.5 130.1 392.7 129.9z" fill="#00c6f2" stroke="#00c6f2" stroke-width=".35"/><path d="M354.8 130.4L357.5 126.3 359.6 127.4 356.9 131.8z" fill="#14dfe7"/><path d="M377.8 130.4L380.5 127.6 382.7 130.6 379.9 132.2z" fill="#00c5fa"/><path d="M387.2 129.9L388 129.7 388.6 129.7 387.8 129.9z" fill="#04caee" stroke="#04caee" stroke-width=".35"/><path d="M400.8 129.9L403.5 127.3 405.7 126.2 402.9 129.7z" fill="#22e7d3"/><path d="M388.6 129.7L389.3 129.7 390 129.6 389.2 129.5z" fill="#09cde8" stroke="#09cde8" stroke-width=".35"/><path d="M390 129.6L390.7 129.7 391.3 129.7 390.6 129.4z" fill="#0bcee5" stroke="#0bcee5" stroke-width=".35"/><path d="M391.3 129.7L392.1 129.8 392.7 129.9 391.9 129.6z" fill="#09cde8" stroke="#09cde8" stroke-width=".35"/><path d="M358.9 127.8L361.6 123.6 363.8 127.2 361.1 130.6z" fill="#5cf8a2"/><path d="M381.9 130.6L384.6 129 386.8 130.2 384.1 131.8z" fill="#00c3f7"/><path d="M404.9 126.6L407.6 125.4 409.8 125.1 407.1 126.3z" fill="#9fef54"/><path d="M392.7 129.9L393.5 130.1 394.1 130.3 393.3 130.1z" fill="#03c9ef" stroke="#03c9ef" stroke-width=".35"/><path d="M386.4 130.2L387.2 129.9 387.8 129.9 387 130.1z" fill="#06cdec" stroke="#06cdec" stroke-width=".35"/><path d="M387.8 129.9L388.6 129.7 389.2 129.5 388.4 129.6z" fill="#0ed2e2" stroke="#0ed2e2" stroke-width=".35"/><path d="M409.1 124.9L411.8 126.8 413.9 128.9 411.2 127.4z" fill="#73f180"/><path d="M363 127.1L365.8 125.9 367.9 129.6 365.2 130.8z" fill="#2ff0cc"/><path d="M389.2 129.5L390 129.6 390.6 129.4 389.8 129.2z" fill="#14d5db" stroke="#14d5db" stroke-width=".35"/><path d="M390.6 129.4L391.3 129.7 391.9 129.6 391.2 129.2z" fill="#14d6da" stroke="#14d6da" stroke-width=".35"/><path d="M367.2 129.3L369.9 129.3 372.1 130.8 369.3 130.7z" fill="#0bd2e9"/><path d="M391.9 129.6L392.7 129.9 393.3 130.1 392.5 129.6z" fill="#0fd2e1" stroke="#0fd2e1" stroke-width=".35"/><path d="M413.2 128.3L415.9 129.9 418.1 132 415.4 131.4z" fill="#04cdf0"/><path d="M385.6 130.6L386.4 130.2 387 130.1 386.3 130.5z" fill="#06cded" stroke="#06cded" stroke-width=".35"/><path d="M393.3 130.1L394.1 130.3 394.7 130.7 393.9 130.3z" fill="#06ccec" stroke="#06ccec" stroke-width=".35"/><path d="M387 130.1L387.8 129.9 388.4 129.6 387.6 129.8z" fill="#12d5df" stroke="#12d5df" stroke-width=".35"/><path d="M388.4 129.6L389.2 129.5 389.8 129.2 389 129.1z" fill="#1cdcd3" stroke="#1cdcd3" stroke-width=".35"/><path d="M371.3 130.6L374 130.3 376.2 131.3 373.5 130.6z" fill="#02c8f1"/><path d="M394.3 130.6L397.1 130.3 399.2 131.6 396.5 132.2z" fill="#00bcf5"/><path d="M389.8 129.2L390.6 129.4 391.2 129.2 390.4 128.8z" fill="#21dfcd" stroke="#21dfcd" stroke-width=".35"/><path d="M391.2 129.2L391.9 129.6 392.5 129.6 391.8 129z" fill="#1eddd0" stroke="#1eddd0" stroke-width=".35"/><path d="M375.5 131.2L378.2 130.2 380.3 132 377.6 132.2z" fill="#00baf6"/><path d="M384.9 131.1L385.6 130.6 386.3 130.5 385.5 131.1z" fill="#04ccf0" stroke="#04ccf0" stroke-width=".35"/><path d="M398.5 131.7L401.2 129.4 403.4 129.2 400.6 132.6z" fill="#06cff2"/><path d="M392.5 129.6L393.3 130.1 393.9 130.3 393.2 129.8z" fill="#14d6dc" stroke="#14d6dc" stroke-width=".35"/><path d="M386.3 130.5L387 130.1 387.6 129.8 386.9 130.2z" fill="#12d6e0" stroke="#12d6e0" stroke-width=".35"/><path d="M393.9 130.3L394.7 130.7 395.3 131 394.5 130.7z" fill="#08cdeb" stroke="#08cdeb" stroke-width=".35"/><path d="M387.6 129.8L388.4 129.6 389 129.1 388.2 129.3z" fill="#20e0cf" stroke="#20e0cf" stroke-width=".35"/><path d="M389 129.1L389.8 129.2 390.4 128.8 389.6 128.5z" fill="#39e4b4" stroke="#39e4b4" stroke-width=".35"/><path d="M356.6 131.5L359.3 127.2 361.5 130 358.7 133.5z" fill="#0ddbef"/><path d="M379.6 131.9L382.3 130.3 384.5 131.6 381.8 133.3z" fill="#00b3f7"/><path d="M402.6 129.7L405.3 126.2 407.5 125.9 404.8 130.1z" fill="#6bf48c"/><path d="M390.4 128.8L391.2 129.2 391.8 129 391 128.4z" fill="#3ee4af" stroke="#3ee4af" stroke-width=".35"/><path d="M384.1 131.6L384.9 131.1 385.5 131.1 384.7 131.7z" fill="#00c9f5" stroke="#00c9f5" stroke-width=".35"/><path d="M391.8 129L392.5 129.6 393.2 129.8 392.4 129.1z" fill="#27e3c7" stroke="#27e3c7" stroke-width=".35"/><path d="M385.5 131.1L386.3 130.5 386.9 130.2 386.1 130.9z" fill="#0fd4e5" stroke="#0fd4e5" stroke-width=".35"/><path d="M393.2 129.8L393.9 130.3 394.5 130.7 393.8 130.2z" fill="#16d9db" stroke="#16d9db" stroke-width=".35"/><path d="M406.7 126.1L409.5 125 411.6 127.5 408.9 128.6z" fill="#aff349"/><path d="M360.7 130.1L363.5 126.7 365.6 130.5 362.9 133z" fill="#1ae6e3"/><path d="M386.9 130.2L387.6 129.8 388.2 129.3 387.5 129.8z" fill="#21e2d0" stroke="#21e2d0" stroke-width=".35"/><path d="M394.5 130.7L395.3 131 395.9 131.5 395.1 131.2z" fill="#07ceec" stroke="#07ceec" stroke-width=".35"/><path d="M388.2 129.3L389 129.1 389.6 128.5 388.9 128.6z" fill="#4ae7a4" stroke="#4ae7a4" stroke-width=".35"/><path d="M364.9 130.4L367.6 129.2 369.7 130.6 367 131.8z" fill="#15dde1"/><path d="M389.6 128.5L390.4 128.8 391 128.4 390.2 128z" fill="#64e989" stroke="#64e989" stroke-width=".35"/><path d="M410.9 127L413.6 128.5 415.8 131.6 413 131.1z" fill="#31ecc6"/><path d="M383.3 132.2L384.1 131.6 384.7 131.7 383.9 132.3z" fill="#00c0f6" stroke="#00c0f6" stroke-width=".35"/><path d="M391 128.4L391.8 129 392.4 129.1 391.6 128.3z" fill="#59e894" stroke="#59e894" stroke-width=".35"/><path d="M384.7 131.7L385.5 131.1 386.1 130.9 385.3 131.6z" fill="#09d0ec" stroke="#09d0ec" stroke-width=".35"/><path d="M392.4 129.1L393.2 129.8 393.8 130.2 393 129.4z" fill="#31e5bf" stroke="#31e5bf" stroke-width=".35"/><path d="M386.1 130.9L386.9 130.2 387.5 129.8 386.7 130.5z" fill="#1ce0d6" stroke="#1ce0d6" stroke-width=".35"/><path d="M369 130.6L371.7 130.7 373.9 130.7 371.2 129.7z" fill="#1adbd6"/><path d="M393.8 130.2L394.5 130.7 395.1 131.2 394.4 130.7z" fill="#16d9dc" stroke="#16d9dc" stroke-width=".35"/><path d="M415 131.1L417.8 131.7 419.9 133.4 417.2 133.4z" fill="#00b3f5"/><path d="M387.5 129.8L388.2 129.3 388.9 128.6 388.1 129.2z" fill="#4be9a5" stroke="#4be9a5" stroke-width=".35"/><path d="M395.1 131.2L395.9 131.5 396.5 132 395.8 131.8z" fill="#05cdef" stroke="#05cdef" stroke-width=".35"/><path d="M388.9 128.6L389.6 128.5 390.2 128 389.5 128.1z" fill="#7bed73" stroke="#7bed73" stroke-width=".35"/><path d="M373.1 130.5L375.9 131.2 378 132.3 375.3 130.6z" fill="#10d4e0"/><path d="M382.6 132.7L383.3 132.2 383.9 132.3 383.2 132.9z" fill="#00b6f6" stroke="#00b6f6" stroke-width=".35"/><path d="M396.2 131.9L398.9 131.4 401 132.3 398.3 133.9z" fill="#00bbf7"/><path d="M390.2 128L391 128.4 391.6 128.3 390.8 127.8z" fill="#86ed67" stroke="#86ed67" stroke-width=".35"/><path d="M383.9 132.3L384.7 131.7 385.3 131.6 384.6 132.3z" fill="#02cbf3" stroke="#02cbf3" stroke-width=".35"/><path d="M391.6 128.3L392.4 129.1 393 129.4 392.2 128.6z" fill="#67ec88" stroke="#67ec88" stroke-width=".35"/><path d="M385.3 131.6L386.1 130.9 386.7 130.5 385.9 131.4z" fill="#14dae0" stroke="#14dae0" stroke-width=".35"/><path d="M393 129.4L393.8 130.2 394.4 130.7 393.6 130z" fill="#2ee7c4" stroke="#2ee7c4" stroke-width=".35"/><path d="M386.7 130.5L387.5 129.8 388.1 129.2 387.3 130.1z" fill="#3ae9b9" stroke="#3ae9b9" stroke-width=".35"/><path d="M377.3 132L380 131.8 382.2 133.2 379.4 133.5z" fill="#00b9f5"/><path d="M400.3 132.6L403 129.2 405.2 129.5 402.5 133.7z" fill="#14dee5"/><path d="M394.4 130.7L395.1 131.2 395.8 131.8 395 131.4z" fill="#12d7e2" stroke="#12d7e2" stroke-width=".35"/><path d="M395.8 131.8L396.5 132 397.1 132.6 396.4 132.5z" fill="#01caf4" stroke="#01caf4" stroke-width=".35"/><path d="M388.1 129.2L388.9 128.6 389.5 128.1 388.7 128.7z" fill="#7df075" stroke="#7df075" stroke-width=".35"/><path d="M381.8 133.1L382.6 132.7 383.2 132.9 382.4 133.4z" fill="#00aff6" stroke="#00aff6" stroke-width=".35"/><path d="M389.5 128.1L390.2 128 390.8 127.8 390.1 127.8z" fill="#a0ec50" stroke="#a0ec50" stroke-width=".35"/><path d="M383.2 132.9L383.9 132.3 384.6 132.3 383.8 133z" fill="#00c1f6" stroke="#00c1f6" stroke-width=".35"/><path d="M390.8 127.8L391.6 128.3 392.2 128.6 391.5 128.1z" fill="#97ee59" stroke="#97ee59" stroke-width=".35"/><path d="M404.4 129.9L407.2 125.7 409.3 128.3 406.6 132z" fill="#79fa84"/><path d="M358.4 133.1L361.1 129.6 363.3 132.6 360.6 135.1z" fill="#00c5fb"/><path d="M384.6 132.3L385.3 131.6 385.9 131.4 385.2 132.3z" fill="#0bd3eb" stroke="#0bd3eb" stroke-width=".35"/><path d="M392.2 128.6L393 129.4 393.6 130 392.8 129.3z" fill="#64ee8e" stroke="#64ee8e" stroke-width=".35"/><path d="M385.9 131.4L386.7 130.5 387.3 130.1 386.5 131.2z" fill="#22e6d3" stroke="#22e6d3" stroke-width=".35"/><path d="M393.6 130L394.4 130.7 395 131.4 394.2 130.9z" fill="#22e6d1" stroke="#22e6d1" stroke-width=".35"/><path d="M362.6 132.6L365.3 130.1 367.4 131.5 364.7 134.1z" fill="#0ad5ef"/><path d="M395 131.4L395.8 131.8 396.4 132.5 395.6 132.2z" fill="#0cd4e9" stroke="#0cd4e9" stroke-width=".35"/><path d="M387.3 130.1L388.1 129.2 388.7 128.7 387.9 129.8z" fill="#67f08d" stroke="#67f08d" stroke-width=".35"/><path d="M408.6 128.1L411.3 127 413.5 131.1 410.7 132.2z" fill="#62f699"/><path d="M396.4 132.5L397.1 132.6 397.7 133.1 397 133.2z" fill="#00c4f6" stroke="#00c4f6" stroke-width=".35"/><path d="M388.7 128.7L389.5 128.1 390.1 127.8 389.3 128.5z" fill="#a2f051" stroke="#a2f051" stroke-width=".35"/><path d="M382.4 133.4L383.2 132.9 383.8 133 383 133.6z" fill="#00b7f6" stroke="#00b7f6" stroke-width=".35"/><path d="M390.1 127.8L390.8 127.8 391.5 128.1 390.7 128.1z" fill="#b4ed40" stroke="#b4ed40" stroke-width=".35"/><path d="M383.8 133L384.6 132.3 385.2 132.3 384.4 133.1z" fill="#02ccf4" stroke="#02ccf4" stroke-width=".35"/><path d="M366.7 131.8L369.4 130.6 371.6 129.7 368.8 130.9z" fill="#2de7c5"/><path d="M391.5 128.1L392.2 128.6 392.8 129.3 392.1 128.9z" fill="#94f260" stroke="#94f260" stroke-width=".35"/><path d="M412.7 130.6L415.4 131.1 417.6 133.4 414.9 133.4z" fill="#0ed6e8"/><path d="M385.2 132.3L385.9 131.4 386.5 131.2 385.8 132.3z" fill="#15dce1" stroke="#15dce1" stroke-width=".35"/><path d="M392.8 129.3L393.6 130 394.2 130.9 393.4 130.4z" fill="#4feea5" stroke="#4feea5" stroke-width=".35"/><path d="M394.2 130.9L395 131.4 395.6 132.2 394.8 131.9z" fill="#1ae0db" stroke="#1ae0db" stroke-width=".35"/><path d="M386.5 131.2L387.3 130.1 387.9 129.8 387.2 131z" fill="#40eeb6" stroke="#40eeb6" stroke-width=".35"/><path d="M370.8 129.8L373.6 130.7 375.7 130.8 373 129z" fill="#58e997"/><path d="M395.6 132.2L396.4 132.5 397 133.2 396.2 133.1z" fill="#06cff0" stroke="#06cff0" stroke-width=".35"/><path d="M416.9 133.1L419.6 133.2 421.7 134.3 419 133.7z" fill="#00b1f3"/><path d="M387.9 129.8L388.7 128.7 389.3 128.5 388.5 129.7z" fill="#8bf66b" stroke="#8bf66b" stroke-width=".35"/><path d="M389.3 128.5L390.1 127.8 390.7 128.1 389.9 128.7z" fill="#b7f141" stroke="#b7f141" stroke-width=".35"/><path d="M397 133.2L397.7 133.1 398.4 133.7 397.6 133.8z" fill="#00bbf7" stroke="#00bbf7" stroke-width=".35"/><path d="M383 133.6L383.8 133 384.4 133.1 383.6 133.8z" fill="#00c0f7" stroke="#00c0f7" stroke-width=".35"/><path d="M390.7 128.1L391.5 128.1 392.1 128.9 391.3 128.9z" fill="#b0f247" stroke="#b0f247" stroke-width=".35"/><path d="M384.4 133.1L385.2 132.3 385.8 132.3 385 133.3z" fill="#09d3ee" stroke="#09d3ee" stroke-width=".35"/><path d="M375 130.4L377.7 132.1 379.9 133.6 377.1 132.1z" fill="#17dadb"/><path d="M398 133.7L400.7 132.1 402.9 133.2 400.1 135.5z" fill="#00bbf8"/><path d="M392.1 128.9L392.8 129.3 393.4 130.4 392.7 130.1z" fill="#7cf57b" stroke="#7cf57b" stroke-width=".35"/><path d="M393.4 130.4L394.2 130.9 394.8 131.9 394.1 131.6z" fill="#2fecc7" stroke="#2fecc7" stroke-width=".35"/><path d="M385.8 132.3L386.5 131.2 387.2 131 386.4 132.3z" fill="#1fe6d9" stroke="#1fe6d9" stroke-width=".35"/><path d="M394.8 131.9L395.6 132.2 396.2 133.1 395.4 132.9z" fill="#10d8e6" stroke="#10d8e6" stroke-width=".35"/><path d="M387.2 131L387.9 129.8 388.5 129.7 387.8 131.1z" fill="#5ef39b" stroke="#5ef39b" stroke-width=".35"/><path d="M379.1 133.3L381.8 132.9 384 133.9 381.3 135.2z" fill="#00baf6"/><path d="M388.5 129.7L389.3 128.5 389.9 128.7 389.1 129.9z" fill="#9df85d" stroke="#9df85d" stroke-width=".35"/><path d="M402.1 133.5L404.9 129.3 407 131.4 404.3 135.1z" fill="#16e2e5"/><path d="M396.2 133.1L397 133.2 397.6 133.8 396.8 133.9z" fill="#00c8f7" stroke="#00c8f7" stroke-width=".35"/><path d="M389.9 128.7L390.7 128.1 391.3 128.9 390.5 129.5z" fill="#b3f548" stroke="#b3f548" stroke-width=".35"/><path d="M383.6 133.8L384.4 133.1 385 133.3 384.2 134.1z" fill="#00caf7" stroke="#00caf7" stroke-width=".35"/><path d="M391.3 128.9L392.1 128.9 392.7 130.1 391.9 130.1z" fill="#96f864" stroke="#96f864" stroke-width=".35"/><path d="M360.2 134.8L363 132.3 365.1 133.7 362.4 136.3z" fill="#00b0f9"/><path d="M392.7 130.1L393.4 130.4 394.1 131.6 393.3 131.4z" fill="#53f2a6" stroke="#53f2a6" stroke-width=".35"/><path d="M385 133.3L385.8 132.3 386.4 132.3 385.6 133.4z" fill="#10d9e9" stroke="#10d9e9" stroke-width=".35"/><path d="M406.3 131.6L409 127.8 411.1 131.9 408.4 134.6z" fill="#35f3c9"/><path d="M394.1 131.6L394.8 131.9 395.4 132.9 394.7 132.8z" fill="#1be3dc" stroke="#1be3dc" stroke-width=".35"/><path d="M386.4 132.3L387.2 131 387.8 131.1 387 132.5z" fill="#29eed1" stroke="#29eed1" stroke-width=".35"/><path d="M387.8 131.1L388.5 129.7 389.1 129.9 388.4 131.4z" fill="#6df88f" stroke="#6df88f" stroke-width=".35"/><path d="M395.4 132.9L396.2 133.1 396.8 133.9 396 133.9z" fill="#07d0f1" stroke="#07d0f1" stroke-width=".35"/><path d="M364.4 134L367.1 131.5 369.3 130.6 366.5 133.9z" fill="#1adfdc"/><path d="M389.1 129.9L389.9 128.7 390.5 129.5 389.8 130.7z" fill="#9afb64" stroke="#9afb64" stroke-width=".35"/><path d="M410.4 131.7L413.1 130.5 415.3 133.3 412.6 134.5z" fill="#1be3df"/><path d="M390.5 129.5L391.3 128.9 391.9 130.1 391.1 130.7z" fill="#98fc65" stroke="#98fc65" stroke-width=".35"/><path d="M391.9 130.1L392.7 130.1 393.3 131.4 392.5 131.6z" fill="#69f793" stroke="#69f793" stroke-width=".35"/><path d="M384.2 134.1L385 133.3 385.6 133.4 384.8 134.3z" fill="#03cff5" stroke="#03cff5" stroke-width=".35"/><path d="M368.5 131L371.2 129.8 373.4 129 370.7 130.2z" fill="#8ef164"/><path d="M393.3 131.4L394.1 131.6 394.7 132.8 393.9 132.8z" fill="#25edd4" stroke="#25edd4" stroke-width=".35"/><path d="M414.5 133.2L417.3 133.2 419.4 133.7 416.7 133.2z" fill="#0ed2e4"/><path d="M385.6 133.4L386.4 132.3 387 132.5 386.2 133.7z" fill="#15dfe5" stroke="#15dfe5" stroke-width=".35"/><path d="M387 132.5L387.8 131.1 388.4 131.4 387.6 132.8z" fill="#33f1c9" stroke="#33f1c9" stroke-width=".35"/><path d="M394.7 132.8L395.4 132.9 396 133.9 395.3 133.9z" fill="#0fd8ea" stroke="#0fd8ea" stroke-width=".35"/><path d="M388.4 131.4L389.1 129.9 389.8 130.7 389 132z" fill="#69fa95" stroke="#69fa95" stroke-width=".35"/><path d="M372.7 128.9L375.4 130.6 377.5 132.3 374.8 130.7z" fill="#7af178"/><path d="M395.7 133.7L398.4 133.5 400.6 135.3 397.8 136.1z" fill="#00b9f7"/><path d="M418.7 133.6L421.4 134.2 423.6 134.9 420.8 133.3z" fill="#04c9ec"/><path d="M389.8 130.7L390.5 129.5 391.1 130.7 390.4 131.7z" fill="#80fe7f" stroke="#80fe7f" stroke-width=".35"/><path d="M391.1 130.7L391.9 130.1 392.5 131.6 391.7 132.1z" fill="#6afa94" stroke="#6afa94" stroke-width=".35"/><path d="M392.5 131.6L393.3 131.4 393.9 132.8 393.1 133z" fill="#35f1c7" stroke="#35f1c7" stroke-width=".35"/><path d="M384.8 134.3L385.6 133.4 386.2 133.7 385.5 134.7z" fill="#06d2f3" stroke="#06d2f3" stroke-width=".35"/><path d="M376.8 131.7L379.5 133.3 381.7 135.2 379 134.8z" fill="#0dd4e8"/><path d="M386.2 133.7L387 132.5 387.6 132.8 386.8 134z" fill="#17e2e4" stroke="#17e2e4" stroke-width=".35"/><path d="M399.8 135.2L402.5 133 404.7 134.6 402 136.5z" fill="#00bbf8"/><path d="M393.9 132.8L394.7 132.8 395.3 133.9 394.5 134z" fill="#16dfe4" stroke="#16dfe4" stroke-width=".35"/><path d="M387.6 132.8L388.4 131.4 389 132 388.2 133.4z" fill="#30f2cd" stroke="#30f2cd" stroke-width=".35"/><path d="M389 132L389.8 130.7 390.4 131.7 389.6 132.9z" fill="#53f8ac" stroke="#53f8ac" stroke-width=".35"/><path d="M390.4 131.7L391.1 130.7 391.7 132.1 391 132.9z" fill="#55f8ab" stroke="#55f8ab" stroke-width=".35"/><path d="M380.9 134.9L383.7 133.6 385.8 134.6 383.1 136.7z" fill="#00bcf7"/><path d="M404 134.8L406.7 131.1 408.8 134.2 406.1 136.6z" fill="#0ad7f2"/><path d="M391.7 132.1L392.5 131.6 393.1 133 392.4 133.4z" fill="#35f3c9" stroke="#35f3c9" stroke-width=".35"/><path d="M385.5 134.7L386.2 133.7 386.8 134 386.1 135z" fill="#08d4f2" stroke="#08d4f2" stroke-width=".35"/><path d="M393.1 133L393.9 132.8 394.5 134 393.7 134.2z" fill="#1ae4e1" stroke="#1ae4e1" stroke-width=".35"/><path d="M362.1 136.1L364.8 133.5 367 133.5 364.2 136.9z" fill="#00c2f7"/><path d="M386.8 134L387.6 132.8 388.2 133.4 387.4 134.5z" fill="#17e2e5" stroke="#17e2e5" stroke-width=".35"/><path d="M408.1 134.2L410.8 131.4 413 134.2 410.2 136.4z" fill="#10dbeb"/><path d="M388.2 133.4L389 132 389.6 132.9 388.8 134.1z" fill="#24f0da" stroke="#24f0da" stroke-width=".35"/><path d="M389.6 132.9L390.4 131.7 391 132.9 390.2 133.9z" fill="#31f4ce" stroke="#31f4ce" stroke-width=".35"/><path d="M366.2 134L368.9 130.6 371.1 129.8 368.4 134z" fill="#59f19e"/><path d="M391 132.9L391.7 132.1 392.4 133.4 391.6 134.1z" fill="#26f2d9" stroke="#26f2d9" stroke-width=".35"/><path d="M412.2 134.2L415 133.1 417.1 133.2 414.4 134.3z" fill="#1adeda"/><path d="M392.4 133.4L393.1 133 393.7 134.2 393 134.6z" fill="#1ae5e3" stroke="#1ae5e3" stroke-width=".35"/><path d="M386.1 135L386.8 134 387.4 134.5 386.7 135.5z" fill="#07d4f3" stroke="#07d4f3" stroke-width=".35"/><path d="M370.3 130.1L373.1 128.9 375.2 130.7 372.5 131.9z" fill="#b5f143"/><path d="M393.4 134L396.1 133.6 398.2 136 395.5 136.8z" fill="#02cdf6"/><path d="M416.4 133.3L419.1 133.8 421.3 133.5 418.5 132z" fill="#2fe4c0"/><path d="M387.4 134.5L388.2 133.4 388.8 134.1 388.1 135.1z" fill="#13dfea" stroke="#13dfea" stroke-width=".35"/><path d="M388.8 134.1L389.6 132.9 390.2 133.9 389.4 134.9z" fill="#1be8e3" stroke="#1be8e3" stroke-width=".35"/><path d="M390.2 133.9L391 132.9 391.6 134.1 390.8 134.9z" fill="#1ce9e2" stroke="#1ce9e2" stroke-width=".35"/><path d="M374.5 130.3L377.2 131.9 379.4 134.9 376.6 134.3z" fill="#48efaf"/><path d="M397.5 135.9L400.2 135 402.4 136.3 399.7 136.7z" fill="#00b3f5"/><path d="M420.5 133.2L423.2 134.9 425.4 136 422.7 134z" fill="#12d5de"/><path d="M391.6 134.1L392.4 133.4 393 134.6 392.2 135.2z" fill="#16e2e7" stroke="#16e2e7" stroke-width=".35"/><path d="M386.7 135.5L387.4 134.5 388.1 135.1 387.3 136z" fill="#05d2f6" stroke="#05d2f6" stroke-width=".35"/><path d="M388.1 135.1L388.8 134.1 389.4 134.9 388.7 135.8z" fill="#0ddaf0" stroke="#0ddaf0" stroke-width=".35"/><path d="M378.6 134.4L381.4 134.8 383.5 136.6 380.8 137z" fill="#00c7f6"/><path d="M401.6 136.3L404.4 134.4 406.5 136.3 403.8 137.1z" fill="#00baf7"/><path d="M389.4 134.9L390.2 133.9 390.8 134.9 390 135.7z" fill="#10deed" stroke="#10deed" stroke-width=".35"/><path d="M390.8 134.9L391.6 134.1 392.2 135.2 391.4 135.9z" fill="#0fdcee" stroke="#0fdcee" stroke-width=".35"/><path d="M382.8 136.5L385.5 134.4 387.7 136 384.9 137.8z" fill="#00bdf8"/><path d="M405.8 136.3L408.5 133.8 410.7 136.1 407.9 138z" fill="#00c4f9"/><path d="M387.3 136L388.1 135.1 388.7 135.8 387.9 136.6z" fill="#02cff9" stroke="#02cff9" stroke-width=".35"/><path d="M363.9 136.9L366.6 133.4 368.8 133.4 366.1 137.7z" fill="#0dd7ec"/><path d="M388.7 135.8L389.4 134.9 390 135.7 389.3 136.5z" fill="#06d3f6" stroke="#06d3f6" stroke-width=".35"/><path d="M409.9 136.2L412.6 134 414.8 134 412.1 136.8z" fill="#0fd8e7"/><path d="M390 135.7L390.8 134.9 391.4 135.9 390.6 136.5z" fill="#07d4f5" stroke="#07d4f5" stroke-width=".35"/><path d="M368 133.9L370.8 129.7 372.9 131.5 370.2 135.5z" fill="#7dfa7f"/><path d="M391 135.8L393.8 133.8 395.9 136.6 393.2 138.2z" fill="#02cff7"/><path d="M414.1 134.4L416.8 133.2 418.9 132 416.2 133.2z" fill="#5eec93"/><path d="M387.9 136.6L388.7 135.8 389.3 136.5 388.5 137.1z" fill="#00c7fa" stroke="#00c7fa" stroke-width=".35"/><path d="M372.2 131.5L374.9 130.3 377.1 134.3 374.3 135.5z" fill="#7dfa7f"/><path d="M395.2 136.6L397.9 135.8 400.1 136.6 397.3 137.2z" fill="#00c4f5"/><path d="M418.2 132L420.9 133.5 423.1 134.2 420.4 132.4z" fill="#71ee7f"/><path d="M389.3 136.5L390 135.7 390.6 136.5 389.9 137.2z" fill="#00cbfb" stroke="#00cbfb" stroke-width=".35"/><path d="M422.3 133.7L425.1 135.7 427.2 137.6 424.5 136.3z" fill="#10d5e3"/><path d="M376.3 133.8L379 134.4 381.2 137 378.5 137.1z" fill="#14dce3"/><path d="M399.3 136.6L402.1 136.2 404.2 137 401.5 136.4z" fill="#02c8f0"/><path d="M388.5 137.1L389.3 136.5 389.9 137.2 389.1 137.7z" fill="#00bdf9" stroke="#00bdf9" stroke-width=".35"/><path d="M380.5 136.8L383.2 136.3 385.3 137.6 382.6 137.7z" fill="#00bdf5"/><path d="M403.5 136.9L406.2 136.1 408.4 137.8 405.6 138z" fill="#00bbf5"/><path d="M384.6 137.6L387.3 135.8 389.5 137.8 386.8 138.5z" fill="#00bbf7"/><path d="M407.6 137.7L410.3 135.9 412.5 136.5 409.8 138.9z" fill="#00c3f7"/><path d="M365.7 137.6L368.5 133.3 370.6 134.9 367.9 139.1z" fill="#14e0e7"/><path d="M388.7 137.7L391.5 135.5 393.6 137.9 390.9 139.5z" fill="#00bbf9"/><path d="M411.7 136.8L414.5 134.1 416.6 132.8 413.9 136.6z" fill="#33ebc3"/><path d="M369.9 135.1L372.6 131.1 374.7 135.1 372 138.2z" fill="#48f6b6"/><path d="M392.9 137.9L395.6 136.4 397.8 137.1 395 138.8z" fill="#00c5f6"/><path d="M415.9 133.2L418.6 132.1 420.8 132.4 418 133.6z" fill="#acef48"/><path d="M420 132.1L422.8 134 424.9 136.5 422.2 135.3z" fill="#68f18c"/><path d="M374 134.9L376.7 133.7 378.9 137 376.2 138.2z" fill="#21ead9"/><path d="M397 137.2L399.7 136.6 401.9 136.4 399.2 136.1z" fill="#14d7dd"/><path d="M378.1 136.8L380.9 136.7 383 137.7 380.3 137.5z" fill="#0cd2e7"/><path d="M401.2 136.3L403.9 137 406 138.1 403.3 136.6z" fill="#11d4e1"/><path d="M424.2 135.9L426.9 137.3 429.1 139.4 426.3 139z" fill="#00c9f5"/><path d="M382.3 137.6L385 137.5 387.2 138.5 384.4 137.4z" fill="#05cbec"/><path d="M405.3 137.8L408 137.5 410.2 138.7 407.5 139.5z" fill="#00bbf6"/><path d="M386.4 138.3L389.2 137.5 391.3 139.3 388.6 139.4z" fill="#00b9f5"/><path d="M409.4 138.8L412.2 136.4 414.3 136.1 411.6 139.8z" fill="#09d3ee"/><path d="M367.6 138.8L370.3 134.6 372.4 137.6 369.7 140.9z" fill="#09d7f3"/><path d="M390.6 139.2L393.3 137.7 395.4 138.5 392.7 140.4z" fill="#00b4f7"/><path d="M413.6 136.6L416.3 132.9 418.5 133.2 415.7 137.3z" fill="#77f782"/><path d="M417.7 133.3L420.4 132.1 422.6 135.3 419.9 136.5z" fill="#a4f656"/><path d="M371.7 137.7L374.4 134.6 376.6 137.9 373.8 140.3z" fill="#14e0e8"/><path d="M394.7 138.8L397.4 137.1 399.6 136 396.9 138.5z" fill="#14dadf"/><path d="M375.8 137.9L378.6 136.7 380.7 137.4 378 138.6z" fill="#16dcdf"/><path d="M398.8 136.2L401.6 136.4 403.7 136.7 401 135.8z" fill="#46e9aa"/><path d="M421.9 134.8L424.6 136 426.7 139.1 424 138.8z" fill="#21e8d6"/><path d="M426 138.6L428.7 139 430.9 140.6 428.2 140.5z" fill="#00aff5"/><path d="M380 137.5L382.7 137.7 384.9 137.5 382.1 136.3z" fill="#21e1ce"/><path d="M403 136.4L405.7 137.9 407.9 139.6 405.1 138.9z" fill="#11d7e3"/><path d="M384.1 137.3L386.8 138.4 389 139.5 386.3 137.7z" fill="#13d6dd"/><path d="M407.1 139.3L409.9 138.5 412 139.4 409.3 141.3z" fill="#00bbf7"/><path d="M388.3 139.2L391 139.1 393.1 140.3 390.4 140.8z" fill="#00b9f5"/><path d="M411.3 139.7L414 136 416.1 136.7 413.4 140.9z" fill="#16e0e4"/><path d="M415.4 137.1L418.1 132.9 420.3 136.1 417.6 139.6z" fill="#6efa8f"/><path d="M369.4 140.5L372.1 137.3 374.3 139.9 371.5 142.4z" fill="#00bdfb"/><path d="M392.4 140.3L395.1 138.4 397.3 138.2 394.5 141.2z" fill="#02ccf4"/><path d="M373.5 140.1L376.2 137.6 378.4 138.4 375.7 141z" fill="#0bd5ed"/><path d="M396.5 138.6L399.3 136 401.4 135.6 398.7 138.9z" fill="#48eeae"/><path d="M419.5 135.9L422.3 134.7 424.4 138.7 421.7 139.9z" fill="#48f3b4"/><path d="M423.7 138.4L426.4 138.7 428.6 140.5 425.8 140.5z" fill="#0bd3ea"/><path d="M377.7 138.7L380.4 137.5 382.5 136.3 379.8 137.5z" fill="#45e9ac"/><path d="M400.7 135.6L403.4 136.5 405.6 139 402.8 138.8z" fill="#48efae"/><path d="M381.8 136.4L384.5 137.6 386.7 137.9 384 136.1z" fill="#68ec88"/><path d="M404.8 138.6L407.5 139.2 409.7 141.2 407 141.7z" fill="#02ccf5"/><path d="M427.8 140.3L430.6 140.5 432.7 141.4 430 140.5z" fill="#00b6f2"/><path d="M385.9 137.5L388.7 139.3 390.8 140.9 388.1 139.6z" fill="#16dadd"/><path d="M409 141.1L411.7 139.2 413.8 140.4 411.1 142.7z" fill="#00bbf8"/><path d="M413.1 140.7L415.8 136.5 418 139 415.2 142.4z" fill="#14e0e8"/><path d="M390.1 140.6L392.8 140.1 395 141 392.2 142.5z" fill="#00baf6"/><path d="M371.2 142.1L373.9 139.7 376.1 140.6 373.4 143.4z" fill="#00b1f8"/><path d="M394.2 141.1L396.9 138.1 399.1 138.4 396.4 142.3z" fill="#11dbe7"/><path d="M417.2 139.1L420 135.6 422.1 139.6 419.4 142.1z" fill="#23eeda"/><path d="M421.4 139.4L424.1 138.3 426.3 140.4 423.5 141.6z" fill="#17dfe1"/><path d="M375.3 141L378.1 138.3 380.2 137.2 377.5 140.8z" fill="#21e6d4"/><path d="M398.4 138.7L401.1 135.4 403.2 138.6 400.5 141.2z" fill="#4af4b2"/><path d="M379.5 137.6L382.2 136.4 384.4 136.1 381.6 137.3z" fill="#9fef54"/><path d="M402.5 138.3L405.2 138.5 407.4 141.6 404.7 142.3z" fill="#15dee4"/><path d="M425.5 140.3L428.2 140.4 430.4 140.6 427.7 139.8z" fill="#13d6de"/><path d="M383.6 135.9L386.4 137.7 388.5 139.8 385.8 138.4z" fill="#75f17f"/><path d="M406.6 141.3L409.4 140.9 411.5 142.5 408.8 143.3z" fill="#00b4f6"/><path d="M429.7 140.5L432.4 141.3 434.5 142.1 431.8 140.3z" fill="#09cce7"/><path d="M410.8 142.5L413.5 140.2 415.7 142 412.9 143.6z" fill="#00bbf8"/><path d="M387.8 139.3L390.5 140.6 392.7 142.5 389.9 142.3z" fill="#09d1ec"/><path d="M391.9 142.3L394.6 140.7 396.8 141.8 394.1 143.9z" fill="#00bcf8"/><path d="M414.9 142.1L417.6 138.7 419.8 141.7 417.1 143.9z" fill="#06d3f5"/><path d="M419.1 141.7L421.8 139.2 423.9 141.3 421.2 143.6z" fill="#0cd8ed"/><path d="M373 143.3L375.8 140.5 377.9 140.3 375.2 144z" fill="#00cbf7"/><path d="M396 142L398.8 138.2 400.9 140.7 398.2 143.8z" fill="#11ddea"/><path d="M377.2 140.8L379.9 137.2 382.1 136.9 379.3 141.1z" fill="#6af48e"/><path d="M400.2 140.7L402.9 138.2 405.1 142.1 402.3 143.8z" fill="#15e1e7"/><path d="M423.2 141.4L425.9 140.3 428.1 139.8 425.4 141z" fill="#20e3d3"/><path d="M381.3 137.1L384 135.9 386.2 138.5 383.5 139.7z" fill="#aff349"/><path d="M404.3 141.8L407.1 141.2 409.2 143.2 406.5 144z" fill="#00c6f7"/><path d="M427.3 139.9L430.1 140.7 432.2 140.4 429.5 138.8z" fill="#43e6ab"/><path d="M408.5 143.1L411.2 142.3 413.4 143.4 410.6 143.7z" fill="#00b6f4"/><path d="M431.5 140.1L434.2 141.9 436.4 143.3 433.6 141.3z" fill="#13d6de"/><path d="M385.5 138L388.2 139.4 390.3 142.5 387.6 142.1z" fill="#33ecc4"/><path d="M389.6 142L392.3 142.1 394.5 143.8 391.8 144.3z" fill="#00c2f6"/><path d="M412.6 143.4L415.3 141.8 417.5 143.6 414.8 144.3z" fill="#00baf6"/><path d="M416.7 143.6L419.5 141.4 421.6 143.2 418.9 145.2z" fill="#00c0f9"/><path d="M393.7 143.7L396.5 141.6 398.6 143.4 395.9 144.9z" fill="#00bcf8"/><path d="M374.9 144L377.6 140.2 379.7 140.5 377 144.9z" fill="#10dbe9"/><path d="M397.9 143.4L400.6 140.4 402.8 143.5 400 145.4z" fill="#02cff9"/><path d="M420.9 143.4L423.6 141.1 425.8 140.7 423 143.7z" fill="#14dbe1"/><path d="M379 141L381.7 136.7 383.9 139.3 381.2 143.1z" fill="#77fa85"/><path d="M402 143.4L404.7 141.7 406.9 143.8 404.2 145.4z" fill="#00c7f9"/><path d="M425 141.1L427.8 139.9 429.9 138.8 427.2 140z" fill="#78f07a"/><path d="M406.2 143.8L408.9 143 411 143.6 408.3 144.1z" fill="#01c9f3"/><path d="M429.2 138.8L431.9 140.4 434.1 141.6 431.3 139.8z" fill="#78ef79"/><path d="M383.1 139.2L385.9 138 388 142 385.3 143.2z" fill="#62f799"/><path d="M387.3 141.6L390 142 392.2 144.3 389.4 144.4z" fill="#0fd7e7"/><path d="M410.3 143.6L413 143.3 415.2 144.2 412.5 143.4z" fill="#05cbed"/><path d="M414.4 144L417.2 143.4 419.3 145 416.6 145.3z" fill="#00baf5"/><path d="M391.4 144L394.2 143.6 396.3 144.8 393.6 144.6z" fill="#00c0f4"/><path d="M395.6 144.7L398.3 143.1 400.4 145.1 397.7 145.6z" fill="#00baf6"/><path d="M418.6 145L421.3 143.1 423.5 143.3 420.7 146.1z" fill="#00c8f7"/><path d="M376.7 144.7L379.4 140.3 381.6 142.5 378.8 146.4z" fill="#13dfe9"/><path d="M399.7 145L402.4 143.1 404.6 145.1 401.9 146.7z" fill="#00b5f8"/><path d="M422.7 143.7L425.4 140.7 427.6 139.6 424.9 143.6z" fill="#48eeae"/><path d="M380.8 142.6L383.6 138.8 385.7 142.9 383 145.8z" fill="#32f3cc"/><path d="M403.8 145.2L406.6 143.7 408.7 143.9 406 145.7z" fill="#01caf5"/><path d="M426.9 140L429.6 138.8 431.7 139.8 429 141z" fill="#b4ef42"/><path d="M385 142.7L387.7 141.5 389.9 144.3 387.1 145.5z" fill="#1be3df"/><path d="M408 144.1L410.7 143.6 412.9 143.4 410.1 143.2z" fill="#19dbd8"/><path d="M412.1 143.3L414.9 144.1 417 145.3 414.3 144.2z" fill="#10d5e2"/><path d="M389.1 144.1L391.8 144 394 144.6 391.3 144.2z" fill="#0fd4e3"/><path d="M393.3 144.5L396 144.7 398.1 145.6 395.4 144.3z" fill="#09cee8"/><path d="M416.3 145.1L419 144.7 421.1 145.8 418.4 146.9z" fill="#00baf6"/><path d="M397.4 145.4L400.1 144.9 402.3 146.5 399.5 146.6z" fill="#00b9f5"/><path d="M420.4 146L423.1 143.2 425.3 143 422.6 146.9z" fill="#0dd7ea"/><path d="M378.5 146.1L381.2 142.1 383.4 145.2 380.7 148.2z" fill="#05d3f8"/><path d="M401.5 146.5L404.3 144.9 406.4 145.5 403.7 147.6z" fill="#00b8f6"/><path d="M424.5 143.5L427.3 139.6 429.4 140.6 426.7 144.7z" fill="#7ef97c"/><path d="M382.7 145.3L385.4 142.4 387.5 145.2 384.8 147.6z" fill="#0edaed"/><path d="M405.7 145.8L408.4 143.9 410.6 143 407.8 145.6z" fill="#19dedb"/><path d="M409.8 143.2L412.5 143.4 414.7 144.3 412 143.8z" fill="#3eeab5"/><path d="M386.8 145.3L389.5 144.1 391.7 144.1 389 145.3z" fill="#1adfda"/><path d="M390.9 144.3L393.7 144.7 395.8 144.4 393.1 143z" fill="#31e4bd"/><path d="M414 143.9L416.7 145.1 418.8 146.9 416.1 146.7z" fill="#0cd3e9"/><path d="M395.1 144.2L397.8 145.5 400 146.7 397.2 144.9z" fill="#15d8dc"/><path d="M418.1 146.7L420.8 145.6 423 146.6 420.2 148.6z" fill="#00baf7"/><path d="M399.2 146.4L401.9 146.3 404.1 147.4 401.4 148.1z" fill="#00b9f5"/><path d="M422.2 146.8L425 142.9 427.1 144.1 424.4 148.2z" fill="#17e2e3"/><path d="M380.3 147.9L383.1 144.9 385.2 147.2 382.5 149.6z" fill="#00b6fa"/><path d="M403.4 147.5L406.1 145.4 408.2 145.2 405.5 148.4z" fill="#05cff2"/><path d="M407.5 145.6L410.2 143 412.4 143.7 409.7 146.5z" fill="#3feeb9"/><path d="M384.5 147.4L387.2 145 389.4 145 386.6 147.9z" fill="#0ed7e9"/><path d="M388.6 145.4L391.4 144.2 393.5 143 390.8 144.2z" fill="#5eec93"/><path d="M411.6 143.5L414.4 144 416.5 146.7 413.8 146.9z" fill="#29ecce"/><path d="M392.8 143L395.5 144.4 397.7 145.2 394.9 143.4z" fill="#73ee7d"/><path d="M415.8 146.3L418.5 146.6 420.7 148.5 417.9 149.1z" fill="#00c5f7"/><path d="M396.9 144.7L399.6 146.5 401.8 148.2 399.1 147.2z" fill="#14d9e0"/><path d="M419.9 148.4L422.6 146.4 424.8 147.7 422.1 149.9z" fill="#00bbf8"/><path d="M401 147.9L403.8 147.2 405.9 148.1 403.2 149.8z" fill="#00baf7"/><path d="M405.2 148.3L407.9 145.1 410.1 146 407.3 149.5z" fill="#11dbe9"/><path d="M382.2 149.4L384.9 147 387.1 147.5 384.3 150.5z" fill="#00b5f8"/><path d="M386.3 148L389 145.1 391.2 143.8 388.5 147.7z" fill="#30ebc5"/><path d="M409.3 146.2L412.1 143.4 414.2 146.8 411.5 148.9z" fill="#2af0d2"/><path d="M390.5 144.3L393.2 143.1 395.3 143.4 392.6 144.6z" fill="#acef48"/><path d="M413.5 146.5L416.2 146.3 418.4 149.1 415.6 149.8z" fill="#0bd6ed"/><path d="M394.6 143.1L397.3 144.9 399.5 147.4 396.8 146.2z" fill="#6af18b"/><path d="M417.6 148.8L420.3 148.2 422.5 149.7 419.8 150.4z" fill="#00b2f6"/><path d="M398.7 146.8L401.5 147.9 403.6 149.8 400.9 149.9z" fill="#05cef0"/><path d="M402.9 149.6L405.6 147.9 407.8 149.1 405 151.1z" fill="#00bcf8"/><path d="M384 150.4L386.7 147.4 388.9 147.1 386.2 151.1z" fill="#05cff3"/><path d="M407 149.3L409.7 145.8 411.9 148.5 409.2 151.1z" fill="#0cd9ef"/><path d="M388.1 147.7L390.9 143.9 393 144.2 390.3 148.4z" fill="#76f784"/><path d="M411.2 148.4L413.9 146.3 416 149.6 413.3 151.2z" fill="#0cd8ef"/><path d="M392.3 144.3L395 143.1 397.2 146.3 394.4 147.5z" fill="#a4f656"/><path d="M415.3 149.4L418 148.7 420.2 150.3 417.5 151.1z" fill="#00c1f6"/><path d="M396.4 145.8L399.2 146.9 401.3 150 398.6 149.8z" fill="#22e9d5"/><path d="M400.6 149.6L403.3 149.4 405.4 151 402.7 151.4z" fill="#00bef6"/><path d="M404.7 150.9L407.4 148.9 409.6 150.7 406.9 152z" fill="#00bcf7"/><path d="M385.8 151L388.6 147.1 390.7 147.8 388 152.2z" fill="#13dde7"/><path d="M408.8 150.7L411.6 148.1 413.7 150.9 411 152.6z" fill="#00c7fa"/><path d="M390 148.1L392.7 143.9 394.9 147.1 392.1 150.7z" fill="#6cf992"/><path d="M413 150.9L415.7 149.3 417.9 150.9 415.1 152.5z" fill="#00c2f8"/><path d="M394.1 146.9L396.8 145.7 399 149.7 396.3 150.9z" fill="#48f3b4"/><path d="M398.3 149.4L401 149.5 403.1 151.4 400.4 151.5z" fill="#0cd4e9"/><path d="M402.4 151.2L405.1 150.8 407.3 151.9 404.5 151.5z" fill="#00c5f3"/><path d="M406.5 151.8L409.3 150.5 411.4 152.4 408.7 152.8z" fill="#00baf6"/><path d="M387.7 151.9L390.4 147.5 392.5 150.1 389.8 153.8z" fill="#11ddec"/><path d="M410.7 152.4L413.4 150.6 415.6 152.3 412.8 153.8z" fill="#00b3f8"/><path d="M391.8 150.2L394.5 146.6 396.7 150.6 394 153.3z" fill="#22eedb"/><path d="M395.9 150.5L398.7 149.3 400.8 151.4 398.1 152.6z" fill="#17dfe1"/><path d="M400.1 151.3L402.8 151.3 405 151.5 402.2 150.8z" fill="#14d7dd"/><path d="M404.2 151.4L406.9 151.8 409.1 152.8 406.4 151.2z" fill="#0dd1e4"/><path d="M408.4 152.5L411.1 152.2 413.2 153.7 410.5 153.9z" fill="#00b9f5"/><path d="M389.5 153.4L392.2 149.7 394.4 152.8 391.6 155.5z" fill="#00cffc"/><path d="M393.6 152.9L396.4 150.2 398.5 152.3 395.8 154.7z" fill="#0bd7ef"/><path d="M397.8 152.5L400.5 151.3 402.7 150.8 399.9 152z" fill="#20e3d3"/><path d="M401.9 150.9L404.6 151.6 406.8 151.4 404.1 149.8z" fill="#46e7a9"/><path d="M406 151.1L408.8 152.6 410.9 154 408.2 152.3z" fill="#17d9db"/><path d="M391.3 155.2L394 152.5 396.2 154.3 393.5 156.8z" fill="#00b2f9"/><path d="M395.5 154.6L398.2 152.2 400.3 151.7 397.6 154.8z" fill="#13dae3"/><path d="M399.6 152.1L402.3 150.9 404.5 149.8 401.8 151z" fill="#78f07a"/><path d="M403.7 149.8L406.5 151.4 408.6 152.5 405.9 150.8z" fill="#79f078"/><path d="M393.1 156.6L395.9 154.1 398 154.3 395.3 157.6z" fill="#00baf7"/><path d="M397.3 154.8L400 151.7 402.2 150.6 399.4 154.6z" fill="#46eeb0"/><path d="M401.4 151L404.2 149.8 406.3 150.8 403.6 152z" fill="#b4f042"/><path d="M395 157.5L397.7 154.3 399.9 154.1 397.1 158.2z" fill="#09d3ef"/><path d="M399.1 154.6L401.8 150.6 404 151.6 401.3 155.8z" fill="#7cf97e"/><path d="M396.8 158.1L399.5 154 401.7 155.1 399 159.5z" fill="#14dfe7"/></g>
<text x="0" y="0" font-family='"Liberation Serif", serif' font-style="italic" font-size="13" fill="#222" transform="translate(291,50) rotate(-36)">Auto-</text>
<text x="0" y="0" font-family='"Liberation Serif", serif' font-style="italic" font-size="13" fill="#222" transform="translate(290,71) rotate(-36)">correlation</text>
<text x="0" y="0" font-family='"Liberation Serif", serif' font-style="italic" font-size="12.5" fill="#222" transform="translate(301,139) rotate(33)">y (pixel)</text>
<text x="0" y="0" font-family='"Liberation Serif", serif' font-style="italic" font-size="12.5" fill="#222" transform="translate(413,189) rotate(-26)">x (pixel)</text>
<text x="331.5" y="54.5" font-size="9" fill="#111" textLength="59" lengthAdjust="spacingAndGlyphs">0th-order peak</text>
<path d="M357.7,59 L357.7,71" stroke="#000" stroke-width="1"/><path d="M357.7,75 l-3,-6 l6,0 z" fill="#000"/>
<path d="M368.5,84 L368.5,99" stroke="#000" stroke-width="1"/><path d="M368.5,103 l-3,-6 l6,0 z" fill="#000"/>
<path d="M380.6,97 L380.6,112" stroke="#000" stroke-width="1"/><path d="M380.6,116 l-3,-6 l6,0 z" fill="#000"/>
<path d="M391.5,112 L391.5,123" stroke="#000" stroke-width="1"/><path d="M391.5,127 l-3,-6 l6,0 z" fill="#000"/>
<path d="M402.5,118 L402.5,132" stroke="#000" stroke-width="1"/><path d="M402.5,136 l-3,-6 l6,0 z" fill="#000"/>
<text x="366" y="80.5" font-size="9" fill="#111">1st</text>
<text x="376" y="95" font-size="9" fill="#111">2nd</text>
<text x="386.5" y="109" font-size="9" fill="#111">3rd</text>
<text x="396.5" y="119.5" font-size="9" fill="#111">4th</text>
<defs><linearGradient id="jetcb" x1="0" x2="0" y1="1" y2="0"><stop offset="0.000" stop-color="#00008c"/><stop offset="0.067" stop-color="#0033ff"/><stop offset="0.108" stop-color="#0080ff"/><stop offset="0.150" stop-color="#00d1ff"/><stop offset="0.192" stop-color="#26f2d9"/><stop offset="0.233" stop-color="#8cff73"/><stop offset="0.275" stop-color="#e6f21a"/><stop offset="0.333" stop-color="#ffc700"/><stop offset="0.458" stop-color="#ff7300"/><stop offset="0.625" stop-color="#f21f00"/><stop offset="0.833" stop-color="#b20000"/><stop offset="1.000" stop-color="#800000"/></linearGradient></defs>
<rect x="423" y="42.8" width="5" height="81.9" fill="url(#jetcb)"/>
<text x="430.5" y="45.8" font-size="8.5" fill="#333" stroke="#333" stroke-width="0.1">1.0</text>
<text x="430.5" y="59.4" font-size="8.5" fill="#333" stroke="#333" stroke-width="0.1">0.8</text>
<text x="430.5" y="73.1" font-size="8.5" fill="#333" stroke="#333" stroke-width="0.1">0.6</text>
<text x="430.5" y="86.8" font-size="8.5" fill="#333" stroke="#333" stroke-width="0.1">0.4</text>
<text x="430.5" y="100.4" font-size="8.5" fill="#333" stroke="#333" stroke-width="0.1">0.2</text>
<text x="430.5" y="114" font-size="8.5" fill="#333" stroke="#333" stroke-width="0.1">0.0</text>
<text x="430.5" y="127.7" font-size="8.5" fill="#333" stroke="#333" stroke-width="0.1">-0.2</text>
<text x="459.4" y="243" font-size="17.5" font-weight="bold" fill="#000" stroke="#000" stroke-width="0.4" textLength="11.9" lengthAdjust="spacingAndGlyphs">D</text>
<defs><clipPath id="fanclip"><path d="M529,250L548,238L709,387L717,394L719.5,417L704,426.5L598,427L584.5,422Z"/></clipPath><filter id="fblur" color-interpolation-filters="sRGB" x="-5%" y="-5%" width="110%" height="110%"><feGaussianBlur stdDeviation="0.7"/></filter></defs>
<defs><linearGradient id="hr0" x1="0" x2="1" y1="0" y2="0"><stop offset="0.000" stop-color="#f9fb0e"/><stop offset="0.571" stop-color="#f6f214"/><stop offset="0.714" stop-color="#fccf2d"/><stop offset="0.786" stop-color="#e1b952"/><stop offset="0.857" stop-color="#78bf7d"/><stop offset="0.929" stop-color="#07a8c4"/><stop offset="1.000" stop-color="#0899d0"/></linearGradient><linearGradient id="hr1" x1="0" x2="1" y1="0" y2="0"><stop offset="0.000" stop-color="#f9fb0e"/><stop offset="0.467" stop-color="#f7f611"/><stop offset="0.533" stop-color="#f6f015"/><stop offset="0.667" stop-color="#fec238"/><stop offset="0.733" stop-color="#b9bd63"/><stop offset="0.800" stop-color="#22b4ab"/><stop offset="0.867" stop-color="#1380d6"/><stop offset="0.933" stop-color="#066fdf"/><stop offset="1.000" stop-color="#0b95d1"/></linearGradient><linearGradient id="hr2" x1="0" x2="1" y1="0" y2="0"><stop offset="0.000" stop-color="#f9fa0f"/><stop offset="0.438" stop-color="#f7f611"/><stop offset="0.500" stop-color="#f6f015"/><stop offset="0.625" stop-color="#ffc436"/><stop offset="0.688" stop-color="#ccbc5b"/><stop offset="0.750" stop-color="#70be81"/><stop offset="0.812" stop-color="#09abc0"/><stop offset="0.875" stop-color="#127ed8"/><stop offset="0.938" stop-color="#0770df"/><stop offset="1.000" stop-color="#0a97d1"/></linearGradient><linearGradient id="hr3" x1="0" x2="1" y1="0" y2="0"><stop offset="0.000" stop-color="#f7f512"/><stop offset="0.176" stop-color="#f8d627"/><stop offset="0.353" stop-color="#f6f313"/><stop offset="0.471" stop-color="#f6f313"/><stop offset="0.647" stop-color="#fabd40"/><stop offset="0.706" stop-color="#c6bc5e"/><stop offset="0.765" stop-color="#69be84"/><stop offset="0.824" stop-color="#08a9c3"/><stop offset="0.882" stop-color="#117bd9"/><stop offset="0.941" stop-color="#0871de"/><stop offset="1.000" stop-color="#0999d1"/></linearGradient><linearGradient id="hr4" x1="0" x2="1" y1="0" y2="0"><stop offset="0.000" stop-color="#f7d826"/><stop offset="0.056" stop-color="#fabd40"/><stop offset="0.111" stop-color="#d8ba57"/><stop offset="0.167" stop-color="#d3bb58"/><stop offset="0.222" stop-color="#f3ba47"/><stop offset="0.333" stop-color="#f5eb19"/><stop offset="0.444" stop-color="#f7f512"/><stop offset="0.556" stop-color="#f5e31d"/><stop offset="0.667" stop-color="#f9bc43"/><stop offset="0.722" stop-color="#c1bc60"/><stop offset="0.778" stop-color="#60be89"/><stop offset="0.833" stop-color="#06a7c6"/><stop offset="0.889" stop-color="#0f78da"/><stop offset="0.944" stop-color="#0971de"/><stop offset="1.000" stop-color="#089ad0"/></linearGradient><linearGradient id="hr5" x1="0" x2="1" y1="0" y2="0"><stop offset="0.000" stop-color="#edba4b"/><stop offset="0.053" stop-color="#9ebe6e"/><stop offset="0.105" stop-color="#62be87"/><stop offset="0.158" stop-color="#7fbf7a"/><stop offset="0.211" stop-color="#cfbb5a"/><stop offset="0.263" stop-color="#fdcb31"/><stop offset="0.368" stop-color="#f7f611"/><stop offset="0.474" stop-color="#f7f512"/><stop offset="0.579" stop-color="#f5e21e"/><stop offset="0.684" stop-color="#f6bb45"/><stop offset="0.737" stop-color="#bcbd62"/><stop offset="0.789" stop-color="#56bd8d"/><stop offset="0.842" stop-color="#06a4c9"/><stop offset="0.895" stop-color="#0d75dc"/><stop offset="0.947" stop-color="#0972de"/><stop offset="1.000" stop-color="#089ccf"/></linearGradient><linearGradient id="hr6" x1="0" x2="1" y1="0" y2="0"><stop offset="0.000" stop-color="#cbbc5c"/><stop offset="0.050" stop-color="#75bf7e"/><stop offset="0.100" stop-color="#47bb95"/><stop offset="0.150" stop-color="#76bf7e"/><stop offset="0.200" stop-color="#ccbc5b"/><stop offset="0.250" stop-color="#fdca32"/><stop offset="0.350" stop-color="#f7f611"/><stop offset="0.450" stop-color="#f8f710"/><stop offset="0.600" stop-color="#f6e11f"/><stop offset="0.700" stop-color="#f3ba48"/><stop offset="0.750" stop-color="#b6bd64"/><stop offset="0.800" stop-color="#4cbc92"/><stop offset="0.850" stop-color="#06a1cc"/><stop offset="0.900" stop-color="#0972de"/><stop offset="0.950" stop-color="#0a72de"/><stop offset="1.000" stop-color="#079dcf"/></linearGradient><linearGradient id="hr7" x1="0" x2="1" y1="0" y2="0"><stop offset="0.000" stop-color="#c8bc5d"/><stop offset="0.048" stop-color="#70be81"/><stop offset="0.095" stop-color="#43bb98"/><stop offset="0.143" stop-color="#71bf80"/><stop offset="0.190" stop-color="#c9bc5d"/><stop offset="0.238" stop-color="#fec833"/><stop offset="0.286" stop-color="#f5e71b"/><stop offset="0.381" stop-color="#f8f90f"/><stop offset="0.524" stop-color="#f7f512"/><stop offset="0.667" stop-color="#fcce2e"/><stop offset="0.714" stop-color="#efba4a"/><stop offset="0.762" stop-color="#b0bd67"/><stop offset="0.810" stop-color="#44bb97"/><stop offset="0.857" stop-color="#079dcf"/><stop offset="0.905" stop-color="#066fdf"/><stop offset="0.952" stop-color="#0a72dd"/><stop offset="1.000" stop-color="#079ece"/></linearGradient><linearGradient id="hr8" x1="0" x2="1" y1="0" y2="0"><stop offset="0.000" stop-color="#c5bc5e"/><stop offset="0.045" stop-color="#6cbe83"/><stop offset="0.091" stop-color="#3fba9a"/><stop offset="0.136" stop-color="#6cbe82"/><stop offset="0.182" stop-color="#c6bc5e"/><stop offset="0.227" stop-color="#fec634"/><stop offset="0.273" stop-color="#f5e61c"/><stop offset="0.364" stop-color="#f8f90f"/><stop offset="0.545" stop-color="#f7f412"/><stop offset="0.682" stop-color="#fdcc30"/><stop offset="0.727" stop-color="#ebb94d"/><stop offset="0.773" stop-color="#aabe69"/><stop offset="0.818" stop-color="#3bb99c"/><stop offset="0.864" stop-color="#0999d0"/><stop offset="0.909" stop-color="#046be0"/><stop offset="0.955" stop-color="#0b73dd"/><stop offset="1.000" stop-color="#06a0cd"/></linearGradient><linearGradient id="hr9" x1="0" x2="1" y1="0" y2="0"><stop offset="0.000" stop-color="#c2bc5f"/><stop offset="0.043" stop-color="#68be85"/><stop offset="0.087" stop-color="#3bb99c"/><stop offset="0.130" stop-color="#68be85"/><stop offset="0.174" stop-color="#c2bc5f"/><stop offset="0.217" stop-color="#ffc436"/><stop offset="0.304" stop-color="#f7f611"/><stop offset="0.391" stop-color="#f8fa0f"/><stop offset="0.565" stop-color="#f6f213"/><stop offset="0.696" stop-color="#ffc436"/><stop offset="0.739" stop-color="#ddba54"/><stop offset="0.783" stop-color="#97bf71"/><stop offset="0.826" stop-color="#27b6a8"/><stop offset="0.870" stop-color="#0e92d2"/><stop offset="0.913" stop-color="#0367e1"/><stop offset="0.957" stop-color="#0a73dd"/><stop offset="1.000" stop-color="#079dce"/></linearGradient><linearGradient id="hr10" x1="0" x2="1" y1="0" y2="0"><stop offset="0.000" stop-color="#c0bc60"/><stop offset="0.042" stop-color="#64be87"/><stop offset="0.083" stop-color="#37b99e"/><stop offset="0.125" stop-color="#63be87"/><stop offset="0.167" stop-color="#bebd61"/><stop offset="0.208" stop-color="#ffc338"/><stop offset="0.292" stop-color="#f7f512"/><stop offset="0.417" stop-color="#f8fa0f"/><stop offset="0.583" stop-color="#f6ee16"/><stop offset="0.708" stop-color="#fabd40"/><stop offset="0.750" stop-color="#ccbb5b"/><stop offset="0.792" stop-color="#7fbf7a"/><stop offset="0.833" stop-color="#16b1b3"/><stop offset="0.917" stop-color="#0364e1"/><stop offset="0.958" stop-color="#0a72de"/><stop offset="1.000" stop-color="#089bd0"/></linearGradient><linearGradient id="hr11" x1="0" x2="1" y1="0" y2="0"><stop offset="0.000" stop-color="#bdbd61"/><stop offset="0.040" stop-color="#60be88"/><stop offset="0.080" stop-color="#34b8a0"/><stop offset="0.120" stop-color="#5ebd8a"/><stop offset="0.160" stop-color="#babd63"/><stop offset="0.200" stop-color="#fdc13a"/><stop offset="0.280" stop-color="#f7f512"/><stop offset="0.360" stop-color="#f9fa0f"/><stop offset="0.560" stop-color="#f6f313"/><stop offset="0.680" stop-color="#fdcb30"/><stop offset="0.720" stop-color="#f0ba49"/><stop offset="0.760" stop-color="#bbbd62"/><stop offset="0.800" stop-color="#67be85"/><stop offset="0.840" stop-color="#0bacbd"/><stop offset="0.920" stop-color="#0b5fdd"/><stop offset="0.960" stop-color="#0971de"/><stop offset="1.000" stop-color="#0998d1"/></linearGradient><linearGradient id="hr12" x1="0" x2="1" y1="0" y2="0"><stop offset="0.000" stop-color="#bbbd62"/><stop offset="0.038" stop-color="#5dbd8a"/><stop offset="0.077" stop-color="#31b8a2"/><stop offset="0.115" stop-color="#59bd8c"/><stop offset="0.154" stop-color="#b6bd64"/><stop offset="0.192" stop-color="#fcbf3d"/><stop offset="0.269" stop-color="#f6f412"/><stop offset="0.346" stop-color="#f9fa0f"/><stop offset="0.577" stop-color="#f6ef15"/><stop offset="0.692" stop-color="#ffc436"/><stop offset="0.731" stop-color="#e2b951"/><stop offset="0.769" stop-color="#aabe69"/><stop offset="0.808" stop-color="#4fbc91"/><stop offset="0.846" stop-color="#07a8c5"/><stop offset="0.923" stop-color="#135ada"/><stop offset="1.000" stop-color="#0b96d1"/></linearGradient><linearGradient id="hr13" x1="0" x2="1" y1="0" y2="0"><stop offset="0.000" stop-color="#b9bd63"/><stop offset="0.037" stop-color="#5abd8c"/><stop offset="0.074" stop-color="#2eb7a4"/><stop offset="0.111" stop-color="#54bd8e"/><stop offset="0.148" stop-color="#b2bd66"/><stop offset="0.185" stop-color="#fabe40"/><stop offset="0.259" stop-color="#f6f313"/><stop offset="0.370" stop-color="#f9fa0f"/><stop offset="0.556" stop-color="#f6f313"/><stop offset="0.704" stop-color="#fabe40"/><stop offset="0.741" stop-color="#d4bb58"/><stop offset="0.778" stop-color="#98bf71"/><stop offset="0.815" stop-color="#3ab99d"/><stop offset="0.852" stop-color="#06a2cb"/><stop offset="0.889" stop-color="#1079da"/><stop offset="0.926" stop-color="#1b56d6"/><stop offset="0.963" stop-color="#0770df"/><stop offset="1.000" stop-color="#0d93d2"/></linearGradient><linearGradient id="hr14" x1="0" x2="1" y1="0" y2="0"><stop offset="0.000" stop-color="#b7bd64"/><stop offset="0.036" stop-color="#57bd8d"/><stop offset="0.071" stop-color="#2cb6a5"/><stop offset="0.107" stop-color="#50bc91"/><stop offset="0.143" stop-color="#aebd67"/><stop offset="0.179" stop-color="#f9bc43"/><stop offset="0.250" stop-color="#f6f114"/><stop offset="0.321" stop-color="#f8f90f"/><stop offset="0.536" stop-color="#f7f512"/><stop offset="0.679" stop-color="#fdca31"/><stop offset="0.714" stop-color="#f2ba48"/><stop offset="0.750" stop-color="#c5bc5e"/><stop offset="0.786" stop-color="#84bf78"/><stop offset="0.821" stop-color="#28b6a7"/><stop offset="0.857" stop-color="#079ccf"/><stop offset="0.893" stop-color="#0d75dc"/><stop offset="0.929" stop-color="#2152d3"/><stop offset="0.964" stop-color="#066fdf"/><stop offset="1.000" stop-color="#0e91d2"/></linearGradient><linearGradient id="hr15" x1="0" x2="1" y1="0" y2="0"><stop offset="0.000" stop-color="#b5bd65"/><stop offset="0.036" stop-color="#55bd8e"/><stop offset="0.071" stop-color="#2ab6a6"/><stop offset="0.107" stop-color="#4cbc92"/><stop offset="0.143" stop-color="#abbe69"/><stop offset="0.179" stop-color="#f6bb45"/><stop offset="0.250" stop-color="#f6ef15"/><stop offset="0.357" stop-color="#f9fa0f"/><stop offset="0.571" stop-color="#f6f413"/><stop offset="0.714" stop-color="#ffc337"/><stop offset="0.750" stop-color="#e6b94f"/><stop offset="0.786" stop-color="#b7bd64"/><stop offset="0.821" stop-color="#6fbe81"/><stop offset="0.857" stop-color="#19b2b1"/><stop offset="0.893" stop-color="#0b96d1"/><stop offset="0.929" stop-color="#0871de"/><stop offset="0.964" stop-color="#2450cf"/><stop offset="1.000" stop-color="#056edf"/></linearGradient><linearGradient id="hr16" x1="0" x2="1" y1="0" y2="0"><stop offset="0.000" stop-color="#b4bd65"/><stop offset="0.034" stop-color="#52bc8f"/><stop offset="0.069" stop-color="#28b6a7"/><stop offset="0.103" stop-color="#49bb94"/><stop offset="0.172" stop-color="#f3ba47"/><stop offset="0.241" stop-color="#f6ed17"/><stop offset="0.379" stop-color="#f9fa0f"/><stop offset="0.586" stop-color="#f6f114"/><stop offset="0.724" stop-color="#fbbe3f"/><stop offset="0.759" stop-color="#daba56"/><stop offset="0.793" stop-color="#a7be6a"/><stop offset="0.862" stop-color="#0faeba"/><stop offset="0.931" stop-color="#046de0"/><stop offset="0.966" stop-color="#264ecc"/><stop offset="1.000" stop-color="#056ee0"/></linearGradient><linearGradient id="hr17" x1="0" x2="1" y1="0" y2="0"><stop offset="0.000" stop-color="#b2bd66"/><stop offset="0.033" stop-color="#50bc90"/><stop offset="0.067" stop-color="#26b5a8"/><stop offset="0.100" stop-color="#46bb96"/><stop offset="0.167" stop-color="#f0ba49"/><stop offset="0.233" stop-color="#f5eb18"/><stop offset="0.333" stop-color="#f8f90f"/><stop offset="0.567" stop-color="#f6f412"/><stop offset="0.700" stop-color="#fdc932"/><stop offset="0.733" stop-color="#f3ba47"/><stop offset="0.767" stop-color="#cdbb5b"/><stop offset="0.800" stop-color="#97bf71"/><stop offset="0.833" stop-color="#46bb96"/><stop offset="0.867" stop-color="#08aac1"/><stop offset="0.900" stop-color="#1289d3"/><stop offset="0.933" stop-color="#0469e0"/><stop offset="0.967" stop-color="#274dc9"/><stop offset="1.000" stop-color="#046de0"/></linearGradient><linearGradient id="hr18" x1="0" x2="1" y1="0" y2="0"><stop offset="0.000" stop-color="#b0bd67"/><stop offset="0.032" stop-color="#4ebc91"/><stop offset="0.065" stop-color="#25b5a9"/><stop offset="0.097" stop-color="#44bb97"/><stop offset="0.161" stop-color="#edba4b"/><stop offset="0.194" stop-color="#f9d32a"/><stop offset="0.258" stop-color="#f6f412"/><stop offset="0.484" stop-color="#f8f910"/><stop offset="0.581" stop-color="#f6f214"/><stop offset="0.710" stop-color="#ffc337"/><stop offset="0.742" stop-color="#e9b94e"/><stop offset="0.774" stop-color="#c0bc60"/><stop offset="0.806" stop-color="#86bf77"/><stop offset="0.839" stop-color="#35b8a0"/><stop offset="0.871" stop-color="#06a6c7"/><stop offset="0.903" stop-color="#1483d5"/><stop offset="0.935" stop-color="#0365e1"/><stop offset="0.968" stop-color="#294bc7"/><stop offset="1.000" stop-color="#046ce0"/></linearGradient><linearGradient id="hr19" x1="0" x2="1" y1="0" y2="0"><stop offset="0.000" stop-color="#aebd67"/><stop offset="0.031" stop-color="#4cbc92"/><stop offset="0.062" stop-color="#24b5aa"/><stop offset="0.094" stop-color="#42ba98"/><stop offset="0.156" stop-color="#eab94d"/><stop offset="0.188" stop-color="#fad12c"/><stop offset="0.250" stop-color="#f6f313"/><stop offset="0.500" stop-color="#f8f810"/><stop offset="0.594" stop-color="#f6ee16"/><stop offset="0.719" stop-color="#fbbe3f"/><stop offset="0.781" stop-color="#b2bd66"/><stop offset="0.844" stop-color="#26b5a8"/><stop offset="0.875" stop-color="#06a1cc"/><stop offset="0.906" stop-color="#127fd7"/><stop offset="0.938" stop-color="#0960de"/><stop offset="0.969" stop-color="#2a4ac6"/><stop offset="1.000" stop-color="#046be0"/></linearGradient><linearGradient id="hr20" x1="0" x2="1" y1="0" y2="0"><stop offset="0.000" stop-color="#acbe68"/><stop offset="0.030" stop-color="#4bbc93"/><stop offset="0.061" stop-color="#23b4ab"/><stop offset="0.091" stop-color="#40ba99"/><stop offset="0.152" stop-color="#e8b94f"/><stop offset="0.182" stop-color="#fbcf2d"/><stop offset="0.242" stop-color="#f6f115"/><stop offset="0.424" stop-color="#f9fa0f"/><stop offset="0.576" stop-color="#f6f214"/><stop offset="0.697" stop-color="#fec833"/><stop offset="0.727" stop-color="#f5bb46"/><stop offset="0.758" stop-color="#d3bb59"/><stop offset="0.788" stop-color="#a5be6b"/><stop offset="0.848" stop-color="#19b2b1"/><stop offset="0.879" stop-color="#089ccf"/><stop offset="0.909" stop-color="#107ad9"/><stop offset="0.939" stop-color="#135ada"/><stop offset="0.970" stop-color="#2b49c4"/><stop offset="1.000" stop-color="#046be0"/></linearGradient><linearGradient id="hr21" x1="0" x2="1" y1="0" y2="0"><stop offset="0.000" stop-color="#aabe69"/><stop offset="0.029" stop-color="#49bb94"/><stop offset="0.059" stop-color="#22b4ab"/><stop offset="0.088" stop-color="#3fba9a"/><stop offset="0.147" stop-color="#e5b950"/><stop offset="0.176" stop-color="#fcce2e"/><stop offset="0.265" stop-color="#f7f412"/><stop offset="0.441" stop-color="#f8fa0f"/><stop offset="0.588" stop-color="#f6ef16"/><stop offset="0.706" stop-color="#ffc338"/><stop offset="0.765" stop-color="#c7bc5e"/><stop offset="0.794" stop-color="#96bf71"/><stop offset="0.853" stop-color="#10afb9"/><stop offset="0.912" stop-color="#0e76db"/><stop offset="0.941" stop-color="#1c55d6"/><stop offset="0.971" stop-color="#2c48c3"/><stop offset="1.000" stop-color="#046ae0"/></linearGradient><linearGradient id="hr22" x1="0" x2="1" y1="0" y2="0"><stop offset="0.000" stop-color="#a8be6a"/><stop offset="0.029" stop-color="#47bb95"/><stop offset="0.057" stop-color="#21b4ac"/><stop offset="0.086" stop-color="#3eba9b"/><stop offset="0.143" stop-color="#e3b951"/><stop offset="0.171" stop-color="#fdcc30"/><stop offset="0.257" stop-color="#f6f313"/><stop offset="0.457" stop-color="#f8f90f"/><stop offset="0.571" stop-color="#f6f313"/><stop offset="0.714" stop-color="#fbbe3f"/><stop offset="0.771" stop-color="#bbbd62"/><stop offset="0.800" stop-color="#86bf77"/><stop offset="0.829" stop-color="#3fba9a"/><stop offset="0.857" stop-color="#09abbf"/><stop offset="0.914" stop-color="#0a73dd"/><stop offset="0.943" stop-color="#2351d0"/><stop offset="0.971" stop-color="#2d48c2"/><stop offset="1.000" stop-color="#046ae0"/></linearGradient><linearGradient id="hr23" x1="0" x2="1" y1="0" y2="0"><stop offset="0.000" stop-color="#a6be6a"/><stop offset="0.028" stop-color="#46bb96"/><stop offset="0.056" stop-color="#20b4ad"/><stop offset="0.083" stop-color="#3dba9b"/><stop offset="0.139" stop-color="#e2b952"/><stop offset="0.167" stop-color="#fdcb31"/><stop offset="0.250" stop-color="#f6f114"/><stop offset="0.417" stop-color="#f9fa0f"/><stop offset="0.583" stop-color="#f6f015"/><stop offset="0.694" stop-color="#fec733"/><stop offset="0.722" stop-color="#f6bb46"/><stop offset="0.778" stop-color="#aebd67"/><stop offset="0.833" stop-color="#30b7a3"/><stop offset="0.861" stop-color="#07a8c5"/><stop offset="0.889" stop-color="#128ad3"/><stop offset="0.917" stop-color="#066fdf"/><stop offset="0.944" stop-color="#284cc9"/><stop offset="0.972" stop-color="#2d47c1"/><stop offset="1.000" stop-color="#0469e0"/></linearGradient><linearGradient id="hr24" x1="0" x2="1" y1="0" y2="0"><stop offset="0.000" stop-color="#a4be6b"/><stop offset="0.027" stop-color="#44bb97"/><stop offset="0.054" stop-color="#1fb3ad"/><stop offset="0.081" stop-color="#3bb99c"/><stop offset="0.135" stop-color="#e1ba52"/><stop offset="0.162" stop-color="#fdca32"/><stop offset="0.270" stop-color="#f6f412"/><stop offset="0.432" stop-color="#f8fa0f"/><stop offset="0.568" stop-color="#f6f313"/><stop offset="0.703" stop-color="#fec238"/><stop offset="0.757" stop-color="#ccbc5b"/><stop offset="0.784" stop-color="#a2be6c"/><stop offset="0.838" stop-color="#23b4aa"/><stop offset="0.865" stop-color="#06a3ca"/><stop offset="0.892" stop-color="#1485d4"/><stop offset="0.919" stop-color="#046be0"/><stop offset="0.946" stop-color="#2c48c2"/><stop offset="0.973" stop-color="#2e47c0"/><stop offset="1.000" stop-color="#0469e0"/></linearGradient><linearGradient id="hr25" x1="0" x2="1" y1="0" y2="0"><stop offset="0.000" stop-color="#a2be6c"/><stop offset="0.026" stop-color="#42ba98"/><stop offset="0.053" stop-color="#1eb3ae"/><stop offset="0.079" stop-color="#3ab99d"/><stop offset="0.132" stop-color="#e0ba53"/><stop offset="0.158" stop-color="#fdc932"/><stop offset="0.263" stop-color="#f6f213"/><stop offset="0.447" stop-color="#f8f90f"/><stop offset="0.579" stop-color="#f6f015"/><stop offset="0.711" stop-color="#fbbe3f"/><stop offset="0.737" stop-color="#e4b950"/><stop offset="0.789" stop-color="#95bf72"/><stop offset="0.842" stop-color="#18b2b2"/><stop offset="0.868" stop-color="#069fce"/><stop offset="0.895" stop-color="#1381d6"/><stop offset="0.921" stop-color="#0367e1"/><stop offset="0.947" stop-color="#3044bc"/><stop offset="0.974" stop-color="#2e46bf"/><stop offset="1.000" stop-color="#0468e0"/></linearGradient><linearGradient id="hr26" x1="0" x2="1" y1="0" y2="0"><stop offset="0.000" stop-color="#a0be6d"/><stop offset="0.026" stop-color="#40ba9a"/><stop offset="0.051" stop-color="#1db3af"/><stop offset="0.077" stop-color="#39b99d"/><stop offset="0.128" stop-color="#dfba53"/><stop offset="0.154" stop-color="#fec833"/><stop offset="0.256" stop-color="#f6f015"/><stop offset="0.385" stop-color="#f9fa0f"/><stop offset="0.564" stop-color="#f6f313"/><stop offset="0.692" stop-color="#fec734"/><stop offset="0.718" stop-color="#f6bb45"/><stop offset="0.769" stop-color="#b6bd64"/><stop offset="0.795" stop-color="#86bf77"/><stop offset="0.846" stop-color="#10afb9"/><stop offset="0.897" stop-color="#127dd8"/><stop offset="0.923" stop-color="#0364e1"/><stop offset="0.949" stop-color="#3242b7"/><stop offset="0.974" stop-color="#2f46bf"/><stop offset="1.000" stop-color="#0468e0"/></linearGradient><linearGradient id="hr27" x1="0" x2="1" y1="0" y2="0"><stop offset="0.000" stop-color="#9dbe6e"/><stop offset="0.025" stop-color="#3dba9b"/><stop offset="0.050" stop-color="#1bb3b0"/><stop offset="0.075" stop-color="#38b99e"/><stop offset="0.125" stop-color="#deba53"/><stop offset="0.150" stop-color="#fec833"/><stop offset="0.275" stop-color="#f6f313"/><stop offset="0.425" stop-color="#f8fa0f"/><stop offset="0.575" stop-color="#f6f115"/><stop offset="0.700" stop-color="#fec238"/><stop offset="0.725" stop-color="#eeba4a"/><stop offset="0.775" stop-color="#abbe69"/><stop offset="0.850" stop-color="#09abbf"/><stop offset="0.925" stop-color="#0b5edd"/><stop offset="0.950" stop-color="#333fb2"/><stop offset="0.975" stop-color="#2f46be"/><stop offset="1.000" stop-color="#0368e1"/></linearGradient><linearGradient id="hr28" x1="0" x2="1" y1="0" y2="0"><stop offset="0.000" stop-color="#9bbf6f"/><stop offset="0.024" stop-color="#3bb99c"/><stop offset="0.049" stop-color="#1ab2b0"/><stop offset="0.073" stop-color="#37b99f"/><stop offset="0.122" stop-color="#deba53"/><stop offset="0.146" stop-color="#fec833"/><stop offset="0.195" stop-color="#f6e020"/><stop offset="0.293" stop-color="#f7f512"/><stop offset="0.439" stop-color="#f8f90f"/><stop offset="0.585" stop-color="#f6ee16"/><stop offset="0.707" stop-color="#fbbe3f"/><stop offset="0.732" stop-color="#e6b94f"/><stop offset="0.780" stop-color="#9fbe6e"/><stop offset="0.829" stop-color="#2ab6a6"/><stop offset="0.854" stop-color="#07a8c4"/><stop offset="0.902" stop-color="#0d76dc"/><stop offset="0.927" stop-color="#1559d9"/><stop offset="0.951" stop-color="#343dad"/><stop offset="0.976" stop-color="#2f45be"/><stop offset="1.000" stop-color="#0368e1"/></linearGradient><linearGradient id="hr29" x1="0" x2="1" y1="0" y2="0"><stop offset="0.000" stop-color="#99bf70"/><stop offset="0.024" stop-color="#39b99d"/><stop offset="0.048" stop-color="#19b2b1"/><stop offset="0.071" stop-color="#35b8a0"/><stop offset="0.119" stop-color="#deba54"/><stop offset="0.143" stop-color="#fec833"/><stop offset="0.167" stop-color="#f7d826"/><stop offset="0.286" stop-color="#f6f413"/><stop offset="0.405" stop-color="#f9fa0f"/><stop offset="0.571" stop-color="#f6f114"/><stop offset="0.690" stop-color="#fec634"/><stop offset="0.714" stop-color="#f7bb45"/><stop offset="0.762" stop-color="#bcbd62"/><stop offset="0.786" stop-color="#93bf73"/><stop offset="0.833" stop-color="#1fb4ad"/><stop offset="0.857" stop-color="#06a4c9"/><stop offset="0.881" stop-color="#128ad3"/><stop offset="0.905" stop-color="#0a72dd"/><stop offset="0.929" stop-color="#1e54d5"/><stop offset="0.952" stop-color="#353ba9"/><stop offset="0.976" stop-color="#2f45be"/><stop offset="1.000" stop-color="#0367e1"/></linearGradient><linearGradient id="hr30" x1="0" x2="1" y1="0" y2="0"><stop offset="0.000" stop-color="#96bf71"/><stop offset="0.023" stop-color="#37b99f"/><stop offset="0.047" stop-color="#17b2b2"/><stop offset="0.070" stop-color="#34b8a0"/><stop offset="0.116" stop-color="#ddba54"/><stop offset="0.140" stop-color="#fec833"/><stop offset="0.163" stop-color="#f7d926"/><stop offset="0.279" stop-color="#f6f214"/><stop offset="0.419" stop-color="#f8fa0f"/><stop offset="0.558" stop-color="#f6f313"/><stop offset="0.698" stop-color="#fec239"/><stop offset="0.721" stop-color="#f0ba4a"/><stop offset="0.767" stop-color="#b2bd66"/><stop offset="0.837" stop-color="#15b1b4"/><stop offset="0.860" stop-color="#06a0cd"/><stop offset="0.884" stop-color="#1486d4"/><stop offset="0.907" stop-color="#066fdf"/><stop offset="0.930" stop-color="#2450cf"/><stop offset="0.953" stop-color="#353aa6"/><stop offset="0.977" stop-color="#2f45be"/><stop offset="1.000" stop-color="#0367e1"/></linearGradient><linearGradient id="hr31" x1="0" x2="1" y1="0" y2="0"><stop offset="0.000" stop-color="#94bf72"/><stop offset="0.023" stop-color="#35b8a0"/><stop offset="0.045" stop-color="#16b1b3"/><stop offset="0.068" stop-color="#32b8a1"/><stop offset="0.114" stop-color="#ddba54"/><stop offset="0.136" stop-color="#fec833"/><stop offset="0.159" stop-color="#f7d925"/><stop offset="0.295" stop-color="#f6f412"/><stop offset="0.432" stop-color="#f8f90f"/><stop offset="0.568" stop-color="#f6f114"/><stop offset="0.705" stop-color="#fbbe3f"/><stop offset="0.773" stop-color="#a7be6a"/><stop offset="0.841" stop-color="#0faeba"/><stop offset="0.864" stop-color="#089ccf"/><stop offset="0.886" stop-color="#1382d6"/><stop offset="0.909" stop-color="#046be0"/><stop offset="0.932" stop-color="#284cc8"/><stop offset="0.955" stop-color="#3638a2"/><stop offset="0.977" stop-color="#2f45be"/><stop offset="1.000" stop-color="#0367e1"/></linearGradient><linearGradient id="hr32" x1="0" x2="1" y1="0" y2="0"><stop offset="0.000" stop-color="#91bf73"/><stop offset="0.022" stop-color="#32b8a1"/><stop offset="0.044" stop-color="#14b1b5"/><stop offset="0.067" stop-color="#31b7a2"/><stop offset="0.111" stop-color="#ddba54"/><stop offset="0.133" stop-color="#fdc932"/><stop offset="0.178" stop-color="#f6e020"/><stop offset="0.400" stop-color="#f9fa0f"/><stop offset="0.556" stop-color="#f6f313"/><stop offset="0.689" stop-color="#fec635"/><stop offset="0.711" stop-color="#f7bb44"/><stop offset="0.756" stop-color="#c2bc60"/><stop offset="0.800" stop-color="#69be84"/><stop offset="0.822" stop-color="#30b7a2"/><stop offset="0.844" stop-color="#09abbf"/><stop offset="0.889" stop-color="#127ed8"/><stop offset="0.911" stop-color="#0368e1"/><stop offset="0.933" stop-color="#2d48c2"/><stop offset="0.956" stop-color="#3637a0"/><stop offset="0.978" stop-color="#2f45be"/><stop offset="1.000" stop-color="#0367e1"/></linearGradient><linearGradient id="hr33" x1="0" x2="1" y1="0" y2="0"><stop offset="0.000" stop-color="#8ebf74"/><stop offset="0.022" stop-color="#30b7a3"/><stop offset="0.043" stop-color="#13b0b6"/><stop offset="0.065" stop-color="#2fb7a3"/><stop offset="0.109" stop-color="#dcba55"/><stop offset="0.130" stop-color="#fdc932"/><stop offset="0.174" stop-color="#f6e020"/><stop offset="0.413" stop-color="#f8fa0f"/><stop offset="0.565" stop-color="#f6f214"/><stop offset="0.696" stop-color="#fec239"/><stop offset="0.717" stop-color="#f1ba49"/><stop offset="0.761" stop-color="#b8bd64"/><stop offset="0.783" stop-color="#91bf73"/><stop offset="0.826" stop-color="#25b5a9"/><stop offset="0.848" stop-color="#07a8c4"/><stop offset="0.891" stop-color="#107ad9"/><stop offset="0.913" stop-color="#0364e1"/><stop offset="0.935" stop-color="#3144bc"/><stop offset="0.957" stop-color="#36369d"/><stop offset="0.978" stop-color="#2f46be"/><stop offset="1.000" stop-color="#0367e1"/></linearGradient><linearGradient id="hr34" x1="0" x2="1" y1="0" y2="0"><stop offset="0.000" stop-color="#8bbf75"/><stop offset="0.022" stop-color="#2eb7a4"/><stop offset="0.043" stop-color="#12b0b7"/><stop offset="0.065" stop-color="#2db7a4"/><stop offset="0.109" stop-color="#dbba55"/><stop offset="0.130" stop-color="#fdc932"/><stop offset="0.174" stop-color="#f5e11f"/><stop offset="0.391" stop-color="#f9fa0f"/><stop offset="0.565" stop-color="#f6f313"/><stop offset="0.696" stop-color="#fdc932"/><stop offset="0.717" stop-color="#fbbe3f"/><stop offset="0.761" stop-color="#cfbb5a"/><stop offset="0.804" stop-color="#84bf78"/><stop offset="0.848" stop-color="#1bb3b0"/><stop offset="0.870" stop-color="#06a5c8"/><stop offset="0.891" stop-color="#108dd2"/><stop offset="0.935" stop-color="#0860df"/><stop offset="0.957" stop-color="#3341b6"/><stop offset="0.978" stop-color="#36359c"/><stop offset="1.000" stop-color="#2f46bf"/></linearGradient><linearGradient id="hr35" x1="0" x2="1" y1="0" y2="0"><stop offset="0.000" stop-color="#88bf76"/><stop offset="0.021" stop-color="#2cb6a5"/><stop offset="0.043" stop-color="#11afb8"/><stop offset="0.064" stop-color="#2bb6a6"/><stop offset="0.106" stop-color="#daba55"/><stop offset="0.128" stop-color="#fdc932"/><stop offset="0.170" stop-color="#f5e31e"/><stop offset="0.234" stop-color="#f6df21"/><stop offset="0.319" stop-color="#f7f611"/><stop offset="0.404" stop-color="#f9fa0f"/><stop offset="0.574" stop-color="#f6f214"/><stop offset="0.702" stop-color="#fec535"/><stop offset="0.723" stop-color="#f8bb44"/><stop offset="0.766" stop-color="#c6bc5e"/><stop offset="0.809" stop-color="#77bf7d"/><stop offset="0.851" stop-color="#13b0b6"/><stop offset="0.872" stop-color="#06a1cc"/><stop offset="0.894" stop-color="#1289d3"/><stop offset="0.915" stop-color="#0c74dd"/><stop offset="0.936" stop-color="#115bdb"/><stop offset="0.957" stop-color="#333fb1"/><stop offset="0.979" stop-color="#36349b"/><stop offset="1.000" stop-color="#2e46bf"/></linearGradient><linearGradient id="hr36" x1="0" x2="1" y1="0" y2="0"><stop offset="0.000" stop-color="#86bf78"/><stop offset="0.021" stop-color="#29b6a7"/><stop offset="0.042" stop-color="#10afb9"/><stop offset="0.062" stop-color="#29b6a7"/><stop offset="0.104" stop-color="#d9ba56"/><stop offset="0.125" stop-color="#fdc932"/><stop offset="0.167" stop-color="#f5e41d"/><stop offset="0.229" stop-color="#f6dd22"/><stop offset="0.312" stop-color="#f7f412"/><stop offset="0.417" stop-color="#f9fa0f"/><stop offset="0.583" stop-color="#f6f015"/><stop offset="0.708" stop-color="#fec139"/><stop offset="0.729" stop-color="#f1ba48"/><stop offset="0.771" stop-color="#bdbd62"/><stop offset="0.812" stop-color="#6abe84"/><stop offset="0.854" stop-color="#0dadbb"/><stop offset="0.875" stop-color="#079dcf"/><stop offset="0.896" stop-color="#1485d4"/><stop offset="0.917" stop-color="#0871de"/><stop offset="0.938" stop-color="#1957d7"/><stop offset="0.958" stop-color="#343dac"/><stop offset="0.979" stop-color="#36349a"/><stop offset="1.000" stop-color="#2e47c0"/></linearGradient><linearGradient id="hr37" x1="0" x2="1" y1="0" y2="0"><stop offset="0.000" stop-color="#83bf79"/><stop offset="0.020" stop-color="#27b5a8"/><stop offset="0.041" stop-color="#0faeba"/><stop offset="0.061" stop-color="#27b5a8"/><stop offset="0.102" stop-color="#d8ba56"/><stop offset="0.122" stop-color="#fdc932"/><stop offset="0.163" stop-color="#f5e61c"/><stop offset="0.245" stop-color="#f6de22"/><stop offset="0.306" stop-color="#f6f313"/><stop offset="0.388" stop-color="#f9fa0f"/><stop offset="0.571" stop-color="#f6f214"/><stop offset="0.694" stop-color="#fdc932"/><stop offset="0.735" stop-color="#ebb94d"/><stop offset="0.776" stop-color="#b4bd65"/><stop offset="0.837" stop-color="#2ab6a6"/><stop offset="0.857" stop-color="#09abc0"/><stop offset="0.898" stop-color="#1381d6"/><stop offset="0.918" stop-color="#056ee0"/><stop offset="0.939" stop-color="#2152d3"/><stop offset="0.959" stop-color="#353ba8"/><stop offset="0.980" stop-color="#36349a"/><stop offset="1.000" stop-color="#2d47c1"/></linearGradient><linearGradient id="hr38" x1="0" x2="1" y1="0" y2="0"><stop offset="0.000" stop-color="#80bf7a"/><stop offset="0.020" stop-color="#25b5a9"/><stop offset="0.040" stop-color="#0daebb"/><stop offset="0.060" stop-color="#25b5a9"/><stop offset="0.100" stop-color="#d6ba57"/><stop offset="0.120" stop-color="#fdc932"/><stop offset="0.160" stop-color="#f5e81b"/><stop offset="0.240" stop-color="#f6dc23"/><stop offset="0.320" stop-color="#f7f512"/><stop offset="0.400" stop-color="#f9fa0f"/><stop offset="0.580" stop-color="#f6f015"/><stop offset="0.700" stop-color="#ffc536"/><stop offset="0.720" stop-color="#f8bb44"/><stop offset="0.760" stop-color="#cabc5c"/><stop offset="0.800" stop-color="#82bf79"/><stop offset="0.840" stop-color="#20b4ad"/><stop offset="0.860" stop-color="#07a8c5"/><stop offset="0.900" stop-color="#127ed8"/><stop offset="0.920" stop-color="#046be0"/><stop offset="0.940" stop-color="#254ecc"/><stop offset="0.960" stop-color="#3539a4"/><stop offset="0.980" stop-color="#36349a"/><stop offset="1.000" stop-color="#2d48c1"/></linearGradient><linearGradient id="hr39" x1="0" x2="1" y1="0" y2="0"><stop offset="0.000" stop-color="#7dbf7b"/><stop offset="0.020" stop-color="#23b4aa"/><stop offset="0.039" stop-color="#0cadbc"/><stop offset="0.059" stop-color="#23b4ab"/><stop offset="0.098" stop-color="#d5ba58"/><stop offset="0.118" stop-color="#fdc932"/><stop offset="0.157" stop-color="#f5e919"/><stop offset="0.235" stop-color="#f7db24"/><stop offset="0.314" stop-color="#f6f412"/><stop offset="0.412" stop-color="#f9fa0f"/><stop offset="0.569" stop-color="#f6f214"/><stop offset="0.706" stop-color="#fec13a"/><stop offset="0.765" stop-color="#c1bc60"/><stop offset="0.804" stop-color="#76bf7e"/><stop offset="0.843" stop-color="#17b2b3"/><stop offset="0.863" stop-color="#06a5c8"/><stop offset="0.902" stop-color="#117bd9"/><stop offset="0.922" stop-color="#0367e1"/><stop offset="0.941" stop-color="#2a4bc6"/><stop offset="0.961" stop-color="#3637a1"/><stop offset="0.980" stop-color="#36349a"/><stop offset="1.000" stop-color="#2c48c2"/></linearGradient><linearGradient id="hr40" x1="0" x2="1" y1="0" y2="0"><stop offset="0.000" stop-color="#7abf7c"/><stop offset="0.019" stop-color="#21b4ac"/><stop offset="0.038" stop-color="#0bacbd"/><stop offset="0.058" stop-color="#21b4ac"/><stop offset="0.096" stop-color="#d3bb58"/><stop offset="0.115" stop-color="#fec833"/><stop offset="0.154" stop-color="#f5eb18"/><stop offset="0.231" stop-color="#f7da25"/><stop offset="0.385" stop-color="#f9fa0f"/><stop offset="0.558" stop-color="#f6f313"/><stop offset="0.692" stop-color="#fec833"/><stop offset="0.731" stop-color="#ecb94c"/><stop offset="0.769" stop-color="#b9bd63"/><stop offset="0.808" stop-color="#69be84"/><stop offset="0.846" stop-color="#11afb8"/><stop offset="0.865" stop-color="#06a1cc"/><stop offset="0.885" stop-color="#118bd3"/><stop offset="0.923" stop-color="#0364e1"/><stop offset="0.942" stop-color="#2d47c1"/><stop offset="0.962" stop-color="#36369d"/><stop offset="0.981" stop-color="#36349b"/><stop offset="1.000" stop-color="#2c49c3"/></linearGradient><linearGradient id="hr41" x1="0" x2="1" y1="0" y2="0"><stop offset="0.000" stop-color="#77bf7d"/><stop offset="0.019" stop-color="#1fb4ad"/><stop offset="0.038" stop-color="#0aacbe"/><stop offset="0.057" stop-color="#1fb3ad"/><stop offset="0.094" stop-color="#d1bb59"/><stop offset="0.113" stop-color="#fec733"/><stop offset="0.151" stop-color="#f6ec17"/><stop offset="0.245" stop-color="#f7d925"/><stop offset="0.321" stop-color="#f7f512"/><stop offset="0.396" stop-color="#f9fa0f"/><stop offset="0.566" stop-color="#f6f214"/><stop offset="0.698" stop-color="#ffc436"/><stop offset="0.736" stop-color="#e5b950"/><stop offset="0.774" stop-color="#b0bd67"/><stop offset="0.849" stop-color="#0bacbd"/><stop offset="0.887" stop-color="#1387d3"/><stop offset="0.925" stop-color="#0860df"/><stop offset="0.943" stop-color="#3144bb"/><stop offset="0.962" stop-color="#36349b"/><stop offset="0.981" stop-color="#36349b"/><stop offset="1.000" stop-color="#2b49c4"/></linearGradient><linearGradient id="hr42" x1="0" x2="1" y1="0" y2="0"><stop offset="0.000" stop-color="#74bf7f"/><stop offset="0.019" stop-color="#1db3ae"/><stop offset="0.037" stop-color="#09abbf"/><stop offset="0.056" stop-color="#1db3ae"/><stop offset="0.093" stop-color="#d0bb5a"/><stop offset="0.111" stop-color="#fec734"/><stop offset="0.148" stop-color="#f6ee16"/><stop offset="0.241" stop-color="#f7d826"/><stop offset="0.315" stop-color="#f6f313"/><stop offset="0.407" stop-color="#f9fa0f"/><stop offset="0.574" stop-color="#f6f015"/><stop offset="0.704" stop-color="#fdc13a"/><stop offset="0.741" stop-color="#deba53"/><stop offset="0.778" stop-color="#a7be6a"/><stop offset="0.833" stop-color="#23b5aa"/><stop offset="0.852" stop-color="#08aac1"/><stop offset="0.926" stop-color="#105cdb"/><stop offset="0.944" stop-color="#3341b6"/><stop offset="0.963" stop-color="#363398"/><stop offset="0.981" stop-color="#36359c"/><stop offset="1.000" stop-color="#2a4ac5"/></linearGradient><linearGradient id="hr43" x1="0" x2="1" y1="0" y2="0"><stop offset="0.000" stop-color="#71bf80"/><stop offset="0.018" stop-color="#1bb3b0"/><stop offset="0.036" stop-color="#09abc0"/><stop offset="0.055" stop-color="#1bb3b0"/><stop offset="0.091" stop-color="#cebb5b"/><stop offset="0.109" stop-color="#fec635"/><stop offset="0.145" stop-color="#f6ef16"/><stop offset="0.236" stop-color="#f7d727"/><stop offset="0.382" stop-color="#f9fa0f"/><stop offset="0.564" stop-color="#f6f214"/><stop offset="0.691" stop-color="#fec733"/><stop offset="0.727" stop-color="#edb94c"/><stop offset="0.764" stop-color="#bdbd62"/><stop offset="0.800" stop-color="#74bf7f"/><stop offset="0.836" stop-color="#1bb2b0"/><stop offset="0.855" stop-color="#06a7c5"/><stop offset="0.891" stop-color="#1381d6"/><stop offset="0.909" stop-color="#066fdf"/><stop offset="0.927" stop-color="#1758d8"/><stop offset="0.945" stop-color="#333fb2"/><stop offset="0.964" stop-color="#363296"/><stop offset="0.982" stop-color="#36359c"/><stop offset="1.000" stop-color="#2a4ac6"/></linearGradient><linearGradient id="hr44" x1="0" x2="1" y1="0" y2="0"><stop offset="0.000" stop-color="#6ebe82"/><stop offset="0.018" stop-color="#19b2b1"/><stop offset="0.036" stop-color="#09aac1"/><stop offset="0.054" stop-color="#19b2b1"/><stop offset="0.089" stop-color="#ccbc5c"/><stop offset="0.107" stop-color="#fec535"/><stop offset="0.143" stop-color="#f6f015"/><stop offset="0.250" stop-color="#f8d727"/><stop offset="0.321" stop-color="#f7f512"/><stop offset="0.393" stop-color="#f9fa0f"/><stop offset="0.571" stop-color="#f6f015"/><stop offset="0.696" stop-color="#ffc436"/><stop offset="0.732" stop-color="#e6b94f"/><stop offset="0.768" stop-color="#b5bd65"/><stop offset="0.839" stop-color="#13b0b5"/><stop offset="0.857" stop-color="#06a4c9"/><stop offset="0.893" stop-color="#127dd8"/><stop offset="0.911" stop-color="#046ce0"/><stop offset="0.929" stop-color="#1e54d5"/><stop offset="0.946" stop-color="#343dad"/><stop offset="0.964" stop-color="#363194"/><stop offset="0.982" stop-color="#36359d"/><stop offset="1.000" stop-color="#294bc7"/></linearGradient><linearGradient id="hr45" x1="0" x2="1" y1="0" y2="0"><stop offset="0.000" stop-color="#6bbe83"/><stop offset="0.018" stop-color="#17b2b2"/><stop offset="0.035" stop-color="#08aac2"/><stop offset="0.053" stop-color="#17b2b2"/><stop offset="0.088" stop-color="#cabc5c"/><stop offset="0.105" stop-color="#ffc436"/><stop offset="0.140" stop-color="#f6f015"/><stop offset="0.246" stop-color="#f8d628"/><stop offset="0.316" stop-color="#f6f313"/><stop offset="0.404" stop-color="#f9fa0f"/><stop offset="0.561" stop-color="#f6f214"/><stop offset="0.702" stop-color="#fdc13a"/><stop offset="0.737" stop-color="#e0ba53"/><stop offset="0.772" stop-color="#acbe68"/><stop offset="0.842" stop-color="#0eaeba"/><stop offset="0.895" stop-color="#107ad9"/><stop offset="0.912" stop-color="#0469e0"/><stop offset="0.930" stop-color="#2350cf"/><stop offset="0.947" stop-color="#353ba9"/><stop offset="0.965" stop-color="#353092"/><stop offset="0.982" stop-color="#36369e"/><stop offset="1.000" stop-color="#284cc8"/></linearGradient><linearGradient id="hr46" x1="0" x2="1" y1="0" y2="0"><stop offset="0.000" stop-color="#68be85"/><stop offset="0.017" stop-color="#15b1b4"/><stop offset="0.034" stop-color="#08a9c3"/><stop offset="0.052" stop-color="#15b1b4"/><stop offset="0.086" stop-color="#c7bc5d"/><stop offset="0.103" stop-color="#ffc337"/><stop offset="0.138" stop-color="#f6f114"/><stop offset="0.155" stop-color="#f7f412"/><stop offset="0.241" stop-color="#f9d528"/><stop offset="0.328" stop-color="#f7f511"/><stop offset="0.379" stop-color="#f9fa0f"/><stop offset="0.552" stop-color="#f6f313"/><stop offset="0.690" stop-color="#fec734"/><stop offset="0.724" stop-color="#edba4b"/><stop offset="0.759" stop-color="#c0bc60"/><stop offset="0.793" stop-color="#7ebf7a"/><stop offset="0.828" stop-color="#26b5a9"/><stop offset="0.845" stop-color="#09abbf"/><stop offset="0.879" stop-color="#1289d3"/><stop offset="0.914" stop-color="#0366e1"/><stop offset="0.931" stop-color="#274dca"/><stop offset="0.966" stop-color="#352f90"/><stop offset="0.983" stop-color="#36369f"/><stop offset="1.000" stop-color="#274cc9"/></linearGradient><linearGradient id="hr47" x1="0" x2="1" y1="0" y2="0"><stop offset="0.000" stop-color="#65be86"/><stop offset="0.017" stop-color="#14b1b5"/><stop offset="0.034" stop-color="#07a8c4"/><stop offset="0.051" stop-color="#14b1b5"/><stop offset="0.085" stop-color="#c5bc5e"/><stop offset="0.102" stop-color="#ffc238"/><stop offset="0.136" stop-color="#f6f114"/><stop offset="0.153" stop-color="#f7f512"/><stop offset="0.254" stop-color="#f9d529"/><stop offset="0.322" stop-color="#f6f412"/><stop offset="0.390" stop-color="#f9fa0f"/><stop offset="0.559" stop-color="#f6f213"/><stop offset="0.695" stop-color="#ffc337"/><stop offset="0.729" stop-color="#e7b94f"/><stop offset="0.763" stop-color="#b9bd63"/><stop offset="0.797" stop-color="#73bf7f"/><stop offset="0.831" stop-color="#1eb3ae"/><stop offset="0.847" stop-color="#08a9c3"/><stop offset="0.881" stop-color="#1485d4"/><stop offset="0.915" stop-color="#0364e1"/><stop offset="0.932" stop-color="#2b49c5"/><stop offset="0.966" stop-color="#352e8f"/><stop offset="0.983" stop-color="#3637a0"/><stop offset="1.000" stop-color="#274dca"/></linearGradient><linearGradient id="hr48" x1="0" x2="1" y1="0" y2="0"><stop offset="0.000" stop-color="#62be88"/><stop offset="0.017" stop-color="#13b0b6"/><stop offset="0.033" stop-color="#07a8c5"/><stop offset="0.050" stop-color="#13b0b6"/><stop offset="0.067" stop-color="#62be88"/><stop offset="0.083" stop-color="#c3bc5f"/><stop offset="0.100" stop-color="#fec239"/><stop offset="0.133" stop-color="#f6f114"/><stop offset="0.150" stop-color="#f7f611"/><stop offset="0.250" stop-color="#f9d32a"/><stop offset="0.317" stop-color="#f6f214"/><stop offset="0.383" stop-color="#f9fa0f"/><stop offset="0.567" stop-color="#f6f115"/><stop offset="0.700" stop-color="#fdc13b"/><stop offset="0.733" stop-color="#e1b952"/><stop offset="0.767" stop-color="#b1bd67"/><stop offset="0.833" stop-color="#16b1b3"/><stop offset="0.850" stop-color="#06a6c7"/><stop offset="0.883" stop-color="#1382d5"/><stop offset="0.917" stop-color="#0860df"/><stop offset="0.933" stop-color="#2e46c0"/><stop offset="0.967" stop-color="#352e8e"/><stop offset="0.983" stop-color="#3637a1"/><stop offset="1.000" stop-color="#264ecb"/></linearGradient><linearGradient id="hr49" x1="0" x2="1" y1="0" y2="0"><stop offset="0.000" stop-color="#5ebd89"/><stop offset="0.016" stop-color="#11afb7"/><stop offset="0.033" stop-color="#06a7c5"/><stop offset="0.049" stop-color="#11afb7"/><stop offset="0.066" stop-color="#5ebd89"/><stop offset="0.082" stop-color="#c1bc60"/><stop offset="0.098" stop-color="#fdc13a"/><stop offset="0.131" stop-color="#f6f114"/><stop offset="0.148" stop-color="#f7f611"/><stop offset="0.246" stop-color="#fad32a"/><stop offset="0.328" stop-color="#f7f512"/><stop offset="0.377" stop-color="#f8fa0f"/><stop offset="0.557" stop-color="#f6f213"/><stop offset="0.689" stop-color="#fec634"/><stop offset="0.721" stop-color="#eeba4b"/><stop offset="0.754" stop-color="#c3bc5f"/><stop offset="0.787" stop-color="#86bf77"/><stop offset="0.836" stop-color="#10afb8"/><stop offset="0.869" stop-color="#0e92d2"/><stop offset="0.918" stop-color="#105cdb"/><stop offset="0.934" stop-color="#3144bb"/><stop offset="0.967" stop-color="#352d8d"/><stop offset="0.984" stop-color="#3638a2"/><stop offset="1.000" stop-color="#254ecc"/></linearGradient><linearGradient id="hr50" x1="0" x2="1" y1="0" y2="0"><stop offset="0.000" stop-color="#5bbd8b"/><stop offset="0.016" stop-color="#10afb9"/><stop offset="0.032" stop-color="#06a7c6"/><stop offset="0.048" stop-color="#10afb9"/><stop offset="0.065" stop-color="#5bbd8b"/><stop offset="0.081" stop-color="#bfbd61"/><stop offset="0.097" stop-color="#fcc03c"/><stop offset="0.129" stop-color="#f6f114"/><stop offset="0.145" stop-color="#f7f611"/><stop offset="0.177" stop-color="#f6f313"/><stop offset="0.242" stop-color="#fad22b"/><stop offset="0.323" stop-color="#f6f413"/><stop offset="0.387" stop-color="#f9fa0f"/><stop offset="0.565" stop-color="#f6f115"/><stop offset="0.694" stop-color="#ffc337"/><stop offset="0.726" stop-color="#e8b94e"/><stop offset="0.758" stop-color="#bcbd62"/><stop offset="0.790" stop-color="#7cbf7b"/><stop offset="0.839" stop-color="#0badbd"/><stop offset="0.887" stop-color="#127dd8"/><stop offset="0.903" stop-color="#046de0"/><stop offset="0.919" stop-color="#1658d8"/><stop offset="0.935" stop-color="#3341b7"/><stop offset="0.968" stop-color="#352d8c"/><stop offset="0.984" stop-color="#3638a3"/><stop offset="1.000" stop-color="#254fcd"/></linearGradient><linearGradient id="hr51" x1="0" x2="1" y1="0" y2="0"><stop offset="0.000" stop-color="#58bd8c"/><stop offset="0.016" stop-color="#0faeba"/><stop offset="0.032" stop-color="#06a6c7"/><stop offset="0.048" stop-color="#0faeba"/><stop offset="0.063" stop-color="#58bd8c"/><stop offset="0.079" stop-color="#bdbd62"/><stop offset="0.095" stop-color="#fcbf3d"/><stop offset="0.127" stop-color="#f6f114"/><stop offset="0.143" stop-color="#f7f711"/><stop offset="0.254" stop-color="#fad12c"/><stop offset="0.317" stop-color="#f6f114"/><stop offset="0.381" stop-color="#f9fa0f"/><stop offset="0.556" stop-color="#f6f213"/><stop offset="0.698" stop-color="#fdc03b"/><stop offset="0.730" stop-color="#e2b951"/><stop offset="0.762" stop-color="#b5bd65"/><stop offset="0.825" stop-color="#20b4ad"/><stop offset="0.841" stop-color="#09aac1"/><stop offset="0.873" stop-color="#128ad3"/><stop offset="0.905" stop-color="#046be0"/><stop offset="0.921" stop-color="#1d55d6"/><stop offset="0.937" stop-color="#3340b3"/><stop offset="0.968" stop-color="#352c8b"/><stop offset="1.000" stop-color="#244fce"/></linearGradient><linearGradient id="hr52" x1="0" x2="1" y1="0" y2="0"><stop offset="0.000" stop-color="#55bd8e"/><stop offset="0.016" stop-color="#0daebb"/><stop offset="0.031" stop-color="#06a5c8"/><stop offset="0.047" stop-color="#0daebb"/><stop offset="0.062" stop-color="#55bd8e"/><stop offset="0.078" stop-color="#bbbd63"/><stop offset="0.094" stop-color="#fbbe3e"/><stop offset="0.125" stop-color="#f6f015"/><stop offset="0.156" stop-color="#f8f810"/><stop offset="0.250" stop-color="#fbd02c"/><stop offset="0.344" stop-color="#f8f810"/><stop offset="0.547" stop-color="#f6f313"/><stop offset="0.688" stop-color="#fec635"/><stop offset="0.719" stop-color="#eeba4a"/><stop offset="0.750" stop-color="#c6bc5e"/><stop offset="0.781" stop-color="#8ebf75"/><stop offset="0.828" stop-color="#18b2b2"/><stop offset="0.844" stop-color="#07a8c4"/><stop offset="0.875" stop-color="#1387d4"/><stop offset="0.906" stop-color="#0368e1"/><stop offset="0.922" stop-color="#2252d2"/><stop offset="0.938" stop-color="#343eaf"/><stop offset="0.969" stop-color="#352c8b"/><stop offset="1.000" stop-color="#2450cf"/></linearGradient><linearGradient id="hr53" x1="0" x2="1" y1="0" y2="0"><stop offset="0.000" stop-color="#52bc90"/><stop offset="0.016" stop-color="#0cadbc"/><stop offset="0.031" stop-color="#06a4c9"/><stop offset="0.047" stop-color="#0cadbc"/><stop offset="0.062" stop-color="#52bc90"/><stop offset="0.078" stop-color="#b8bd63"/><stop offset="0.094" stop-color="#fabe40"/><stop offset="0.125" stop-color="#f6f015"/><stop offset="0.156" stop-color="#f8f810"/><stop offset="0.250" stop-color="#fbd02c"/><stop offset="0.344" stop-color="#f7f711"/><stop offset="0.547" stop-color="#f6f412"/><stop offset="0.703" stop-color="#ffc338"/><stop offset="0.734" stop-color="#e9b94e"/><stop offset="0.766" stop-color="#bfbd61"/><stop offset="0.797" stop-color="#84bf78"/><stop offset="0.844" stop-color="#12b0b7"/><stop offset="0.859" stop-color="#06a5c8"/><stop offset="0.891" stop-color="#1484d5"/><stop offset="0.922" stop-color="#0365e1"/><stop offset="0.938" stop-color="#254ecd"/><stop offset="0.969" stop-color="#363194"/><stop offset="0.984" stop-color="#352c8b"/><stop offset="1.000" stop-color="#353aa6"/></linearGradient><linearGradient id="hr54" x1="0" x2="1" y1="0" y2="0"><stop offset="0.000" stop-color="#4fbc91"/><stop offset="0.015" stop-color="#0bacbd"/><stop offset="0.031" stop-color="#06a4c9"/><stop offset="0.046" stop-color="#0bacbd"/><stop offset="0.062" stop-color="#4fbc91"/><stop offset="0.077" stop-color="#b6bd64"/><stop offset="0.092" stop-color="#fabd41"/><stop offset="0.123" stop-color="#f6f015"/><stop offset="0.154" stop-color="#f8f810"/><stop offset="0.185" stop-color="#f6f412"/><stop offset="0.246" stop-color="#fbd02c"/><stop offset="0.277" stop-color="#fad32a"/><stop offset="0.338" stop-color="#f7f611"/><stop offset="0.431" stop-color="#f8f90f"/><stop offset="0.569" stop-color="#f6f114"/><stop offset="0.692" stop-color="#fec833"/><stop offset="0.723" stop-color="#f4ba47"/><stop offset="0.769" stop-color="#b8bd64"/><stop offset="0.800" stop-color="#79bf7c"/><stop offset="0.846" stop-color="#0dadbb"/><stop offset="0.862" stop-color="#06a2cb"/><stop offset="0.892" stop-color="#1381d6"/><stop offset="0.923" stop-color="#0363e1"/><stop offset="0.938" stop-color="#284cc8"/><stop offset="0.969" stop-color="#353092"/><stop offset="0.985" stop-color="#352c8b"/><stop offset="1.000" stop-color="#353aa7"/></linearGradient><linearGradient id="hr55" x1="0" x2="1" y1="0" y2="0"><stop offset="0.000" stop-color="#4cbc93"/><stop offset="0.015" stop-color="#0aacbe"/><stop offset="0.030" stop-color="#06a3ca"/><stop offset="0.045" stop-color="#0aacbe"/><stop offset="0.061" stop-color="#4cbc93"/><stop offset="0.076" stop-color="#b4bd65"/><stop offset="0.091" stop-color="#f9bc43"/><stop offset="0.121" stop-color="#f6ef16"/><stop offset="0.152" stop-color="#f8f90f"/><stop offset="0.182" stop-color="#f7f511"/><stop offset="0.258" stop-color="#fcce2e"/><stop offset="0.333" stop-color="#f7f512"/><stop offset="0.424" stop-color="#f8f90f"/><stop offset="0.561" stop-color="#f6f213"/><stop offset="0.697" stop-color="#fec535"/><stop offset="0.727" stop-color="#efba4a"/><stop offset="0.773" stop-color="#b1bd67"/><stop offset="0.833" stop-color="#21b4ac"/><stop offset="0.848" stop-color="#09abbf"/><stop offset="0.924" stop-color="#0a5fde"/><stop offset="0.939" stop-color="#2c49c3"/><stop offset="0.970" stop-color="#352f90"/><stop offset="0.985" stop-color="#352c8c"/><stop offset="1.000" stop-color="#353ba8"/></linearGradient><linearGradient id="hr56" x1="0" x2="1" y1="0" y2="0"><stop offset="0.000" stop-color="#49bb94"/><stop offset="0.015" stop-color="#09abbf"/><stop offset="0.030" stop-color="#06a2cb"/><stop offset="0.045" stop-color="#09abbf"/><stop offset="0.060" stop-color="#49bb94"/><stop offset="0.075" stop-color="#b2bd66"/><stop offset="0.090" stop-color="#f8bb44"/><stop offset="0.119" stop-color="#f6ee16"/><stop offset="0.149" stop-color="#f8f90f"/><stop offset="0.194" stop-color="#f6f214"/><stop offset="0.254" stop-color="#fcce2e"/><stop offset="0.358" stop-color="#f8f90f"/><stop offset="0.552" stop-color="#f6f313"/><stop offset="0.701" stop-color="#fec238"/><stop offset="0.731" stop-color="#eab94d"/><stop offset="0.761" stop-color="#c2bc60"/><stop offset="0.791" stop-color="#8abf76"/><stop offset="0.836" stop-color="#1ab2b1"/><stop offset="0.851" stop-color="#08a9c3"/><stop offset="0.896" stop-color="#117bd9"/><stop offset="0.910" stop-color="#056ee0"/><stop offset="0.925" stop-color="#105cdb"/><stop offset="0.940" stop-color="#2e46bf"/><stop offset="0.970" stop-color="#352e8f"/><stop offset="0.985" stop-color="#352d8c"/><stop offset="1.000" stop-color="#353ba9"/></linearGradient><linearGradient id="hr57" x1="0" x2="1" y1="0" y2="0"><stop offset="0.000" stop-color="#46bb96"/><stop offset="0.015" stop-color="#09abc0"/><stop offset="0.029" stop-color="#06a1cc"/><stop offset="0.044" stop-color="#09abc0"/><stop offset="0.059" stop-color="#46bb96"/><stop offset="0.074" stop-color="#afbd67"/><stop offset="0.088" stop-color="#f6bb45"/><stop offset="0.118" stop-color="#f6ee16"/><stop offset="0.147" stop-color="#f8f90f"/><stop offset="0.191" stop-color="#f6f412"/><stop offset="0.265" stop-color="#fccc2f"/><stop offset="0.338" stop-color="#f7f611"/><stop offset="0.412" stop-color="#f8f90f"/><stop offset="0.559" stop-color="#f6f214"/><stop offset="0.691" stop-color="#fec733"/><stop offset="0.721" stop-color="#f4ba47"/><stop offset="0.765" stop-color="#bbbd62"/><stop offset="0.794" stop-color="#81bf79"/><stop offset="0.838" stop-color="#14b0b5"/><stop offset="0.853" stop-color="#06a7c6"/><stop offset="0.882" stop-color="#1387d3"/><stop offset="0.912" stop-color="#046ce0"/><stop offset="0.926" stop-color="#1659d9"/><stop offset="0.941" stop-color="#3144bb"/><stop offset="0.971" stop-color="#352d8d"/><stop offset="0.985" stop-color="#352d8d"/><stop offset="1.000" stop-color="#353baa"/></linearGradient><linearGradient id="hr58" x1="0" x2="1" y1="0" y2="0"><stop offset="0.000" stop-color="#44bb97"/><stop offset="0.014" stop-color="#08aac1"/><stop offset="0.029" stop-color="#06a0cd"/><stop offset="0.043" stop-color="#08aac1"/><stop offset="0.058" stop-color="#44bb97"/><stop offset="0.072" stop-color="#adbe68"/><stop offset="0.087" stop-color="#f5bb46"/><stop offset="0.116" stop-color="#f6ed17"/><stop offset="0.159" stop-color="#f8f90f"/><stop offset="0.261" stop-color="#fdcb30"/><stop offset="0.333" stop-color="#f7f412"/><stop offset="0.420" stop-color="#f8f90f"/><stop offset="0.565" stop-color="#f6f114"/><stop offset="0.696" stop-color="#ffc536"/><stop offset="0.725" stop-color="#efba4a"/><stop offset="0.768" stop-color="#b4bd65"/><stop offset="0.797" stop-color="#77bf7e"/><stop offset="0.841" stop-color="#0faeba"/><stop offset="0.855" stop-color="#06a4c9"/><stop offset="0.884" stop-color="#1484d4"/><stop offset="0.913" stop-color="#0469e0"/><stop offset="0.928" stop-color="#1b56d6"/><stop offset="0.942" stop-color="#3242b7"/><stop offset="0.971" stop-color="#352d8c"/><stop offset="0.986" stop-color="#352d8d"/><stop offset="1.000" stop-color="#343cab"/></linearGradient><linearGradient id="hr59" x1="0" x2="1" y1="0" y2="0"><stop offset="0.000" stop-color="#41ba99"/><stop offset="0.014" stop-color="#08a9c2"/><stop offset="0.029" stop-color="#06a0cd"/><stop offset="0.043" stop-color="#08a9c2"/><stop offset="0.057" stop-color="#41ba99"/><stop offset="0.071" stop-color="#abbe69"/><stop offset="0.086" stop-color="#f3ba47"/><stop offset="0.100" stop-color="#f8d628"/><stop offset="0.114" stop-color="#f6ed17"/><stop offset="0.143" stop-color="#f8f90f"/><stop offset="0.200" stop-color="#f6f114"/><stop offset="0.257" stop-color="#fdcb30"/><stop offset="0.343" stop-color="#f7f711"/><stop offset="0.457" stop-color="#f8f810"/><stop offset="0.571" stop-color="#f6ef15"/><stop offset="0.700" stop-color="#fec239"/><stop offset="0.729" stop-color="#eab94d"/><stop offset="0.771" stop-color="#adbe68"/><stop offset="0.843" stop-color="#0aacbe"/><stop offset="0.886" stop-color="#1382d6"/><stop offset="0.914" stop-color="#0367e1"/><stop offset="0.929" stop-color="#2053d3"/><stop offset="0.943" stop-color="#3340b4"/><stop offset="0.971" stop-color="#352c8b"/><stop offset="0.986" stop-color="#352d8e"/><stop offset="1.000" stop-color="#343cab"/></linearGradient><linearGradient id="hr60" x1="0" x2="1" y1="0" y2="0"><stop offset="0.000" stop-color="#3eba9b"/><stop offset="0.014" stop-color="#07a9c3"/><stop offset="0.028" stop-color="#079fce"/><stop offset="0.042" stop-color="#07a9c3"/><stop offset="0.056" stop-color="#3eba9b"/><stop offset="0.070" stop-color="#a8be6a"/><stop offset="0.085" stop-color="#f2ba48"/><stop offset="0.099" stop-color="#f9d528"/><stop offset="0.113" stop-color="#f6ec18"/><stop offset="0.141" stop-color="#f8f90f"/><stop offset="0.197" stop-color="#f6f313"/><stop offset="0.268" stop-color="#fdca31"/><stop offset="0.338" stop-color="#f7f511"/><stop offset="0.437" stop-color="#f8f90f"/><stop offset="0.563" stop-color="#f6f114"/><stop offset="0.690" stop-color="#fec734"/><stop offset="0.718" stop-color="#f4ba47"/><stop offset="0.761" stop-color="#bebd61"/><stop offset="0.789" stop-color="#87bf77"/><stop offset="0.831" stop-color="#1bb3b0"/><stop offset="0.845" stop-color="#08aac1"/><stop offset="0.887" stop-color="#137fd7"/><stop offset="0.915" stop-color="#0365e1"/><stop offset="0.944" stop-color="#333fb0"/><stop offset="0.972" stop-color="#352b89"/><stop offset="0.986" stop-color="#352e8e"/><stop offset="1.000" stop-color="#343cab"/></linearGradient><linearGradient id="hr61" x1="0" x2="1" y1="0" y2="0"><stop offset="0.000" stop-color="#3bb99c"/><stop offset="0.014" stop-color="#07a8c4"/><stop offset="0.028" stop-color="#079ece"/><stop offset="0.042" stop-color="#07a8c4"/><stop offset="0.056" stop-color="#3bb99c"/><stop offset="0.069" stop-color="#a6be6b"/><stop offset="0.083" stop-color="#f0ba49"/><stop offset="0.097" stop-color="#f9d429"/><stop offset="0.111" stop-color="#f5eb18"/><stop offset="0.139" stop-color="#f8f90f"/><stop offset="0.194" stop-color="#f7f512"/><stop offset="0.264" stop-color="#fdc932"/><stop offset="0.333" stop-color="#f6f412"/><stop offset="0.444" stop-color="#f8f90f"/><stop offset="0.569" stop-color="#f6ef15"/><stop offset="0.694" stop-color="#ffc436"/><stop offset="0.722" stop-color="#efba4a"/><stop offset="0.764" stop-color="#b7bd64"/><stop offset="0.792" stop-color="#7ebf7a"/><stop offset="0.833" stop-color="#15b1b4"/><stop offset="0.847" stop-color="#07a8c5"/><stop offset="0.889" stop-color="#127dd8"/><stop offset="0.917" stop-color="#0562e0"/><stop offset="0.931" stop-color="#274dca"/><stop offset="0.944" stop-color="#343dad"/><stop offset="0.972" stop-color="#352b89"/><stop offset="0.986" stop-color="#352e8e"/><stop offset="1.000" stop-color="#343caa"/></linearGradient><linearGradient id="hr62" x1="0" x2="1" y1="0" y2="0"><stop offset="0.000" stop-color="#39b99e"/><stop offset="0.014" stop-color="#06a8c5"/><stop offset="0.027" stop-color="#079dcf"/><stop offset="0.041" stop-color="#06a8c5"/><stop offset="0.055" stop-color="#39b99e"/><stop offset="0.068" stop-color="#a3be6c"/><stop offset="0.082" stop-color="#eeba4b"/><stop offset="0.096" stop-color="#f9d32a"/><stop offset="0.110" stop-color="#f5eb19"/><stop offset="0.137" stop-color="#f8f90f"/><stop offset="0.192" stop-color="#f7f611"/><stop offset="0.260" stop-color="#fec833"/><stop offset="0.342" stop-color="#f7f611"/><stop offset="0.452" stop-color="#f8f810"/><stop offset="0.575" stop-color="#f6ee16"/><stop offset="0.699" stop-color="#fec239"/><stop offset="0.726" stop-color="#ebb94d"/><stop offset="0.767" stop-color="#b0bd67"/><stop offset="0.822" stop-color="#2bb6a6"/><stop offset="0.849" stop-color="#06a5c8"/><stop offset="0.877" stop-color="#1388d3"/><stop offset="0.918" stop-color="#0b5fde"/><stop offset="0.932" stop-color="#294bc7"/><stop offset="0.959" stop-color="#363297"/><stop offset="0.986" stop-color="#352d8d"/><stop offset="1.000" stop-color="#353ba8"/></linearGradient><linearGradient id="hr63" x1="0" x2="1" y1="0" y2="0"><stop offset="0.000" stop-color="#36b99f"/><stop offset="0.014" stop-color="#06a7c6"/><stop offset="0.027" stop-color="#089ccf"/><stop offset="0.041" stop-color="#06a7c6"/><stop offset="0.054" stop-color="#36b99f"/><stop offset="0.068" stop-color="#a1be6d"/><stop offset="0.081" stop-color="#edb94c"/><stop offset="0.095" stop-color="#fad32a"/><stop offset="0.108" stop-color="#f5ea19"/><stop offset="0.135" stop-color="#f8f90f"/><stop offset="0.203" stop-color="#f6f313"/><stop offset="0.270" stop-color="#fec733"/><stop offset="0.338" stop-color="#f7f512"/><stop offset="0.419" stop-color="#f8f90f"/><stop offset="0.554" stop-color="#f6f214"/><stop offset="0.689" stop-color="#fec634"/><stop offset="0.716" stop-color="#f4ba47"/><stop offset="0.757" stop-color="#c0bc60"/><stop offset="0.797" stop-color="#6abe84"/><stop offset="0.838" stop-color="#0badbd"/><stop offset="0.865" stop-color="#0b94d1"/><stop offset="0.919" stop-color="#0d5ddc"/><stop offset="0.946" stop-color="#343cac"/><stop offset="0.973" stop-color="#352b89"/><stop offset="0.986" stop-color="#352d8d"/><stop offset="1.000" stop-color="#3340b4"/></linearGradient><linearGradient id="hr64" x1="0" x2="1" y1="0" y2="0"><stop offset="0.000" stop-color="#34b8a1"/><stop offset="0.014" stop-color="#06a6c7"/><stop offset="0.027" stop-color="#089bcf"/><stop offset="0.041" stop-color="#06a6c7"/><stop offset="0.054" stop-color="#34b8a1"/><stop offset="0.068" stop-color="#9ebe6e"/><stop offset="0.081" stop-color="#ebb94d"/><stop offset="0.095" stop-color="#fad22b"/><stop offset="0.108" stop-color="#f5e91a"/><stop offset="0.135" stop-color="#f8f90f"/><stop offset="0.203" stop-color="#f6f412"/><stop offset="0.270" stop-color="#fec634"/><stop offset="0.338" stop-color="#f6f412"/><stop offset="0.446" stop-color="#f8f90f"/><stop offset="0.568" stop-color="#f6f114"/><stop offset="0.703" stop-color="#ffc337"/><stop offset="0.730" stop-color="#f0ba4a"/><stop offset="0.770" stop-color="#babd63"/><stop offset="0.797" stop-color="#84bf78"/><stop offset="0.838" stop-color="#1cb3af"/><stop offset="0.851" stop-color="#09abc0"/><stop offset="0.892" stop-color="#1483d5"/><stop offset="0.919" stop-color="#046ce0"/><stop offset="0.932" stop-color="#0f5cdc"/><stop offset="0.946" stop-color="#2a4ac5"/><stop offset="0.973" stop-color="#352a87"/><stop offset="0.986" stop-color="#352c8a"/><stop offset="1.000" stop-color="#3242b7"/></linearGradient><linearGradient id="hr65" x1="0" x2="1" y1="0" y2="0"><stop offset="0.000" stop-color="#31b8a2"/><stop offset="0.014" stop-color="#06a5c8"/><stop offset="0.027" stop-color="#089ad0"/><stop offset="0.041" stop-color="#06a5c8"/><stop offset="0.054" stop-color="#31b8a2"/><stop offset="0.068" stop-color="#9cbe6f"/><stop offset="0.081" stop-color="#e9b94e"/><stop offset="0.095" stop-color="#fbd12c"/><stop offset="0.122" stop-color="#f7f512"/><stop offset="0.176" stop-color="#f9fa0f"/><stop offset="0.216" stop-color="#f6ee16"/><stop offset="0.270" stop-color="#fec635"/><stop offset="0.338" stop-color="#f6f114"/><stop offset="0.405" stop-color="#f8fa0f"/><stop offset="0.568" stop-color="#f6f214"/><stop offset="0.716" stop-color="#fec13a"/><stop offset="0.743" stop-color="#ebb94d"/><stop offset="0.784" stop-color="#b3bd65"/><stop offset="0.811" stop-color="#7bbf7c"/><stop offset="0.851" stop-color="#16b1b4"/><stop offset="0.865" stop-color="#08a9c3"/><stop offset="0.932" stop-color="#105cdb"/><stop offset="0.946" stop-color="#333fb2"/><stop offset="0.959" stop-color="#352c8b"/><stop offset="0.986" stop-color="#352b89"/><stop offset="1.000" stop-color="#3243ba"/></linearGradient><linearGradient id="hr66" x1="0" x2="1" y1="0" y2="0"><stop offset="0.000" stop-color="#2fb7a3"/><stop offset="0.014" stop-color="#06a4c9"/><stop offset="0.027" stop-color="#0999d0"/><stop offset="0.041" stop-color="#06a4c9"/><stop offset="0.055" stop-color="#2fb7a3"/><stop offset="0.068" stop-color="#99bf70"/><stop offset="0.082" stop-color="#e7b94f"/><stop offset="0.096" stop-color="#fbd02c"/><stop offset="0.123" stop-color="#f7f512"/><stop offset="0.178" stop-color="#f9fa0f"/><stop offset="0.219" stop-color="#f6f214"/><stop offset="0.288" stop-color="#fec535"/><stop offset="0.356" stop-color="#f7f512"/><stop offset="0.425" stop-color="#f8fa0f"/><stop offset="0.589" stop-color="#f6f114"/><stop offset="0.740" stop-color="#fcbf3d"/><stop offset="0.767" stop-color="#e6b94f"/><stop offset="0.808" stop-color="#acbe68"/><stop offset="0.863" stop-color="#2cb7a5"/><stop offset="0.890" stop-color="#06a6c7"/><stop offset="0.918" stop-color="#127ed8"/><stop offset="0.932" stop-color="#046be0"/><stop offset="0.945" stop-color="#264ecb"/><stop offset="0.959" stop-color="#36349b"/><stop offset="0.973" stop-color="#352a87"/><stop offset="1.000" stop-color="#352b89"/></linearGradient><linearGradient id="hr67" x1="0" x2="1" y1="0" y2="0"><stop offset="0.000" stop-color="#2cb7a5"/><stop offset="0.014" stop-color="#06a4c9"/><stop offset="0.027" stop-color="#0998d1"/><stop offset="0.041" stop-color="#06a4c9"/><stop offset="0.055" stop-color="#2cb7a5"/><stop offset="0.068" stop-color="#97bf71"/><stop offset="0.082" stop-color="#e6b950"/><stop offset="0.096" stop-color="#fbcf2d"/><stop offset="0.123" stop-color="#f7f512"/><stop offset="0.192" stop-color="#f8f90f"/><stop offset="0.219" stop-color="#f6f412"/><stop offset="0.288" stop-color="#ffc436"/><stop offset="0.356" stop-color="#f6f413"/><stop offset="0.411" stop-color="#f8fa0f"/><stop offset="0.589" stop-color="#f6f214"/><stop offset="0.740" stop-color="#ffc337"/><stop offset="0.781" stop-color="#e1b952"/><stop offset="0.822" stop-color="#a6be6b"/><stop offset="0.849" stop-color="#67be85"/><stop offset="0.877" stop-color="#11afb8"/><stop offset="0.890" stop-color="#06a1cc"/><stop offset="0.904" stop-color="#118bd3"/><stop offset="0.932" stop-color="#0462e0"/><stop offset="0.945" stop-color="#3341b5"/><stop offset="0.959" stop-color="#352a87"/><stop offset="1.000" stop-color="#352c8a"/></linearGradient><linearGradient id="hr68" x1="0" x2="1" y1="0" y2="0"><stop offset="0.000" stop-color="#2ab6a6"/><stop offset="0.014" stop-color="#06a3ca"/><stop offset="0.027" stop-color="#0a97d1"/><stop offset="0.041" stop-color="#06a3ca"/><stop offset="0.055" stop-color="#2ab6a6"/><stop offset="0.068" stop-color="#95bf72"/><stop offset="0.082" stop-color="#e4b951"/><stop offset="0.096" stop-color="#fcce2e"/><stop offset="0.123" stop-color="#f7f512"/><stop offset="0.192" stop-color="#f9fa0f"/><stop offset="0.219" stop-color="#f7f512"/><stop offset="0.288" stop-color="#ffc337"/><stop offset="0.356" stop-color="#f6f114"/><stop offset="0.425" stop-color="#f8fa0f"/><stop offset="0.603" stop-color="#f6f114"/><stop offset="0.753" stop-color="#fdc13a"/><stop offset="0.808" stop-color="#cbbc5c"/><stop offset="0.836" stop-color="#8bbf76"/><stop offset="0.877" stop-color="#0aacbe"/><stop offset="0.904" stop-color="#1485d4"/><stop offset="0.918" stop-color="#0971de"/><stop offset="0.932" stop-color="#1a56d7"/><stop offset="0.945" stop-color="#3638a2"/><stop offset="0.959" stop-color="#352a87"/><stop offset="1.000" stop-color="#352c8c"/></linearGradient><linearGradient id="hr69" x1="0" x2="1" y1="0" y2="0"><stop offset="0.000" stop-color="#27b5a8"/><stop offset="0.014" stop-color="#06a2cb"/><stop offset="0.027" stop-color="#0a96d1"/><stop offset="0.041" stop-color="#06a2cb"/><stop offset="0.055" stop-color="#27b5a8"/><stop offset="0.068" stop-color="#92bf73"/><stop offset="0.082" stop-color="#e2b952"/><stop offset="0.096" stop-color="#fcce2e"/><stop offset="0.123" stop-color="#f7f512"/><stop offset="0.192" stop-color="#f9fa0f"/><stop offset="0.233" stop-color="#f6f114"/><stop offset="0.288" stop-color="#ffc437"/><stop offset="0.315" stop-color="#fdc932"/><stop offset="0.370" stop-color="#f7f512"/><stop offset="0.438" stop-color="#f8fa0f"/><stop offset="0.603" stop-color="#f6f214"/><stop offset="0.767" stop-color="#fcbf3d"/><stop offset="0.795" stop-color="#dcba54"/><stop offset="0.822" stop-color="#a6be6a"/><stop offset="0.863" stop-color="#23b4aa"/><stop offset="0.877" stop-color="#08a9c2"/><stop offset="0.904" stop-color="#1380d6"/><stop offset="0.918" stop-color="#046ce0"/><stop offset="0.932" stop-color="#284cc8"/><stop offset="0.945" stop-color="#352f91"/><stop offset="0.959" stop-color="#352a87"/><stop offset="1.000" stop-color="#352e8e"/></linearGradient><linearGradient id="hr70" x1="0" x2="1" y1="0" y2="0"><stop offset="0.000" stop-color="#25b5a9"/><stop offset="0.014" stop-color="#06a1cc"/><stop offset="0.028" stop-color="#0b95d1"/><stop offset="0.042" stop-color="#06a1cc"/><stop offset="0.056" stop-color="#25b5a9"/><stop offset="0.069" stop-color="#8fbf74"/><stop offset="0.083" stop-color="#e0ba52"/><stop offset="0.097" stop-color="#fccd2f"/><stop offset="0.125" stop-color="#f6f412"/><stop offset="0.139" stop-color="#f8f810"/><stop offset="0.236" stop-color="#f6f313"/><stop offset="0.306" stop-color="#fec239"/><stop offset="0.375" stop-color="#f6f313"/><stop offset="0.444" stop-color="#f8fa0f"/><stop offset="0.625" stop-color="#f6f114"/><stop offset="0.764" stop-color="#ffc436"/><stop offset="0.792" stop-color="#eab94e"/><stop offset="0.819" stop-color="#bcbd62"/><stop offset="0.847" stop-color="#75bf7e"/><stop offset="0.875" stop-color="#1ab2b0"/><stop offset="0.889" stop-color="#06a6c7"/><stop offset="0.917" stop-color="#117cd9"/><stop offset="0.931" stop-color="#0366e1"/><stop offset="0.944" stop-color="#3242b9"/><stop offset="0.958" stop-color="#352a87"/><stop offset="1.000" stop-color="#352a87"/></linearGradient><linearGradient id="hr71" x1="0" x2="1" y1="0" y2="0"><stop offset="0.000" stop-color="#23b4ab"/><stop offset="0.014" stop-color="#06a0cd"/><stop offset="0.028" stop-color="#0c94d1"/><stop offset="0.042" stop-color="#06a0cd"/><stop offset="0.056" stop-color="#23b4ab"/><stop offset="0.069" stop-color="#8cbf75"/><stop offset="0.083" stop-color="#deba53"/><stop offset="0.097" stop-color="#fdcc30"/><stop offset="0.125" stop-color="#f6f412"/><stop offset="0.139" stop-color="#f8f810"/><stop offset="0.236" stop-color="#f7f512"/><stop offset="0.306" stop-color="#fdc13a"/><stop offset="0.389" stop-color="#f7f611"/><stop offset="0.472" stop-color="#f8f90f"/><stop offset="0.639" stop-color="#f6f015"/><stop offset="0.764" stop-color="#fdc13a"/><stop offset="0.792" stop-color="#e2b951"/><stop offset="0.819" stop-color="#b3bd66"/><stop offset="0.847" stop-color="#68be84"/><stop offset="0.875" stop-color="#13b0b6"/><stop offset="0.889" stop-color="#06a3ca"/><stop offset="0.903" stop-color="#118dd2"/><stop offset="0.931" stop-color="#0a5fde"/><stop offset="0.944" stop-color="#343cab"/><stop offset="0.958" stop-color="#352a87"/><stop offset="1.000" stop-color="#352a87"/></linearGradient><linearGradient id="hr72" x1="0" x2="1" y1="0" y2="0"><stop offset="0.000" stop-color="#21b4ac"/><stop offset="0.014" stop-color="#069fcd"/><stop offset="0.028" stop-color="#0d93d2"/><stop offset="0.042" stop-color="#069fcd"/><stop offset="0.056" stop-color="#21b4ac"/><stop offset="0.069" stop-color="#89bf76"/><stop offset="0.083" stop-color="#dcba54"/><stop offset="0.097" stop-color="#fdcb31"/><stop offset="0.125" stop-color="#f6f413"/><stop offset="0.208" stop-color="#f9fa0f"/><stop offset="0.250" stop-color="#f6f015"/><stop offset="0.292" stop-color="#fdc932"/><stop offset="0.319" stop-color="#fdc13b"/><stop offset="0.389" stop-color="#f7f512"/><stop offset="0.444" stop-color="#f8fa0f"/><stop offset="0.639" stop-color="#f6f114"/><stop offset="0.750" stop-color="#fec535"/><stop offset="0.778" stop-color="#edba4b"/><stop offset="0.806" stop-color="#c4bc5f"/><stop offset="0.833" stop-color="#87bf77"/><stop offset="0.875" stop-color="#0cadbc"/><stop offset="0.917" stop-color="#0b73dd"/><stop offset="0.931" stop-color="#1858d8"/><stop offset="0.944" stop-color="#36379f"/><stop offset="0.958" stop-color="#352a87"/><stop offset="1.000" stop-color="#352a87"/></linearGradient><linearGradient id="hr73" x1="0" x2="1" y1="0" y2="0"><stop offset="0.000" stop-color="#1fb3ad"/><stop offset="0.014" stop-color="#079ece"/><stop offset="0.028" stop-color="#0d92d2"/><stop offset="0.042" stop-color="#079ece"/><stop offset="0.056" stop-color="#1fb3ad"/><stop offset="0.069" stop-color="#86bf77"/><stop offset="0.083" stop-color="#daba55"/><stop offset="0.097" stop-color="#fdca31"/><stop offset="0.125" stop-color="#f6f413"/><stop offset="0.153" stop-color="#f9fa0f"/><stop offset="0.250" stop-color="#f6f313"/><stop offset="0.319" stop-color="#fcc03c"/><stop offset="0.389" stop-color="#f6f313"/><stop offset="0.472" stop-color="#f8f90f"/><stop offset="0.625" stop-color="#f6f313"/><stop offset="0.750" stop-color="#fec239"/><stop offset="0.778" stop-color="#e6b950"/><stop offset="0.806" stop-color="#babd63"/><stop offset="0.833" stop-color="#78bf7d"/><stop offset="0.861" stop-color="#21b4ac"/><stop offset="0.875" stop-color="#08a9c2"/><stop offset="0.903" stop-color="#1382d6"/><stop offset="0.917" stop-color="#056ee0"/><stop offset="0.931" stop-color="#264ecc"/><stop offset="0.944" stop-color="#353092"/><stop offset="1.000" stop-color="#352a87"/></linearGradient><linearGradient id="hr74" x1="0" x2="1" y1="0" y2="0"><stop offset="0.000" stop-color="#1db3af"/><stop offset="0.014" stop-color="#079dce"/><stop offset="0.028" stop-color="#0e90d2"/><stop offset="0.042" stop-color="#079dce"/><stop offset="0.056" stop-color="#1db3af"/><stop offset="0.070" stop-color="#84bf78"/><stop offset="0.085" stop-color="#d9ba56"/><stop offset="0.099" stop-color="#fdc932"/><stop offset="0.127" stop-color="#f6f313"/><stop offset="0.141" stop-color="#f8f810"/><stop offset="0.254" stop-color="#f7f512"/><stop offset="0.324" stop-color="#fcbf3d"/><stop offset="0.408" stop-color="#f7f611"/><stop offset="0.465" stop-color="#f8fa0f"/><stop offset="0.634" stop-color="#f6f214"/><stop offset="0.746" stop-color="#ffc536"/><stop offset="0.775" stop-color="#edba4b"/><stop offset="0.803" stop-color="#c5bc5e"/><stop offset="0.831" stop-color="#8cbf75"/><stop offset="0.873" stop-color="#13b0b5"/><stop offset="0.887" stop-color="#06a4c9"/><stop offset="0.915" stop-color="#117bd9"/><stop offset="0.930" stop-color="#0366e1"/><stop offset="0.944" stop-color="#3243ba"/><stop offset="0.958" stop-color="#352a87"/><stop offset="1.000" stop-color="#352a87"/></linearGradient><linearGradient id="hr75" x1="0" x2="1" y1="0" y2="0"><stop offset="0.000" stop-color="#1ab2b1"/><stop offset="0.014" stop-color="#079ccf"/><stop offset="0.028" stop-color="#0f8fd2"/><stop offset="0.042" stop-color="#079dcf"/><stop offset="0.056" stop-color="#1cb3af"/><stop offset="0.070" stop-color="#84bf78"/><stop offset="0.085" stop-color="#d9ba56"/><stop offset="0.099" stop-color="#fdc932"/><stop offset="0.127" stop-color="#f6f313"/><stop offset="0.155" stop-color="#f9fa0f"/><stop offset="0.254" stop-color="#f7f611"/><stop offset="0.310" stop-color="#fec734"/><stop offset="0.338" stop-color="#fcbf3d"/><stop offset="0.408" stop-color="#f7f512"/><stop offset="0.493" stop-color="#f8f90f"/><stop offset="0.620" stop-color="#f6f313"/><stop offset="0.746" stop-color="#fcc03c"/><stop offset="0.803" stop-color="#b8bd64"/><stop offset="0.831" stop-color="#79bf7c"/><stop offset="0.873" stop-color="#0aacbf"/><stop offset="0.930" stop-color="#0f5cdc"/><stop offset="0.944" stop-color="#343caa"/><stop offset="0.958" stop-color="#352a87"/><stop offset="1.000" stop-color="#352a87"/></linearGradient><linearGradient id="hr76" x1="0" x2="1" y1="0" y2="0"><stop offset="0.000" stop-color="#17b2b2"/><stop offset="0.014" stop-color="#089bcf"/><stop offset="0.029" stop-color="#0f8fd2"/><stop offset="0.043" stop-color="#079dcf"/><stop offset="0.057" stop-color="#1db3af"/><stop offset="0.071" stop-color="#85bf78"/><stop offset="0.086" stop-color="#d9ba56"/><stop offset="0.100" stop-color="#fdc932"/><stop offset="0.129" stop-color="#f6f313"/><stop offset="0.229" stop-color="#f9fa0f"/><stop offset="0.271" stop-color="#f6f214"/><stop offset="0.343" stop-color="#fbbe3f"/><stop offset="0.414" stop-color="#f6f313"/><stop offset="0.486" stop-color="#f8fa0f"/><stop offset="0.629" stop-color="#f6f015"/><stop offset="0.743" stop-color="#ffc337"/><stop offset="0.771" stop-color="#eab94d"/><stop offset="0.814" stop-color="#aabe69"/><stop offset="0.871" stop-color="#17b1b3"/><stop offset="0.886" stop-color="#06a7c6"/><stop offset="0.914" stop-color="#1381d6"/><stop offset="0.929" stop-color="#056edf"/><stop offset="0.943" stop-color="#2152d2"/><stop offset="0.957" stop-color="#36359c"/><stop offset="0.971" stop-color="#352a87"/><stop offset="1.000" stop-color="#352a87"/></linearGradient><linearGradient id="hr77" x1="0" x2="1" y1="0" y2="0"><stop offset="0.000" stop-color="#16b1b3"/><stop offset="0.014" stop-color="#089bd0"/><stop offset="0.029" stop-color="#0f8fd2"/><stop offset="0.043" stop-color="#079dce"/><stop offset="0.057" stop-color="#1eb3ae"/><stop offset="0.071" stop-color="#87bf77"/><stop offset="0.086" stop-color="#dbba55"/><stop offset="0.100" stop-color="#fdca31"/><stop offset="0.129" stop-color="#f6f413"/><stop offset="0.229" stop-color="#f9fa0e"/><stop offset="0.271" stop-color="#f6f412"/><stop offset="0.329" stop-color="#ffc337"/><stop offset="0.357" stop-color="#fcc03c"/><stop offset="0.414" stop-color="#f6f015"/><stop offset="0.486" stop-color="#f8f90f"/><stop offset="0.614" stop-color="#f6f114"/><stop offset="0.743" stop-color="#fbbf3e"/><stop offset="0.800" stop-color="#b6bd64"/><stop offset="0.829" stop-color="#78bf7d"/><stop offset="0.871" stop-color="#0cadbc"/><stop offset="0.914" stop-color="#107ad9"/><stop offset="0.929" stop-color="#0367e1"/><stop offset="0.943" stop-color="#2c48c2"/><stop offset="0.957" stop-color="#353092"/><stop offset="1.000" stop-color="#352a87"/></linearGradient></defs>
<g clip-path="url(#fanclip)"><g filter="url(#fblur)"><rect x="520.6" y="234.7" width="28" height="3.1" fill="url(#hr0)"/><rect x="521.4" y="237.2" width="30" height="3.1" fill="url(#hr1)"/><rect x="522.2" y="239.7" width="32" height="3.1" fill="url(#hr2)"/><rect x="523" y="242.2" width="34" height="3.1" fill="url(#hr3)"/><rect x="523.8" y="244.7" width="36" height="3.1" fill="url(#hr4)"/><rect x="524.6" y="247.2" width="38" height="3.1" fill="url(#hr5)"/><rect x="525.4" y="249.7" width="40" height="3.1" fill="url(#hr6)"/><rect x="526.2" y="252.2" width="42" height="3.1" fill="url(#hr7)"/><rect x="527" y="254.7" width="44" height="3.1" fill="url(#hr8)"/><rect x="527.8" y="257.2" width="46" height="3.1" fill="url(#hr9)"/><rect x="528.6" y="259.7" width="48" height="3.1" fill="url(#hr10)"/><rect x="529.4" y="262.2" width="50" height="3.1" fill="url(#hr11)"/><rect x="530.2" y="264.7" width="52" height="3.1" fill="url(#hr12)"/><rect x="531.1" y="267.2" width="54" height="3.1" fill="url(#hr13)"/><rect x="531.9" y="269.7" width="56" height="3.1" fill="url(#hr14)"/><rect x="532.7" y="272.2" width="56" height="3.1" fill="url(#hr15)"/><rect x="533.5" y="274.7" width="58" height="3.1" fill="url(#hr16)"/><rect x="534.3" y="277.2" width="60" height="3.1" fill="url(#hr17)"/><rect x="535.1" y="279.7" width="62" height="3.1" fill="url(#hr18)"/><rect x="535.9" y="282.2" width="64" height="3.1" fill="url(#hr19)"/><rect x="536.7" y="284.7" width="66" height="3.1" fill="url(#hr20)"/><rect x="537.5" y="287.2" width="68" height="3.1" fill="url(#hr21)"/><rect x="538.3" y="289.7" width="70" height="3.1" fill="url(#hr22)"/><rect x="539.1" y="292.2" width="72" height="3.1" fill="url(#hr23)"/><rect x="539.9" y="294.7" width="74" height="3.1" fill="url(#hr24)"/><rect x="540.7" y="297.2" width="76" height="3.1" fill="url(#hr25)"/><rect x="541.5" y="299.7" width="78" height="3.1" fill="url(#hr26)"/><rect x="542.3" y="302.2" width="80" height="3.1" fill="url(#hr27)"/><rect x="543.2" y="304.7" width="82" height="3.1" fill="url(#hr28)"/><rect x="544" y="307.2" width="84" height="3.1" fill="url(#hr29)"/><rect x="544.8" y="309.7" width="86" height="3.1" fill="url(#hr30)"/><rect x="545.6" y="312.2" width="88" height="3.1" fill="url(#hr31)"/><rect x="546.4" y="314.7" width="90" height="3.1" fill="url(#hr32)"/><rect x="547.2" y="317.2" width="92" height="3.1" fill="url(#hr33)"/><rect x="548" y="319.7" width="92" height="3.1" fill="url(#hr34)"/><rect x="548.8" y="322.2" width="94" height="3.1" fill="url(#hr35)"/><rect x="549.6" y="324.7" width="96" height="3.1" fill="url(#hr36)"/><rect x="550.4" y="327.2" width="98" height="3.1" fill="url(#hr37)"/><rect x="551.2" y="329.7" width="100" height="3.1" fill="url(#hr38)"/><rect x="552" y="332.2" width="102" height="3.1" fill="url(#hr39)"/><rect x="552.8" y="334.7" width="104" height="3.1" fill="url(#hr40)"/><rect x="553.6" y="337.2" width="106" height="3.1" fill="url(#hr41)"/><rect x="554.4" y="339.7" width="108" height="3.1" fill="url(#hr42)"/><rect x="555.3" y="342.2" width="110" height="3.1" fill="url(#hr43)"/><rect x="556.1" y="344.7" width="112" height="3.1" fill="url(#hr44)"/><rect x="556.9" y="347.2" width="114" height="3.1" fill="url(#hr45)"/><rect x="557.7" y="349.7" width="116" height="3.1" fill="url(#hr46)"/><rect x="558.5" y="352.2" width="118" height="3.1" fill="url(#hr47)"/><rect x="559.3" y="354.7" width="120" height="3.1" fill="url(#hr48)"/><rect x="560.1" y="357.2" width="122" height="3.1" fill="url(#hr49)"/><rect x="560.9" y="359.7" width="124" height="3.1" fill="url(#hr50)"/><rect x="561.7" y="362.2" width="126" height="3.1" fill="url(#hr51)"/><rect x="562.5" y="364.7" width="128" height="3.1" fill="url(#hr52)"/><rect x="563.3" y="367.2" width="128" height="3.1" fill="url(#hr53)"/><rect x="564.1" y="369.7" width="130" height="3.1" fill="url(#hr54)"/><rect x="564.9" y="372.2" width="132" height="3.1" fill="url(#hr55)"/><rect x="565.7" y="374.7" width="134" height="3.1" fill="url(#hr56)"/><rect x="566.5" y="377.2" width="136" height="3.1" fill="url(#hr57)"/><rect x="567.4" y="379.7" width="138" height="3.1" fill="url(#hr58)"/><rect x="568.2" y="382.2" width="140" height="3.1" fill="url(#hr59)"/><rect x="569" y="384.7" width="142" height="3.1" fill="url(#hr60)"/><rect x="569.8" y="387.2" width="144" height="3.1" fill="url(#hr61)"/><rect x="570.6" y="389.7" width="146" height="3.1" fill="url(#hr62)"/><rect x="571.4" y="392.2" width="148" height="3.1" fill="url(#hr63)"/><rect x="572.2" y="394.7" width="148" height="3.1" fill="url(#hr64)"/><rect x="573" y="397.2" width="148" height="3.1" fill="url(#hr65)"/><rect x="573.8" y="399.7" width="146" height="3.1" fill="url(#hr66)"/><rect x="574.6" y="402.2" width="146" height="3.1" fill="url(#hr67)"/><rect x="575.4" y="404.7" width="146" height="3.1" fill="url(#hr68)"/><rect x="576.2" y="407.2" width="146" height="3.1" fill="url(#hr69)"/><rect x="577" y="409.7" width="144" height="3.1" fill="url(#hr70)"/><rect x="577.8" y="412.2" width="144" height="3.1" fill="url(#hr71)"/><rect x="578.6" y="414.7" width="144" height="3.1" fill="url(#hr72)"/><rect x="579.5" y="417.2" width="144" height="3.1" fill="url(#hr73)"/><rect x="580.3" y="419.7" width="142" height="3.1" fill="url(#hr74)"/><rect x="581.1" y="422.2" width="142" height="3.1" fill="url(#hr75)"/><rect x="581.9" y="424.7" width="140" height="3.1" fill="url(#hr76)"/><rect x="582.7" y="427.2" width="140" height="3.1" fill="url(#hr77)"/></g>
<path d="M512,240L516.8,249.5l-1.6,-1.2M516.8,249.5l0.2,-2M525.2,240L530,249.5l-1.6,-1.2M530,249.5l0.2,-2M538.4,240L543.2,249.5l-1.6,-1.2M543.2,249.5l0.2,-2M551.6,240L556.4,249.5l-1.6,-1.2M556.4,249.5l0.2,-2M564.8,240L569.6,249.5l-1.6,-1.2M569.6,249.5l0.2,-2M578,240L582.8,249.5l-1.6,-1.2M582.8,249.5l0.2,-2M591.2,240L596,249.5l-1.6,-1.2M596,249.5l0.2,-2M604.4,240L609.2,249.5l-1.6,-1.2M609.2,249.5l0.2,-2M617.6,240L622.4,249.5l-1.6,-1.2M622.4,249.5l0.2,-2M630.8,240L635.6,249.5l-1.6,-1.2M635.6,249.5l0.2,-2M644,240L648.8,249.5l-1.6,-1.2M648.8,249.5l0.2,-2M657.2,240L662,249.5l-1.6,-1.2M662,249.5l0.2,-2M670.4,240L675.2,249.5l-1.6,-1.2M675.2,249.5l0.2,-2M683.6,240L688.4,249.5l-1.6,-1.2M688.4,249.5l0.2,-2M696.8,240L701.6,249.5l-1.6,-1.2M701.6,249.5l0.2,-2M710,240L714.8,249.5l-1.6,-1.2M714.8,249.5l0.2,-2M512,252.3L516.8,261.8l-1.6,-1.2M516.8,261.8l0.2,-2M525.2,252.3L530,261.8l-1.6,-1.2M530,261.8l0.2,-2M538.4,252.3L543.2,261.8l-1.6,-1.2M543.2,261.8l0.2,-2M551.6,252.3L556.4,261.8l-1.6,-1.2M556.4,261.8l0.2,-2M564.8,252.3L569.6,261.8l-1.6,-1.2M569.6,261.8l0.2,-2M578,252.3L582.8,261.8l-1.6,-1.2M582.8,261.8l0.2,-2M591.2,252.3L596,261.8l-1.6,-1.2M596,261.8l0.2,-2M604.4,252.3L609.2,261.8l-1.6,-1.2M609.2,261.8l0.2,-2M617.6,252.3L622.4,261.8l-1.6,-1.2M622.4,261.8l0.2,-2M630.8,252.3L635.6,261.8l-1.6,-1.2M635.6,261.8l0.2,-2M644,252.3L648.8,261.8l-1.6,-1.2M648.8,261.8l0.2,-2M657.2,252.3L662,261.8l-1.6,-1.2M662,261.8l0.2,-2M670.4,252.3L675.2,261.8l-1.6,-1.2M675.2,261.8l0.2,-2M683.6,252.3L688.4,261.8l-1.6,-1.2M688.4,261.8l0.2,-2M696.8,252.3L701.6,261.8l-1.6,-1.2M701.6,261.8l0.2,-2M710,252.3L714.8,261.8l-1.6,-1.2M714.8,261.8l0.2,-2M512,264.6L516.8,274.1l-1.6,-1.2M516.8,274.1l0.2,-2M525.2,264.6L530,274.1l-1.6,-1.2M530,274.1l0.2,-2M538.4,264.6L543.2,274.1l-1.6,-1.2M543.2,274.1l0.2,-2M551.6,264.6L556.4,274.1l-1.6,-1.2M556.4,274.1l0.2,-2M564.8,264.6L569.6,274.1l-1.6,-1.2M569.6,274.1l0.2,-2M578,264.6L582.8,274.1l-1.6,-1.2M582.8,274.1l0.2,-2M591.2,264.6L596,274.1l-1.6,-1.2M596,274.1l0.2,-2M604.4,264.6L609.2,274.1l-1.6,-1.2M609.2,274.1l0.2,-2M617.6,264.6L622.4,274.1l-1.6,-1.2M622.4,274.1l0.2,-2M630.8,264.6L635.6,274.1l-1.6,-1.2M635.6,274.1l0.2,-2M644,264.6L648.8,274.1l-1.6,-1.2M648.8,274.1l0.2,-2M657.2,264.6L662,274.1l-1.6,-1.2M662,274.1l0.2,-2M670.4,264.6L675.2,274.1l-1.6,-1.2M675.2,274.1l0.2,-2M683.6,264.6L688.4,274.1l-1.6,-1.2M688.4,274.1l0.2,-2M696.8,264.6L701.6,274.1l-1.6,-1.2M701.6,274.1l0.2,-2M710,264.6L714.8,274.1l-1.6,-1.2M714.8,274.1l0.2,-2M512,276.9L516.8,286.4l-1.6,-1.2M516.8,286.4l0.2,-2M525.2,276.9L530,286.4l-1.6,-1.2M530,286.4l0.2,-2M538.4,276.9L543.2,286.4l-1.6,-1.2M543.2,286.4l0.2,-2M551.6,276.9L556.4,286.4l-1.6,-1.2M556.4,286.4l0.2,-2M564.8,276.9L569.6,286.4l-1.6,-1.2M569.6,286.4l0.2,-2M578,276.9L582.8,286.4l-1.6,-1.2M582.8,286.4l0.2,-2M591.2,276.9L596,286.4l-1.6,-1.2M596,286.4l0.2,-2M604.4,276.9L609.2,286.4l-1.6,-1.2M609.2,286.4l0.2,-2M617.6,276.9L622.4,286.4l-1.6,-1.2M622.4,286.4l0.2,-2M630.8,276.9L635.6,286.4l-1.6,-1.2M635.6,286.4l0.2,-2M644,276.9L648.8,286.4l-1.6,-1.2M648.8,286.4l0.2,-2M657.2,276.9L662,286.4l-1.6,-1.2M662,286.4l0.2,-2M670.4,276.9L675.2,286.4l-1.6,-1.2M675.2,286.4l0.2,-2M683.6,276.9L688.4,286.4l-1.6,-1.2M688.4,286.4l0.2,-2M696.8,276.9L701.6,286.4l-1.6,-1.2M701.6,286.4l0.2,-2M710,276.9L714.8,286.4l-1.6,-1.2M714.8,286.4l0.2,-2M512,289.2L516.8,298.7l-1.6,-1.2M516.8,298.7l0.2,-2M525.2,289.2L530,298.7l-1.6,-1.2M530,298.7l0.2,-2M538.4,289.2L543.2,298.7l-1.6,-1.2M543.2,298.7l0.2,-2M551.6,289.2L556.4,298.7l-1.6,-1.2M556.4,298.7l0.2,-2M564.8,289.2L569.6,298.7l-1.6,-1.2M569.6,298.7l0.2,-2M578,289.2L582.8,298.7l-1.6,-1.2M582.8,298.7l0.2,-2M591.2,289.2L596,298.7l-1.6,-1.2M596,298.7l0.2,-2M604.4,289.2L609.2,298.7l-1.6,-1.2M609.2,298.7l0.2,-2M617.6,289.2L622.4,298.7l-1.6,-1.2M622.4,298.7l0.2,-2M630.8,289.2L635.6,298.7l-1.6,-1.2M635.6,298.7l0.2,-2M644,289.2L648.8,298.7l-1.6,-1.2M648.8,298.7l0.2,-2M657.2,289.2L662,298.7l-1.6,-1.2M662,298.7l0.2,-2M670.4,289.2L675.2,298.7l-1.6,-1.2M675.2,298.7l0.2,-2M683.6,289.2L688.4,298.7l-1.6,-1.2M688.4,298.7l0.2,-2M696.8,289.2L701.6,298.7l-1.6,-1.2M701.6,298.7l0.2,-2M710,289.2L714.8,298.7l-1.6,-1.2M714.8,298.7l0.2,-2M512,301.5L516.8,311l-1.6,-1.2M516.8,311l0.2,-2M525.2,301.5L530,311l-1.6,-1.2M530,311l0.2,-2M538.4,301.5L543.2,311l-1.6,-1.2M543.2,311l0.2,-2M551.6,301.5L556.4,311l-1.6,-1.2M556.4,311l0.2,-2M564.8,301.5L569.6,311l-1.6,-1.2M569.6,311l0.2,-2M578,301.5L582.8,311l-1.6,-1.2M582.8,311l0.2,-2M591.2,301.5L596,311l-1.6,-1.2M596,311l0.2,-2M604.4,301.5L609.2,311l-1.6,-1.2M609.2,311l0.2,-2M617.6,301.5L622.4,311l-1.6,-1.2M622.4,311l0.2,-2M630.8,301.5L635.6,311l-1.6,-1.2M635.6,311l0.2,-2M644,301.5L648.8,311l-1.6,-1.2M648.8,311l0.2,-2M657.2,301.5L662,311l-1.6,-1.2M662,311l0.2,-2M670.4,301.5L675.2,311l-1.6,-1.2M675.2,311l0.2,-2M683.6,301.5L688.4,311l-1.6,-1.2M688.4,311l0.2,-2M696.8,301.5L701.6,311l-1.6,-1.2M701.6,311l0.2,-2M710,301.5L714.8,311l-1.6,-1.2M714.8,311l0.2,-2M512,313.8L516.8,323.3l-1.6,-1.2M516.8,323.3l0.2,-2M525.2,313.8L530,323.3l-1.6,-1.2M530,323.3l0.2,-2M538.4,313.8L543.2,323.3l-1.6,-1.2M543.2,323.3l0.2,-2M551.6,313.8L556.4,323.3l-1.6,-1.2M556.4,323.3l0.2,-2M564.8,313.8L569.6,323.3l-1.6,-1.2M569.6,323.3l0.2,-2M578,313.8L582.8,323.3l-1.6,-1.2M582.8,323.3l0.2,-2M591.2,313.8L596,323.3l-1.6,-1.2M596,323.3l0.2,-2M604.4,313.8L609.2,323.3l-1.6,-1.2M609.2,323.3l0.2,-2M617.6,313.8L622.4,323.3l-1.6,-1.2M622.4,323.3l0.2,-2M630.8,313.8L635.6,323.3l-1.6,-1.2M635.6,323.3l0.2,-2M644,313.8L648.8,323.3l-1.6,-1.2M648.8,323.3l0.2,-2M657.2,313.8L662,323.3l-1.6,-1.2M662,323.3l0.2,-2M670.4,313.8L675.2,323.3l-1.6,-1.2M675.2,323.3l0.2,-2M683.6,313.8L688.4,323.3l-1.6,-1.2M688.4,323.3l0.2,-2M696.8,313.8L701.6,323.3l-1.6,-1.2M701.6,323.3l0.2,-2M710,313.8L714.8,323.3l-1.6,-1.2M714.8,323.3l0.2,-2M512,326.1L516.8,335.6l-1.6,-1.2M516.8,335.6l0.2,-2M525.2,326.1L530,335.6l-1.6,-1.2M530,335.6l0.2,-2M538.4,326.1L543.2,335.6l-1.6,-1.2M543.2,335.6l0.2,-2M551.6,326.1L556.4,335.6l-1.6,-1.2M556.4,335.6l0.2,-2M564.8,326.1L569.6,335.6l-1.6,-1.2M569.6,335.6l0.2,-2M578,326.1L582.8,335.6l-1.6,-1.2M582.8,335.6l0.2,-2M591.2,326.1L596,335.6l-1.6,-1.2M596,335.6l0.2,-2M604.4,326.1L609.2,335.6l-1.6,-1.2M609.2,335.6l0.2,-2M617.6,326.1L622.4,335.6l-1.6,-1.2M622.4,335.6l0.2,-2M630.8,326.1L635.6,335.6l-1.6,-1.2M635.6,335.6l0.2,-2M644,326.1L648.8,335.6l-1.6,-1.2M648.8,335.6l0.2,-2M657.2,326.1L662,335.6l-1.6,-1.2M662,335.6l0.2,-2M670.4,326.1L675.2,335.6l-1.6,-1.2M675.2,335.6l0.2,-2M683.6,326.1L688.4,335.6l-1.6,-1.2M688.4,335.6l0.2,-2M696.8,326.1L701.6,335.6l-1.6,-1.2M701.6,335.6l0.2,-2M710,326.1L714.8,335.6l-1.6,-1.2M714.8,335.6l0.2,-2M512,338.4L516.8,347.9l-1.6,-1.2M516.8,347.9l0.2,-2M525.2,338.4L530,347.9l-1.6,-1.2M530,347.9l0.2,-2M538.4,338.4L543.2,347.9l-1.6,-1.2M543.2,347.9l0.2,-2M551.6,338.4L556.4,347.9l-1.6,-1.2M556.4,347.9l0.2,-2M564.8,338.4L569.6,347.9l-1.6,-1.2M569.6,347.9l0.2,-2M578,338.4L582.8,347.9l-1.6,-1.2M582.8,347.9l0.2,-2M591.2,338.4L596,347.9l-1.6,-1.2M596,347.9l0.2,-2M604.4,338.4L609.2,347.9l-1.6,-1.2M609.2,347.9l0.2,-2M617.6,338.4L622.4,347.9l-1.6,-1.2M622.4,347.9l0.2,-2M630.8,338.4L635.6,347.9l-1.6,-1.2M635.6,347.9l0.2,-2M644,338.4L648.8,347.9l-1.6,-1.2M648.8,347.9l0.2,-2M657.2,338.4L662,347.9l-1.6,-1.2M662,347.9l0.2,-2M670.4,338.4L675.2,347.9l-1.6,-1.2M675.2,347.9l0.2,-2M683.6,338.4L688.4,347.9l-1.6,-1.2M688.4,347.9l0.2,-2M696.8,338.4L701.6,347.9l-1.6,-1.2M701.6,347.9l0.2,-2M710,338.4L714.8,347.9l-1.6,-1.2M714.8,347.9l0.2,-2M512,350.7L516.8,360.2l-1.6,-1.2M516.8,360.2l0.2,-2M525.2,350.7L530,360.2l-1.6,-1.2M530,360.2l0.2,-2M538.4,350.7L543.2,360.2l-1.6,-1.2M543.2,360.2l0.2,-2M551.6,350.7L556.4,360.2l-1.6,-1.2M556.4,360.2l0.2,-2M564.8,350.7L569.6,360.2l-1.6,-1.2M569.6,360.2l0.2,-2M578,350.7L582.8,360.2l-1.6,-1.2M582.8,360.2l0.2,-2M591.2,350.7L596,360.2l-1.6,-1.2M596,360.2l0.2,-2M604.4,350.7L609.2,360.2l-1.6,-1.2M609.2,360.2l0.2,-2M617.6,350.7L622.4,360.2l-1.6,-1.2M622.4,360.2l0.2,-2M630.8,350.7L635.6,360.2l-1.6,-1.2M635.6,360.2l0.2,-2M644,350.7L648.8,360.2l-1.6,-1.2M648.8,360.2l0.2,-2M657.2,350.7L662,360.2l-1.6,-1.2M662,360.2l0.2,-2M670.4,350.7L675.2,360.2l-1.6,-1.2M675.2,360.2l0.2,-2M683.6,350.7L688.4,360.2l-1.6,-1.2M688.4,360.2l0.2,-2M696.8,350.7L701.6,360.2l-1.6,-1.2M701.6,360.2l0.2,-2M710,350.7L714.8,360.2l-1.6,-1.2M714.8,360.2l0.2,-2M512,363L516.8,372.5l-1.6,-1.2M516.8,372.5l0.2,-2M525.2,363L530,372.5l-1.6,-1.2M530,372.5l0.2,-2M538.4,363L543.2,372.5l-1.6,-1.2M543.2,372.5l0.2,-2M551.6,363L556.4,372.5l-1.6,-1.2M556.4,372.5l0.2,-2M564.8,363L569.6,372.5l-1.6,-1.2M569.6,372.5l0.2,-2M578,363L582.8,372.5l-1.6,-1.2M582.8,372.5l0.2,-2M591.2,363L596,372.5l-1.6,-1.2M596,372.5l0.2,-2M604.4,363L609.2,372.5l-1.6,-1.2M609.2,372.5l0.2,-2M617.6,363L622.4,372.5l-1.6,-1.2M622.4,372.5l0.2,-2M630.8,363L635.6,372.5l-1.6,-1.2M635.6,372.5l0.2,-2M644,363L648.8,372.5l-1.6,-1.2M648.8,372.5l0.2,-2M657.2,363L662,372.5l-1.6,-1.2M662,372.5l0.2,-2M670.4,363L675.2,372.5l-1.6,-1.2M675.2,372.5l0.2,-2M683.6,363L688.4,372.5l-1.6,-1.2M688.4,372.5l0.2,-2M696.8,363L701.6,372.5l-1.6,-1.2M701.6,372.5l0.2,-2M710,363L714.8,372.5l-1.6,-1.2M714.8,372.5l0.2,-2M512,375.3L516.8,384.8l-1.6,-1.2M516.8,384.8l0.2,-2M525.2,375.3L530,384.8l-1.6,-1.2M530,384.8l0.2,-2M538.4,375.3L543.2,384.8l-1.6,-1.2M543.2,384.8l0.2,-2M551.6,375.3L556.4,384.8l-1.6,-1.2M556.4,384.8l0.2,-2M564.8,375.3L569.6,384.8l-1.6,-1.2M569.6,384.8l0.2,-2M578,375.3L582.8,384.8l-1.6,-1.2M582.8,384.8l0.2,-2M591.2,375.3L596,384.8l-1.6,-1.2M596,384.8l0.2,-2M604.4,375.3L609.2,384.8l-1.6,-1.2M609.2,384.8l0.2,-2M617.6,375.3L622.4,384.8l-1.6,-1.2M622.4,384.8l0.2,-2M630.8,375.3L635.6,384.8l-1.6,-1.2M635.6,384.8l0.2,-2M644,375.3L648.8,384.8l-1.6,-1.2M648.8,384.8l0.2,-2M657.2,375.3L662,384.8l-1.6,-1.2M662,384.8l0.2,-2M670.4,375.3L675.2,384.8l-1.6,-1.2M675.2,384.8l0.2,-2M683.6,375.3L688.4,384.8l-1.6,-1.2M688.4,384.8l0.2,-2M696.8,375.3L701.6,384.8l-1.6,-1.2M701.6,384.8l0.2,-2M710,375.3L714.8,384.8l-1.6,-1.2M714.8,384.8l0.2,-2M512,387.6L516.8,397.1l-1.6,-1.2M516.8,397.1l0.2,-2M525.2,387.6L530,397.1l-1.6,-1.2M530,397.1l0.2,-2M538.4,387.6L543.2,397.1l-1.6,-1.2M543.2,397.1l0.2,-2M551.6,387.6L556.4,397.1l-1.6,-1.2M556.4,397.1l0.2,-2M564.8,387.6L569.6,397.1l-1.6,-1.2M569.6,397.1l0.2,-2M578,387.6L582.8,397.1l-1.6,-1.2M582.8,397.1l0.2,-2M591.2,387.6L596,397.1l-1.6,-1.2M596,397.1l0.2,-2M604.4,387.6L609.2,397.1l-1.6,-1.2M609.2,397.1l0.2,-2M617.6,387.6L622.4,397.1l-1.6,-1.2M622.4,397.1l0.2,-2M630.8,387.6L635.6,397.1l-1.6,-1.2M635.6,397.1l0.2,-2M644,387.6L648.8,397.1l-1.6,-1.2M648.8,397.1l0.2,-2M657.2,387.6L662,397.1l-1.6,-1.2M662,397.1l0.2,-2M670.4,387.6L675.2,397.1l-1.6,-1.2M675.2,397.1l0.2,-2M683.6,387.6L688.4,397.1l-1.6,-1.2M688.4,397.1l0.2,-2M696.8,387.6L701.6,397.1l-1.6,-1.2M701.6,397.1l0.2,-2M710,387.6L714.8,397.1l-1.6,-1.2M714.8,397.1l0.2,-2M512,399.9L516.8,409.4l-1.6,-1.2M516.8,409.4l0.2,-2M525.2,399.9L530,409.4l-1.6,-1.2M530,409.4l0.2,-2M538.4,399.9L543.2,409.4l-1.6,-1.2M543.2,409.4l0.2,-2M551.6,399.9L556.4,409.4l-1.6,-1.2M556.4,409.4l0.2,-2M564.8,399.9L569.6,409.4l-1.6,-1.2M569.6,409.4l0.2,-2M578,399.9L582.8,409.4l-1.6,-1.2M582.8,409.4l0.2,-2M591.2,399.9L596,409.4l-1.6,-1.2M596,409.4l0.2,-2M604.4,399.9L609.2,409.4l-1.6,-1.2M609.2,409.4l0.2,-2M617.6,399.9L622.4,409.4l-1.6,-1.2M622.4,409.4l0.2,-2M630.8,399.9L635.6,409.4l-1.6,-1.2M635.6,409.4l0.2,-2M644,399.9L648.8,409.4l-1.6,-1.2M648.8,409.4l0.2,-2M657.2,399.9L662,409.4l-1.6,-1.2M662,409.4l0.2,-2M670.4,399.9L675.2,409.4l-1.6,-1.2M675.2,409.4l0.2,-2M683.6,399.9L688.4,409.4l-1.6,-1.2M688.4,409.4l0.2,-2M696.8,399.9L701.6,409.4l-1.6,-1.2M701.6,409.4l0.2,-2M710,399.9L714.8,409.4l-1.6,-1.2M714.8,409.4l0.2,-2M512,412.2L516.8,421.7l-1.6,-1.2M516.8,421.7l0.2,-2M525.2,412.2L530,421.7l-1.6,-1.2M530,421.7l0.2,-2M538.4,412.2L543.2,421.7l-1.6,-1.2M543.2,421.7l0.2,-2M551.6,412.2L556.4,421.7l-1.6,-1.2M556.4,421.7l0.2,-2M564.8,412.2L569.6,421.7l-1.6,-1.2M569.6,421.7l0.2,-2M578,412.2L582.8,421.7l-1.6,-1.2M582.8,421.7l0.2,-2M591.2,412.2L596,421.7l-1.6,-1.2M596,421.7l0.2,-2M604.4,412.2L609.2,421.7l-1.6,-1.2M609.2,421.7l0.2,-2M617.6,412.2L622.4,421.7l-1.6,-1.2M622.4,421.7l0.2,-2M630.8,412.2L635.6,421.7l-1.6,-1.2M635.6,421.7l0.2,-2M644,412.2L648.8,421.7l-1.6,-1.2M648.8,421.7l0.2,-2M657.2,412.2L662,421.7l-1.6,-1.2M662,421.7l0.2,-2M670.4,412.2L675.2,421.7l-1.6,-1.2M675.2,421.7l0.2,-2M683.6,412.2L688.4,421.7l-1.6,-1.2M688.4,421.7l0.2,-2M696.8,412.2L701.6,421.7l-1.6,-1.2M701.6,421.7l0.2,-2M710,412.2L714.8,421.7l-1.6,-1.2M714.8,421.7l0.2,-2M512,424.5L516.8,434l-1.6,-1.2M516.8,434l0.2,-2M525.2,424.5L530,434l-1.6,-1.2M530,434l0.2,-2M538.4,424.5L543.2,434l-1.6,-1.2M543.2,434l0.2,-2M551.6,424.5L556.4,434l-1.6,-1.2M556.4,434l0.2,-2M564.8,424.5L569.6,434l-1.6,-1.2M569.6,434l0.2,-2M578,424.5L582.8,434l-1.6,-1.2M582.8,434l0.2,-2M591.2,424.5L596,434l-1.6,-1.2M596,434l0.2,-2M604.4,424.5L609.2,434l-1.6,-1.2M609.2,434l0.2,-2M617.6,424.5L622.4,434l-1.6,-1.2M622.4,434l0.2,-2M630.8,424.5L635.6,434l-1.6,-1.2M635.6,434l0.2,-2M644,424.5L648.8,434l-1.6,-1.2M648.8,434l0.2,-2M657.2,424.5L662,434l-1.6,-1.2M662,434l0.2,-2M670.4,424.5L675.2,434l-1.6,-1.2M675.2,434l0.2,-2M683.6,424.5L688.4,434l-1.6,-1.2M688.4,434l0.2,-2M696.8,424.5L701.6,434l-1.6,-1.2M701.6,434l0.2,-2M710,424.5L714.8,434l-1.6,-1.2M714.8,434l0.2,-2" stroke="#1a1a1a" stroke-width="0.6" fill="none" opacity="0.6"/>
</g>
<path d="M536,305.5 L593.5,272" stroke="#d95319" stroke-width="1.6" stroke-dasharray="6.5,5"/>
<path d="M547.5,350.5 L628,300.5" stroke="#edb120" stroke-width="1.6" stroke-dasharray="6.5,5"/>
<path d="M562,395.5 L671,331" stroke="#77ac30" stroke-width="1.6" stroke-dasharray="6.5,5"/>
<text x="596.5" y="272.5" font-size="10.5" fill="#d95319" stroke="#d95319" stroke-width="0.25">z = 0.6 mm</text>
<text x="627.5" y="297.5" font-size="10.5" fill="#edb120" stroke="#edb120" stroke-width="0.25">z = 1.0 mm</text>
<text x="665.5" y="328.5" font-size="10.5" fill="#77ac30" stroke="#77ac30" stroke-width="0.25">z = 1.4 mm</text>
<path d="M557,291.7 L629,414" stroke="#f00" stroke-width="1.6"/><path d="M632,419.5 l-5.5,-4 l4.5,-2.6 z" fill="#f00" stroke="#f00" stroke-width="0.8"/>
<circle cx="542.7" cy="265.9" r="2" fill="#f00"/>
<circle cx="552.7" cy="281.4" r="2" fill="#f00"/>
<circle cx="557" cy="291.4" r="2" fill="#f00"/>
<circle cx="560.7" cy="300" r="2" fill="#f00"/>
<circle cx="576" cy="331" r="2" fill="#f00"/>
<circle cx="595.3" cy="357.7" r="2" fill="#f00"/>
<circle cx="601.7" cy="368.3" r="2" fill="#f00"/>
<circle cx="610.2" cy="381" r="2" fill="#f00"/>
<circle cx="614.5" cy="393" r="2" fill="#f00"/>
<path d="M568.6,285.4 L660.5,411" stroke="#1414c8" stroke-width="1.6"/><path d="M663.4,415 l-5.5,-3.8 l4.3,-2.8 z" fill="#1414c8" stroke="#1414c8" stroke-width="0.8"/>
<path d="M580.7,276.5 L688,393.7" stroke="#e619e6" stroke-width="1.6"/><path d="M691,397.2 l-5.6,-3.4 l4,-3.2 z" fill="#e619e6" stroke="#e619e6" stroke-width="0.8"/>
<text x="636" y="428.5" font-size="14.5" fill="#f00" stroke="#f00" stroke-width="0.3">A</text>
<text x="665" y="424" font-size="14.5" fill="#1414c8" stroke="#1414c8" stroke-width="0.3">B</text>
<text x="692" y="409" font-size="14.5" fill="#e619e6" stroke="#e619e6" stroke-width="0.3">C</text>
<text x="603" y="420.5" font-size="9" fill="#f00">Axial</text>
<path d="M512.8,230.5 L512.8,432.5 L723.5,432.5" fill="none" stroke="#222" stroke-width="0.9"/>
<path d="M512.8,234.5 h2.5" stroke="#222" stroke-width="0.8"/>
<text x="508.5" y="238.1" font-size="10.3" fill="#222" stroke="#222" stroke-width="0.15" text-anchor="end">0</text>
<path d="M512.8,258.9 h2.5" stroke="#222" stroke-width="0.8"/>
<text x="508.5" y="262.5" font-size="10.3" fill="#222" stroke="#222" stroke-width="0.15" text-anchor="end">-0.2</text>
<path d="M512.8,283.3 h2.5" stroke="#222" stroke-width="0.8"/>
<text x="508.5" y="286.9" font-size="10.3" fill="#222" stroke="#222" stroke-width="0.15" text-anchor="end">-0.4</text>
<path d="M512.8,307.7 h2.5" stroke="#222" stroke-width="0.8"/>
<text x="508.5" y="311.3" font-size="10.3" fill="#222" stroke="#222" stroke-width="0.15" text-anchor="end">-0.6</text>
<path d="M512.8,332.1 h2.5" stroke="#222" stroke-width="0.8"/>
<text x="508.5" y="335.7" font-size="10.3" fill="#222" stroke="#222" stroke-width="0.15" text-anchor="end">-0.8</text>
<path d="M512.8,356.5 h2.5" stroke="#222" stroke-width="0.8"/>
<text x="508.5" y="360.1" font-size="10.3" fill="#222" stroke="#222" stroke-width="0.15" text-anchor="end">-1</text>
<path d="M512.8,380.9 h2.5" stroke="#222" stroke-width="0.8"/>
<text x="508.5" y="384.5" font-size="10.3" fill="#222" stroke="#222" stroke-width="0.15" text-anchor="end">-1.2</text>
<path d="M512.8,405.3 h2.5" stroke="#222" stroke-width="0.8"/>
<text x="508.5" y="408.9" font-size="10.3" fill="#222" stroke="#222" stroke-width="0.15" text-anchor="end">-1.4</text>
<path d="M512.8,429.7 h2.5" stroke="#222" stroke-width="0.8"/>
<text x="508.5" y="433.3" font-size="10.3" fill="#222" stroke="#222" stroke-width="0.15" text-anchor="end">-1.6</text>
<path d="M532.1,432.5 v-2.5" stroke="#222" stroke-width="0.8"/>
<text x="532.1" y="447" font-size="10.3" fill="#222" stroke="#222" stroke-width="0.15" text-anchor="middle">0</text>
<path d="M557.8,432.5 v-2.5" stroke="#222" stroke-width="0.8"/>
<text x="557.8" y="447" font-size="10.3" fill="#222" stroke="#222" stroke-width="0.15" text-anchor="middle">0.2</text>
<path d="M583.5,432.5 v-2.5" stroke="#222" stroke-width="0.8"/>
<text x="583.5" y="447" font-size="10.3" fill="#222" stroke="#222" stroke-width="0.15" text-anchor="middle">0.4</text>
<path d="M609.2,432.5 v-2.5" stroke="#222" stroke-width="0.8"/>
<text x="609.2" y="447" font-size="10.3" fill="#222" stroke="#222" stroke-width="0.15" text-anchor="middle">0.6</text>
<path d="M634.9,432.5 v-2.5" stroke="#222" stroke-width="0.8"/>
<text x="634.9" y="447" font-size="10.3" fill="#222" stroke="#222" stroke-width="0.15" text-anchor="middle">0.8</text>
<path d="M660.6,432.5 v-2.5" stroke="#222" stroke-width="0.8"/>
<text x="660.6" y="447" font-size="10.3" fill="#222" stroke="#222" stroke-width="0.15" text-anchor="middle">1</text>
<path d="M686.3,432.5 v-2.5" stroke="#222" stroke-width="0.8"/>
<text x="686.3" y="447" font-size="10.3" fill="#222" stroke="#222" stroke-width="0.15" text-anchor="middle">1.2</text>
<path d="M712,432.5 v-2.5" stroke="#222" stroke-width="0.8"/>
<text x="712" y="447" font-size="10.3" fill="#222" stroke="#222" stroke-width="0.15" text-anchor="middle">1.4</text>
<text x="618.5" y="461" font-size="10.5" fill="#222" text-anchor="middle">x (mm)</text>
<text x="0" y="0" font-size="10.5" fill="#222" text-anchor="middle" transform="translate(488,331) rotate(-90)">y (mm)</text>
<circle cx="522.3" cy="234.5" r="1.5" fill="#111"/><path d="M524,234 L544,230.5" stroke="#333" stroke-width="0.8" stroke-dasharray="1.5,1"/>
<text x="545.6" y="235.6" font-size="9.3" fill="#111" stroke="#111" stroke-width="0.1" textLength="27.4" lengthAdjust="spacingAndGlyphs">Orifice</text>
<defs><linearGradient id="parcb" x1="0" x2="0" y1="1" y2="0"><stop offset="0.0" stop-color="#352a87"/><stop offset="0.03125" stop-color="#3637a0"/><stop offset="0.0625" stop-color="#3243ba"/><stop offset="0.09375" stop-color="#2053d4"/><stop offset="0.125" stop-color="#0363e1"/><stop offset="0.15625" stop-color="#046de0"/><stop offset="0.1875" stop-color="#0d75dc"/><stop offset="0.21875" stop-color="#127dd8"/><stop offset="0.25" stop-color="#1485d4"/><stop offset="0.28125" stop-color="#108ed2"/><stop offset="0.3125" stop-color="#0998d1"/><stop offset="0.34375" stop-color="#06a0cd"/><stop offset="0.375" stop-color="#06a7c6"/><stop offset="0.40625" stop-color="#0aacbe"/><stop offset="0.4375" stop-color="#15b1b4"/><stop offset="0.46875" stop-color="#25b5a9"/><stop offset="0.5" stop-color="#38b99e"/><stop offset="0.53125" stop-color="#4dbc92"/><stop offset="0.5625" stop-color="#65be86"/><stop offset="0.59375" stop-color="#7cbf7b"/><stop offset="0.625" stop-color="#92bf73"/><stop offset="0.65625" stop-color="#a5be6b"/><stop offset="0.6875" stop-color="#b7bd64"/><stop offset="0.71875" stop-color="#c8bc5d"/><stop offset="0.75" stop-color="#d9ba56"/><stop offset="0.78125" stop-color="#e9b94e"/><stop offset="0.8125" stop-color="#f8bb44"/><stop offset="0.84375" stop-color="#ffc337"/><stop offset="0.875" stop-color="#fcce2e"/><stop offset="0.90625" stop-color="#f7d826"/><stop offset="0.9375" stop-color="#f5e41d"/><stop offset="0.96875" stop-color="#f6f313"/><stop offset="1.0" stop-color="#f9fb0e"/></linearGradient></defs>
<rect x="727.3" y="230.4" width="8.3" height="201.6" fill="url(#parcb)"/>
<path d="M735.6,249.2 h-1.8" stroke="#222" stroke-width="0.7"/>
<text x="738.5" y="252.8" font-size="10.3" fill="#222" stroke="#222" stroke-width="0.15">230</text>
<path d="M735.6,272.5 h-1.8" stroke="#222" stroke-width="0.7"/>
<text x="738.5" y="276.1" font-size="10.3" fill="#222" stroke="#222" stroke-width="0.15">220</text>
<path d="M735.6,295.7 h-1.8" stroke="#222" stroke-width="0.7"/>
<text x="738.5" y="299.3" font-size="10.3" fill="#222" stroke="#222" stroke-width="0.15">210</text>
<path d="M735.6,319 h-1.8" stroke="#222" stroke-width="0.7"/>
<text x="738.5" y="322.6" font-size="10.3" fill="#222" stroke="#222" stroke-width="0.15">200</text>
<path d="M735.6,342.2 h-1.8" stroke="#222" stroke-width="0.7"/>
<text x="738.5" y="345.8" font-size="10.3" fill="#222" stroke="#222" stroke-width="0.15">190</text>
<path d="M735.6,365.5 h-1.8" stroke="#222" stroke-width="0.7"/>
<text x="738.5" y="369.1" font-size="10.3" fill="#222" stroke="#222" stroke-width="0.15">180</text>
<path d="M735.6,388.8 h-1.8" stroke="#222" stroke-width="0.7"/>
<text x="738.5" y="392.4" font-size="10.3" fill="#222" stroke="#222" stroke-width="0.15">170</text>
<path d="M735.6,412 h-1.8" stroke="#222" stroke-width="0.7"/>
<text x="738.5" y="415.6" font-size="10.3" fill="#222" stroke="#222" stroke-width="0.15">160</text>
<text x="700.5" y="225" font-size="10" fill="#222" textLength="62" lengthAdjust="spacingAndGlyphs">Velocity (m/s)</text>
</svg></body></html>
